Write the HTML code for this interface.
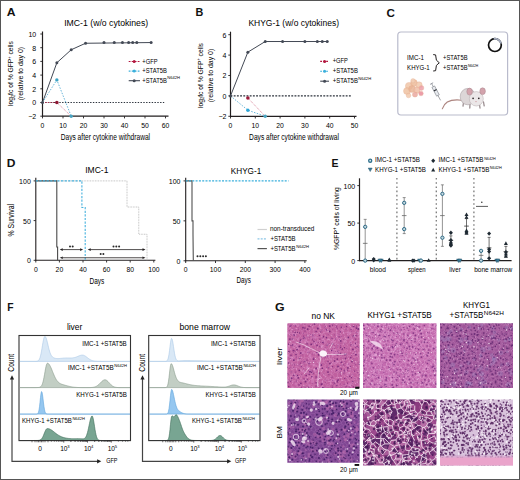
<!DOCTYPE html>
<html><head><meta charset="utf-8"><style>
html,body{margin:0;padding:0;background:#fff;}
svg{display:block;}
text{font-family:"Liberation Sans", sans-serif;}
</style></head><body>
<svg width="520" height="480" viewBox="0 0 520 480">
<rect x="0" y="0" width="520" height="480" fill="#fff"/>
<text x="6.80" y="16.30" font-size="11.5" font-weight="bold" textLength="8.80" lengthAdjust="spacingAndGlyphs" fill="#111" >A</text>
<text x="195.60" y="16.20" font-size="11.5" font-weight="bold" textLength="7.80" lengthAdjust="spacingAndGlyphs" fill="#111" >B</text>
<text x="386.60" y="16.50" font-size="11.5" font-weight="bold" textLength="8.40" lengthAdjust="spacingAndGlyphs" fill="#111" >C</text>
<text x="6.80" y="166.60" font-size="11.5" font-weight="bold" textLength="8.70" lengthAdjust="spacingAndGlyphs" fill="#111" >D</text>
<text x="331.60" y="166.70" font-size="11.5" font-weight="bold" textLength="7.00" lengthAdjust="spacingAndGlyphs" fill="#111" >E</text>
<text x="7.20" y="310.90" font-size="11.5" font-weight="bold" textLength="6.30" lengthAdjust="spacingAndGlyphs" fill="#111" >F</text>
<text x="275.00" y="311.00" font-size="11.5" font-weight="bold" textLength="9.60" lengthAdjust="spacingAndGlyphs" fill="#111" >G</text>
<text x="64.20" y="26.20" font-size="9.2" textLength="84.00" lengthAdjust="spacingAndGlyphs" >IMC-1 (w/o cytokines)</text>
<line x1="42.50" y1="31.50" x2="42.50" y2="116.70" stroke="#231f20" stroke-width="1.2" />
<line x1="42.00" y1="116.20" x2="168.50" y2="116.20" stroke="#231f20" stroke-width="1.2" />
<line x1="40.30" y1="116.20" x2="42.50" y2="116.20" stroke="#231f20" stroke-width="0.9" />
<text x="36.20" y="119.10" font-size="7.0" text-anchor="end" >&#8722;2</text>
<line x1="40.30" y1="102.50" x2="42.50" y2="102.50" stroke="#231f20" stroke-width="0.9" />
<text x="36.20" y="105.40" font-size="7.0" text-anchor="end" >0</text>
<line x1="40.30" y1="88.80" x2="42.50" y2="88.80" stroke="#231f20" stroke-width="0.9" />
<text x="36.20" y="91.70" font-size="7.0" text-anchor="end" >2</text>
<line x1="40.30" y1="75.10" x2="42.50" y2="75.10" stroke="#231f20" stroke-width="0.9" />
<text x="36.20" y="78.00" font-size="7.0" text-anchor="end" >4</text>
<line x1="40.30" y1="61.40" x2="42.50" y2="61.40" stroke="#231f20" stroke-width="0.9" />
<text x="36.20" y="64.30" font-size="7.0" text-anchor="end" >6</text>
<line x1="40.30" y1="47.70" x2="42.50" y2="47.70" stroke="#231f20" stroke-width="0.9" />
<text x="36.20" y="50.60" font-size="7.0" text-anchor="end" >8</text>
<line x1="40.30" y1="34.00" x2="42.50" y2="34.00" stroke="#231f20" stroke-width="0.9" />
<text x="36.20" y="36.90" font-size="7.0" text-anchor="end" >10</text>
<line x1="42.50" y1="116.20" x2="42.50" y2="118.40" stroke="#231f20" stroke-width="0.9" />
<text x="42.50" y="127.60" font-size="6.8" text-anchor="middle" >0</text>
<line x1="63.00" y1="116.20" x2="63.00" y2="118.40" stroke="#231f20" stroke-width="0.9" />
<text x="63.00" y="127.60" font-size="6.8" text-anchor="middle" >10</text>
<line x1="83.50" y1="116.20" x2="83.50" y2="118.40" stroke="#231f20" stroke-width="0.9" />
<text x="83.50" y="127.60" font-size="6.8" text-anchor="middle" >20</text>
<line x1="104.00" y1="116.20" x2="104.00" y2="118.40" stroke="#231f20" stroke-width="0.9" />
<text x="104.00" y="127.60" font-size="6.8" text-anchor="middle" >30</text>
<line x1="124.50" y1="116.20" x2="124.50" y2="118.40" stroke="#231f20" stroke-width="0.9" />
<text x="124.50" y="127.60" font-size="6.8" text-anchor="middle" >40</text>
<line x1="145.00" y1="116.20" x2="145.00" y2="118.40" stroke="#231f20" stroke-width="0.9" />
<text x="145.00" y="127.60" font-size="6.8" text-anchor="middle" >50</text>
<line x1="165.50" y1="116.20" x2="165.50" y2="118.40" stroke="#231f20" stroke-width="0.9" />
<text x="165.50" y="127.60" font-size="6.8" text-anchor="middle" >60</text>
<text x="60.70" y="139.60" font-size="8.4" textLength="89.40" lengthAdjust="spacingAndGlyphs" >Days after cytokine withdrawal</text>
<text x="13.30" y="73.60" font-size="7.8" text-anchor="middle" textLength="65.00" lengthAdjust="spacingAndGlyphs" transform="rotate(-90 13.30 73.60)" >log<tspan font-size="4.5" dy="1.5">2</tspan><tspan dy="-1.5">fc of % GFP</tspan><tspan font-size="4.5" dy="-2.5">+</tspan><tspan dy="2.5"> cells</tspan></text>
<text x="23.50" y="73.60" font-size="7.8" text-anchor="middle" textLength="53.50" lengthAdjust="spacingAndGlyphs" transform="rotate(-90 23.50 73.60)" >(relative to day 0)</text>
<line x1="42.50" y1="102.50" x2="164.20" y2="102.50" stroke="#2d333d" stroke-width="1.1" stroke-dasharray="1.4 1.4"/>
<polyline points="42.50,102.50 56.85,62.77 71.20,49.76 85.55,43.25 151.15,42.56" fill="none" stroke="#434955" stroke-width="1.0" />
<polyline points="42.50,102.50 56.85,79.90 71.20,116.20" fill="none" stroke="#6ab6da" stroke-width="1.0" stroke-dasharray="1.5 1.4"/>
<polyline points="42.50,102.50 56.85,102.50" fill="none" stroke="#b0304f" stroke-width="1.1" stroke-dasharray="1.3 1.3"/>
<line x1="56.85" y1="102.50" x2="71.20" y2="116.20" stroke="#d06a84" stroke-width="0.8" stroke-dasharray="1 1"/>
<circle cx="56.85" cy="62.77" r="1.5" fill="#434955" stroke="none" stroke-width="0"/>
<circle cx="71.20" cy="49.76" r="1.5" fill="#434955" stroke="none" stroke-width="0"/>
<circle cx="85.55" cy="43.25" r="1.5" fill="#434955" stroke="none" stroke-width="0"/>
<circle cx="104.00" cy="42.56" r="1.5" fill="#434955" stroke="none" stroke-width="0"/>
<circle cx="114.25" cy="42.56" r="1.5" fill="#434955" stroke="none" stroke-width="0"/>
<circle cx="122.45" cy="42.56" r="1.5" fill="#434955" stroke="none" stroke-width="0"/>
<circle cx="128.60" cy="42.56" r="1.5" fill="#434955" stroke="none" stroke-width="0"/>
<circle cx="132.70" cy="42.56" r="1.5" fill="#434955" stroke="none" stroke-width="0"/>
<circle cx="136.80" cy="42.56" r="1.5" fill="#434955" stroke="none" stroke-width="0"/>
<circle cx="151.15" cy="42.56" r="1.5" fill="#434955" stroke="none" stroke-width="0"/>
<circle cx="42.50" cy="102.50" r="1.5" fill="#434955" stroke="none" stroke-width="0"/>
<circle cx="56.85" cy="79.90" r="1.7" fill="#3ba3c4" stroke="none" stroke-width="0"/>
<circle cx="71.20" cy="116.20" r="1.7" fill="#4aa3c0" stroke="none" stroke-width="0"/>
<circle cx="56.85" cy="102.50" r="1.8" fill="#8e1733" stroke="none" stroke-width="0"/>
<line x1="128.70" y1="61.50" x2="140.00" y2="61.50" stroke="#b3173f" stroke-width="1.1" stroke-dasharray="1.8 1.2"/>
<circle cx="134.20" cy="61.50" r="1.5" fill="#b3173f" stroke="none" stroke-width="0"/>
<text x="142.30" y="63.50" font-size="6.8" textLength="15.20" lengthAdjust="spacingAndGlyphs" >+GFP</text>
<line x1="128.70" y1="71.10" x2="140.00" y2="71.10" stroke="#3bb0dc" stroke-width="1.1" stroke-dasharray="1.8 1.2"/>
<circle cx="134.20" cy="71.10" r="1.5" fill="#3bb0dc" stroke="none" stroke-width="0"/>
<text x="142.30" y="73.10" font-size="6.8" textLength="24.60" lengthAdjust="spacingAndGlyphs" >+STAT5B</text>
<line x1="128.70" y1="80.70" x2="140.00" y2="80.70" stroke="#434955" stroke-width="1.1" />
<circle cx="134.20" cy="80.70" r="1.5" fill="#434955" stroke="none" stroke-width="0"/>
<text x="142.30" y="82.70" font-size="6.8" textLength="24.60" lengthAdjust="spacingAndGlyphs" >+STAT5B</text>
<text x="167.20" y="79.30" font-size="3.6" textLength="12.80" lengthAdjust="spacingAndGlyphs" >N642H</text>
<text x="248.40" y="26.00" font-size="9.2" textLength="90.60" lengthAdjust="spacingAndGlyphs" >KHYG-1 (w/o cytokines)</text>
<line x1="230.50" y1="31.70" x2="230.50" y2="116.80" stroke="#231f20" stroke-width="1.2" />
<line x1="230.00" y1="116.30" x2="356.50" y2="116.30" stroke="#231f20" stroke-width="1.2" />
<line x1="228.30" y1="116.30" x2="230.50" y2="116.30" stroke="#231f20" stroke-width="0.9" />
<text x="226.50" y="119.20" font-size="7.0" text-anchor="end" >&#8722;2</text>
<line x1="228.30" y1="95.90" x2="230.50" y2="95.90" stroke="#231f20" stroke-width="0.9" />
<text x="226.50" y="98.80" font-size="7.0" text-anchor="end" >0</text>
<line x1="228.30" y1="75.50" x2="230.50" y2="75.50" stroke="#231f20" stroke-width="0.9" />
<text x="226.50" y="78.40" font-size="7.0" text-anchor="end" >2</text>
<line x1="228.30" y1="55.10" x2="230.50" y2="55.10" stroke="#231f20" stroke-width="0.9" />
<text x="226.50" y="58.00" font-size="7.0" text-anchor="end" >4</text>
<line x1="228.30" y1="34.70" x2="230.50" y2="34.70" stroke="#231f20" stroke-width="0.9" />
<text x="226.50" y="37.60" font-size="7.0" text-anchor="end" >6</text>
<line x1="230.50" y1="116.30" x2="230.50" y2="118.50" stroke="#231f20" stroke-width="0.9" />
<text x="230.50" y="127.60" font-size="6.8" text-anchor="middle" >0</text>
<line x1="255.30" y1="116.30" x2="255.30" y2="118.50" stroke="#231f20" stroke-width="0.9" />
<text x="255.30" y="127.60" font-size="6.8" text-anchor="middle" >10</text>
<line x1="280.10" y1="116.30" x2="280.10" y2="118.50" stroke="#231f20" stroke-width="0.9" />
<text x="280.10" y="127.60" font-size="6.8" text-anchor="middle" >20</text>
<line x1="304.90" y1="116.30" x2="304.90" y2="118.50" stroke="#231f20" stroke-width="0.9" />
<text x="304.90" y="127.60" font-size="6.8" text-anchor="middle" >30</text>
<line x1="329.70" y1="116.30" x2="329.70" y2="118.50" stroke="#231f20" stroke-width="0.9" />
<text x="329.70" y="127.60" font-size="6.8" text-anchor="middle" >40</text>
<line x1="354.50" y1="116.30" x2="354.50" y2="118.50" stroke="#231f20" stroke-width="0.9" />
<text x="354.50" y="127.60" font-size="6.8" text-anchor="middle" >50</text>
<text x="249.10" y="139.60" font-size="8.4" textLength="89.90" lengthAdjust="spacingAndGlyphs" >Days after cytokine withdrawal</text>
<text x="202.90" y="75.50" font-size="7.8" text-anchor="middle" textLength="65.00" lengthAdjust="spacingAndGlyphs" transform="rotate(-90 202.90 75.50)" >log<tspan font-size="4.5" dy="1.5">2</tspan><tspan dy="-1.5">fc of % GFP</tspan><tspan font-size="4.5" dy="-2.5">+</tspan><tspan dy="2.5"> cells</tspan></text>
<text x="213.20" y="75.50" font-size="7.8" text-anchor="middle" textLength="53.50" lengthAdjust="spacingAndGlyphs" transform="rotate(-90 213.20 75.50)" >(relative to day 0)</text>
<line x1="230.50" y1="95.90" x2="351.90" y2="95.90" stroke="#2d333d" stroke-width="1.15" stroke-dasharray="1.9 1.3"/>
<polyline points="230.50,95.90 247.86,52.14 265.22,41.53 327.22,41.53" fill="none" stroke="#434955" stroke-width="1.0" />
<polyline points="230.50,95.90 247.86,110.18 265.22,116.30" fill="none" stroke="#6ab6da" stroke-width="1.0" stroke-dasharray="1.5 1.4"/>
<line x1="247.86" y1="97.94" x2="265.22" y2="116.30" stroke="#d06a84" stroke-width="0.8" stroke-dasharray="1 1"/>
<circle cx="230.50" cy="95.90" r="1.5" fill="#434955" stroke="none" stroke-width="0"/>
<circle cx="247.86" cy="52.14" r="1.5" fill="#434955" stroke="none" stroke-width="0"/>
<circle cx="265.22" cy="41.53" r="1.5" fill="#434955" stroke="none" stroke-width="0"/>
<circle cx="282.58" cy="41.53" r="1.5" fill="#434955" stroke="none" stroke-width="0"/>
<circle cx="304.90" cy="41.53" r="1.5" fill="#434955" stroke="none" stroke-width="0"/>
<circle cx="317.30" cy="41.53" r="1.5" fill="#434955" stroke="none" stroke-width="0"/>
<circle cx="322.26" cy="41.53" r="1.5" fill="#434955" stroke="none" stroke-width="0"/>
<circle cx="327.22" cy="41.53" r="1.5" fill="#434955" stroke="none" stroke-width="0"/>
<circle cx="247.86" cy="110.18" r="1.7" fill="#2ea6d6" stroke="none" stroke-width="0"/>
<circle cx="265.22" cy="116.30" r="1.7" fill="#4aa3c0" stroke="none" stroke-width="0"/>
<circle cx="247.86" cy="97.94" r="1.8" fill="#9c1a3b" stroke="none" stroke-width="0"/>
<line x1="320.20" y1="61.40" x2="329.00" y2="61.40" stroke="#b3173f" stroke-width="1.1" stroke-dasharray="1.8 1.2"/>
<circle cx="324.60" cy="61.40" r="1.5" fill="#b3173f" stroke="none" stroke-width="0"/>
<text x="332.70" y="63.40" font-size="6.8" textLength="15.10" lengthAdjust="spacingAndGlyphs" >+GFP</text>
<line x1="320.20" y1="71.30" x2="329.00" y2="71.30" stroke="#3bb0dc" stroke-width="1.1" stroke-dasharray="1.8 1.2"/>
<circle cx="324.60" cy="71.30" r="1.5" fill="#3bb0dc" stroke="none" stroke-width="0"/>
<text x="332.70" y="73.30" font-size="6.8" textLength="25.20" lengthAdjust="spacingAndGlyphs" >+STAT5B</text>
<line x1="320.20" y1="81.20" x2="329.00" y2="81.20" stroke="#434955" stroke-width="1.1" />
<circle cx="324.60" cy="81.20" r="1.5" fill="#434955" stroke="none" stroke-width="0"/>
<text x="332.70" y="83.20" font-size="6.8" textLength="25.20" lengthAdjust="spacingAndGlyphs" >+STAT5B</text>
<text x="358.30" y="79.80" font-size="3.6" textLength="12.80" lengthAdjust="spacingAndGlyphs" >N642H</text>
<rect x="397.8" y="32" width="109.8" height="83" rx="3.2" fill="#fff" stroke="#b9bbcc" stroke-width="1.2"/>
<circle cx="494.90" cy="45.10" r="6.4" fill="none" stroke="#111" stroke-width="1.7"/>
<path d="M493.79,38.80 A6.4,6.4 0 0 1 501.08,43.44" fill="none" stroke="#a3abbd" stroke-width="1.8"/>
<text x="407.10" y="60.20" font-size="6.6" textLength="16.80" lengthAdjust="spacingAndGlyphs" >IMC-1</text>
<text x="407.10" y="69.70" font-size="6.6" textLength="22.60" lengthAdjust="spacingAndGlyphs" >KHYG-1</text>
<path d="M433.2,54.6 L435.6,54.9 L436.4,60.2 L439.3,62.8 L436.4,65.4 L435.6,70.7 L433.2,71" fill="none" stroke="#231f20" stroke-width="1.0" stroke-linejoin="round"/>
<text x="443.10" y="60.20" font-size="6.6" textLength="24.40" lengthAdjust="spacingAndGlyphs" >+STAT5B</text>
<text x="443.10" y="69.90" font-size="6.6" textLength="24.40" lengthAdjust="spacingAndGlyphs" >+STAT5B</text>
<text x="467.90" y="67.00" font-size="3.6" textLength="10.30" lengthAdjust="spacingAndGlyphs" >N642H</text>
<circle cx="409" cy="86" r="3.6" fill="#f0c6a8" stroke="#e3a98c" stroke-width="0.4" opacity="0.85" filter="url(#bl)"/>
<circle cx="414" cy="83" r="3.4" fill="#eebd9c" stroke="#e3a98c" stroke-width="0.4" opacity="0.85" filter="url(#bl)"/>
<circle cx="419" cy="85" r="3.2" fill="#f2c8ac" stroke="#e3a98c" stroke-width="0.4" opacity="0.85" filter="url(#bl)"/>
<circle cx="407" cy="91" r="3.5" fill="#efc2a2" stroke="#e3a98c" stroke-width="0.4" opacity="0.85" filter="url(#bl)"/>
<circle cx="412" cy="89" r="3.4" fill="#e9b496" stroke="#e3a98c" stroke-width="0.4" opacity="0.85" filter="url(#bl)"/>
<circle cx="417" cy="90" r="3.2" fill="#f0bfa8" stroke="#e3a98c" stroke-width="0.4" opacity="0.85" filter="url(#bl)"/>
<circle cx="421.5" cy="88" r="2.4" fill="#eda0aa" stroke="#e3a98c" stroke-width="0.4" opacity="0.85" filter="url(#bl)"/>
<circle cx="421" cy="93.5" r="2.3" fill="#e98d9b" stroke="#e3a98c" stroke-width="0.4" opacity="0.85" filter="url(#bl)"/>
<circle cx="415" cy="94.5" r="2.6" fill="#eba9a0" stroke="#e3a98c" stroke-width="0.4" opacity="0.85" filter="url(#bl)"/>
<circle cx="408.5" cy="95.5" r="2.3" fill="#f1c9ad" stroke="#e3a98c" stroke-width="0.4" opacity="0.85" filter="url(#bl)"/>
<circle cx="413" cy="80.8" r="2.2" fill="#f3d0b7" stroke="#e3a98c" stroke-width="0.4" opacity="0.85" filter="url(#bl)"/>
<g transform="rotate(-28 436 92)"><rect x="434.6" y="86" width="3" height="10" fill="#e8ebef" stroke="#6b6f78" stroke-width="0.5"/><rect x="434.6" y="89.5" width="3" height="1.2" fill="#2a2d33"/><line x1="436.1" y1="82.5" x2="436.1" y2="86" stroke="#8a8e96" stroke-width="0.7"/><line x1="434.4" y1="82.5" x2="437.8" y2="82.5" stroke="#8a8e96" stroke-width="0.8"/><line x1="436.1" y1="96" x2="436.1" y2="101.5" stroke="#4a4d55" stroke-width="0.45"/></g>
<path d="M442.3,108.8 C444.5,101.5 451,99 461.5,100.2" fill="none" stroke="#ad8580" stroke-width="1.1" stroke-linecap="round"/>
<g stroke="#9a8d90" stroke-width="1.3" stroke-linecap="round"><path d="M463.5,102.5 L463,106.2 M470,104 L469.8,108 M479.5,104.5 L480,108 M483.5,102 L484.2,105.8"/></g>
<ellipse cx="467.8" cy="96.6" rx="7.6" ry="8.2" fill="#dcd6d7" stroke="#aaa0a2" stroke-width="0.6"/>
<ellipse cx="476.3" cy="98.8" rx="7.0" ry="7.2" fill="#ebe7e8" stroke="#b5abad" stroke-width="0.5"/>
<ellipse cx="469.6" cy="91.6" rx="2.8" ry="3.5" fill="#d3a3ac" stroke="#a8878e" stroke-width="0.5"/>
<ellipse cx="482.6" cy="91.2" rx="2.8" ry="3.4" fill="#d3a3ac" stroke="#a8878e" stroke-width="0.5"/>
<circle cx="473.10" cy="98.30" r="0.85" fill="#2e2628" stroke="none" stroke-width="0"/>
<circle cx="478.80" cy="98.30" r="0.85" fill="#2e2628" stroke="none" stroke-width="0"/>
<circle cx="476.00" cy="101.60" r="0.6" fill="#c98d96" stroke="none" stroke-width="0"/>
<text x="85.20" y="172.60" font-size="9.4" textLength="23.20" lengthAdjust="spacingAndGlyphs" >IMC-1</text>
<line x1="35.80" y1="177.80" x2="35.80" y2="260.80" stroke="#231f20" stroke-width="1.1" />
<line x1="35.30" y1="260.30" x2="155.40" y2="260.30" stroke="#231f20" stroke-width="1.1" />
<line x1="33.60" y1="260.30" x2="35.80" y2="260.30" stroke="#231f20" stroke-width="0.9" />
<text x="30.80" y="263.20" font-size="7.0" text-anchor="end" >0</text>
<line x1="33.60" y1="220.60" x2="35.80" y2="220.60" stroke="#231f20" stroke-width="0.9" />
<text x="30.80" y="223.50" font-size="7.0" text-anchor="end" >50</text>
<line x1="33.60" y1="180.90" x2="35.80" y2="180.90" stroke="#231f20" stroke-width="0.9" />
<text x="30.80" y="183.80" font-size="7.0" text-anchor="end" >100</text>
<line x1="35.80" y1="260.30" x2="35.80" y2="262.50" stroke="#231f20" stroke-width="0.9" />
<text x="35.80" y="271.70" font-size="6.8" text-anchor="middle" >0</text>
<line x1="59.40" y1="260.30" x2="59.40" y2="262.50" stroke="#231f20" stroke-width="0.9" />
<text x="59.40" y="271.70" font-size="6.8" text-anchor="middle" >20</text>
<line x1="83.00" y1="260.30" x2="83.00" y2="262.50" stroke="#231f20" stroke-width="0.9" />
<text x="83.00" y="271.70" font-size="6.8" text-anchor="middle" >40</text>
<line x1="106.60" y1="260.30" x2="106.60" y2="262.50" stroke="#231f20" stroke-width="0.9" />
<text x="106.60" y="271.70" font-size="6.8" text-anchor="middle" >60</text>
<line x1="130.20" y1="260.30" x2="130.20" y2="262.50" stroke="#231f20" stroke-width="0.9" />
<text x="130.20" y="271.70" font-size="6.8" text-anchor="middle" >80</text>
<line x1="153.80" y1="260.30" x2="153.80" y2="262.50" stroke="#231f20" stroke-width="0.9" />
<text x="153.80" y="271.70" font-size="6.8" text-anchor="middle" >100</text>
<text x="89.50" y="283.60" font-size="8.2" textLength="14.80" lengthAdjust="spacingAndGlyphs" >Days</text>
<text x="14.40" y="220.20" font-size="8.7" text-anchor="middle" textLength="32.50" lengthAdjust="spacingAndGlyphs" transform="rotate(-90 14.40 220.20)" >% Survival</text>
<polyline points="35.80,180.90 127.00,180.90 127.00,207.00 138.75,207.00 138.75,234.25 147.00,234.25 147.00,260.30" fill="none" stroke="#b3b3b3" stroke-width="0.9" stroke-dasharray="0.8 0.8"/>
<polyline points="35.80,180.90 56.80,180.90 56.80,247.00 57.60,247.00 57.60,260.30" fill="none" stroke="#4a4a4a" stroke-width="1.1" />
<polyline points="35.80,180.90 81.90,180.90 81.90,207.50 85.20,207.50 85.20,260.30" fill="none" stroke="#47b2de" stroke-width="1.1" stroke-dasharray="2.2 1.4"/>
<line x1="62.25" y1="249.60" x2="80.60" y2="249.60" stroke="#231f20" stroke-width="0.8" />
<path d="M83.10,249.60 L80.10,248.30 L80.10,250.90Z" fill="#231f20"/>
<path d="M59.75,249.60 L62.75,248.30 L62.75,250.90Z" fill="#231f20"/>
<line x1="90.25" y1="249.60" x2="143.00" y2="249.60" stroke="#231f20" stroke-width="0.8" />
<path d="M145.50,249.60 L142.50,248.30 L142.50,250.90Z" fill="#231f20"/>
<path d="M87.75,249.60 L90.75,248.30 L90.75,250.90Z" fill="#231f20"/>
<line x1="62.25" y1="257.75" x2="143.00" y2="257.75" stroke="#231f20" stroke-width="0.8" />
<path d="M145.50,257.75 L142.50,256.45 L142.50,259.05Z" fill="#231f20"/>
<path d="M59.75,257.75 L62.75,256.45 L62.75,259.05Z" fill="#231f20"/>
<circle cx="70.00" cy="246.40" r="1.0" fill="#2a2a2a" stroke="none" stroke-width="0"/>
<circle cx="72.70" cy="246.40" r="1.0" fill="#2a2a2a" stroke="none" stroke-width="0"/>
<circle cx="113.50" cy="246.50" r="1.0" fill="#2a2a2a" stroke="none" stroke-width="0"/>
<circle cx="116.30" cy="246.50" r="1.0" fill="#2a2a2a" stroke="none" stroke-width="0"/>
<circle cx="119.10" cy="246.50" r="1.0" fill="#2a2a2a" stroke="none" stroke-width="0"/>
<circle cx="100.70" cy="254.10" r="1.0" fill="#2a2a2a" stroke="none" stroke-width="0"/>
<circle cx="103.40" cy="254.10" r="1.0" fill="#2a2a2a" stroke="none" stroke-width="0"/>
<text x="230.80" y="173.60" font-size="9.2" textLength="30.40" lengthAdjust="spacingAndGlyphs" >KHYG-1</text>
<line x1="185.70" y1="177.80" x2="185.70" y2="261.30" stroke="#231f20" stroke-width="1.1" />
<line x1="185.20" y1="260.80" x2="306.70" y2="260.80" stroke="#231f20" stroke-width="1.1" />
<line x1="183.50" y1="260.80" x2="185.70" y2="260.80" stroke="#231f20" stroke-width="0.9" />
<text x="180.50" y="263.70" font-size="7.0" text-anchor="end" >0</text>
<line x1="183.50" y1="220.85" x2="185.70" y2="220.85" stroke="#231f20" stroke-width="0.9" />
<text x="180.50" y="223.75" font-size="7.0" text-anchor="end" >50</text>
<line x1="183.50" y1="180.90" x2="185.70" y2="180.90" stroke="#231f20" stroke-width="0.9" />
<text x="180.50" y="183.80" font-size="7.0" text-anchor="end" >100</text>
<line x1="185.70" y1="260.80" x2="185.70" y2="263.00" stroke="#231f20" stroke-width="0.9" />
<text x="185.70" y="271.70" font-size="6.8" text-anchor="middle" >0</text>
<line x1="215.50" y1="260.80" x2="215.50" y2="263.00" stroke="#231f20" stroke-width="0.9" />
<text x="215.50" y="271.70" font-size="6.8" text-anchor="middle" >100</text>
<line x1="245.30" y1="260.80" x2="245.30" y2="263.00" stroke="#231f20" stroke-width="0.9" />
<text x="245.30" y="271.70" font-size="6.8" text-anchor="middle" >200</text>
<line x1="275.10" y1="260.80" x2="275.10" y2="263.00" stroke="#231f20" stroke-width="0.9" />
<text x="275.10" y="271.70" font-size="6.8" text-anchor="middle" >300</text>
<line x1="304.90" y1="260.80" x2="304.90" y2="263.00" stroke="#231f20" stroke-width="0.9" />
<text x="304.90" y="271.70" font-size="6.8" text-anchor="middle" >400</text>
<text x="236.40" y="283.40" font-size="8.2" textLength="14.40" lengthAdjust="spacingAndGlyphs" >Days</text>
<polyline points="185.70,180.90 192.00,180.90 192.00,220.85 193.00,220.85 193.00,234.43 193.30,260.80" fill="none" stroke="#505050" stroke-width="1.1" />
<polyline points="185.70,180.90 288.51,180.90" fill="none" stroke="#3bb0dc" stroke-width="1.1" stroke-dasharray="2 1.3"/>
<circle cx="197.50" cy="256.20" r="1.0" fill="#2a2a2a" stroke="none" stroke-width="0"/>
<circle cx="200.30" cy="256.20" r="1.0" fill="#2a2a2a" stroke="none" stroke-width="0"/>
<circle cx="203.10" cy="256.20" r="1.0" fill="#2a2a2a" stroke="none" stroke-width="0"/>
<circle cx="205.90" cy="256.20" r="1.0" fill="#2a2a2a" stroke="none" stroke-width="0"/>
<line x1="257.50" y1="229.50" x2="266.90" y2="229.50" stroke="#d0d0d0" stroke-width="1.2" />
<text x="270.00" y="231.45" font-size="6.5" textLength="44.40" lengthAdjust="spacingAndGlyphs" >non-transduced</text>
<line x1="257.50" y1="238.80" x2="266.90" y2="238.80" stroke="#8cc6e6" stroke-width="1.2" stroke-dasharray="2 1.2"/>
<text x="270.40" y="240.75" font-size="6.5" textLength="25.20" lengthAdjust="spacingAndGlyphs" >+STAT5B</text>
<line x1="257.50" y1="248.60" x2="266.90" y2="248.60" stroke="#555" stroke-width="1.2" />
<text x="270.40" y="250.55" font-size="6.5" textLength="25.20" lengthAdjust="spacingAndGlyphs" >+STAT5B</text>
<text x="296.20" y="248.30" font-size="3.6" textLength="12.80" lengthAdjust="spacingAndGlyphs" >N642H</text>
<line x1="359.50" y1="178.30" x2="359.50" y2="261.10" stroke="#231f20" stroke-width="1.2" />
<line x1="359.00" y1="260.60" x2="511.60" y2="260.60" stroke="#231f20" stroke-width="1.2" />
<line x1="357.30" y1="260.60" x2="359.50" y2="260.60" stroke="#231f20" stroke-width="0.9" />
<text x="355.20" y="263.50" font-size="7.0" text-anchor="end" >0</text>
<line x1="357.30" y1="223.10" x2="359.50" y2="223.10" stroke="#231f20" stroke-width="0.9" />
<text x="355.20" y="226.00" font-size="7.0" text-anchor="end" >50</text>
<line x1="357.30" y1="185.60" x2="359.50" y2="185.60" stroke="#231f20" stroke-width="0.9" />
<text x="355.20" y="188.50" font-size="7.0" text-anchor="end" >100</text>
<line x1="396.90" y1="178.00" x2="396.90" y2="260.00" stroke="#7a7a7a" stroke-width="1.3" stroke-dasharray="1.6 2.6"/>
<line x1="436.30" y1="178.00" x2="436.30" y2="260.00" stroke="#7a7a7a" stroke-width="1.3" stroke-dasharray="1.6 2.6"/>
<line x1="473.90" y1="178.00" x2="473.90" y2="260.00" stroke="#7a7a7a" stroke-width="1.3" stroke-dasharray="1.6 2.6"/>
<text x="369.80" y="271.60" font-size="6.8" textLength="16.10" lengthAdjust="spacingAndGlyphs" >blood</text>
<text x="408.00" y="271.60" font-size="6.8" textLength="17.70" lengthAdjust="spacingAndGlyphs" >spleen</text>
<text x="449.30" y="271.60" font-size="6.8" textLength="11.50" lengthAdjust="spacingAndGlyphs" >liver</text>
<text x="474.20" y="271.60" font-size="6.8" textLength="38.10" lengthAdjust="spacingAndGlyphs" >bone marrow</text>
<text x="339.00" y="218.60" font-size="7.8" text-anchor="middle" textLength="63.00" lengthAdjust="spacingAndGlyphs" transform="rotate(-90 339.00 218.60)" >%GFP<tspan font-size="4.8" dy="-2.8">+</tspan><tspan dy="2.8"> cells of living</tspan></text>
<line x1="365.20" y1="219.35" x2="365.20" y2="260.60" stroke="#666" stroke-width="0.7" />
<line x1="363.70" y1="219.35" x2="366.70" y2="219.35" stroke="#666" stroke-width="0.7" />
<line x1="363.70" y1="260.60" x2="366.70" y2="260.60" stroke="#666" stroke-width="0.7" />
<line x1="362.90" y1="243.35" x2="367.50" y2="243.35" stroke="#666" stroke-width="0.8" />
<circle cx="365.20" cy="226.85" r="1.65" fill="#c3d8e0" stroke="#2f6a85" stroke-width="1.0"/>
<circle cx="365.20" cy="260.60" r="1.65" fill="#c3d8e0" stroke="#2f6a85" stroke-width="1.0"/>
<path d="M373.70,256.90 L375.70,259.10 L373.70,261.30 L371.70,259.10Z" fill="#1f2a33"/>
<path d="M373.70,258.03 L375.70,260.23 L373.70,262.43 L371.70,260.23Z" fill="#1f2a33"/>
<path d="M379.30,259.00 L383.30,259.00 L381.30,262.60Z" fill="#3a7d9c" stroke="#1e4a5e" stroke-width="0.4"/>
<path d="M377.80,259.00 L381.80,259.00 L379.80,262.60Z" fill="#3a7d9c" stroke="#1e4a5e" stroke-width="0.4"/>
<path d="M387.30,261.08 L391.30,261.08 L389.30,257.48Z" fill="#1f2a33"/>
<path d="M387.30,261.83 L391.30,261.83 L389.30,258.23Z" fill="#1f2a33"/>
<line x1="404.20" y1="197.60" x2="404.20" y2="233.60" stroke="#666" stroke-width="0.7" />
<line x1="402.70" y1="197.60" x2="405.70" y2="197.60" stroke="#666" stroke-width="0.7" />
<line x1="402.70" y1="233.60" x2="405.70" y2="233.60" stroke="#666" stroke-width="0.7" />
<line x1="401.90" y1="215.60" x2="406.50" y2="215.60" stroke="#666" stroke-width="0.8" />
<circle cx="404.20" cy="202.85" r="1.65" fill="#c3d8e0" stroke="#2f6a85" stroke-width="1.0"/>
<circle cx="404.20" cy="229.10" r="1.65" fill="#c3d8e0" stroke="#2f6a85" stroke-width="1.0"/>
<path d="M412.60,258.40 L414.60,260.60 L412.60,262.80 L410.60,260.60Z" fill="#1f2a33"/>
<path d="M414.00,258.40 L416.00,260.60 L414.00,262.80 L412.00,260.60Z" fill="#1f2a33"/>
<path d="M417.50,259.00 L421.50,259.00 L419.50,262.60Z" fill="#3a7d9c" stroke="#1e4a5e" stroke-width="0.4"/>
<circle cx="421.00" cy="260.60" r="1.65" fill="#c3d8e0" stroke="#2f6a85" stroke-width="1.0"/>
<path d="M426.70,261.83 L430.70,261.83 L428.70,258.23Z" fill="#1f2a33"/>
<line x1="442.40" y1="184.85" x2="442.40" y2="246.35" stroke="#666" stroke-width="0.7" />
<line x1="440.90" y1="184.85" x2="443.90" y2="184.85" stroke="#666" stroke-width="0.7" />
<line x1="440.90" y1="246.35" x2="443.90" y2="246.35" stroke="#666" stroke-width="0.7" />
<line x1="440.10" y1="215.60" x2="444.70" y2="215.60" stroke="#666" stroke-width="0.8" />
<circle cx="442.40" cy="193.85" r="1.65" fill="#c3d8e0" stroke="#2f6a85" stroke-width="1.0"/>
<circle cx="442.40" cy="237.73" r="1.65" fill="#c3d8e0" stroke="#2f6a85" stroke-width="1.0"/>
<line x1="450.90" y1="235.85" x2="450.90" y2="245.60" stroke="#333" stroke-width="0.7" />
<line x1="449.40" y1="235.85" x2="452.40" y2="235.85" stroke="#333" stroke-width="0.7" />
<line x1="449.40" y1="245.60" x2="452.40" y2="245.60" stroke="#333" stroke-width="0.7" />
<line x1="448.60" y1="240.35" x2="453.20" y2="240.35" stroke="#333" stroke-width="0.8" />
<path d="M450.90,230.50 L452.90,232.70 L450.90,234.90 L448.90,232.70Z" fill="#1f2a33"/>
<path d="M450.90,238.00 L452.90,240.20 L450.90,242.40 L448.90,240.20Z" fill="#1f2a33"/>
<path d="M450.90,240.78 L452.90,242.98 L450.90,245.18 L448.90,242.98Z" fill="#1f2a33"/>
<path d="M450.90,242.28 L452.90,244.48 L450.90,246.68 L448.90,244.48Z" fill="#1f2a33"/>
<path d="M450.90,243.33 L452.90,245.53 L450.90,247.73 L448.90,245.53Z" fill="#1f2a33"/>
<path d="M456.50,259.00 L460.50,259.00 L458.50,262.60Z" fill="#3a7d9c" stroke="#1e4a5e" stroke-width="0.4"/>
<path d="M458.00,259.00 L462.00,259.00 L460.00,262.60Z" fill="#3a7d9c" stroke="#1e4a5e" stroke-width="0.4"/>
<line x1="466.50" y1="218.60" x2="466.50" y2="233.60" stroke="#333" stroke-width="0.7" />
<line x1="465.00" y1="218.60" x2="468.00" y2="218.60" stroke="#333" stroke-width="0.7" />
<line x1="465.00" y1="233.60" x2="468.00" y2="233.60" stroke="#333" stroke-width="0.7" />
<line x1="464.20" y1="226.10" x2="468.80" y2="226.10" stroke="#333" stroke-width="0.8" />
<path d="M464.50,216.08 L468.50,216.08 L466.50,212.48Z" fill="#1f2a33"/>
<path d="M464.50,218.78 L468.50,218.78 L466.50,215.18Z" fill="#1f2a33"/>
<path d="M464.50,231.98 L468.50,231.98 L466.50,228.38Z" fill="#1f2a33"/>
<path d="M464.50,233.33 L468.50,233.33 L466.50,229.73Z" fill="#1f2a33"/>
<path d="M464.50,234.68 L468.50,234.68 L466.50,231.08Z" fill="#1f2a33"/>
<line x1="476.00" y1="206.40" x2="488.00" y2="206.40" stroke="#333" stroke-width="0.8" />
<circle cx="481.80" cy="202.30" r="0.8" fill="#333" stroke="none" stroke-width="0"/>
<line x1="481.10" y1="250.85" x2="481.10" y2="260.60" stroke="#666" stroke-width="0.7" />
<line x1="479.60" y1="250.85" x2="482.60" y2="250.85" stroke="#666" stroke-width="0.7" />
<line x1="479.60" y1="260.60" x2="482.60" y2="260.60" stroke="#666" stroke-width="0.7" />
<line x1="478.80" y1="255.35" x2="483.40" y2="255.35" stroke="#666" stroke-width="0.8" />
<circle cx="481.10" cy="250.85" r="1.65" fill="#c3d8e0" stroke="#2f6a85" stroke-width="1.0"/>
<circle cx="481.10" cy="260.60" r="1.65" fill="#c3d8e0" stroke="#2f6a85" stroke-width="1.0"/>
<line x1="489.10" y1="237.35" x2="489.10" y2="258.35" stroke="#333" stroke-width="0.7" />
<line x1="487.60" y1="237.35" x2="490.60" y2="237.35" stroke="#333" stroke-width="0.7" />
<line x1="487.60" y1="258.35" x2="490.60" y2="258.35" stroke="#333" stroke-width="0.7" />
<line x1="486.80" y1="247.85" x2="491.40" y2="247.85" stroke="#333" stroke-width="0.8" />
<path d="M489.10,231.40 L491.10,233.60 L489.10,235.80 L487.10,233.60Z" fill="#1f2a33"/>
<path d="M489.10,247.15 L491.10,249.35 L489.10,251.55 L487.10,249.35Z" fill="#1f2a33"/>
<path d="M489.10,249.40 L491.10,251.60 L489.10,253.80 L487.10,251.60Z" fill="#1f2a33"/>
<path d="M489.10,256.15 L491.10,258.35 L489.10,260.55 L487.10,258.35Z" fill="#1f2a33"/>
<path d="M494.70,259.00 L498.70,259.00 L496.70,262.60Z" fill="#3a7d9c" stroke="#1e4a5e" stroke-width="0.4"/>
<path d="M496.00,259.00 L500.00,259.00 L498.00,262.60Z" fill="#3a7d9c" stroke="#1e4a5e" stroke-width="0.4"/>
<line x1="505.90" y1="246.35" x2="505.90" y2="256.85" stroke="#333" stroke-width="0.7" />
<line x1="504.40" y1="246.35" x2="507.40" y2="246.35" stroke="#333" stroke-width="0.7" />
<line x1="504.40" y1="256.85" x2="507.40" y2="256.85" stroke="#333" stroke-width="0.7" />
<line x1="503.60" y1="251.60" x2="508.20" y2="251.60" stroke="#333" stroke-width="0.8" />
<path d="M503.90,244.95 L507.90,244.95 L505.90,241.35Z" fill="#1f2a33"/>
<path d="M503.90,253.20 L507.90,253.20 L505.90,249.60Z" fill="#1f2a33"/>
<path d="M503.90,255.45 L507.90,255.45 L505.90,251.85Z" fill="#1f2a33"/>
<path d="M503.90,257.70 L507.90,257.70 L505.90,254.10Z" fill="#1f2a33"/>
<circle cx="370.20" cy="160.70" r="1.55" fill="#d5e8ef" stroke="#2f6f8c" stroke-width="1.3"/>
<text x="375.00" y="162.40" font-size="6.3" textLength="45.00" lengthAdjust="spacingAndGlyphs" >IMC-1 +STAT5B</text>
<path d="M368.20,168.00 L372.20,168.00 L370.20,171.60Z" fill="#3a7d9c" stroke="#1e4a5e" stroke-width="0.4"/>
<text x="375.00" y="171.60" font-size="6.3" textLength="50.90" lengthAdjust="spacingAndGlyphs" >KHYG-1 +STAT5B</text>
<path d="M433.20,158.50 L435.20,160.70 L433.20,162.90 L431.20,160.70Z" fill="#1f2a33"/>
<text x="438.50" y="162.40" font-size="6.3" textLength="45.00" lengthAdjust="spacingAndGlyphs" >IMC-1 +STAT5B</text>
<text x="484.20" y="160.20" font-size="3.6" textLength="11.50" lengthAdjust="spacingAndGlyphs" >N642H</text>
<path d="M431.20,171.40 L435.20,171.40 L433.20,167.80Z" fill="#1f2a33"/>
<text x="438.50" y="171.60" font-size="6.3" textLength="50.90" lengthAdjust="spacingAndGlyphs" >KHYG-1 +STAT5B</text>
<text x="489.80" y="169.40" font-size="3.6" textLength="12.00" lengthAdjust="spacingAndGlyphs" >N642H</text>
<rect x="19" y="335.5" width="111.5" height="105.1" fill="#fff" stroke="none"/>
<rect x="148.7" y="335.5" width="111.30000000000001" height="105.1" fill="#fff" stroke="none"/>
<path d="M20.00,361.40 L20.50,361.40 L21.00,361.40 L21.50,361.40 L22.00,361.40 L22.50,361.40 L23.00,361.40 L23.50,361.40 L24.00,361.40 L24.50,361.40 L25.00,361.40 L25.50,361.40 L26.00,361.40 L26.50,361.40 L27.00,361.40 L27.50,361.40 L28.00,361.40 L28.50,361.40 L29.00,361.40 L29.50,361.40 L30.00,361.40 L30.50,361.40 L31.00,361.40 L31.50,361.40 L32.00,361.40 L32.50,361.40 L33.00,361.40 L33.50,361.39 L34.00,361.39 L34.50,361.39 L35.00,361.38 L35.50,361.37 L36.00,361.35 L36.50,361.31 L37.00,361.23 L37.50,361.09 L38.00,360.84 L38.50,360.45 L39.00,359.84 L39.50,358.93 L40.00,357.65 L40.50,355.93 L41.00,353.76 L41.50,351.16 L42.00,348.25 L42.50,345.20 L43.00,342.26 L43.50,339.70 L44.00,337.78 L44.50,336.70 L45.00,336.45 L45.50,336.81 L46.00,337.73 L46.50,339.13 L47.00,340.91 L47.50,342.94 L48.00,345.10 L48.50,347.24 L49.00,349.23 L49.50,351.02 L50.00,352.55 L50.50,353.85 L51.00,354.90 L51.50,355.74 L52.00,356.41 L52.50,356.93 L53.00,357.33 L53.50,357.64 L54.00,357.89 L54.50,358.08 L55.00,358.23 L55.50,358.35 L56.00,358.44 L56.50,358.50 L57.00,358.54 L57.50,358.56 L58.00,358.57 L58.50,358.56 L59.00,358.53 L59.50,358.50 L60.00,358.45 L60.50,358.40 L61.00,358.35 L61.50,358.29 L62.00,358.24 L62.50,358.19 L63.00,358.14 L63.50,358.09 L64.00,358.06 L64.50,358.02 L65.00,358.00 L65.50,357.99 L66.00,357.98 L66.50,357.98 L67.00,357.98 L67.50,357.98 L68.00,357.99 L68.50,358.00 L69.00,358.00 L69.50,358.01 L70.00,358.01 L70.50,358.01 L71.00,358.00 L71.50,357.98 L72.00,357.95 L72.50,357.91 L73.00,357.86 L73.50,357.78 L74.00,357.69 L74.50,357.58 L75.00,357.44 L75.50,357.29 L76.00,357.12 L76.50,356.93 L77.00,356.73 L77.50,356.52 L78.00,356.31 L78.50,356.09 L79.00,355.88 L79.50,355.68 L80.00,355.50 L80.50,355.35 L81.00,355.23 L81.50,355.14 L82.00,355.10 L82.50,355.10 L83.00,355.15 L83.50,355.26 L84.00,355.42 L84.50,355.65 L85.00,355.92 L85.50,356.24 L86.00,356.59 L86.50,356.97 L87.00,357.36 L87.50,357.75 L88.00,358.15 L88.50,358.52 L89.00,358.89 L89.50,359.22 L90.00,359.53 L90.50,359.81 L91.00,360.05 L91.50,360.27 L92.00,360.46 L92.50,360.62 L93.00,360.75 L93.50,360.86 L94.00,360.96 L94.50,361.03 L95.00,361.10 L95.50,361.15 L96.00,361.19 L96.50,361.22 L97.00,361.25 L97.50,361.27 L98.00,361.29 L98.50,361.30 L99.00,361.32 L99.50,361.33 L100.00,361.34 L100.50,361.34 L101.00,361.35 L101.50,361.36 L102.00,361.36 L102.50,361.37 L103.00,361.37 L103.50,361.37 L104.00,361.38 L104.50,361.38 L105.00,361.38 L105.50,361.38 L106.00,361.39 L106.50,361.39 L107.00,361.39 L107.50,361.39 L108.00,361.39 L108.50,361.39 L109.00,361.39 L109.50,361.40 L110.00,361.40 L110.50,361.40 L111.00,361.40 L111.50,361.40 L112.00,361.40 L112.50,361.40 L113.00,361.40 L113.50,361.40 L114.00,361.40 L114.50,361.40 L115.00,361.40 L115.50,361.40 L116.00,361.40 L116.50,361.40 L117.00,361.40 L117.50,361.40 L118.00,361.40 L118.50,361.40 L119.00,361.40 L119.50,361.40 L120.00,361.40 L120.50,361.40 L121.00,361.40 L121.50,361.40 L122.00,361.40 L122.50,361.40 L123.00,361.40 L123.50,361.40 L124.00,361.40 L124.50,361.40 L125.00,361.40 L125.50,361.40 L126.00,361.40 L126.50,361.40 L127.00,361.40 L127.50,361.40 L128.00,361.40 L128.50,361.40 L129.00,361.40 L129.50,361.40 L130.00,361.40 L130.00,361.40 L20.00,361.40Z" fill="#d9e8f6" stroke="#a9c8e6" stroke-width="0.6" stroke-linejoin="round"/>
<path d="M20.00,387.60 L20.50,387.60 L21.00,387.60 L21.50,387.60 L22.00,387.60 L22.50,387.60 L23.00,387.60 L23.50,387.60 L24.00,387.60 L24.50,387.60 L25.00,387.60 L25.50,387.60 L26.00,387.60 L26.50,387.60 L27.00,387.60 L27.50,387.60 L28.00,387.60 L28.50,387.60 L29.00,387.60 L29.50,387.60 L30.00,387.60 L30.50,387.60 L31.00,387.60 L31.50,387.59 L32.00,387.59 L32.50,387.59 L33.00,387.59 L33.50,387.59 L34.00,387.58 L34.50,387.58 L35.00,387.58 L35.50,387.57 L36.00,387.57 L36.50,387.56 L37.00,387.55 L37.50,387.53 L38.00,387.51 L38.50,387.47 L39.00,387.41 L39.50,387.31 L40.00,387.14 L40.50,386.86 L41.00,386.44 L41.50,385.80 L42.00,384.88 L42.50,383.61 L43.00,381.93 L43.50,379.84 L44.00,377.36 L44.50,374.59 L45.00,371.69 L45.50,368.89 L46.00,366.42 L46.50,364.55 L47.00,363.47 L47.50,363.23 L48.00,363.34 L48.50,363.65 L49.00,364.16 L49.50,364.84 L50.00,365.69 L50.50,366.67 L51.00,367.76 L51.50,368.93 L52.00,370.16 L52.50,371.41 L53.00,372.67 L53.50,373.90 L54.00,375.09 L54.50,376.22 L55.00,377.28 L55.50,378.26 L56.00,379.16 L56.50,379.96 L57.00,380.68 L57.50,381.31 L58.00,381.86 L58.50,382.34 L59.00,382.75 L59.50,383.11 L60.00,383.41 L60.50,383.67 L61.00,383.90 L61.50,384.10 L62.00,384.29 L62.50,384.46 L63.00,384.62 L63.50,384.77 L64.00,384.92 L64.50,385.06 L65.00,385.20 L65.50,385.35 L66.00,385.49 L66.50,385.62 L67.00,385.76 L67.50,385.90 L68.00,386.03 L68.50,386.16 L69.00,386.28 L69.50,386.40 L70.00,386.52 L70.50,386.62 L71.00,386.73 L71.50,386.82 L72.00,386.91 L72.50,386.99 L73.00,387.07 L73.50,387.13 L74.00,387.19 L74.50,387.25 L75.00,387.30 L75.50,387.34 L76.00,387.38 L76.50,387.41 L77.00,387.44 L77.50,387.47 L78.00,387.49 L78.50,387.51 L79.00,387.52 L79.50,387.54 L80.00,387.55 L80.50,387.56 L81.00,387.57 L81.50,387.57 L82.00,387.58 L82.50,387.58 L83.00,387.59 L83.50,387.59 L84.00,387.59 L84.50,387.59 L85.00,387.59 L85.50,387.60 L86.00,387.60 L86.50,387.60 L87.00,387.59 L87.50,387.59 L88.00,387.59 L88.50,387.59 L89.00,387.58 L89.50,387.57 L90.00,387.56 L90.50,387.55 L91.00,387.52 L91.50,387.49 L92.00,387.46 L92.50,387.41 L93.00,387.34 L93.50,387.26 L94.00,387.15 L94.50,387.02 L95.00,386.87 L95.50,386.68 L96.00,386.45 L96.50,386.19 L97.00,385.88 L97.50,385.54 L98.00,385.15 L98.50,384.73 L99.00,384.27 L99.50,383.78 L100.00,383.28 L100.50,382.77 L101.00,382.26 L101.50,381.76 L102.00,381.29 L102.50,380.87 L103.00,380.50 L103.50,380.20 L104.00,379.98 L104.50,379.85 L105.00,379.80 L105.50,379.86 L106.00,380.02 L106.50,380.28 L107.00,380.64 L107.50,381.07 L108.00,381.56 L108.50,382.09 L109.00,382.64 L109.50,383.21 L110.00,383.76 L110.50,384.29 L111.00,384.79 L111.50,385.24 L112.00,385.66 L112.50,386.02 L113.00,386.33 L113.50,386.59 L114.00,386.81 L114.50,387.00 L115.00,387.14 L115.50,387.26 L116.00,387.35 L116.50,387.42 L117.00,387.47 L117.50,387.51 L118.00,387.54 L118.50,387.56 L119.00,387.57 L119.50,387.58 L120.00,387.59 L120.50,387.59 L121.00,387.59 L121.50,387.60 L122.00,387.60 L122.50,387.60 L123.00,387.60 L123.50,387.60 L124.00,387.60 L124.50,387.60 L125.00,387.60 L125.50,387.60 L126.00,387.60 L126.50,387.60 L127.00,387.60 L127.50,387.60 L128.00,387.60 L128.50,387.60 L129.00,387.60 L129.50,387.60 L130.00,387.60 L130.00,387.60 L20.00,387.60Z" fill="#c2cec4" stroke="#86988a" stroke-width="0.6" stroke-linejoin="round"/>
<path d="M20.00,414.10 L20.50,414.10 L21.00,414.10 L21.50,414.10 L22.00,414.10 L22.50,414.10 L23.00,414.10 L23.50,414.10 L24.00,414.10 L24.50,414.10 L25.00,414.10 L25.50,414.10 L26.00,414.10 L26.50,414.10 L27.00,414.10 L27.50,414.10 L28.00,414.10 L28.50,414.10 L29.00,414.10 L29.50,414.10 L30.00,414.10 L30.50,414.10 L31.00,414.10 L31.50,414.10 L32.00,414.10 L32.50,414.10 L33.00,414.10 L33.50,414.10 L34.00,414.10 L34.50,414.10 L35.00,414.10 L35.50,414.10 L36.00,414.09 L36.50,414.07 L37.00,414.00 L37.50,413.79 L38.00,413.27 L38.50,412.15 L39.00,410.07 L39.50,406.76 L40.00,402.34 L40.50,397.50 L41.00,393.48 L41.50,391.56 L42.00,392.20 L42.50,394.81 L43.00,398.69 L43.50,402.93 L44.00,406.76 L44.50,409.73 L45.00,411.74 L45.50,412.94 L46.00,413.58 L46.50,413.89 L47.00,414.02 L47.50,414.07 L48.00,414.09 L48.50,414.10 L49.00,414.10 L49.50,414.10 L50.00,414.10 L50.50,414.10 L51.00,414.10 L51.50,414.10 L52.00,414.10 L52.50,414.10 L53.00,414.10 L53.50,414.10 L54.00,414.10 L54.50,414.10 L55.00,414.10 L55.50,414.10 L56.00,414.10 L56.50,414.10 L57.00,414.10 L57.50,414.10 L58.00,414.10 L58.50,414.10 L59.00,414.10 L59.50,414.10 L60.00,414.10 L60.50,414.10 L61.00,414.10 L61.50,414.10 L62.00,414.10 L62.50,414.10 L63.00,414.10 L63.50,414.10 L64.00,414.10 L64.50,414.10 L65.00,414.10 L65.50,414.10 L66.00,414.10 L66.50,414.10 L67.00,414.10 L67.50,414.10 L68.00,414.10 L68.50,414.10 L69.00,414.10 L69.50,414.10 L70.00,414.10 L70.50,414.10 L71.00,414.10 L71.50,414.10 L72.00,414.10 L72.50,414.10 L73.00,414.10 L73.50,414.10 L74.00,414.10 L74.50,414.10 L75.00,414.10 L75.50,414.10 L76.00,414.10 L76.50,414.10 L77.00,414.10 L77.50,414.10 L78.00,414.10 L78.50,414.10 L79.00,414.10 L79.50,414.10 L80.00,414.10 L80.50,414.10 L81.00,414.10 L81.50,414.10 L82.00,414.10 L82.50,414.10 L83.00,414.10 L83.50,414.10 L84.00,414.10 L84.50,414.10 L85.00,414.10 L85.50,414.10 L86.00,414.10 L86.50,414.10 L87.00,414.10 L87.50,414.10 L88.00,414.10 L88.50,414.10 L89.00,414.10 L89.50,414.10 L90.00,414.10 L90.50,414.10 L91.00,414.10 L91.50,414.10 L92.00,414.10 L92.50,414.10 L93.00,414.10 L93.50,414.10 L94.00,414.10 L94.50,414.10 L95.00,414.10 L95.50,414.10 L96.00,414.10 L96.50,414.10 L97.00,414.10 L97.50,414.10 L98.00,414.10 L98.50,414.10 L99.00,414.10 L99.50,414.10 L100.00,414.10 L100.50,414.10 L101.00,414.10 L101.50,414.10 L102.00,414.10 L102.50,414.10 L103.00,414.10 L103.50,414.10 L104.00,414.10 L104.50,414.10 L105.00,414.10 L105.50,414.10 L106.00,414.10 L106.50,414.10 L107.00,414.10 L107.50,414.10 L108.00,414.10 L108.50,414.10 L109.00,414.10 L109.50,414.10 L110.00,414.10 L110.50,414.10 L111.00,414.10 L111.50,414.10 L112.00,414.10 L112.50,414.10 L113.00,414.10 L113.50,414.10 L114.00,414.10 L114.50,414.10 L115.00,414.10 L115.50,414.10 L116.00,414.10 L116.50,414.10 L117.00,414.10 L117.50,414.10 L118.00,414.10 L118.50,414.10 L119.00,414.10 L119.50,414.10 L120.00,414.10 L120.50,414.10 L121.00,414.10 L121.50,414.10 L122.00,414.10 L122.50,414.10 L123.00,414.10 L123.50,414.10 L124.00,414.10 L124.50,414.10 L125.00,414.10 L125.50,414.10 L126.00,414.10 L126.50,414.10 L127.00,414.10 L127.50,414.10 L128.00,414.10 L128.50,414.10 L129.00,414.10 L129.50,414.10 L130.00,414.10 L130.00,414.10 L20.00,414.10Z" fill="#95c7f0" stroke="#5ea3da" stroke-width="0.6" stroke-linejoin="round"/>
<path d="M20.00,440.50 L20.50,440.50 L21.00,440.50 L21.50,440.50 L22.00,440.50 L22.50,440.50 L23.00,440.50 L23.50,440.50 L24.00,440.50 L24.50,440.50 L25.00,440.50 L25.50,440.50 L26.00,440.50 L26.50,440.50 L27.00,440.50 L27.50,440.50 L28.00,440.50 L28.50,440.50 L29.00,440.50 L29.50,440.50 L30.00,440.50 L30.50,440.50 L31.00,440.50 L31.50,440.50 L32.00,440.50 L32.50,440.50 L33.00,440.50 L33.50,440.50 L34.00,440.49 L34.50,440.49 L35.00,440.49 L35.50,440.49 L36.00,440.48 L36.50,440.48 L37.00,440.47 L37.50,440.45 L38.00,440.42 L38.50,440.37 L39.00,440.29 L39.50,440.17 L40.00,439.99 L40.50,439.73 L41.00,439.36 L41.50,438.86 L42.00,438.21 L42.50,437.40 L43.00,436.43 L43.50,435.32 L44.00,434.09 L44.50,432.83 L45.00,431.59 L45.50,430.47 L46.00,429.56 L46.50,428.92 L47.00,428.63 L47.50,428.59 L48.00,428.61 L48.50,428.69 L49.00,428.81 L49.50,428.97 L50.00,429.18 L50.50,429.43 L51.00,429.71 L51.50,430.03 L52.00,430.37 L52.50,430.73 L53.00,431.11 L53.50,431.50 L54.00,431.90 L54.50,432.30 L55.00,432.70 L55.50,433.10 L56.00,433.48 L56.50,433.86 L57.00,434.22 L57.50,434.57 L58.00,434.90 L58.50,435.21 L59.00,435.51 L59.50,435.79 L60.00,436.05 L60.50,436.30 L61.00,436.52 L61.50,436.74 L62.00,436.93 L62.50,437.11 L63.00,437.28 L63.50,437.44 L64.00,437.58 L64.50,437.71 L65.00,437.83 L65.50,437.94 L66.00,438.04 L66.50,438.13 L67.00,438.22 L67.50,438.30 L68.00,438.37 L68.50,438.43 L69.00,438.48 L69.50,438.53 L70.00,438.57 L70.50,438.60 L71.00,438.63 L71.50,438.65 L72.00,438.67 L72.50,438.68 L73.00,438.68 L73.50,438.68 L74.00,438.68 L74.50,438.67 L75.00,438.66 L75.50,438.65 L76.00,438.64 L76.50,438.63 L77.00,438.63 L77.50,438.62 L78.00,438.63 L78.50,438.63 L79.00,438.65 L79.50,438.67 L80.00,438.69 L80.50,438.73 L81.00,438.77 L81.50,438.81 L82.00,438.84 L82.50,438.87 L83.00,438.86 L83.50,438.80 L84.00,438.66 L84.50,438.41 L85.00,438.02 L85.50,437.43 L86.00,436.61 L86.50,435.51 L87.00,434.11 L87.50,432.41 L88.00,430.42 L88.50,428.19 L89.00,425.81 L89.50,423.40 L90.00,421.10 L90.50,419.07 L91.00,417.45 L91.50,416.37 L92.00,415.92 L92.50,416.29 L93.00,417.75 L93.50,420.10 L94.00,423.05 L94.50,426.26 L95.00,429.42 L95.50,432.27 L96.00,434.67 L96.50,436.56 L97.00,437.96 L97.50,438.94 L98.00,439.58 L98.50,439.99 L99.00,440.23 L99.50,440.36 L100.00,440.43 L100.50,440.47 L101.00,440.49 L101.50,440.49 L102.00,440.50 L102.50,440.50 L103.00,440.50 L103.50,440.50 L104.00,440.50 L104.50,440.50 L105.00,440.50 L105.50,440.50 L106.00,440.50 L106.50,440.50 L107.00,440.50 L107.50,440.50 L108.00,440.50 L108.50,440.50 L109.00,440.50 L109.50,440.50 L110.00,440.50 L110.50,440.50 L111.00,440.50 L111.50,440.50 L112.00,440.50 L112.50,440.50 L113.00,440.50 L113.50,440.50 L114.00,440.50 L114.50,440.50 L115.00,440.50 L115.50,440.50 L116.00,440.50 L116.50,440.50 L117.00,440.50 L117.50,440.50 L118.00,440.50 L118.50,440.50 L119.00,440.50 L119.50,440.50 L120.00,440.50 L120.50,440.50 L121.00,440.50 L121.50,440.50 L122.00,440.50 L122.50,440.50 L123.00,440.50 L123.50,440.50 L124.00,440.50 L124.50,440.50 L125.00,440.50 L125.50,440.50 L126.00,440.50 L126.50,440.50 L127.00,440.50 L127.50,440.50 L128.00,440.50 L128.50,440.50 L129.00,440.50 L129.50,440.50 L130.00,440.50 L130.00,440.50 L20.00,440.50Z" fill="#78a592" stroke="#3d6b58" stroke-width="0.6" stroke-linejoin="round"/>
<path d="M149.50,361.40 L150.00,361.40 L150.50,361.40 L151.00,361.40 L151.50,361.40 L152.00,361.40 L152.50,361.40 L153.00,361.40 L153.50,361.40 L154.00,361.40 L154.50,361.40 L155.00,361.40 L155.50,361.40 L156.00,361.40 L156.50,361.40 L157.00,361.40 L157.50,361.40 L158.00,361.40 L158.50,361.40 L159.00,361.40 L159.50,361.40 L160.00,361.40 L160.50,361.40 L161.00,361.40 L161.50,361.40 L162.00,361.40 L162.50,361.40 L163.00,361.40 L163.50,361.40 L164.00,361.40 L164.50,361.39 L165.00,361.38 L165.50,361.36 L166.00,361.29 L166.50,361.14 L167.00,360.80 L167.50,360.13 L168.00,358.94 L168.50,357.02 L169.00,354.24 L169.50,350.65 L170.00,346.60 L170.50,342.70 L171.00,339.74 L171.50,338.38 L172.00,338.78 L172.50,340.52 L173.00,343.29 L173.50,346.63 L174.00,350.06 L174.50,353.19 L175.00,355.78 L175.50,357.74 L176.00,359.10 L176.50,359.96 L177.00,360.47 L177.50,360.74 L178.00,360.86 L178.50,360.90 L179.00,360.89 L179.50,360.87 L180.00,360.83 L180.50,360.79 L181.00,360.76 L181.50,360.73 L182.00,360.69 L182.50,360.67 L183.00,360.64 L183.50,360.62 L184.00,360.61 L184.50,360.60 L185.00,360.60 L185.50,360.60 L186.00,360.60 L186.50,360.60 L187.00,360.60 L187.50,360.61 L188.00,360.61 L188.50,360.61 L189.00,360.62 L189.50,360.62 L190.00,360.62 L190.50,360.63 L191.00,360.64 L191.50,360.64 L192.00,360.65 L192.50,360.65 L193.00,360.66 L193.50,360.67 L194.00,360.68 L194.50,360.69 L195.00,360.69 L195.50,360.70 L196.00,360.71 L196.50,360.72 L197.00,360.73 L197.50,360.74 L198.00,360.75 L198.50,360.76 L199.00,360.77 L199.50,360.78 L200.00,360.80 L200.50,360.81 L201.00,360.82 L201.50,360.83 L202.00,360.84 L202.50,360.85 L203.00,360.87 L203.50,360.88 L204.00,360.89 L204.50,360.90 L205.00,360.91 L205.50,360.93 L206.00,360.94 L206.50,360.95 L207.00,360.96 L207.50,360.98 L208.00,360.99 L208.50,361.00 L209.00,361.01 L209.50,361.02 L210.00,361.03 L210.50,361.05 L211.00,361.06 L211.50,361.07 L212.00,361.08 L212.50,361.09 L213.00,361.10 L213.50,361.11 L214.00,361.12 L214.50,361.13 L215.00,361.14 L215.50,361.15 L216.00,361.16 L216.50,361.17 L217.00,361.18 L217.50,361.19 L218.00,361.19 L218.50,361.20 L219.00,361.21 L219.50,361.22 L220.00,361.23 L220.50,361.23 L221.00,361.24 L221.50,361.25 L222.00,361.26 L222.50,361.26 L223.00,361.27 L223.50,361.27 L224.00,361.28 L224.50,361.29 L225.00,361.29 L225.50,361.30 L226.00,361.30 L226.50,361.31 L227.00,361.31 L227.50,361.32 L228.00,361.32 L228.50,361.32 L229.00,361.33 L229.50,361.33 L230.00,361.34 L230.50,361.34 L231.00,361.34 L231.50,361.35 L232.00,361.35 L232.50,361.35 L233.00,361.36 L233.50,361.36 L234.00,361.36 L234.50,361.36 L235.00,361.36 L235.50,361.37 L236.00,361.37 L236.50,361.37 L237.00,361.37 L237.50,361.37 L238.00,361.38 L238.50,361.38 L239.00,361.38 L239.50,361.38 L240.00,361.38 L240.50,361.38 L241.00,361.38 L241.50,361.39 L242.00,361.39 L242.50,361.39 L243.00,361.39 L243.50,361.39 L244.00,361.39 L244.50,361.39 L245.00,361.39 L245.50,361.39 L246.00,361.39 L246.50,361.39 L247.00,361.39 L247.50,361.39 L248.00,361.39 L248.50,361.39 L249.00,361.40 L249.50,361.40 L250.00,361.40 L250.50,361.40 L251.00,361.40 L251.50,361.40 L252.00,361.40 L252.50,361.40 L253.00,361.40 L253.50,361.40 L254.00,361.40 L254.50,361.40 L255.00,361.40 L255.50,361.40 L256.00,361.40 L256.50,361.40 L257.00,361.40 L257.50,361.40 L258.00,361.40 L258.50,361.40 L259.00,361.40 L259.50,361.40 L259.50,361.40 L149.50,361.40Z" fill="#d9e8f6" stroke="#a9c8e6" stroke-width="0.6" stroke-linejoin="round"/>
<path d="M149.50,387.60 L150.00,387.60 L150.50,387.60 L151.00,387.60 L151.50,387.60 L152.00,387.60 L152.50,387.60 L153.00,387.60 L153.50,387.60 L154.00,387.60 L154.50,387.60 L155.00,387.60 L155.50,387.60 L156.00,387.60 L156.50,387.60 L157.00,387.60 L157.50,387.60 L158.00,387.60 L158.50,387.60 L159.00,387.60 L159.50,387.60 L160.00,387.60 L160.50,387.60 L161.00,387.60 L161.50,387.60 L162.00,387.60 L162.50,387.60 L163.00,387.60 L163.50,387.60 L164.00,387.60 L164.50,387.59 L165.00,387.58 L165.50,387.54 L166.00,387.45 L166.50,387.21 L167.00,386.71 L167.50,385.71 L168.00,383.97 L168.50,381.28 L169.00,377.60 L169.50,373.24 L170.00,368.89 L170.50,365.46 L171.00,363.79 L171.50,363.80 L172.00,364.43 L172.50,365.56 L173.00,367.08 L173.50,368.87 L174.00,370.76 L174.50,372.65 L175.00,374.41 L175.50,375.98 L176.00,377.32 L176.50,378.44 L177.00,379.37 L177.50,380.14 L178.00,380.80 L178.50,381.34 L179.00,381.73 L179.50,382.02 L180.00,382.23 L180.50,382.39 L181.00,382.52 L181.50,382.64 L182.00,382.74 L182.50,382.85 L183.00,382.95 L183.50,383.06 L184.00,383.18 L184.50,383.30 L185.00,383.42 L185.50,383.54 L186.00,383.67 L186.50,383.80 L187.00,383.92 L187.50,384.05 L188.00,384.17 L188.50,384.29 L189.00,384.41 L189.50,384.53 L190.00,384.63 L190.50,384.74 L191.00,384.84 L191.50,384.93 L192.00,385.02 L192.50,385.10 L193.00,385.18 L193.50,385.25 L194.00,385.32 L194.50,385.38 L195.00,385.44 L195.50,385.49 L196.00,385.54 L196.50,385.58 L197.00,385.63 L197.50,385.67 L198.00,385.71 L198.50,385.74 L199.00,385.78 L199.50,385.81 L200.00,385.85 L200.50,385.88 L201.00,385.91 L201.50,385.94 L202.00,385.97 L202.50,386.00 L203.00,386.02 L203.50,386.05 L204.00,386.08 L204.50,386.10 L205.00,386.13 L205.50,386.15 L206.00,386.18 L206.50,386.20 L207.00,386.23 L207.50,386.25 L208.00,386.28 L208.50,386.31 L209.00,386.33 L209.50,386.36 L210.00,386.39 L210.50,386.42 L211.00,386.45 L211.50,386.48 L212.00,386.51 L212.50,386.54 L213.00,386.57 L213.50,386.60 L214.00,386.63 L214.50,386.66 L215.00,386.69 L215.50,386.72 L216.00,386.75 L216.50,386.78 L217.00,386.81 L217.50,386.84 L218.00,386.87 L218.50,386.90 L219.00,386.92 L219.50,386.95 L220.00,386.98 L220.50,387.00 L221.00,387.02 L221.50,387.04 L222.00,387.06 L222.50,387.07 L223.00,387.07 L223.50,387.07 L224.00,387.06 L224.50,387.04 L225.00,387.01 L225.50,386.96 L226.00,386.90 L226.50,386.82 L227.00,386.72 L227.50,386.60 L228.00,386.46 L228.50,386.31 L229.00,386.14 L229.50,385.96 L230.00,385.78 L230.50,385.60 L231.00,385.42 L231.50,385.26 L232.00,385.12 L232.50,385.01 L233.00,384.93 L233.50,384.89 L234.00,384.89 L234.50,384.92 L235.00,385.00 L235.50,385.11 L236.00,385.25 L236.50,385.42 L237.00,385.60 L237.50,385.80 L238.00,386.00 L238.50,386.20 L239.00,386.40 L239.50,386.58 L240.00,386.74 L240.50,386.89 L241.00,387.03 L241.50,387.14 L242.00,387.24 L242.50,387.32 L243.00,387.38 L243.50,387.43 L244.00,387.47 L244.50,387.50 L245.00,387.53 L245.50,387.55 L246.00,387.56 L246.50,387.57 L247.00,387.58 L247.50,387.58 L248.00,387.59 L248.50,387.59 L249.00,387.59 L249.50,387.59 L250.00,387.59 L250.50,387.59 L251.00,387.60 L251.50,387.60 L252.00,387.60 L252.50,387.60 L253.00,387.60 L253.50,387.60 L254.00,387.60 L254.50,387.60 L255.00,387.60 L255.50,387.60 L256.00,387.60 L256.50,387.60 L257.00,387.60 L257.50,387.60 L258.00,387.60 L258.50,387.60 L259.00,387.60 L259.50,387.60 L259.50,387.60 L149.50,387.60Z" fill="#c2cec4" stroke="#86988a" stroke-width="0.6" stroke-linejoin="round"/>
<path d="M149.50,414.10 L150.00,414.10 L150.50,414.10 L151.00,414.10 L151.50,414.10 L152.00,414.10 L152.50,414.10 L153.00,414.10 L153.50,414.10 L154.00,414.10 L154.50,414.10 L155.00,414.10 L155.50,414.10 L156.00,414.10 L156.50,414.10 L157.00,414.10 L157.50,414.10 L158.00,414.10 L158.50,414.10 L159.00,414.10 L159.50,414.10 L160.00,414.10 L160.50,414.10 L161.00,414.10 L161.50,414.10 L162.00,414.10 L162.50,414.10 L163.00,414.10 L163.50,414.10 L164.00,414.10 L164.50,414.10 L165.00,414.10 L165.50,414.09 L166.00,414.08 L166.50,414.02 L167.00,413.88 L167.50,413.52 L168.00,412.73 L168.50,411.22 L169.00,408.68 L169.50,404.96 L170.00,400.30 L170.50,395.44 L171.00,391.49 L171.50,389.54 L172.00,389.59 L172.50,390.58 L173.00,392.30 L173.50,394.51 L174.00,396.94 L174.50,399.37 L175.00,401.66 L175.50,403.73 L176.00,405.57 L176.50,407.11 L177.00,408.29 L177.50,409.19 L178.00,409.88 L178.50,410.42 L179.00,410.87 L179.50,411.26 L180.00,411.62 L180.50,411.95 L181.00,412.26 L181.50,412.54 L182.00,412.80 L182.50,413.03 L183.00,413.23 L183.50,413.41 L184.00,413.56 L184.50,413.68 L185.00,413.78 L185.50,413.86 L186.00,413.92 L186.50,413.97 L187.00,414.01 L187.50,414.04 L188.00,414.06 L188.50,414.07 L189.00,414.08 L189.50,414.09 L190.00,414.09 L190.50,414.09 L191.00,414.10 L191.50,414.10 L192.00,414.10 L192.50,414.10 L193.00,414.10 L193.50,414.10 L194.00,414.10 L194.50,414.10 L195.00,414.10 L195.50,414.10 L196.00,414.10 L196.50,414.10 L197.00,414.10 L197.50,414.10 L198.00,414.10 L198.50,414.10 L199.00,414.10 L199.50,414.10 L200.00,414.10 L200.50,414.10 L201.00,414.10 L201.50,414.10 L202.00,414.10 L202.50,414.10 L203.00,414.10 L203.50,414.10 L204.00,414.10 L204.50,414.10 L205.00,414.10 L205.50,414.10 L206.00,414.10 L206.50,414.10 L207.00,414.10 L207.50,414.10 L208.00,414.10 L208.50,414.10 L209.00,414.10 L209.50,414.10 L210.00,414.10 L210.50,414.10 L211.00,414.10 L211.50,414.10 L212.00,414.10 L212.50,414.10 L213.00,414.10 L213.50,414.10 L214.00,414.10 L214.50,414.10 L215.00,414.10 L215.50,414.10 L216.00,414.10 L216.50,414.10 L217.00,414.10 L217.50,414.10 L218.00,414.10 L218.50,414.10 L219.00,414.10 L219.50,414.10 L220.00,414.10 L220.50,414.10 L221.00,414.10 L221.50,414.10 L222.00,414.10 L222.50,414.10 L223.00,414.10 L223.50,414.10 L224.00,414.10 L224.50,414.10 L225.00,414.10 L225.50,414.10 L226.00,414.10 L226.50,414.10 L227.00,414.10 L227.50,414.10 L228.00,414.10 L228.50,414.10 L229.00,414.10 L229.50,414.10 L230.00,414.10 L230.50,414.10 L231.00,414.10 L231.50,414.10 L232.00,414.10 L232.50,414.10 L233.00,414.10 L233.50,414.10 L234.00,414.10 L234.50,414.10 L235.00,414.10 L235.50,414.10 L236.00,414.10 L236.50,414.10 L237.00,414.10 L237.50,414.10 L238.00,414.10 L238.50,414.10 L239.00,414.10 L239.50,414.10 L240.00,414.10 L240.50,414.10 L241.00,414.10 L241.50,414.10 L242.00,414.10 L242.50,414.10 L243.00,414.10 L243.50,414.10 L244.00,414.10 L244.50,414.10 L245.00,414.10 L245.50,414.10 L246.00,414.10 L246.50,414.10 L247.00,414.10 L247.50,414.10 L248.00,414.10 L248.50,414.10 L249.00,414.10 L249.50,414.10 L250.00,414.10 L250.50,414.10 L251.00,414.10 L251.50,414.10 L252.00,414.10 L252.50,414.10 L253.00,414.10 L253.50,414.10 L254.00,414.10 L254.50,414.10 L255.00,414.10 L255.50,414.10 L256.00,414.10 L256.50,414.10 L257.00,414.10 L257.50,414.10 L258.00,414.10 L258.50,414.10 L259.00,414.10 L259.50,414.10 L259.50,414.10 L149.50,414.10Z" fill="#95c7f0" stroke="#5ea3da" stroke-width="0.6" stroke-linejoin="round"/>
<path d="M149.50,440.50 L150.00,440.50 L150.50,440.50 L151.00,440.50 L151.50,440.50 L152.00,440.50 L152.50,440.50 L153.00,440.50 L153.50,440.50 L154.00,440.50 L154.50,440.50 L155.00,440.50 L155.50,440.50 L156.00,440.50 L156.50,440.50 L157.00,440.50 L157.50,440.50 L158.00,440.50 L158.50,440.50 L159.00,440.50 L159.50,440.50 L160.00,440.50 L160.50,440.50 L161.00,440.50 L161.50,440.50 L162.00,440.50 L162.50,440.50 L163.00,440.50 L163.50,440.50 L164.00,440.50 L164.50,440.50 L165.00,440.50 L165.50,440.50 L166.00,440.49 L166.50,440.48 L167.00,440.42 L167.50,440.24 L168.00,439.80 L168.50,438.80 L169.00,436.90 L169.50,433.76 L170.00,429.38 L170.50,424.32 L171.00,419.69 L171.50,416.74 L172.00,415.92 L172.50,415.91 L173.00,416.29 L173.50,416.69 L174.00,416.79 L174.50,416.45 L175.00,415.76 L175.50,414.99 L176.00,414.53 L176.50,414.72 L177.00,415.37 L177.50,416.14 L178.00,417.07 L178.50,418.15 L179.00,419.35 L179.50,420.64 L180.00,421.99 L180.50,423.40 L181.00,424.86 L181.50,426.39 L182.00,427.87 L182.50,429.22 L183.00,430.43 L183.50,431.52 L184.00,432.52 L184.50,433.44 L185.00,434.30 L185.50,435.09 L186.00,435.84 L186.50,436.52 L187.00,437.15 L187.50,437.71 L188.00,438.22 L188.50,438.65 L189.00,439.03 L189.50,439.35 L190.00,439.61 L190.50,439.82 L191.00,439.99 L191.50,440.13 L192.00,440.23 L192.50,440.31 L193.00,440.36 L193.50,440.41 L194.00,440.44 L194.50,440.46 L195.00,440.47 L195.50,440.48 L196.00,440.49 L196.50,440.49 L197.00,440.50 L197.50,440.50 L198.00,440.50 L198.50,440.50 L199.00,440.50 L199.50,440.50 L200.00,440.50 L200.50,440.50 L201.00,440.50 L201.50,440.50 L202.00,440.50 L202.50,440.50 L203.00,440.50 L203.50,440.50 L204.00,440.50 L204.50,440.50 L205.00,440.50 L205.50,440.50 L206.00,440.50 L206.50,440.50 L207.00,440.50 L207.50,440.50 L208.00,440.50 L208.50,440.50 L209.00,440.49 L209.50,440.49 L210.00,440.48 L210.50,440.47 L211.00,440.44 L211.50,440.41 L212.00,440.36 L212.50,440.28 L213.00,440.17 L213.50,440.02 L214.00,439.82 L214.50,439.57 L215.00,439.25 L215.50,438.88 L216.00,438.44 L216.50,437.97 L217.00,437.47 L217.50,436.97 L218.00,436.50 L218.50,436.09 L219.00,435.77 L219.50,435.57 L220.00,435.50 L220.50,435.57 L221.00,435.77 L221.50,436.09 L222.00,436.50 L222.50,436.97 L223.00,437.47 L223.50,437.97 L224.00,438.44 L224.50,438.88 L225.00,439.25 L225.50,439.57 L226.00,439.82 L226.50,440.02 L227.00,440.17 L227.50,440.28 L228.00,440.36 L228.50,440.41 L229.00,440.44 L229.50,440.47 L230.00,440.48 L230.50,440.49 L231.00,440.49 L231.50,440.50 L232.00,440.50 L232.50,440.50 L233.00,440.50 L233.50,440.50 L234.00,440.50 L234.50,440.50 L235.00,440.50 L235.50,440.50 L236.00,440.50 L236.50,440.50 L237.00,440.50 L237.50,440.50 L238.00,440.50 L238.50,440.50 L239.00,440.50 L239.50,440.50 L240.00,440.50 L240.50,440.50 L241.00,440.50 L241.50,440.50 L242.00,440.50 L242.50,440.50 L243.00,440.50 L243.50,440.50 L244.00,440.50 L244.50,440.50 L245.00,440.50 L245.50,440.50 L246.00,440.50 L246.50,440.50 L247.00,440.50 L247.50,440.50 L248.00,440.50 L248.50,440.50 L249.00,440.50 L249.50,440.50 L250.00,440.50 L250.50,440.50 L251.00,440.50 L251.50,440.50 L252.00,440.50 L252.50,440.50 L253.00,440.50 L253.50,440.50 L254.00,440.50 L254.50,440.50 L255.00,440.50 L255.50,440.50 L256.00,440.50 L256.50,440.50 L257.00,440.50 L257.50,440.50 L258.00,440.50 L258.50,440.50 L259.00,440.50 L259.50,440.50 L259.50,440.50 L149.50,440.50Z" fill="#78a592" stroke="#3d6b58" stroke-width="0.6" stroke-linejoin="round"/>
<rect x="19" y="335.5" width="111.5" height="105.1" fill="none" stroke="#333" stroke-width="1.1"/>
<line x1="32.00" y1="440.60" x2="32.00" y2="442.30" stroke="#231f20" stroke-width="0.6" />
<line x1="35.00" y1="440.60" x2="35.00" y2="442.30" stroke="#231f20" stroke-width="0.6" />
<line x1="37.00" y1="440.60" x2="37.00" y2="442.30" stroke="#231f20" stroke-width="0.6" />
<line x1="38.50" y1="440.60" x2="38.50" y2="442.30" stroke="#231f20" stroke-width="0.6" />
<line x1="40.00" y1="440.60" x2="40.00" y2="442.30" stroke="#231f20" stroke-width="0.6" />
<line x1="41.50" y1="440.60" x2="41.50" y2="442.30" stroke="#231f20" stroke-width="0.6" />
<line x1="43.00" y1="440.60" x2="43.00" y2="442.30" stroke="#231f20" stroke-width="0.6" />
<line x1="45.00" y1="440.60" x2="45.00" y2="442.30" stroke="#231f20" stroke-width="0.6" />
<line x1="48.00" y1="440.60" x2="48.00" y2="442.30" stroke="#231f20" stroke-width="0.6" />
<line x1="51.36" y1="440.60" x2="51.36" y2="441.80" stroke="#231f20" stroke-width="0.5" />
<line x1="54.32" y1="440.60" x2="54.32" y2="441.80" stroke="#231f20" stroke-width="0.5" />
<line x1="56.62" y1="440.60" x2="56.62" y2="441.80" stroke="#231f20" stroke-width="0.5" />
<line x1="58.49" y1="440.60" x2="58.49" y2="441.80" stroke="#231f20" stroke-width="0.5" />
<line x1="60.08" y1="440.60" x2="60.08" y2="441.80" stroke="#231f20" stroke-width="0.5" />
<line x1="61.45" y1="440.60" x2="61.45" y2="441.80" stroke="#231f20" stroke-width="0.5" />
<line x1="62.67" y1="440.60" x2="62.67" y2="441.80" stroke="#231f20" stroke-width="0.5" />
<line x1="63.75" y1="440.60" x2="63.75" y2="442.60" stroke="#231f20" stroke-width="0.7" />
<line x1="70.88" y1="440.60" x2="70.88" y2="441.80" stroke="#231f20" stroke-width="0.5" />
<line x1="75.06" y1="440.60" x2="75.06" y2="441.80" stroke="#231f20" stroke-width="0.5" />
<line x1="78.02" y1="440.60" x2="78.02" y2="441.80" stroke="#231f20" stroke-width="0.5" />
<line x1="80.32" y1="440.60" x2="80.32" y2="441.80" stroke="#231f20" stroke-width="0.5" />
<line x1="82.19" y1="440.60" x2="82.19" y2="441.80" stroke="#231f20" stroke-width="0.5" />
<line x1="83.78" y1="440.60" x2="83.78" y2="441.80" stroke="#231f20" stroke-width="0.5" />
<line x1="85.15" y1="440.60" x2="85.15" y2="441.80" stroke="#231f20" stroke-width="0.5" />
<line x1="86.37" y1="440.60" x2="86.37" y2="441.80" stroke="#231f20" stroke-width="0.5" />
<line x1="70.93" y1="440.60" x2="70.93" y2="441.80" stroke="#231f20" stroke-width="0.5" />
<line x1="75.11" y1="440.60" x2="75.11" y2="441.80" stroke="#231f20" stroke-width="0.5" />
<line x1="78.07" y1="440.60" x2="78.07" y2="441.80" stroke="#231f20" stroke-width="0.5" />
<line x1="80.37" y1="440.60" x2="80.37" y2="441.80" stroke="#231f20" stroke-width="0.5" />
<line x1="82.24" y1="440.60" x2="82.24" y2="441.80" stroke="#231f20" stroke-width="0.5" />
<line x1="83.83" y1="440.60" x2="83.83" y2="441.80" stroke="#231f20" stroke-width="0.5" />
<line x1="85.20" y1="440.60" x2="85.20" y2="441.80" stroke="#231f20" stroke-width="0.5" />
<line x1="86.42" y1="440.60" x2="86.42" y2="441.80" stroke="#231f20" stroke-width="0.5" />
<line x1="87.50" y1="440.60" x2="87.50" y2="442.60" stroke="#231f20" stroke-width="0.7" />
<line x1="94.63" y1="440.60" x2="94.63" y2="441.80" stroke="#231f20" stroke-width="0.5" />
<line x1="98.81" y1="440.60" x2="98.81" y2="441.80" stroke="#231f20" stroke-width="0.5" />
<line x1="101.77" y1="440.60" x2="101.77" y2="441.80" stroke="#231f20" stroke-width="0.5" />
<line x1="104.07" y1="440.60" x2="104.07" y2="441.80" stroke="#231f20" stroke-width="0.5" />
<line x1="105.94" y1="440.60" x2="105.94" y2="441.80" stroke="#231f20" stroke-width="0.5" />
<line x1="107.53" y1="440.60" x2="107.53" y2="441.80" stroke="#231f20" stroke-width="0.5" />
<line x1="108.90" y1="440.60" x2="108.90" y2="441.80" stroke="#231f20" stroke-width="0.5" />
<line x1="110.12" y1="440.60" x2="110.12" y2="441.80" stroke="#231f20" stroke-width="0.5" />
<line x1="94.68" y1="440.60" x2="94.68" y2="441.80" stroke="#231f20" stroke-width="0.5" />
<line x1="98.86" y1="440.60" x2="98.86" y2="441.80" stroke="#231f20" stroke-width="0.5" />
<line x1="101.82" y1="440.60" x2="101.82" y2="441.80" stroke="#231f20" stroke-width="0.5" />
<line x1="104.12" y1="440.60" x2="104.12" y2="441.80" stroke="#231f20" stroke-width="0.5" />
<line x1="105.99" y1="440.60" x2="105.99" y2="441.80" stroke="#231f20" stroke-width="0.5" />
<line x1="107.58" y1="440.60" x2="107.58" y2="441.80" stroke="#231f20" stroke-width="0.5" />
<line x1="108.95" y1="440.60" x2="108.95" y2="441.80" stroke="#231f20" stroke-width="0.5" />
<line x1="110.17" y1="440.60" x2="110.17" y2="441.80" stroke="#231f20" stroke-width="0.5" />
<line x1="111.25" y1="440.60" x2="111.25" y2="442.60" stroke="#231f20" stroke-width="0.7" />
<line x1="118.38" y1="440.60" x2="118.38" y2="441.80" stroke="#231f20" stroke-width="0.5" />
<line x1="122.56" y1="440.60" x2="122.56" y2="441.80" stroke="#231f20" stroke-width="0.5" />
<line x1="125.52" y1="440.60" x2="125.52" y2="441.80" stroke="#231f20" stroke-width="0.5" />
<line x1="127.82" y1="440.60" x2="127.82" y2="441.80" stroke="#231f20" stroke-width="0.5" />
<text x="40.00" y="451.30" font-size="6.6" text-anchor="middle" >0</text>
<text x="60.15" y="451.30" font-size="6.6" >10</text>
<text x="67.25" y="448.20" font-size="4.2" >3</text>
<text x="83.90" y="451.30" font-size="6.6" >10</text>
<text x="91.00" y="448.20" font-size="4.2" >4</text>
<text x="107.65" y="451.30" font-size="6.6" >10</text>
<text x="114.75" y="448.20" font-size="4.2" >5</text>
<rect x="148.7" y="335.5" width="111.30000000000001" height="105.1" fill="none" stroke="#333" stroke-width="1.1"/>
<line x1="162.75" y1="440.60" x2="162.75" y2="442.30" stroke="#231f20" stroke-width="0.6" />
<line x1="165.75" y1="440.60" x2="165.75" y2="442.30" stroke="#231f20" stroke-width="0.6" />
<line x1="167.75" y1="440.60" x2="167.75" y2="442.30" stroke="#231f20" stroke-width="0.6" />
<line x1="169.25" y1="440.60" x2="169.25" y2="442.30" stroke="#231f20" stroke-width="0.6" />
<line x1="170.75" y1="440.60" x2="170.75" y2="442.30" stroke="#231f20" stroke-width="0.6" />
<line x1="172.25" y1="440.60" x2="172.25" y2="442.30" stroke="#231f20" stroke-width="0.6" />
<line x1="173.75" y1="440.60" x2="173.75" y2="442.30" stroke="#231f20" stroke-width="0.6" />
<line x1="175.75" y1="440.60" x2="175.75" y2="442.30" stroke="#231f20" stroke-width="0.6" />
<line x1="178.75" y1="440.60" x2="178.75" y2="442.30" stroke="#231f20" stroke-width="0.6" />
<line x1="181.36" y1="440.60" x2="181.36" y2="441.80" stroke="#231f20" stroke-width="0.5" />
<line x1="184.32" y1="440.60" x2="184.32" y2="441.80" stroke="#231f20" stroke-width="0.5" />
<line x1="186.62" y1="440.60" x2="186.62" y2="441.80" stroke="#231f20" stroke-width="0.5" />
<line x1="188.49" y1="440.60" x2="188.49" y2="441.80" stroke="#231f20" stroke-width="0.5" />
<line x1="190.08" y1="440.60" x2="190.08" y2="441.80" stroke="#231f20" stroke-width="0.5" />
<line x1="191.45" y1="440.60" x2="191.45" y2="441.80" stroke="#231f20" stroke-width="0.5" />
<line x1="192.67" y1="440.60" x2="192.67" y2="441.80" stroke="#231f20" stroke-width="0.5" />
<line x1="193.75" y1="440.60" x2="193.75" y2="442.60" stroke="#231f20" stroke-width="0.7" />
<line x1="200.88" y1="440.60" x2="200.88" y2="441.80" stroke="#231f20" stroke-width="0.5" />
<line x1="205.06" y1="440.60" x2="205.06" y2="441.80" stroke="#231f20" stroke-width="0.5" />
<line x1="208.02" y1="440.60" x2="208.02" y2="441.80" stroke="#231f20" stroke-width="0.5" />
<line x1="210.32" y1="440.60" x2="210.32" y2="441.80" stroke="#231f20" stroke-width="0.5" />
<line x1="212.19" y1="440.60" x2="212.19" y2="441.80" stroke="#231f20" stroke-width="0.5" />
<line x1="213.78" y1="440.60" x2="213.78" y2="441.80" stroke="#231f20" stroke-width="0.5" />
<line x1="215.15" y1="440.60" x2="215.15" y2="441.80" stroke="#231f20" stroke-width="0.5" />
<line x1="216.37" y1="440.60" x2="216.37" y2="441.80" stroke="#231f20" stroke-width="0.5" />
<line x1="201.68" y1="440.60" x2="201.68" y2="441.80" stroke="#231f20" stroke-width="0.5" />
<line x1="205.86" y1="440.60" x2="205.86" y2="441.80" stroke="#231f20" stroke-width="0.5" />
<line x1="208.82" y1="440.60" x2="208.82" y2="441.80" stroke="#231f20" stroke-width="0.5" />
<line x1="211.12" y1="440.60" x2="211.12" y2="441.80" stroke="#231f20" stroke-width="0.5" />
<line x1="212.99" y1="440.60" x2="212.99" y2="441.80" stroke="#231f20" stroke-width="0.5" />
<line x1="214.58" y1="440.60" x2="214.58" y2="441.80" stroke="#231f20" stroke-width="0.5" />
<line x1="215.95" y1="440.60" x2="215.95" y2="441.80" stroke="#231f20" stroke-width="0.5" />
<line x1="217.17" y1="440.60" x2="217.17" y2="441.80" stroke="#231f20" stroke-width="0.5" />
<line x1="218.25" y1="440.60" x2="218.25" y2="442.60" stroke="#231f20" stroke-width="0.7" />
<line x1="225.38" y1="440.60" x2="225.38" y2="441.80" stroke="#231f20" stroke-width="0.5" />
<line x1="229.56" y1="440.60" x2="229.56" y2="441.80" stroke="#231f20" stroke-width="0.5" />
<line x1="232.52" y1="440.60" x2="232.52" y2="441.80" stroke="#231f20" stroke-width="0.5" />
<line x1="234.82" y1="440.60" x2="234.82" y2="441.80" stroke="#231f20" stroke-width="0.5" />
<line x1="236.69" y1="440.60" x2="236.69" y2="441.80" stroke="#231f20" stroke-width="0.5" />
<line x1="238.28" y1="440.60" x2="238.28" y2="441.80" stroke="#231f20" stroke-width="0.5" />
<line x1="239.65" y1="440.60" x2="239.65" y2="441.80" stroke="#231f20" stroke-width="0.5" />
<line x1="240.87" y1="440.60" x2="240.87" y2="441.80" stroke="#231f20" stroke-width="0.5" />
<line x1="224.68" y1="440.60" x2="224.68" y2="441.80" stroke="#231f20" stroke-width="0.5" />
<line x1="228.86" y1="440.60" x2="228.86" y2="441.80" stroke="#231f20" stroke-width="0.5" />
<line x1="231.82" y1="440.60" x2="231.82" y2="441.80" stroke="#231f20" stroke-width="0.5" />
<line x1="234.12" y1="440.60" x2="234.12" y2="441.80" stroke="#231f20" stroke-width="0.5" />
<line x1="235.99" y1="440.60" x2="235.99" y2="441.80" stroke="#231f20" stroke-width="0.5" />
<line x1="237.58" y1="440.60" x2="237.58" y2="441.80" stroke="#231f20" stroke-width="0.5" />
<line x1="238.95" y1="440.60" x2="238.95" y2="441.80" stroke="#231f20" stroke-width="0.5" />
<line x1="240.17" y1="440.60" x2="240.17" y2="441.80" stroke="#231f20" stroke-width="0.5" />
<line x1="241.25" y1="440.60" x2="241.25" y2="442.60" stroke="#231f20" stroke-width="0.7" />
<line x1="248.38" y1="440.60" x2="248.38" y2="441.80" stroke="#231f20" stroke-width="0.5" />
<line x1="252.56" y1="440.60" x2="252.56" y2="441.80" stroke="#231f20" stroke-width="0.5" />
<line x1="255.52" y1="440.60" x2="255.52" y2="441.80" stroke="#231f20" stroke-width="0.5" />
<line x1="257.82" y1="440.60" x2="257.82" y2="441.80" stroke="#231f20" stroke-width="0.5" />
<text x="170.75" y="451.30" font-size="6.6" text-anchor="middle" >0</text>
<text x="190.15" y="451.30" font-size="6.6" >10</text>
<text x="197.25" y="448.20" font-size="4.2" >3</text>
<text x="214.65" y="451.30" font-size="6.6" >10</text>
<text x="221.75" y="448.20" font-size="4.2" >4</text>
<text x="237.65" y="451.30" font-size="6.6" >10</text>
<text x="244.75" y="448.20" font-size="4.2" >5</text>
<text x="82.20" y="346.10" font-size="6.3" textLength="44.50" lengthAdjust="spacingAndGlyphs" >IMC-1 +STAT5B</text>
<text x="67.90" y="370.00" font-size="6.3" textLength="45.80" lengthAdjust="spacingAndGlyphs" >IMC-1 +STAT5B</text>
<text x="114.30" y="367.00" font-size="3.7" textLength="12.60" lengthAdjust="spacingAndGlyphs" >N642H</text>
<text x="76.20" y="396.60" font-size="6.3" textLength="50.70" lengthAdjust="spacingAndGlyphs" >KHYG-1 +STAT5B</text>
<text x="22.00" y="422.80" font-size="6.3" textLength="49.80" lengthAdjust="spacingAndGlyphs" >KHYG-1 +STAT5B</text>
<text x="72.40" y="419.80" font-size="3.7" textLength="12.60" lengthAdjust="spacingAndGlyphs" >N642H</text>
<text x="210.90" y="346.10" font-size="6.3" textLength="44.80" lengthAdjust="spacingAndGlyphs" >IMC-1 +STAT5B</text>
<text x="197.00" y="370.00" font-size="6.3" textLength="45.80" lengthAdjust="spacingAndGlyphs" >IMC-1 +STAT5B</text>
<text x="243.40" y="367.00" font-size="3.7" textLength="12.60" lengthAdjust="spacingAndGlyphs" >N642H</text>
<text x="205.40" y="396.60" font-size="6.3" textLength="50.40" lengthAdjust="spacingAndGlyphs" >KHYG-1 +STAT5B</text>
<text x="192.00" y="422.80" font-size="6.3" textLength="49.80" lengthAdjust="spacingAndGlyphs" >KHYG-1 +STAT5B</text>
<text x="242.40" y="419.80" font-size="3.7" textLength="12.60" lengthAdjust="spacingAndGlyphs" >N642H</text>
<text x="66.90" y="330.30" font-size="8.8" textLength="15.40" lengthAdjust="spacingAndGlyphs" >liver</text>
<text x="179.50" y="330.30" font-size="8.8" textLength="50.50" lengthAdjust="spacingAndGlyphs" >bone marrow</text>
<path d="M12,379 L12,461.3 L98.3,461.3" fill="none" stroke="#444" stroke-width="1.2"/>
<path d="M12,375.2 L9.9,379.6 L14.1,379.6Z" fill="#222"/>
<path d="M101.3,461.3 L97.1,459.2 L97.1,463.4Z" fill="#222"/>
<text x="106.20" y="463.30" font-size="7.4" textLength="11.20" lengthAdjust="spacingAndGlyphs" >GFP</text>
<text x="14.20" y="362.80" font-size="8.4" text-anchor="middle" textLength="17.70" lengthAdjust="spacingAndGlyphs" transform="rotate(-90 14.20 362.80)" >Count</text>
<path d="M142.5,379 L142.5,461.3 L228.3,461.3" fill="none" stroke="#444" stroke-width="1.2"/>
<path d="M142.5,375.2 L140.4,379.6 L144.6,379.6Z" fill="#222"/>
<path d="M231.3,461.3 L227.10000000000002,459.2 L227.10000000000002,463.4Z" fill="#222"/>
<text x="235.00" y="463.30" font-size="7.4" textLength="11.20" lengthAdjust="spacingAndGlyphs" >GFP</text>
<text x="144.70" y="362.80" font-size="8.4" text-anchor="middle" textLength="17.70" lengthAdjust="spacingAndGlyphs" transform="rotate(-90 144.70 362.80)" >Count</text>
<defs><filter id="bl" x="-5%" y="-5%" width="110%" height="110%"><feGaussianBlur stdDeviation="0.5"/></filter><clipPath id="c1"><rect x="287.3" y="323.2" width="72.4" height="64.8"/></clipPath><clipPath id="c2"><rect x="363" y="323.2" width="73.5" height="64.8"/></clipPath><clipPath id="c3"><rect x="440" y="323.2" width="73" height="64.8"/></clipPath><clipPath id="c4"><rect x="287.3" y="399.5" width="72.4" height="63.2"/></clipPath><clipPath id="c5"><rect x="363" y="399.5" width="73.5" height="66"/></clipPath><clipPath id="c6"><rect x="440" y="399.5" width="73" height="66"/></clipPath></defs>
<g clip-path="url(#c1)"><g filter="url(#bl)"><rect x="286.3" y="322.2" width="74.4" height="66.8" fill="#c0609f"/>
<path d="M313.7 364.5h0M297.6 345.9h0M288.0 355.8h0M310.6 335.1h0M320.1 366.3h0M295.8 335.0h0M301.6 366.5h0M337.4 370.9h0M319.8 327.4h0M352.1 339.5h0M352.2 328.9h0M289.0 364.2h0M358.0 387.5h0M359.5 327.5h0M359.0 336.8h0M349.8 385.7h0M348.7 326.2h0M306.0 347.0h0M321.8 346.4h0M314.2 343.6h0M313.8 362.0h0M318.1 378.9h0" stroke="#d684c2" stroke-width="2.25" stroke-linecap="round" opacity="0.5"/>
<path d="M307.5 381.9h0M302.1 380.3h0M318.4 385.6h0M316.9 369.0h0M314.7 364.9h0M359.0 355.0h0M292.5 387.2h0M288.4 345.2h0M304.3 360.7h0M313.5 353.3h0M316.4 365.7h0M332.4 371.3h0" stroke="#d684c2" stroke-width="2.0" stroke-linecap="round" opacity="0.5"/>
<path d="M294.1 344.9h0M295.6 377.5h0M321.2 387.5h0M301.5 341.3h0M292.6 359.2h0M332.9 380.0h0M355.5 345.6h0M308.5 368.2h0M314.4 370.1h0M347.3 365.3h0M297.7 348.8h0M293.3 334.0h0M346.0 370.6h0M325.9 330.4h0M324.4 342.2h0M309.1 385.8h0M315.9 342.6h0M305.5 340.7h0" stroke="#d684c2" stroke-width="2.75" stroke-linecap="round" opacity="0.5"/>
<path d="M302.6 371.4h0M358.9 332.8h0M332.8 355.9h0M315.1 338.1h0M332.7 352.2h0M347.3 374.9h0M349.2 373.1h0M332.9 341.2h0M295.7 384.2h0M316.9 352.8h0M315.4 371.4h0M289.1 346.0h0M303.1 352.5h0M325.3 349.5h0M353.8 344.5h0M291.8 357.4h0M304.0 371.8h0M309.1 362.7h0M310.1 355.4h0" stroke="#d684c2" stroke-width="2.5" stroke-linecap="round" opacity="0.5"/>
<path d="M336.5 334.7h0M328.8 356.6h0M330.3 383.6h0M316.4 379.4h0M352.9 374.8h0M313.8 329.7h0M337.6 334.9h0M337.5 353.4h0M309.8 349.7h0M305.0 349.9h0M330.1 358.6h0M296.0 353.6h0M309.1 356.1h0M328.4 331.6h0M305.2 350.0h0M320.6 378.3h0M340.5 369.4h0M325.7 325.0h0M293.0 340.1h0M316.2 337.6h0M341.9 326.6h0" stroke="#d684c2" stroke-width="1.75" stroke-linecap="round" opacity="0.5"/>
<path d="M310.6 358.0h0M307.1 367.1h0M331.9 380.7h0M348.1 365.3h0M359.2 327.4h0M338.8 339.4h0M320.2 358.0h0M322.8 338.9h0M312.3 379.2h0M348.8 363.2h0M333.0 350.7h0M350.5 341.8h0M336.3 352.7h0M312.0 376.4h0M312.2 381.4h0M349.5 384.4h0M288.1 333.2h0M334.7 380.7h0M328.4 355.7h0M319.9 326.4h0" stroke="#d684c2" stroke-width="3.0" stroke-linecap="round" opacity="0.5"/>
<path d="M341.9 330.2h0M310.0 370.9h0M313.2 335.9h0M307.7 351.8h0M335.9 362.4h0M348.8 333.2h0M287.9 349.5h0M287.8 361.6h0" stroke="#d684c2" stroke-width="3.25" stroke-linecap="round" opacity="0.5"/>
<path d="M285.1,358.9L285.5,357.5M285.5,357.5L282.2,354.1M327.5,319.6L325.9,321.4M325.9,321.4L323.5,320.5M357.1,389.5L362.3,388.8M368.0,384.4L360.2,385.4M362.3,388.8L360.2,385.4M352.2,379.5L354.7,382.3M352.2,379.5L354.2,377.4M354.2,377.4L356.2,377.6M356.2,377.6L357.5,381.5M354.7,382.3L357.5,381.5M362.0,380.8L358.9,382.5M360.2,385.4L359.0,384.6M359.0,384.6L358.9,382.5M357.2,374.6L357.2,376.6M357.2,374.6L360.8,371.4M357.2,376.6L362.9,376.6M360.8,371.4L364.5,374.9M357.0,369.3L355.6,372.7M357.0,369.3L359.8,369.2M355.6,372.7L357.2,374.6M360.0,369.3L359.8,369.2M360.0,369.3L360.8,371.4M356.2,377.6L357.2,376.6M357.5,381.5L358.9,382.5M360.0,369.3L364.1,365.5M280.8,346.7L285.8,348.9M282.2,354.1L285.4,352.0M285.4,352.0L285.8,348.9M284.7,341.5L286.2,341.6M286.2,341.6L287.3,348.0M287.3,348.0L285.8,348.9M319.5,353.4L321.5,352.3M319.5,353.4L320.2,355.8M320.2,355.8L323.1,355.6M323.1,355.6L323.6,354.8M323.6,354.8L321.5,352.3M318.5,353.1L317.5,349.1M318.5,353.1L319.5,353.4M317.5,349.1L321.8,349.2M321.5,352.3L321.8,349.2M317.5,349.1L317.2,348.9M320.8,344.0L323.5,346.0M320.8,344.0L319.2,344.2M323.5,346.0L323.8,347.9M317.2,348.9L319.2,344.2M321.8,349.2L323.8,347.9M353.9,367.5L357.0,369.3M353.9,367.5L351.0,370.1M355.6,372.7L351.6,373.1M351.0,370.1L350.7,372.3M351.6,373.1L350.7,372.3M354.2,377.4L352.3,375.1M351.6,373.1L352.3,375.1M346.6,372.9L344.7,375.7M346.6,372.9L349.5,372.8M344.7,375.7L347.8,378.9M349.5,372.8L347.8,378.9M359.8,369.2L358.2,365.1M362.9,364.0L358.2,365.1M353.8,364.8L355.7,362.7M353.8,364.8L353.9,367.5M358.2,365.1L355.7,362.7M361.0,344.9L362.7,343.7M361.0,344.9L360.8,345.8M362.3,351.3L360.8,345.8M361.0,344.9L358.3,343.9M355.4,345.6L358.3,343.9M355.4,345.6L357.6,348.4M360.8,345.8L357.6,348.4M355.1,349.5L357.0,349.6M355.1,349.5L353.2,346.7M353.2,346.7L353.7,345.7M355.4,345.6L353.7,345.7M357.6,348.4L357.0,349.6M362.3,351.3L360.3,352.8M357.0,349.6L358.8,352.5M358.8,352.5L360.3,352.8M324.3,332.4L324.0,333.1M324.3,332.4L327.3,332.3M324.0,333.1L325.3,335.9M327.3,332.3L330.7,335.0M330.7,335.0L329.3,336.8M329.3,336.8L325.3,335.9M324.3,332.4L323.3,329.3M329.3,328.7L327.3,332.3M329.3,328.7L326.4,326.4M323.3,329.3L326.4,326.4M331.9,327.7L331.0,328.7M331.9,327.7L330.7,324.3M330.7,324.3L326.4,325.2M329.3,328.7L331.0,328.7M326.4,326.4L326.4,325.2M325.9,321.4L326.1,324.6M323.5,320.5L320.2,323.5M326.1,324.6L320.2,323.5M331.4,320.1L326.3,325.1M326.1,324.6L326.3,325.1M318.1,319.5L318.8,323.7M318.8,323.7L319.1,323.8M320.2,323.5L319.1,323.8M332.7,321.0L330.7,324.3M326.3,325.1L326.4,325.2M318.6,323.7L312.7,327.1M318.6,323.7L312.3,322.0M312.7,327.1L311.5,324.4M312.3,322.0L311.5,324.4M318.8,323.7L318.6,323.7M312.1,319.9L312.3,322.0M337.7,373.1L334.6,372.1M337.7,373.1L337.5,377.1M334.6,372.1L332.6,374.3M332.6,374.3L335.1,378.2M335.1,378.2L337.5,377.1M352.2,379.5L349.5,380.5M352.3,375.1L348.2,379.5M349.5,380.5L348.2,379.5M341.2,378.2L341.7,380.1M341.2,378.2L342.9,376.0M341.7,380.1L345.5,381.2M342.9,376.0L344.7,375.7M347.8,378.9L348.1,379.5M345.5,381.2L348.1,379.5M349.5,372.8L350.7,372.3M348.2,379.5L348.1,379.5M353.7,356.9L352.6,354.8M353.7,356.9L356.5,356.5M356.5,356.5L358.1,352.9M358.1,352.9L353.0,353.5M353.0,353.5L352.6,354.8M355.1,349.5L352.7,352.3M358.8,352.5L358.1,352.9M352.7,352.3L353.0,353.5M329.3,336.8L328.8,339.5M325.3,335.9L323.9,339.4M323.9,339.4L326.1,341.0M328.8,339.5L326.1,341.0M320.8,344.0L321.3,340.7M323.5,346.0L326.1,342.5M321.3,340.7L322.8,339.4M322.8,339.4L323.9,339.4M326.1,342.5L326.1,341.0M281.9,388.5L285.7,386.2M285.1,383.1L286.1,384.9M285.7,386.2L286.1,384.9M282.8,323.2L285.9,320.7M313.1,350.4L310.2,354.9M313.1,350.4L315.9,354.9M310.2,354.9L312.4,357.0M312.4,357.0L315.9,356.6M315.9,354.9L315.9,356.6M311.0,361.1L312.4,357.0M311.0,361.1L317.8,359.6M317.6,358.7L317.8,359.6M317.6,358.7L315.9,356.6M318.5,353.1L315.9,354.9M320.2,355.8L317.6,358.7M310.1,354.9L310.2,354.9M310.1,354.9L307.3,353.3M313.1,350.4L313.1,350.4M313.1,350.4L308.1,350.2M308.1,350.2L307.3,353.3M304.0,349.9L304.3,353.1M304.0,349.9L306.4,348.6M306.4,348.6L308.1,350.2M307.3,353.3L304.9,353.8M304.9,353.8L304.3,353.1M297.9,352.3L298.9,355.5M297.9,352.3L299.6,350.6M299.6,350.6L302.1,353.3M302.1,353.3L299.7,355.6M298.9,355.5L299.7,355.6M300.2,349.4L301.3,348.8M300.2,349.4L299.6,350.6M301.3,348.8L304.0,349.9M304.3,353.1L302.1,353.3M298.6,340.5L297.7,344.4M298.6,340.5L303.4,342.9M297.7,344.4L302.0,344.7M302.0,344.7L303.3,343.4M303.4,342.9L303.3,343.4M301.3,348.8L302.0,344.7M306.8,346.8L303.3,343.4M306.8,346.8L306.4,348.6M295.0,340.0L295.3,344.2M295.0,340.0L291.1,341.3M290.5,341.9L291.1,341.3M290.5,341.9L290.9,343.0M290.9,343.0L295.3,344.2M300.2,349.4L295.9,346.3M297.7,344.4L296.1,345.3M295.9,346.3L296.1,345.3M297.6,338.5L296.0,338.4M297.6,338.5L298.6,340.5M296.0,338.4L295.0,340.0M296.1,345.3L295.3,344.2M297.9,352.3L296.0,351.9M295.9,346.3L294.7,347.4M296.0,351.9L294.7,347.4M293.7,356.3L292.9,357.5M293.7,356.3L293.3,353.4M288.0,355.4L288.0,354.7M288.0,355.4L290.8,358.7M288.0,354.7L291.7,352.5M293.3,353.4L291.7,352.5M290.8,358.7L292.9,357.5M297.5,356.8L293.7,356.3M297.5,356.8L298.9,355.5M296.0,351.9L293.3,353.4M285.5,357.5L288.0,355.4M285.4,352.0L288.0,354.7M285.1,358.9L287.5,360.8M287.5,360.8L290.3,360.2M290.3,360.2L290.8,358.7M296.0,360.8L292.9,357.5M296.0,360.8L291.9,362.4M290.3,360.2L291.3,362.0M291.3,362.0L291.9,362.4M330.0,372.8L329.7,370.0M330.0,372.8L325.7,374.3M329.7,370.0L326.1,369.6M326.1,369.6L324.8,373.2M325.7,374.3L324.8,373.2M331.6,374.3L330.0,372.8M331.6,374.3L328.8,378.1M328.8,378.1L326.3,376.8M326.3,376.8L325.7,374.3M319.8,376.3L323.2,379.0M319.8,376.3L322.1,373.2M323.2,379.0L326.3,376.8M322.1,373.2L324.8,373.2M334.6,372.1L333.8,369.3M331.6,374.3L332.6,374.3M329.7,370.0L331.1,368.9M333.8,369.3L331.1,368.9M331.6,341.3L330.5,344.1M331.6,341.3L328.8,339.5M326.1,342.5L329.0,344.5M329.0,344.5L330.5,344.1M323.1,355.6L323.6,360.9M318.2,360.3L318.8,360.7M318.2,360.3L317.8,359.6M323.6,360.9L323.5,361.1M318.8,360.7L323.5,361.1M297.5,356.8L297.6,361.0M296.0,360.8L297.6,361.1M297.6,361.0L297.6,361.1M319.2,344.2L316.6,342.6M317.8,340.0L321.3,340.7M317.8,340.0L316.6,342.0M316.6,342.0L316.6,342.6M317.8,340.0L317.4,337.5M322.8,339.4L321.1,337.0M317.4,337.5L321.1,337.0M324.0,333.1L321.8,334.3M321.8,334.3L321.1,337.0M304.4,325.2L300.7,324.2M304.4,325.2L306.1,325.0M300.9,323.4L300.7,324.2M300.9,323.4L303.8,320.1M306.1,325.0L307.0,324.0M307.0,324.0L307.0,321.7M307.0,321.7L305.9,319.9M312.1,319.9L307.0,321.7M311.5,324.4L307.0,324.0M300.9,323.4L298.7,317.3M290.2,320.9L288.4,321.6M285.9,320.7L288.4,321.6M313.9,339.8L316.6,342.0M313.9,339.8L313.7,337.6M317.4,337.5L316.1,336.2M313.7,337.6L316.1,336.2M318.3,333.0L321.8,334.3M318.3,333.0L316.2,334.7M316.2,334.7L316.1,336.2M313.7,337.6L313.3,337.6M313.5,332.4L311.1,334.3M313.5,332.4L316.2,334.7M311.1,334.3L313.3,337.6M313.9,339.8L311.8,342.1M311.0,338.4L313.3,337.6M311.0,338.4L310.0,341.6M310.0,341.6L311.8,342.1M306.3,340.8L304.0,341.9M306.3,340.8L309.3,341.9M306.8,346.8L309.0,345.7M304.0,341.9L303.4,342.9M309.3,341.9L309.0,345.7M358.4,357.8L360.9,355.6M358.4,357.8L358.5,361.0M361.7,361.5L358.5,361.0M361.7,361.5L363.8,358.0M363.8,358.0L360.9,355.6M360.3,352.8L360.9,355.6M356.5,356.5L358.4,357.8M353.4,358.8L353.7,356.9M353.4,358.8L355.9,362.3M355.9,362.3L358.5,361.0M362.9,364.0L361.7,361.5M355.9,362.3L355.7,362.7M331.9,327.7L333.7,327.1M333.7,327.1L335.2,324.2M335.2,324.2L332.8,321.0M321.2,328.5L319.4,325.2M321.2,328.5L318.5,330.8M319.4,325.2L315.8,329.2M318.5,330.8L315.8,329.2M323.3,329.3L321.2,328.5M319.1,323.8L319.4,325.2M318.3,333.0L318.5,330.8M312.9,329.1L312.5,328.6M312.9,329.1L315.8,329.2M312.5,328.6L312.7,327.1M312.9,329.1L313.5,332.4M341.0,389.1L342.9,387.3M341.0,389.1L347.9,406.0M342.9,387.3L346.1,388.7M346.1,388.7L347.9,403.3M354.7,382.3L352.5,384.2M359.0,384.6L356.5,387.4M352.5,384.2L356.5,387.4M349.5,380.5L350.8,384.4M352.5,384.2L350.8,384.4M357.1,389.5L356.1,389.1M354.7,390.3L356.1,389.1M356.1,389.1L356.5,387.4M337.7,373.1L339.5,371.9M341.2,378.2L337.5,377.1M342.9,376.0L340.8,372.1M337.5,377.1L337.5,377.1M339.5,371.9L340.8,372.1M347.3,345.4L350.8,347.8M347.3,345.4L345.5,351.1M345.5,351.1L346.7,351.8M346.7,351.8L350.6,350.4M350.8,347.8L350.6,350.4M353.2,346.7L350.8,347.8M353.5,345.1L353.7,345.7M353.5,345.1L350.1,342.8M347.0,344.6L350.1,342.8M347.0,344.6L347.3,345.4M348.1,355.6L352.6,354.8M348.1,355.6L346.7,351.8M352.7,352.3L350.6,350.4M349.2,360.2L349.0,360.2M349.2,360.2L351.5,364.1M349.0,360.2L346.0,364.4M351.5,364.1L348.2,365.5M348.2,365.5L346.2,365.1M346.0,364.4L346.2,365.1M353.8,364.8L351.5,364.1M353.4,358.8L349.2,360.2M351.0,370.1L350.7,369.8M350.7,369.8L348.2,365.5M343.4,360.4L348.4,359.5M343.4,360.4L343.4,360.4M343.4,360.4L342.8,357.0M342.8,357.0L347.7,356.3M347.7,356.3L348.4,359.5M344.0,362.6L346.0,364.4M344.0,362.6L343.4,360.4M349.0,360.2L348.4,359.5M348.1,355.6L347.7,356.3M336.3,356.8L339.3,357.0M336.3,356.8L335.4,359.4M339.3,357.0L338.8,361.5M335.4,359.4L337.9,362.7M337.9,362.7L338.8,361.5M333.3,354.0L333.6,353.9M333.3,354.0L330.8,359.2M333.6,353.9L336.3,356.8M330.8,359.2L331.3,360.1M331.3,360.1L335.4,359.4M285.1,383.1L286.0,380.0M290.4,383.9L286.1,384.9M290.4,383.9L287.9,379.2M286.0,380.0L287.9,379.2M288.4,365.4L290.5,368.4M288.4,365.4L285.5,364.6M284.9,366.2L287.9,370.7M290.5,368.4L287.9,370.7M284.9,364.8L285.5,364.6M287.5,360.8L285.5,364.6M291.3,362.0L288.4,365.4M291.9,362.4L292.7,363.9M290.5,368.4L292.8,368.2M292.8,368.2L292.7,363.9M297.6,361.1L297.5,363.7M292.7,363.9L297.5,363.7M294.5,388.3L292.0,387.2M294.5,388.3L297.3,409.6M292.0,387.2L288.9,389.7M288.9,389.7L287.3,396.7M290.4,383.9L291.4,384.3M291.4,384.3L292.0,387.2M285.7,386.2L288.9,389.7M281.9,388.5L287.3,396.7M283.8,329.9L285.4,333.9M283.9,335.9L285.4,333.9M286.2,341.6L287.3,341.1M287.3,341.1L287.8,338.1M283.9,335.9L287.8,338.1M299.6,325.0L300.7,324.2M299.6,325.0L298.8,328.2M303.7,329.6L301.8,330.7M303.7,329.6L304.4,325.2M301.8,330.7L299.6,329.1M298.8,328.2L299.6,329.1M283.4,324.3L288.0,326.6M288.4,321.6L289.2,324.5M288.0,326.6L289.2,324.5M302.7,333.2L307.2,334.3M302.7,333.2L300.4,336.1M301.9,337.8L307.0,336.2M301.9,337.8L300.3,336.6M300.3,336.6L300.4,336.1M307.0,336.2L307.4,335.4M307.4,335.4L307.5,334.7M307.2,334.3L307.5,334.7M301.8,330.7L302.7,333.2M298.3,333.7L299.6,329.1M298.3,333.7L300.4,336.1M306.3,340.8L307.0,336.2M304.0,341.9L301.9,337.8M297.6,338.5L300.3,336.6M311.0,338.4L307.4,335.4M310.0,341.6L309.3,341.9M311.1,334.3L307.5,334.7M311.0,329.0L307.7,332.1M311.0,329.0L306.9,327.0M307.7,332.1L305.9,329.5M306.9,327.0L305.9,329.5M312.5,328.6L311.0,329.0M307.2,334.3L307.7,332.1M306.1,325.0L306.9,327.0M303.7,329.6L305.9,329.5M287.9,348.0L290.8,349.0M287.9,348.0L290.9,343.0M290.9,343.0L292.9,347.8M290.8,349.0L292.9,347.8M287.3,348.0L287.9,348.0M291.7,352.5L290.8,349.0M287.3,341.1L290.5,341.9M290.9,343.0L290.9,343.0M294.7,347.4L292.9,347.8M331.3,360.3L332.9,363.5M331.3,360.3L326.4,364.6M332.9,363.5L330.2,365.9M326.4,364.6L330.2,365.9M330.2,359.0L325.4,359.8M330.2,359.0L328.9,357.2M328.9,357.2L326.6,356.6M325.4,359.8L326.6,356.6M323.6,354.8L325.8,353.9M323.6,360.9L325.4,359.8M325.8,353.9L326.6,356.6M328.1,348.1L331.4,348.0M328.1,348.1L326.2,349.3M331.4,348.0L330.2,353.0M326.2,349.3L327.2,352.4M327.2,352.4L328.5,352.9M330.2,353.0L328.5,352.9M329.0,344.5L328.1,348.1M330.5,344.1L333.2,347.1M333.2,347.1L333.1,347.4M333.1,347.4L331.4,348.0M323.8,347.9L326.2,349.3M333.3,354.0L330.2,353.0M333.6,353.9L334.6,352.6M333.1,347.4L335.0,349.9M335.0,349.9L334.6,352.6M325.8,353.9L327.2,352.4M328.9,357.2L328.5,352.9M330.8,359.2L330.2,359.0M331.3,360.1L331.3,360.3M323.5,361.1L323.9,361.9M326.4,364.6L325.5,364.7M325.5,364.7L323.9,361.9M318.8,360.7L318.4,366.4M318.4,366.4L318.9,366.9M323.9,361.9L318.9,366.9M310.1,354.9L307.8,357.8M311.0,361.1L311.0,361.2M311.0,361.2L309.9,360.9M307.8,357.8L309.9,360.9M304.9,353.8L304.3,357.7M307.8,357.8L304.3,357.7M312.8,365.5L313.0,366.2M312.8,365.5L312.3,364.7M312.3,364.7L307.5,364.6M313.0,366.2L312.2,368.1M311.7,368.3L312.2,368.1M311.7,368.3L307.3,369.0M307.5,364.6L307.2,368.9M307.3,369.0L307.2,368.9M318.2,360.3L312.8,365.5M318.4,366.4L313.0,366.2M311.0,361.2L312.3,364.7M304.1,367.7L301.7,369.2M304.1,367.7L303.1,364.2M303.1,364.2L298.1,365.6M301.7,369.2L297.7,367.1M297.7,367.1L298.1,365.6M297.8,372.8L299.9,373.5M297.8,372.8L296.1,368.4M296.1,368.4L297.7,367.1M301.5,371.1L299.9,373.5M301.5,371.1L301.7,369.2M292.8,368.2L293.3,368.5M293.3,368.5L296.1,368.4M297.5,363.7L298.1,365.6M291.2,321.1L293.4,324.1M293.4,324.1L295.9,323.0M295.9,323.0L295.6,320.9M289.2,324.5L292.7,325.3M292.7,325.3L293.4,324.1M299.6,325.0L295.9,323.0M315.2,343.7L313.1,343.4M315.2,343.7L315.3,348.9M313.1,343.4L311.2,346.8M311.2,346.8L313.4,349.9M313.4,349.9L315.3,348.9M316.6,342.6L315.2,343.7M311.8,342.1L313.1,343.4M317.2,348.9L315.3,348.9M309.0,345.7L311.2,346.8M313.1,350.4L313.4,349.9M381.9,330.2L359.0,332.9M363.5,326.4L360.7,327.7M360.7,327.7L359.0,332.9M331.0,328.7L332.8,332.9M333.7,327.1L337.3,330.3M337.3,330.3L336.6,332.3M336.6,332.3L336.1,332.7M336.1,332.7L332.8,332.9M330.7,335.0L330.7,335.0M330.7,335.0L332.8,332.9M331.6,341.3L333.3,341.1M333.2,347.1L335.8,343.5M335.8,343.5L333.3,341.1M330.7,335.0L334.3,338.5M333.3,341.1L334.3,338.5M336.1,332.7L336.7,336.6M336.7,336.6L336.6,337.5M334.3,338.5L336.6,337.5M337.3,324.4L337.9,319.7M337.3,324.4L338.8,325.1M338.8,325.1L342.6,322.9M338.3,319.5L342.7,322.1M342.7,322.1L342.6,322.9M335.2,324.2L337.3,324.4M337.3,330.3L338.8,329.0M338.8,329.0L338.8,325.1M341.0,389.1L338.1,388.9M330.3,417.7L337.5,389.2M338.1,388.9L337.5,389.2M349.7,389.8L347.9,387.6M349.7,389.8L352.1,388.5M352.1,388.5L350.3,385.0M347.9,387.6L349.0,385.7M349.0,385.7L350.3,385.0M346.1,388.7L347.9,387.6M347.9,403.3L349.7,389.8M354.7,390.3L352.1,388.5M350.8,384.4L350.3,385.0M342.9,387.3L343.0,386.0M343.0,386.0L345.3,384.0M345.3,384.0L349.0,385.7M345.5,381.2L345.3,384.0M346.0,372.1L341.8,371.5M346.0,372.1L345.5,368.5M341.8,371.5L343.7,367.6M345.5,368.5L344.8,367.4M344.8,367.4L343.7,367.6M346.6,372.9L346.0,372.1M340.8,372.1L341.8,371.5M350.7,369.8L345.5,368.5M346.2,365.1L344.8,367.4M340.2,364.7L340.7,366.3M340.2,364.7L337.9,362.7M340.7,366.3L338.7,368.7M338.7,368.7L335.3,367.7M335.3,367.7L335.2,364.4M337.9,362.7L335.2,364.4M344.0,362.6L340.2,364.7M343.7,367.6L340.7,366.3M343.4,360.4L338.8,361.5M337.9,362.7L337.9,362.7M339.5,371.9L338.7,368.7M333.8,369.3L335.3,367.7M331.1,368.9L330.2,365.9M332.9,363.5L335.2,364.4M291.4,384.3L293.6,382.2M293.6,382.2L296.8,383.7M294.5,388.3L296.9,387.0M296.9,387.0L296.8,383.7M293.6,382.2L293.6,382.0M287.9,379.2L288.2,378.8M288.2,378.8L292.5,380.1M292.5,380.1L293.6,382.0M299.5,380.5L298.5,382.7M299.5,380.5L296.5,379.1M296.8,383.7L298.5,382.7M293.6,382.0L296.5,379.1M300.9,379.9L299.5,380.5M300.9,379.9L301.5,376.2M301.5,376.2L300.8,375.5M300.8,375.5L296.0,377.5M296.5,379.1L296.0,377.5M285.4,333.9L290.1,333.9M287.8,338.1L290.3,335.4M290.1,333.9L290.3,335.4M296.0,338.4L295.8,338.1M291.1,341.3L291.3,336.5M295.8,338.1L291.3,336.5M291.3,336.5L290.3,335.4M283.8,329.9L286.2,329.5M290.1,333.9L290.5,333.0M286.2,329.5L290.5,333.0M288.0,326.6L288.1,327.1M286.2,329.5L288.1,327.1M310.1,401.3L306.0,388.8M306.0,388.8L310.4,388.3M310.4,388.3L312.3,390.3M319.6,393.6L316.0,388.7M316.0,388.7L314.3,388.7M312.3,390.3L314.3,388.7M342.6,344.6L338.9,345.2M342.6,344.6L342.5,346.9M342.5,346.9L340.2,350.1M338.9,345.2L338.2,348.8M338.2,348.8L340.2,350.1M335.0,349.9L338.2,348.8M335.8,343.5L336.7,343.4M336.7,343.4L338.9,345.2M343.3,351.9L340.7,350.8M343.3,351.9L342.1,356.4M340.7,350.8L338.7,353.3M338.7,353.3L340.0,356.5M342.1,356.4L340.0,356.5M345.1,351.1L342.5,346.9M345.1,351.1L343.3,351.9M340.2,350.1L340.7,350.8M345.5,351.1L345.1,351.1M342.8,357.0L342.1,356.4M334.6,352.6L338.7,353.3M339.3,357.0L340.0,356.5M325.4,368.2L320.4,370.2M325.4,368.2L325.2,365.6M325.2,365.6L319.3,367.5M320.4,370.2L319.3,368.8M319.3,368.8L319.3,367.5M320.7,371.3L320.4,370.2M320.7,371.3L322.1,373.2M326.1,369.6L325.4,368.2M325.5,364.7L325.2,365.6M318.9,366.9L319.3,367.5M315.2,371.3L316.0,373.7M315.2,371.3L319.3,368.8M316.0,373.7L320.7,371.3M315.2,371.3L314.3,370.7M314.3,370.7L312.2,368.1M306.7,363.1L307.1,362.5M306.7,363.1L303.1,364.2M307.1,362.5L303.9,358.0M303.1,364.2L302.0,360.4M302.0,360.4L303.3,358.3M303.3,358.3L303.9,358.0M309.9,360.9L307.1,362.5M307.5,364.6L306.7,363.1M307.2,368.9L304.1,367.7M303.1,364.2L303.1,364.2M304.3,357.7L303.9,358.0M297.6,361.0L302.0,360.4M299.7,355.6L303.3,358.3M353.5,345.1L354.6,341.4M350.1,342.8L351.9,339.3M354.6,341.4L352.1,339.3M351.9,339.3L352.1,339.3M356.6,341.6L356.4,341.5M356.6,341.6L360.5,339.8M356.4,341.5L357.7,337.6M357.7,337.6L359.4,336.7M360.5,339.8L359.9,337.1M359.9,337.1L359.4,336.7M358.3,343.9L356.6,341.6M354.6,341.4L356.4,341.5M362.7,343.7L360.5,339.8M352.1,339.3L354.8,337.4M354.8,337.4L357.7,337.6M418.2,336.0L359.9,337.1M359.0,332.9L358.9,332.9M358.9,332.9L359.4,336.7M350.1,326.1L350.1,325.2M350.1,326.1L348.2,329.0M350.1,325.2L343.8,324.8M348.2,329.0L344.1,327.4M344.1,327.4L343.8,324.8M348.3,332.0L348.2,329.0M348.3,332.0L350.1,333.5M352.1,327.8L350.1,326.1M352.1,327.8L350.5,333.3M350.1,333.5L350.5,333.3M342.4,329.7L344.1,327.4M342.4,329.7L338.8,329.0M342.6,322.9L343.8,324.8M342.7,322.1L343.2,321.6M347.0,304.4L343.2,321.6M363.5,326.4L361.2,323.5M362.2,320.0L361.2,323.5M354.3,328.9L356.3,324.7M354.3,328.9L355.4,331.8M355.4,331.8L355.6,331.8M355.6,331.8L358.4,326.9M356.3,324.7L358.4,326.9M352.1,327.8L354.3,328.9M354.3,332.5L350.5,333.3M354.3,332.5L355.4,331.8M358.9,332.9L355.6,331.8M354.8,337.4L354.3,332.5M360.7,327.7L358.4,326.9M345.8,337.6L346.6,339.4M345.8,337.6L350.1,334.1M346.6,339.4L351.3,338.7M350.1,334.1L351.3,338.7M347.0,344.6L345.1,343.4M345.1,343.4L346.6,339.4M351.9,339.3L351.3,338.7M350.1,333.5L350.1,334.1M345.7,337.6L341.7,337.9M345.7,337.6L344.2,332.9M341.7,337.9L341.3,335.6M341.3,335.6L341.5,334.5M341.5,334.5L343.7,332.8M344.2,332.9L343.7,332.8M348.3,332.0L344.2,332.9M345.8,337.6L345.7,337.6M336.6,332.3L341.5,334.5M336.7,336.6L341.3,335.6M342.4,329.7L343.7,332.8M341.5,338.3L344.0,343.5M341.5,338.3L338.6,339.4M338.6,339.4L338.4,340.6M338.4,340.6L343.9,343.6M343.9,343.6L344.0,343.5M345.1,343.4L344.0,343.5M341.7,337.9L341.5,338.3M336.6,337.5L338.6,339.4M336.7,343.4L338.4,340.6M342.6,344.6L343.9,343.6M335.0,380.5L336.4,383.6M335.0,380.5L338.2,381.2M336.4,383.6L338.4,383.9M338.4,383.9L340.2,382.7M338.2,381.2L340.2,382.6M340.2,382.6L340.2,382.7M335.1,378.2L334.2,379.6M337.5,377.1L338.2,381.2M334.2,379.6L335.0,380.5M343.0,386.0L340.2,382.7M338.1,388.9L338.4,383.9M341.7,380.1L340.2,382.6M328.8,378.1L330.3,381.0M334.2,379.6L330.5,381.1M330.3,381.0L330.5,381.1M296.9,387.0L299.0,387.8M298.5,382.7L301.0,385.3M299.0,387.8L301.0,385.3M300.9,379.9L302.8,381.3M302.8,381.3L303.9,384.7M301.0,385.3L303.9,384.7M295.8,374.0L295.4,377.0M295.8,374.0L293.1,373.1M295.4,377.0L293.2,377.2M293.2,377.2L290.6,375.1M293.1,373.1L290.7,375.0M290.7,375.0L290.6,375.1M297.8,372.8L295.8,374.0M300.8,375.5L299.9,373.5M296.0,377.5L295.4,377.0M293.3,368.5L293.1,373.1M292.5,380.1L293.2,377.2M288.2,378.8L288.6,377.1M288.6,377.1L290.6,375.1M287.9,370.7L287.9,370.8M287.9,370.8L290.7,375.0M285.0,372.1L285.5,374.9M285.5,374.9L282.3,378.0M287.9,370.8L285.0,372.1M288.6,377.1L285.5,374.9M286.0,380.0L282.3,378.0M291.3,332.3L292.4,329.5M291.3,332.3L295.5,334.2M296.3,333.5L296.4,329.0M296.3,333.5L295.5,334.2M296.4,329.0L293.1,329.0M293.1,329.0L292.4,329.5M288.1,327.1L292.4,329.5M290.5,333.0L291.3,332.3M295.8,338.1L295.5,334.2M298.3,333.7L296.3,333.5M298.8,328.2L296.4,329.0M292.7,325.3L293.1,329.0M301.5,376.2L303.1,375.9M301.5,371.1L306.0,372.6M303.1,375.9L306.0,372.6M316.0,388.7L319.1,386.2M319.1,386.2L318.5,384.4M314.3,388.7L313.8,384.4M318.5,384.4L313.8,384.4M309.9,385.0L313.2,383.8M309.9,385.0L310.4,388.3M313.8,384.4L313.2,383.8M350.4,324.4L345.7,321.7M350.4,324.4L350.5,324.3M350.5,324.3L350.0,320.7M345.7,321.7L349.3,319.7M350.1,325.2L350.4,324.4M343.2,321.6L345.7,321.7M355.7,323.1L354.0,319.4M355.7,323.1L356.1,323.3M356.1,323.3L356.3,323.1M356.3,323.1L358.7,319.2M350.5,324.3L355.7,323.1M356.3,324.7L356.1,323.3M361.2,323.5L356.3,323.1M330.8,383.7L329.3,386.3M330.8,383.7L334.2,385.6M329.3,386.3L331.2,390.0M331.2,390.0L335.1,388.1M335.1,388.1L334.2,385.6M336.4,383.6L334.2,385.6M330.5,381.1L330.8,383.7M337.5,389.2L335.1,388.1M323.2,379.0L323.2,379.6M330.3,381.0L327.3,381.9M327.3,381.9L323.2,379.6M329.2,397.2L325.3,389.3M325.3,389.3L321.2,390.1M319.1,386.2L320.1,386.8M320.1,386.8L321.2,390.1M305.3,388.2L300.4,393.3M305.3,388.2L304.9,387.2M304.9,387.2L299.7,388.9M300.4,393.3L299.7,388.9M306.0,388.8L305.3,388.2M307.9,383.9L304.9,385.4M307.9,383.9L309.9,385.0M304.9,385.4L304.9,387.2M299.0,387.8L299.7,388.9M304.9,385.4L303.9,384.7M314.3,370.7L311.2,374.0M311.7,368.3L310.5,373.2M310.5,373.2L311.2,374.0M307.3,369.0L306.7,372.2M310.5,373.2L306.7,372.2M306.0,372.6L306.7,372.3M306.7,372.2L306.7,372.3M308.1,381.8L305.4,380.0M308.1,381.8L310.1,379.4M310.1,379.4L308.9,377.1M305.4,380.0L305.9,377.7M305.9,377.7L308.6,377.0M308.9,377.1L308.6,377.0M307.9,383.9L308.1,381.8M302.8,381.3L305.4,380.0M313.5,380.0L313.2,383.8M313.5,380.0L310.1,379.4M303.1,375.9L305.9,377.7M306.7,372.3L308.6,377.0M311.2,374.0L311.3,374.8M311.3,374.8L308.9,377.1M317.3,379.9L313.9,379.8M317.3,379.9L319.4,376.4M313.9,379.8L314.0,375.8M319.4,376.4L316.0,373.9M316.0,373.9L314.0,375.8M313.5,380.0L313.9,379.8M319.1,382.4L317.3,379.9M319.1,382.4L318.5,384.4M319.8,376.3L319.4,376.4M319.1,382.4L322.3,381.6M322.3,381.6L323.2,379.6M311.3,374.8L314.0,375.8M316.0,373.7L316.0,373.9M326.9,386.8L325.3,383.5M326.9,386.8L325.6,387.9M325.6,387.9L322.8,385.9M322.8,385.9L323.5,383.3M323.5,383.3L325.3,383.5M329.3,386.3L326.9,386.8M327.3,381.9L325.3,383.5M325.3,389.3L325.6,387.9M320.1,386.8L322.8,385.9M322.3,381.6L323.5,383.3" stroke="#e3a4d2" stroke-width="0.6" opacity="0.4" fill="none"/>
<path d="M293.4 321.6h0M290.3 326.3h0M295.3 325.7h0M304.9 328.0h0M309.1 326.2h0M295.2 332.2h0M316.1 331.4h0M312.9 335.1h0M331.8 338.6h0M288.6 344.2h0M292.7 344.9h0M317.1 345.4h0M319.8 346.5h0M351.1 345.1h0M357.1 346.4h0M293.7 350.5h0M316.9 352.4h0M323.4 352.1h0M331.6 350.4h0M338.1 351.6h0M342.4 348.9h0M291.0 355.3h0M296.0 354.6h0M340.5 353.5h0M299.6 358.4h0M345.5 358.7h0M350.7 357.5h0M288.4 363.1h0M304.9 361.6h0M309.0 363.8h0M320.6 364.5h0M341.6 362.3h0M359.4 364.2h0M328.5 367.6h0M342.9 364.8h0M311.6 372.2h0M336.7 370.3h0M306.2 375.5h0M349.8 376.2h0M311.8 376.8h0M316.1 376.9h0M337.6 380.3h0M338.4 380.1h0M287.8 382.5h0M290.7 381.0h0M316.1 382.7h0M334.5 383.1h0M337.3 381.8h0M352.7 381.5h0M288.7 386.4h0M299.0 385.0h0M336.7 385.6h0M318.6 389.3h0" stroke="#6e2576" stroke-width="1.5" stroke-linecap="round" opacity="0.85"/>
<path d="M314.5 323.9h0M336.8 321.7h0M338.5 322.0h0M347.8 321.7h0M303.0 327.7h0M329.8 326.0h0M341.4 327.0h0M353.6 326.5h0M356.6 328.0h0M307.7 329.1h0M326.8 329.8h0M329.7 331.4h0M293.9 335.2h0M323.4 336.5h0M353.4 336.0h0M289.9 339.0h0M292.5 339.1h0M300.8 340.0h0M326.3 337.6h0M348.2 337.4h0M299.6 342.6h0M311.2 344.3h0M322.9 342.3h0M332.5 343.9h0M340.7 340.9h0M299.3 346.4h0M288.9 351.7h0M297.1 349.5h0M352.9 349.4h0M300.7 353.1h0M318.6 354.8h0M337.5 354.7h0M355.9 354.7h0M293.8 360.2h0M313.6 359.1h0M337.3 359.1h0M329.9 363.5h0M334.6 361.1h0M352.0 361.5h0M321.3 365.1h0M322.3 368.3h0M338.0 366.4h0M347.9 367.9h0M299.3 370.3h0M328.0 372.0h0M341.1 369.0h0M294.0 375.2h0M297.3 375.6h0M319.0 373.1h0M285.5 377.0h0M291.4 378.3h0M298.2 377.8h0M359.5 378.5h0M300.9 383.3h0M305.5 381.7h0M322.8 387.9h0M302.2 389.1h0M348.4 389.9h0" stroke="#6e2576" stroke-width="1.75" stroke-linecap="round" opacity="0.85"/>
<path d="M315.1 321.5h0M323.5 322.5h0M329.2 323.1h0M346.7 323.6h0M359.8 321.4h0M285.8 327.1h0M332.5 325.0h0M336.2 326.9h0M346.6 326.4h0M359.6 325.3h0M297.5 332.3h0M305.0 331.0h0M320.8 331.8h0M340.4 331.9h0M351.1 329.5h0M299.6 332.9h0M303.7 336.1h0M319.4 335.5h0M356.0 335.7h0M319.9 339.0h0M339.2 336.8h0M344.0 339.3h0M355.7 339.2h0M307.1 343.9h0M314.0 341.4h0M355.5 343.7h0M291.0 345.6h0M303.9 347.2h0M327.3 345.4h0M340.7 347.6h0M344.4 347.7h0M309.1 352.1h0M319.7 351.7h0M355.6 351.7h0M327.8 356.1h0M307.0 360.1h0M321.3 357.2h0M325.3 356.8h0M360.4 358.3h0M300.3 363.0h0M328.0 361.3h0M287.3 367.3h0M301.3 366.7h0M332.6 366.5h0M350.4 366.5h0M291.2 371.8h0M303.8 370.6h0M344.1 370.5h0M347.4 370.1h0M354.6 371.1h0M309.3 374.3h0M313.0 373.5h0M343.8 373.0h0M359.5 374.6h0M304.0 378.9h0M307.1 379.4h0M325.9 380.1h0M332.0 377.0h0M351.4 377.7h0M296.6 381.2h0M347.5 383.1h0M308.2 387.1h0M316.0 386.1h0M332.3 387.1h0M346.1 386.1h0M350.0 388.5h0M353.3 386.8h0M297.3 389.9h0M328.1 389.2h0" stroke="#6e2576" stroke-width="1.25" stroke-linecap="round" opacity="0.85"/>
<path d="M317.8 328.4h0M358.4 329.0h0M304.3 338.2h0M344.9 354.6h0M316.3 368.5h0M310.0 371.8h0M287.4 374.2h0M321.6 384.3h0" stroke="#6e2576" stroke-width="2.0" stroke-linecap="round" opacity="0.85"/>
<path d="M286.7 336.1h0M312.4 339.9h0M355.8 347.4h0M294.9 364.9h0M328.9 374.7h0M344.5 378.5h0M301.7 387.3h0" stroke="#6e2576" stroke-width="1.0" stroke-linecap="round" opacity="0.85"/>
<path d="M342.7 359.8h0M301.0 370.2h0M349.9 325.4h0M291.0 376.7h0M350.8 347.9h0M353.6 325.6h0M308.1 335.6h0M301.8 364.7h0M299.5 357.9h0M331.8 335.7h0M290.3 341.6h0M354.3 335.2h0M349.1 372.8h0M356.8 332.5h0M291.8 363.9h0M310.7 362.5h0M301.0 378.2h0M287.4 323.3h0M292.0 369.6h0" stroke="#f7e4f4" stroke-width="0.75" stroke-linecap="round" opacity="0.8"/>
<path d="M321.2 377.9h0M341.3 372.5h0M290.7 378.0h0M298.1 360.0h0M288.0 380.7h0M296.9 348.0h0M341.6 374.0h0M358.2 371.2h0M359.6 377.6h0M328.1 331.7h0M306.3 346.9h0M307.2 387.4h0M322.2 370.0h0" stroke="#f7e4f4" stroke-width="1.0" stroke-linecap="round" opacity="0.8"/>
<path d="M299.1 325.6h0M315.4 353.9h0M327.6 345.2h0" stroke="#f7e4f4" stroke-width="0.5" stroke-linecap="round" opacity="0.8"/>
<path d="M315.7 358.3h0M314.2 369.0h0M313.5 362.4h0M352.3 360.6h0M319.7 378.7h0" stroke="#f7e4f4" stroke-width="1.25" stroke-linecap="round" opacity="0.8"/>
<path d="M355.0 350.5h0M320.8 367.6h0M344.0 385.8h0M331.9 333.7h0M291.5 329.6h0M295.5 364.8h0M303.9 325.1h0M291.9 357.6h0M331.0 376.6h0M324.3 327.0h0M290.7 349.1h0M336.4 333.0h0M351.6 337.0h0M351.4 354.5h0M292.0 366.9h0M319.6 362.4h0M355.0 344.9h0M343.8 330.3h0M344.5 336.6h0M331.0 353.7h0M352.7 374.7h0M356.1 379.2h0M327.3 343.8h0M341.1 372.4h0M320.9 330.9h0M333.8 339.5h0M309.2 347.7h0M321.6 336.3h0M310.9 335.6h0M296.4 375.5h0M327.6 329.5h0M343.6 366.6h0M344.4 376.7h0M297.8 326.3h0M321.0 359.8h0M294.0 380.5h0M302.0 353.2h0M336.2 330.1h0M346.5 383.9h0M296.0 333.9h0M296.5 346.0h0M313.3 325.3h0M348.0 347.9h0M293.3 335.4h0M343.0 370.9h0M301.8 375.3h0M350.0 356.2h0M311.9 337.9h0M316.3 359.8h0M288.5 366.9h0M322.9 347.7h0M291.0 342.4h0M319.4 357.3h0M330.6 382.1h0M299.2 359.7h0M309.5 380.4h0M343.6 341.0h0M338.7 370.6h0M355.0 357.4h0M322.0 345.1h0M351.4 383.8h0M347.3 338.0h0M312.6 387.5h0M288.7 329.1h0M340.2 377.7h0M352.3 340.3h0M297.9 386.1h0M346.8 359.9h0M345.4 353.2h0M305.0 337.9h0M312.9 345.2h0M359.0 353.0h0M331.6 346.7h0M316.0 323.9h0M307.2 368.0h0M309.4 348.8h0M311.9 386.5h0M325.7 337.9h0M309.1 381.2h0M322.7 357.2h0M326.0 327.4h0M341.0 326.8h0M332.5 362.4h0M357.4 356.3h0M358.3 348.1h0M335.7 340.0h0M309.2 362.5h0M351.7 382.9h0M287.4 374.6h0M291.8 333.8h0M308.7 338.3h0M339.9 339.0h0M353.2 327.5h0M293.3 346.3h0M294.3 357.8h0M319.3 375.6h0M337.6 337.7h0M355.5 336.7h0M331.2 354.1h0M333.8 332.1h0M347.2 332.1h0M297.7 355.0h0M347.3 375.4h0M321.6 387.1h0M307.0 363.2h0M297.9 360.1h0M320.4 351.8h0M297.8 352.9h0M350.1 359.1h0M334.1 364.2h0M355.6 361.5h0M354.7 336.6h0M350.4 333.2h0M353.3 371.6h0M309.8 330.5h0M331.5 338.9h0M349.9 369.9h0M327.7 359.0h0M324.8 352.6h0M344.4 328.7h0M307.5 336.4h0M293.1 357.1h0M322.1 362.9h0M320.9 367.8h0M340.5 369.8h0M300.1 369.4h0M324.7 387.8h0M319.2 379.6h0M344.7 362.0h0M356.4 362.0h0M326.9 379.4h0M334.2 354.8h0M317.8 362.2h0M326.9 344.9h0M305.8 378.9h0M294.0 387.2h0M291.1 376.2h0M348.4 324.5h0M288.2 326.7h0M293.9 338.8h0M323.9 367.8h0M320.3 356.2h0M293.4 365.0h0M300.7 359.6h0M322.9 349.1h0M315.6 373.3h0M322.2 356.4h0M322.0 371.1h0M332.9 330.9h0M357.1 347.0h0M340.4 366.2h0M342.8 327.6h0M343.7 372.9h0M325.3 335.2h0M327.3 339.2h0M351.4 343.9h0M319.6 365.4h0M324.9 346.8h0M344.6 341.3h0M351.0 327.6h0M297.5 339.8h0M328.4 379.8h0M356.5 367.2h0M355.7 353.5h0M298.1 339.6h0M312.5 378.0h0M356.2 367.5h0M298.9 349.1h0M292.3 346.8h0" stroke="#e9acd9" stroke-width="0.75" stroke-linecap="round" opacity="0.7"/>
<path d="M316.1 343.5h0M317.3 335.1h0M320.6 376.6h0M327.0 378.7h0M296.0 366.7h0M351.3 359.1h0M308.1 373.4h0M321.2 323.9h0M306.4 362.2h0M344.7 342.0h0M323.9 375.3h0M354.0 354.6h0M318.0 362.2h0M319.5 342.3h0M297.1 380.9h0M353.7 336.7h0M332.0 344.0h0M323.8 332.3h0M317.7 368.3h0M299.6 376.7h0M334.0 346.8h0M300.0 386.4h0M296.6 368.7h0M331.7 373.1h0M350.8 386.0h0M334.2 347.5h0M313.8 365.1h0M312.8 378.1h0M336.3 377.9h0M293.4 339.7h0M303.7 380.1h0M318.0 341.2h0M289.5 364.6h0M292.9 374.5h0M288.4 352.6h0M310.4 325.5h0M312.9 386.2h0M354.1 379.4h0M342.2 365.0h0M325.7 350.0h0M338.9 367.8h0M356.7 343.3h0M343.7 344.7h0M345.5 323.3h0M306.6 373.0h0M335.6 350.0h0M301.6 357.7h0M287.5 387.2h0M314.8 333.5h0M358.0 334.7h0M352.5 382.2h0M334.2 369.9h0M318.9 352.8h0M314.1 352.7h0M338.8 344.3h0M297.8 326.1h0M318.1 384.3h0M289.5 343.7h0M309.8 332.1h0M294.9 324.2h0M304.0 370.1h0M320.0 346.2h0M344.8 340.2h0M309.2 351.9h0M308.0 342.2h0M355.5 361.8h0M292.5 339.1h0M291.0 349.9h0M295.6 325.1h0M288.7 380.2h0M294.6 374.1h0M323.0 345.5h0M323.7 374.5h0M352.0 370.2h0M320.7 357.8h0M291.1 371.9h0M341.9 354.9h0M319.6 340.9h0M295.2 344.8h0M321.5 351.4h0M320.6 364.9h0M304.5 338.9h0M357.3 386.2h0M321.5 371.6h0M324.2 340.8h0M335.2 344.2h0M354.3 377.7h0M340.3 377.4h0M290.4 327.2h0M319.7 367.0h0M337.5 347.0h0M292.2 381.5h0M320.0 367.3h0M295.2 323.4h0M331.4 370.6h0M335.4 326.7h0M353.3 366.5h0M345.8 385.4h0M330.3 378.5h0M312.7 387.5h0M330.6 350.6h0M307.9 376.0h0M343.4 333.4h0M347.0 329.0h0M296.5 369.7h0M351.5 376.2h0M319.6 325.0h0M336.4 330.8h0M338.1 344.5h0M329.2 350.0h0M312.6 373.2h0M341.7 386.8h0M298.0 325.1h0M310.0 376.8h0M294.7 325.1h0M350.6 326.5h0M304.1 367.7h0M326.5 326.5h0M290.4 380.2h0M318.7 363.1h0M346.8 339.0h0M344.7 323.4h0M322.2 341.4h0M293.8 368.2h0M348.8 380.3h0M358.6 334.2h0M296.5 328.6h0M330.3 364.9h0M350.1 367.4h0M322.7 382.3h0M312.3 326.8h0M336.3 384.9h0M320.7 328.4h0M344.4 360.1h0M296.0 328.3h0M297.2 376.8h0M307.3 377.6h0M301.8 351.2h0M290.7 359.4h0M288.4 325.1h0M329.0 339.2h0M331.2 342.0h0M306.0 379.5h0M329.5 339.9h0M343.5 332.4h0M331.0 383.8h0M329.4 344.2h0M328.6 339.2h0M289.3 347.0h0M348.6 358.6h0M331.2 359.0h0M355.8 342.2h0M333.8 362.1h0M331.9 358.8h0M308.2 347.3h0M356.4 386.8h0M359.4 363.5h0M293.6 324.3h0M339.3 363.1h0M318.9 371.3h0M333.2 358.7h0M327.8 329.1h0M322.1 334.0h0M353.1 352.3h0M320.6 333.8h0M326.3 353.8h0M298.8 338.2h0M332.2 353.9h0M338.9 351.5h0M350.3 351.6h0M329.1 357.1h0M327.9 384.8h0M289.4 334.6h0M322.8 386.0h0M336.0 338.7h0M322.3 336.2h0M345.6 340.9h0M337.2 361.2h0M289.8 328.7h0M301.5 340.3h0M319.6 332.7h0M359.3 363.5h0M326.3 368.7h0M344.2 339.3h0M294.8 331.5h0M355.6 351.3h0M355.7 352.5h0M335.0 382.9h0M310.2 357.2h0M340.3 339.6h0M305.2 361.9h0M336.8 350.8h0M327.2 330.0h0M324.1 375.1h0M300.9 357.2h0M320.6 364.4h0M334.0 349.8h0M347.2 373.2h0M335.2 339.3h0M327.1 362.5h0M304.6 342.9h0M319.7 351.0h0M342.0 372.9h0M339.8 386.2h0M347.3 350.3h0M355.3 366.9h0M347.7 334.7h0M294.1 347.8h0M346.5 341.9h0M329.4 361.2h0M317.7 383.9h0M308.5 358.9h0M327.2 339.8h0M321.1 346.0h0M289.3 357.2h0M316.4 381.7h0M340.3 333.3h0M314.7 344.9h0M344.9 346.1h0M354.7 350.0h0M332.3 323.7h0" stroke="#e9acd9" stroke-width="1.0" stroke-linecap="round" opacity="0.7"/>
<path d="M328.7 366.9h0M349.8 367.1h0M331.2 367.4h0M322.0 346.4h0M334.5 353.7h0M292.6 383.0h0M294.6 374.9h0M297.6 364.6h0M317.0 333.3h0M329.1 381.3h0M353.9 362.1h0M355.2 334.3h0M336.6 336.4h0M325.3 376.3h0M321.7 347.5h0M303.6 370.7h0M355.4 383.6h0M303.7 385.4h0M322.6 381.1h0M317.4 368.2h0M336.3 324.5h0M331.8 364.6h0M347.4 363.7h0M359.0 353.2h0M338.0 361.7h0M341.4 377.6h0M335.4 381.9h0M292.8 329.6h0M290.1 357.3h0M307.3 341.8h0M301.1 323.3h0M331.6 363.5h0M317.7 347.0h0M357.3 382.5h0M326.1 369.5h0M290.9 331.0h0M318.5 379.3h0M342.1 380.4h0M346.5 371.1h0M351.9 345.6h0M307.1 346.7h0M347.3 377.3h0M296.2 351.7h0M340.4 361.1h0M338.2 350.9h0M313.2 333.9h0M349.5 323.6h0M345.5 338.6h0M349.2 361.5h0M322.0 330.3h0M359.4 344.8h0M305.6 342.5h0M296.5 324.8h0M325.8 380.2h0M307.4 354.1h0M297.2 381.7h0M342.5 363.9h0M335.0 341.7h0M318.3 386.4h0M338.4 377.7h0" stroke="#e9acd9" stroke-width="1.25" stroke-linecap="round" opacity="0.7"/>
<path d="M292.7 350.6h0M335.5 338.4h0M317.2 385.1h0M307.0 343.3h0M312.5 338.9h0M311.1 370.1h0M289.2 357.2h0M298.8 329.3h0M293.0 332.3h0M308.8 374.1h0M346.7 348.4h0M295.0 351.2h0M298.5 328.0h0M355.2 388.0h0M340.4 362.2h0M299.7 364.8h0M295.5 372.6h0M308.0 373.8h0M291.7 325.6h0M350.9 358.5h0M334.6 345.4h0M339.1 334.0h0M359.3 362.7h0M321.2 340.8h0M340.3 379.0h0M337.4 328.3h0M354.6 363.1h0M301.6 374.7h0M290.1 363.1h0M334.4 334.9h0M300.5 356.1h0M299.4 325.9h0M335.5 339.5h0M317.9 352.8h0M334.3 353.4h0M340.3 371.7h0M345.1 363.5h0M292.7 346.8h0M293.2 377.4h0M338.1 336.6h0M292.8 378.5h0M340.9 365.3h0M342.3 355.8h0M320.7 352.1h0M344.4 361.3h0M307.0 381.3h0M312.4 325.1h0M332.2 385.4h0M307.2 346.7h0M344.3 372.0h0M320.8 342.4h0M302.1 324.1h0M291.0 325.1h0M303.5 333.3h0M313.9 361.1h0M341.3 336.4h0M340.6 375.0h0M353.3 387.1h0M313.3 340.5h0M334.4 348.3h0M358.3 347.8h0M353.7 345.1h0M344.4 384.2h0M325.7 329.1h0M324.0 373.9h0M356.4 326.4h0M296.0 329.9h0M303.2 361.8h0M337.7 347.3h0M312.8 383.6h0M329.5 343.4h0M291.1 377.7h0M299.8 342.1h0M317.0 327.9h0M289.3 368.2h0M309.7 362.1h0M329.4 328.8h0M356.7 332.7h0M304.9 324.3h0M322.2 338.2h0M351.4 355.6h0M312.9 372.0h0M339.3 339.5h0M345.9 362.0h0M339.8 368.1h0M337.3 382.7h0M335.1 358.8h0M323.6 343.4h0M332.1 348.9h0M321.3 330.4h0M357.8 329.2h0M331.7 362.9h0M324.0 387.3h0M318.8 375.9h0M302.7 338.2h0M354.2 337.9h0M351.7 370.0h0M357.2 342.1h0M352.9 374.5h0M294.1 363.8h0M293.6 367.6h0M296.2 356.5h0M313.4 357.8h0M289.0 379.8h0M340.6 345.4h0M300.9 353.0h0M301.7 361.2h0M292.7 365.0h0M331.9 346.8h0M330.6 363.0h0M356.5 332.1h0M325.0 326.9h0M339.2 330.8h0M307.7 352.4h0M312.6 336.8h0M317.8 377.4h0M346.2 353.8h0M305.8 349.7h0M306.4 334.9h0M300.9 343.5h0M347.7 377.3h0M310.4 334.5h0M305.1 387.6h0M340.6 346.2h0M290.8 358.5h0M349.8 387.9h0M304.8 387.0h0M290.1 336.7h0M344.9 371.2h0M343.2 358.2h0M325.4 382.7h0M316.3 323.3h0M294.1 350.9h0M296.5 347.6h0M341.2 349.6h0M344.5 369.9h0M315.3 343.5h0M288.8 381.1h0M338.9 344.8h0M346.1 329.3h0M338.5 353.2h0M316.8 342.1h0M341.9 387.4h0M349.0 386.4h0M322.7 330.0h0M326.2 345.0h0M290.8 367.8h0M318.6 342.4h0M294.2 359.2h0M327.9 362.8h0M290.0 358.1h0M307.0 336.7h0M332.5 380.3h0M330.0 379.9h0M306.7 347.9h0M355.5 364.7h0M304.0 364.1h0M353.5 353.5h0M300.6 346.2h0M308.5 370.5h0M359.7 361.4h0M324.0 387.3h0M324.3 324.3h0M292.9 331.1h0M298.1 365.3h0M340.4 383.9h0M357.6 372.6h0M338.1 350.6h0M319.7 379.6h0M322.2 383.7h0M303.5 368.7h0M309.3 337.3h0M344.9 365.3h0M344.7 371.0h0M350.5 357.6h0M346.5 356.9h0" stroke="#8e3a8c" stroke-width="1.0" stroke-linecap="round" opacity="0.7"/>
<path d="M348.3 364.2h0M335.8 384.1h0M337.3 366.9h0M290.9 334.7h0M300.5 341.8h0M325.2 347.4h0M336.4 325.9h0M308.3 348.6h0M326.4 367.4h0M318.9 362.8h0M302.4 354.9h0M325.4 326.8h0M343.1 385.9h0M315.9 372.1h0M324.3 349.9h0M299.3 340.5h0M340.9 343.2h0M295.8 371.4h0M295.4 325.7h0M349.0 364.0h0M288.0 334.4h0M356.6 325.5h0M340.4 372.6h0M353.1 359.9h0M339.7 372.4h0M335.6 351.6h0M327.3 344.0h0M344.2 327.3h0M331.1 358.3h0M327.9 357.1h0M307.3 362.5h0M296.6 334.7h0M345.7 357.6h0M310.5 326.6h0M350.4 342.5h0M320.1 386.0h0M321.6 365.1h0M293.0 328.3h0M328.3 334.3h0M293.2 351.2h0M316.2 345.9h0M346.6 328.1h0M301.6 352.9h0M324.5 327.7h0M324.1 358.1h0M294.2 382.3h0M356.9 335.3h0M326.9 364.7h0M303.2 362.3h0M345.7 378.6h0M332.6 359.0h0M304.6 328.7h0M332.5 323.6h0M313.4 343.2h0M312.8 371.2h0M299.8 350.4h0M355.4 342.6h0M333.4 323.3h0M345.6 387.9h0M352.0 383.1h0M341.8 342.2h0M356.5 370.2h0M294.6 334.4h0M328.6 344.1h0M355.4 327.2h0M333.6 384.9h0M328.1 366.0h0M293.9 329.1h0M317.3 344.8h0M333.2 382.8h0M293.5 359.5h0M337.9 346.2h0M351.6 331.4h0M296.6 357.6h0M334.6 383.3h0M313.9 336.9h0M293.4 352.6h0M308.4 345.1h0M329.0 325.8h0M337.0 380.7h0M288.6 325.0h0M318.3 323.6h0M296.6 379.8h0M295.4 351.7h0M357.2 364.4h0M289.0 383.9h0M315.9 378.4h0M312.6 344.0h0M346.5 354.3h0M306.3 373.3h0M305.8 371.8h0M353.6 358.5h0M346.3 380.4h0M351.2 385.3h0M344.0 384.5h0M328.6 368.9h0M333.0 380.5h0M340.7 329.1h0M314.3 339.0h0M333.2 351.1h0M323.1 356.0h0M352.9 326.8h0M344.8 343.6h0M312.2 370.5h0M332.4 329.8h0M304.1 329.8h0M312.1 329.1h0M332.9 382.2h0M302.2 329.7h0M334.8 325.1h0M358.6 347.5h0M322.3 363.6h0M307.2 342.1h0M337.6 328.9h0M335.7 371.3h0M289.6 330.7h0M312.3 354.0h0M358.6 382.4h0M301.9 380.2h0M354.3 377.9h0M354.6 360.3h0M287.8 383.9h0M348.7 324.0h0M295.5 341.8h0" stroke="#8e3a8c" stroke-width="0.75" stroke-linecap="round" opacity="0.7"/>
</g></g>
<g stroke="#f8e6f4" stroke-width="0.8" fill="none" opacity="0.8" stroke-linecap="round" filter="url(#bl)"><path d="M320,353 Q312,349 303,344.5 M321,357 Q319,366 318.5,372 Q318,378 317.5,386 M327,354.5 Q336,355 346,354 M303,344.5 L296,342 M333,343 L330,348 M309,368 L304,374"/></g>
<path d="M319.5,352.5 Q321,349.8 324,350.5 Q327.5,351.5 327,354.5 Q326,357.2 322,356.6 Q318.8,355.8 319.5,352.5Z" fill="#fbf3fa" filter="url(#bl)"/>
<rect x="355.2" y="386.7" width="4.1" height="2.1" fill="#111"/>
<g clip-path="url(#c2)"><g filter="url(#bl)"><rect x="362" y="322.2" width="75.5" height="66.8" fill="#c46caf"/>
<path d="M385.7 336.6h0M413.9 326.7h0M402.8 370.6h0M401.1 367.5h0M413.8 357.0h0M414.7 347.7h0M390.7 363.5h0M373.7 359.8h0M388.5 369.3h0M416.0 355.9h0M429.4 386.9h0M397.0 325.7h0M375.5 336.8h0M406.1 376.3h0M431.8 344.2h0M426.2 366.9h0M383.5 336.8h0M424.5 367.3h0" stroke="#dc95cc" stroke-width="2.25" stroke-linecap="round" opacity="0.5"/>
<path d="M366.9 334.8h0M420.3 329.6h0M382.3 359.9h0M392.7 376.5h0M395.2 348.8h0M426.4 341.6h0M414.9 325.4h0M366.7 325.8h0M414.8 354.8h0M419.1 374.8h0M425.5 356.7h0M379.4 382.8h0M430.6 380.8h0M426.3 382.5h0M372.3 330.3h0" stroke="#dc95cc" stroke-width="2.75" stroke-linecap="round" opacity="0.5"/>
<path d="M375.4 355.0h0M375.3 370.7h0M429.2 326.1h0M386.3 383.1h0" stroke="#dc95cc" stroke-width="3.25" stroke-linecap="round" opacity="0.5"/>
<path d="M405.8 358.2h0M433.4 346.7h0M377.9 359.1h0M420.7 345.7h0M405.8 381.0h0M414.2 344.2h0M391.3 379.4h0M375.7 325.6h0M417.1 326.1h0M410.2 335.0h0M365.9 343.7h0M406.4 336.3h0M426.5 333.7h0M374.9 354.9h0M381.8 378.2h0M366.6 338.5h0M381.4 348.5h0M434.0 325.9h0M433.7 381.0h0" stroke="#dc95cc" stroke-width="3.0" stroke-linecap="round" opacity="0.5"/>
<path d="M396.0 346.1h0M428.2 331.4h0M364.0 335.5h0M398.2 340.1h0M417.3 355.3h0M398.6 325.7h0M404.3 373.1h0M396.2 373.1h0M384.2 329.1h0M414.4 346.4h0M390.2 376.6h0M426.3 366.2h0M412.1 354.5h0" stroke="#dc95cc" stroke-width="1.75" stroke-linecap="round" opacity="0.5"/>
<path d="M385.4 332.0h0M399.7 385.6h0M423.9 342.2h0M363.1 349.4h0M422.8 342.6h0M429.9 374.9h0M365.4 337.3h0M430.8 373.9h0M375.6 341.7h0M403.0 358.8h0M375.3 359.4h0M418.4 329.4h0M391.0 352.4h0M410.2 341.2h0M399.8 360.4h0M389.9 325.4h0M427.8 353.4h0M372.2 355.8h0M424.2 352.6h0M368.9 364.4h0M367.8 379.4h0M390.4 381.8h0" stroke="#dc95cc" stroke-width="2.0" stroke-linecap="round" opacity="0.5"/>
<path d="M424.7 365.4h0M413.7 350.0h0M385.3 333.9h0M403.6 387.2h0M408.0 374.9h0M399.6 346.5h0M435.1 345.4h0M391.3 363.0h0M365.7 344.7h0M435.9 344.2h0M368.0 375.0h0M366.7 345.8h0M403.2 325.8h0M434.9 337.5h0M428.2 329.3h0M375.9 331.4h0M394.3 378.5h0" stroke="#dc95cc" stroke-width="2.5" stroke-linecap="round" opacity="0.5"/>
<path d="M418.4 378.7h0M412.8 378.5h0" stroke="#dc95cc" stroke-width="1.5" stroke-linecap="round" opacity="0.5"/>
<path d="M362.1,375.4L361.3,370.3M362.1,375.4L357.9,376.7M358.2,369.6L361.3,370.3M437.1,390.3L440.9,388.9M439.0,383.4L435.9,380.5M453.3,377.9L436.3,378.8M435.9,380.5L436.3,378.8M447.0,298.2L437.0,321.9M435.2,320.7L437.0,321.9M476.2,355.4L436.7,354.7M439.0,358.8L435.4,355.8M435.4,355.8L435.3,355.6M436.7,354.7L435.3,355.6M427.8,361.6L430.5,358.9M427.8,361.6L430.7,364.0M430.7,364.0L433.0,362.2M430.5,358.9L433.0,362.2M439.0,358.8L437.3,361.5M435.4,355.8L433.1,362.2M433.1,362.2L434.0,362.5M437.3,361.5L434.0,362.5M439.4,350.9L436.7,354.7M438.4,385.6L436.8,386.1M438.4,385.6L439.0,383.4M435.9,380.5L433.4,382.1M436.8,386.1L433.3,383.5M433.4,382.1L433.3,383.5M369.0,320.3L370.4,321.5M375.2,319.7L370.4,321.5M437.0,321.9L437.3,323.1M437.3,323.1L443.5,325.9M416.3,362.9L414.7,362.8M416.3,362.9L416.5,362.9M414.7,362.8L411.9,366.2M416.5,362.9L417.3,364.5M417.3,364.5L416.1,366.9M416.1,366.9L411.9,366.2M437.3,361.5L440.8,365.5M440.9,388.9L438.4,385.6M364.2,377.9L366.5,378.0M364.2,377.9L363.5,375.8M366.5,378.0L367.7,375.7M367.7,375.7L365.2,374.2M363.5,375.8L365.2,374.2M364.0,378.4L367.4,382.9M364.0,378.4L364.2,377.9M368.9,380.2L366.5,378.0M368.9,380.2L368.7,381.4M367.4,382.9L368.7,381.4M362.1,375.4L363.5,375.8M357.9,376.7L361.9,380.7M364.0,378.4L361.9,380.7M368.9,380.2L371.3,377.7M369.9,375.3L371.3,377.7M369.9,375.3L367.7,375.7M361.3,370.3L361.5,370.3M365.2,374.2L365.9,371.6M361.5,370.3L365.9,371.6M360.6,363.4L363.5,367.4M361.5,370.3L363.5,367.4M360.6,363.4L361.5,362.9M363.5,367.4L366.1,366.9M366.1,366.9L364.9,363.1M361.5,362.9L364.9,363.1M362.3,381.8L361.8,384.8M362.3,381.8L367.2,383.3M361.8,384.8L365.7,386.0M365.7,386.0L367.2,383.9M367.2,383.3L367.2,383.9M361.9,380.7L361.9,381.1M367.4,382.9L367.2,383.3M361.9,381.1L362.3,381.8M365.3,388.2L365.7,386.0M365.3,388.2L367.3,391.0M367.3,391.0L370.6,388.4M370.6,388.4L370.7,386.5M370.7,386.5L367.2,383.9M361.6,385.0L351.3,385.4M361.6,385.0L361.8,388.7M361.5,389.0L361.8,388.7M361.5,389.0L322.5,391.9M361.9,381.1L351.3,385.4M361.8,384.8L361.6,385.0M365.3,388.2L361.8,388.7M366.8,404.3L361.5,389.0M382.9,359.6L384.2,360.1M382.9,359.6L381.9,359.8M381.9,359.8L381.0,362.0M384.2,360.1L384.6,361.1M384.6,361.1L381.8,363.7M381.0,362.0L381.8,363.7M378.5,357.9L377.4,359.8M378.5,357.9L381.9,359.8M377.8,361.9L377.2,361.2M377.8,361.9L381.0,362.0M377.4,359.8L377.2,361.2M388.4,358.3L387.3,357.0M388.4,358.3L388.3,361.8M387.3,357.0L384.2,360.1M388.3,361.8L386.7,363.0M386.7,363.0L384.6,361.1M392.5,354.9L394.8,357.4M392.5,354.9L393.8,351.2M393.8,351.2L394.3,351.0M394.3,351.0L397.0,353.2M394.8,357.4L397.0,353.2M392.5,354.9L391.5,355.2M391.5,355.2L388.0,354.5M391.9,350.6L393.8,351.2M391.9,350.6L389.0,352.2M389.0,352.2L388.0,354.5M390.9,358.4L391.5,355.2M390.9,358.4L388.4,358.3M387.3,357.0L387.0,355.3M388.0,354.5L387.0,355.3M391.9,350.6L391.0,349.0M394.3,351.0L395.9,348.3M395.9,348.3L393.9,346.2M391.0,349.0L393.9,346.2M398.1,345.8L398.3,347.1M398.1,345.8L393.8,343.1M398.3,347.1L395.9,348.3M393.8,343.1L392.3,343.8M393.9,346.2L392.3,343.8M398.1,345.8L399.0,341.5M393.8,343.1L396.2,340.4M396.2,340.4L398.3,340.8M399.0,341.5L398.3,340.8M421.6,365.3L421.0,366.4M421.6,365.3L424.4,362.9M424.2,368.5L427.0,366.0M424.2,368.5L421.0,366.5M421.0,366.5L421.0,366.4M424.4,362.9L427.0,366.0M416.5,362.9L419.5,360.6M419.5,360.6L421.6,365.3M417.3,364.5L421.0,366.4M424.7,360.6L424.4,362.9M424.7,360.6L427.8,361.6M430.7,364.0L430.6,364.2M430.6,364.2L429.1,366.3M429.1,366.3L427.0,366.0M434.0,362.5L436.0,366.1M440.8,365.5L437.8,367.0M436.0,366.1L437.8,367.0M433.1,362.2L433.0,362.2M430.6,364.2L433.8,367.6M436.0,366.1L433.8,367.6M416.3,362.9L415.9,357.8M414.7,362.8L412.9,360.8M412.9,360.8L415.9,357.8M419.5,360.6L419.9,359.9M415.9,357.8L416.1,357.2M416.1,357.2L418.1,356.6M418.1,356.6L419.9,359.9M409.9,391.0L411.0,389.7M411.0,389.7L407.7,385.0M405.7,390.1L405.8,386.0M407.7,385.0L405.8,386.0M429.1,366.3L429.8,369.0M424.2,368.5L424.4,369.3M424.4,369.3L425.3,370.8M425.3,370.8L429.8,369.0M436.8,386.1L434.2,389.3M433.3,383.5L431.2,387.0M431.2,387.0L434.2,389.3M434.6,390.3L434.2,389.3M370.1,374.1L369.9,375.3M370.1,374.1L374.2,373.4M374.2,373.4L375.7,375.4M371.3,377.7L373.1,377.9M375.7,375.4L373.1,377.9M399.8,380.8L398.9,382.7M399.8,380.8L403.3,381.7M403.3,381.7L404.2,385.7M404.2,385.7L400.5,386.2M400.5,386.2L398.9,382.7M361.5,362.9L362.1,360.3M362.1,360.3L359.5,356.1M366.5,358.7L366.9,361.6M366.5,358.7L368.7,357.5M368.7,357.5L372.0,358.1M369.2,362.5L366.9,361.6M369.2,362.5L371.9,360.6M371.9,360.6L372.0,358.1M372.0,358.1L372.0,358.1M364.9,363.1L366.9,361.6M362.1,360.3L365.0,357.7M365.0,357.7L366.5,358.7M373.9,365.1L370.2,366.4M373.9,365.1L374.2,362.4M370.2,366.4L369.2,362.5M374.2,362.4L371.9,360.6M377.4,359.8L372.0,358.1M377.2,361.2L374.2,362.4M378.5,357.4L375.6,355.2M378.5,357.4L378.5,357.9M372.0,358.1L373.1,355.6M375.6,355.2L373.1,355.6M374.8,341.4L375.6,338.7M374.8,341.4L375.2,343.1M375.6,338.7L381.0,341.4M381.0,341.4L375.6,343.4M375.2,343.1L375.6,343.4M381.0,321.4L383.3,320.1M381.0,321.4L381.4,323.2M383.3,320.1L385.9,321.7M381.4,323.2L383.7,324.5M383.7,324.5L384.7,324.4M384.7,324.4L385.9,321.7M384.8,330.7L383.3,328.7M384.8,330.7L385.3,330.6M385.3,330.6L387.9,325.7M383.3,328.7L383.7,324.5M384.7,324.4L387.9,325.7M395.3,363.5L397.4,360.8M395.3,363.5L392.2,362.5M392.1,362.3L392.2,362.5M392.1,362.3L392.9,359.7M392.9,359.7L395.0,358.5M395.0,358.5L397.3,359.3M397.4,360.8L397.3,359.3M396.7,366.6L395.3,363.5M396.7,366.6L398.7,366.4M399.9,364.7L399.5,366.0M399.9,364.7L397.4,360.8M398.7,366.4L399.5,366.0M390.9,358.4L392.9,359.7M388.3,361.8L392.1,362.3M394.8,357.4L395.0,358.5M399.9,364.7L402.9,362.3M399.8,358.2L397.3,359.3M399.8,358.2L400.8,358.5M402.9,362.3L400.8,358.5M390.1,381.7L390.8,380.1M390.1,381.7L394.6,383.6M394.6,383.6L395.9,382.8M395.9,382.8L394.7,378.7M390.8,380.1L394.7,378.7M396.0,370.8L394.0,374.9M396.0,370.8L394.5,368.3M393.4,368.3L394.5,368.3M393.4,368.3L391.9,370.8M391.9,370.8L393.6,374.8M393.6,374.8L394.0,374.9M396.7,366.6L394.5,368.3M398.7,366.4L399.2,372.3M399.2,372.3L396.0,370.8M377.8,361.9L378.3,364.9M373.9,365.1L375.4,366.3M375.4,366.3L378.3,364.9M381.7,366.0L381.8,363.7M381.7,366.0L381.1,366.3M381.1,366.3L378.3,364.9M367.9,368.1L367.5,370.6M367.9,368.1L370.1,366.6M370.1,366.6L373.6,370.4M373.6,370.4L369.5,372.2M369.5,372.2L367.5,370.6M365.9,371.6L367.5,370.6M366.1,366.9L367.9,368.1M370.2,366.4L370.1,366.6M373.6,370.4L375.8,369.2M373.6,370.4L373.6,370.4M375.4,366.3L375.8,369.2M370.1,374.1L369.5,372.2M374.2,373.4L373.6,370.4M392.2,362.5L391.4,366.0M393.4,368.3L392.2,367.3M392.2,367.3L391.4,366.0M386.7,363.0L386.4,365.4M391.4,366.0L386.4,365.4M381.7,366.0L385.1,367.0M386.4,365.4L385.1,367.0M370.4,321.5L370.8,322.9M370.8,322.9L365.9,325.7M366.4,320.9L365.4,323.9M365.9,325.7L365.4,323.9M369.4,332.9L371.0,331.2M369.4,332.9L370.6,335.2M370.6,335.2L371.8,335.8M372.3,335.9L371.8,335.8M372.3,335.9L375.4,332.3M371.0,331.2L375.4,332.3M375.5,338.3L372.3,335.9M375.5,338.3L377.2,337.0M377.2,337.0L377.8,332.9M377.8,332.9L376.7,331.4M376.7,331.4L375.4,332.3M399.8,358.2L399.5,354.5M397.0,353.2L399.0,353.5M399.5,354.5L399.0,353.5M398.3,347.1L400.0,347.8M400.0,347.8L399.3,353.0M399.3,353.0L399.0,353.5M385.1,354.4L383.8,352.0M385.1,354.4L383.1,355.9M383.8,352.0L380.1,352.4M383.1,355.9L379.8,356.0M379.8,356.0L380.1,352.4M389.0,352.2L386.4,349.0M386.4,349.0L384.1,351.0M384.1,351.0L383.8,352.0M387.0,355.3L385.1,354.4M382.9,359.6L383.1,355.9M378.5,357.4L379.8,356.0M399.0,341.5L401.3,341.6M398.3,340.8L400.4,335.1M402.4,339.5L401.3,341.6M402.4,339.5L403.1,336.9M403.1,336.9L400.4,335.1M396.2,340.4L394.2,337.2M394.2,337.2L394.0,336.7M395.7,335.4L394.0,336.7M395.7,335.4L400.3,335.1M400.3,335.1L400.4,335.1M410.6,320.6L411.4,322.0M412.9,304.4L415.8,321.9M411.4,322.0L415.8,321.9M405.8,372.0L407.9,368.5M405.8,372.0L402.9,370.3M402.9,368.4L402.9,370.3M402.9,368.4L405.6,366.6M405.6,366.6L408.1,367.6M408.1,367.6L407.9,368.5M399.5,366.0L402.9,368.4M399.2,372.3L399.7,372.9M399.7,372.9L400.1,372.9M400.1,372.9L402.9,370.3M402.9,362.3L405.1,362.6M405.1,362.6L405.6,366.6M402.2,375.9L400.1,372.9M402.2,375.9L406.2,374.4M405.8,372.0L406.7,373.6M406.2,374.4L406.7,373.6M437.8,367.0L437.5,368.8M437.5,368.8L439.4,373.0M436.3,378.8L436.1,378.4M436.1,378.4L437.8,373.8M437.8,373.8L439.4,373.0M411.0,366.8L410.9,366.9M411.0,366.8L409.3,362.8M410.9,366.9L408.1,367.6M405.1,362.6L405.6,362.2M409.3,362.8L405.6,362.2M414.5,356.6L412.0,360.4M414.5,356.6L411.8,354.6M411.7,354.7L411.8,354.6M411.7,354.7L410.3,358.5M410.3,358.5L411.3,360.2M412.0,360.4L411.3,360.2M412.9,360.8L412.0,360.4M416.1,357.2L414.5,356.6M409.3,362.8L411.3,360.2M405.6,362.2L406.6,358.3M406.6,358.3L410.3,358.5M411.9,366.2L411.0,366.8M437.1,348.2L437.6,344.4M437.1,348.2L435.9,348.7M435.9,348.7L432.6,346.3M432.6,346.3L432.9,344.7M432.9,344.7L437.3,344.3M437.6,344.4L437.3,344.3M428.2,357.8L424.1,354.3M428.2,357.8L424.7,360.6M424.7,360.6L423.9,359.9M423.9,359.9L423.7,354.9M424.1,354.3L423.7,354.9M424.7,360.6L424.7,360.6M430.5,358.9L429.8,357.2M429.8,357.2L428.2,357.8M419.9,359.9L423.9,359.9M418.1,356.6L418.4,356.0M418.4,356.0L418.5,356.0M418.5,356.0L423.7,354.9M404.0,378.7L405.0,380.3M404.0,378.7L406.6,377.1M405.0,380.3L407.3,381.1M407.3,381.1L407.8,378.4M406.6,377.1L407.8,378.4M402.0,377.4L404.0,378.7M402.0,377.4L402.2,375.9M406.2,374.4L406.6,377.1M407.7,385.0L407.8,384.8M403.3,381.7L405.0,380.3M404.2,385.7L405.8,386.0M407.8,384.8L407.9,382.2M407.9,382.2L407.3,381.1M421.0,366.5L419.1,369.6M424.4,369.3L421.1,371.2M419.1,369.6L421.1,371.2M428.3,383.2L426.6,381.9M428.3,383.2L432.0,381.4M426.6,381.9L427.8,378.3M432.0,381.4L429.8,378.3M429.8,378.3L428.4,377.9M428.4,377.9L427.8,378.3M436.1,378.4L432.9,376.5M433.4,382.1L432.0,381.4M432.9,376.5L429.8,378.3M425.1,382.5L426.6,381.9M425.1,382.5L423.9,385.5M423.9,385.5L424.4,386.3M424.4,386.3L425.8,386.5M428.3,383.2L429.1,386.2M429.1,386.2L425.8,386.5M431.2,387.0L430.5,387.1M429.1,386.2L430.5,387.1M420.4,390.2L418.7,387.9M418.7,387.9L414.9,391.8M411.0,389.7L412.9,389.4M412.9,389.4L414.9,391.8M432.3,397.4L429.1,389.4M427.5,390.0L429.1,389.4M423.4,390.7L424.4,386.3M425.8,386.5L427.5,390.0M430.5,387.1L429.1,389.4M376.0,375.4L378.3,379.8M376.0,375.4L378.8,374.0M378.3,379.8L380.2,378.5M380.2,378.5L380.3,374.8M380.3,374.8L378.8,374.0M375.7,375.4L376.0,375.4M375.8,369.2L378.7,370.4M378.8,374.0L378.7,370.4M381.1,366.3L378.7,370.4M378.7,370.4L378.7,370.4M373.0,389.9L375.4,389.4M373.0,389.9L367.1,409.4M375.4,389.4L377.4,401.1M370.6,388.4L373.0,389.9M384.2,389.4L385.2,390.5M384.2,389.4L380.6,390.5M403.4,391.4L400.5,389.4M400.5,386.2L400.2,386.7M400.2,386.7L400.5,389.4M399.4,390.7L400.5,389.4M391.3,389.6L390.5,388.5M391.3,389.6L394.4,390.6M390.3,387.0L394.4,385.5M390.3,387.0L390.5,388.5M394.4,385.5L395.7,387.8M395.7,387.8L394.7,390.2M385.2,390.5L390.5,388.5M387.4,395.5L391.3,389.6M390.1,381.7L389.3,382.2M389.3,382.2L389.2,382.3M389.2,382.3L389.1,384.8M394.6,383.6L394.4,385.5M389.3,385.8L389.1,384.8M389.3,385.8L390.3,387.0M384.2,389.4L384.2,389.3M389.3,385.8L384.2,389.3M398.9,382.7L395.9,382.8M400.2,386.7L395.7,387.8M365.0,357.7L364.7,356.9M364.7,356.9L360.0,355.4M368.7,357.5L368.5,355.4M373.1,355.6L372.6,354.8M372.6,354.8L368.5,355.4M380.8,346.8L380.5,346.9M380.8,346.8L384.1,351.0M380.1,352.4L378.3,351.0M380.5,346.9L378.3,351.0M375.6,355.2L377.2,351.2M378.3,351.0L377.2,351.2M372.6,354.8L371.3,351.9M377.2,351.2L374.9,349.8M371.3,351.9L374.9,349.8M380.5,346.9L376.6,345.4M376.6,345.4L374.8,348.5M374.9,349.8L374.8,348.5M360.0,355.4L362.3,351.4M362.3,351.4L361.0,350.1M376.1,344.3L375.6,343.4M376.1,344.3L376.6,345.4M375.2,343.1L372.5,344.9M374.8,348.5L371.7,346.6M372.5,344.9L371.7,346.6M349.3,334.5L361.9,335.9M361.9,335.9L363.1,336.7M363.1,336.7L363.0,337.6M363.0,337.6L359.9,340.9M385.3,330.6L387.7,331.5M387.7,331.5L390.3,328.6M387.9,325.7L388.7,325.4M390.3,328.6L388.8,325.4M388.7,325.4L388.8,325.4M390.3,328.6L392.6,329.3M392.6,329.3L392.5,325.0M388.8,325.4L392.5,325.0M395.2,377.8L395.2,375.9M395.2,377.8L399.8,379.9M400.4,379.0L399.8,379.9M400.4,379.0L397.2,375.1M397.2,375.1L395.2,375.9M390.8,380.1L390.0,375.9M390.0,375.9L393.6,374.8M394.7,378.7L395.2,377.8M394.0,374.9L395.2,375.9M399.8,380.8L399.8,379.9M402.0,377.4L400.4,379.0M399.7,372.9L397.2,375.1M356.5,322.9L363.7,320.1M361.1,324.2L360.4,324.6M361.1,324.2L363.7,320.1M365.4,323.9L361.1,324.2M368.5,336.9L363.1,336.7M368.5,336.9L370.6,335.2M363.1,336.7L366.7,331.7M369.4,332.9L366.7,331.7M366.7,331.7L366.7,331.7M379.9,320.4L381.0,321.4M376.3,320.6L375.8,324.6M381.4,323.2L380.0,324.9M375.8,324.6L380.0,324.9M383.3,328.7L379.9,327.7M380.0,324.9L379.9,327.7M384.8,330.7L383.6,332.3M383.6,332.3L378.0,329.3M379.9,327.7L378.0,329.3M408.6,354.1L406.6,351.1M408.6,354.1L405.6,356.9M404.1,354.4L404.6,351.1M404.1,354.4L405.0,356.6M406.6,351.1L404.7,350.9M405.0,356.6L405.6,356.9M404.7,350.9L404.6,351.1M406.6,358.3L405.6,356.9M411.7,354.7L408.6,354.1M399.5,354.5L404.1,354.4M399.3,353.0L404.6,351.1M400.8,358.5L405.0,356.6M401.2,347.7L400.0,347.8M401.2,347.7L404.5,350.4M404.5,350.4L404.7,350.9M392.3,336.1L390.9,333.2M392.3,336.1L389.1,338.2M387.1,336.0L388.0,338.0M387.1,336.0L388.8,332.5M388.8,332.5L390.9,333.2M389.1,338.2L388.0,338.0M394.2,337.2L390.6,342.5M394.0,336.7L392.3,336.1M389.1,338.2L390.6,342.5M392.3,343.8L390.7,343.6M390.6,342.5L390.7,343.6M391.0,349.0L389.1,346.6M389.1,346.6L390.2,343.9M390.7,343.6L390.2,343.9M380.8,346.8L381.2,346.3M386.4,349.0L386.9,347.6M381.2,346.3L386.9,347.6M389.1,346.6L386.9,347.6M386.9,347.6L386.9,347.6M415.8,321.9L416.3,322.3M419.2,320.5L416.3,322.3M407.9,382.2L413.5,379.3M413.5,379.3L413.5,379.0M407.8,378.4L410.8,377.0M413.5,379.0L410.8,377.0M434.9,370.1L434.7,372.8M434.9,370.1L433.1,368.9M433.1,368.9L430.5,369.7M430.5,369.7L430.8,372.3M430.8,372.3L432.8,373.4M432.8,373.4L434.7,372.8M437.5,368.8L434.9,370.1M437.8,373.8L434.7,372.8M433.8,367.6L433.1,368.9M429.8,369.0L430.5,369.7M428.2,374.2L430.8,372.3M428.2,374.2L425.3,372.8M425.3,372.8L425.3,370.8M432.9,376.5L432.8,373.4M428.2,374.2L428.4,377.9M439.8,350.6L437.1,348.2M437.6,344.4L443.2,342.4M407.8,384.8L411.1,384.7M413.5,379.3L414.2,381.0M414.2,381.0L411.1,384.7M412.9,389.4L414.0,387.0M414.0,387.0L411.1,384.7M425.1,382.5L424.1,381.7M424.1,381.7L422.5,378.5M427.8,378.3L424.2,377.6M424.2,377.6L422.5,378.5M425.3,372.8L424.2,373.5M424.2,377.6L424.2,373.5M421.1,371.2L421.9,373.4M424.2,373.5L421.9,373.4M380.3,374.8L383.6,374.6M378.7,370.4L384.5,371.0M383.6,374.6L384.5,371.0M390.0,375.9L388.9,375.3M391.9,370.8L388.9,371.9M388.9,375.3L388.9,371.9M392.2,367.3L386.7,369.9M388.9,371.9L386.7,369.9M385.1,367.0L385.7,369.5M384.5,371.0L385.7,369.5M386.7,369.9L385.7,369.5M383.8,387.2L385.4,385.5M383.8,387.2L381.3,384.0M385.4,385.5L384.9,382.1M381.3,384.0L383.5,381.7M384.9,382.1L383.5,381.7M389.1,384.8L385.4,385.5M384.2,389.3L383.8,387.2M389.2,382.3L384.9,382.1M378.3,379.8L377.6,381.3M380.2,378.5L383.3,380.1M383.3,380.1L383.5,381.7M377.6,381.3L381.1,384.0M381.1,384.0L381.3,384.0M360.6,346.3L361.1,345.8M360.0,341.7L361.6,343.8M361.1,345.8L361.6,343.8M395.6,332.9L393.0,330.5M395.6,332.9L398.3,330.1M396.7,328.3L393.1,329.9M396.7,328.3L398.1,329.2M393.0,330.5L393.1,329.9M398.3,330.1L398.1,329.2M395.7,335.4L395.6,332.9M390.9,333.2L393.0,330.5M400.6,333.5L400.3,335.1M400.6,333.5L398.3,330.1M387.7,331.5L388.8,332.5M392.6,329.3L393.1,329.9M385.9,321.7L387.8,320.8M388.7,325.4L388.8,322.1M387.8,320.8L388.8,322.1M395.9,325.3L393.6,324.2M395.9,325.3L398.6,323.4M393.6,324.2L393.3,320.9M396.7,319.4L398.7,321.6M398.7,321.6L398.6,323.4M392.5,325.0L393.6,324.2M396.7,328.3L395.9,325.3M388.8,322.1L393.3,320.9M402.0,320.3L398.7,321.6M404.4,320.7L400.9,325.1M400.9,325.1L398.6,323.4M361.3,326.7L363.0,327.3M361.3,326.7L359.6,330.3M363.0,327.3L363.5,330.8M359.6,330.3L361.4,331.3M361.4,331.3L363.5,330.8M365.9,325.7L366.1,326.7M360.4,324.6L361.3,326.7M366.1,326.7L363.0,327.3M367.0,327.6L366.7,331.7M367.0,327.6L366.1,326.7M366.7,331.7L363.5,330.8M361.9,335.9L361.4,331.3M363.1,336.7L363.1,336.7M374.5,326.1L374.9,328.0M374.5,326.1L371.3,324.4M374.9,328.0L371.6,329.8M371.6,329.8L369.2,326.9M371.3,324.4L369.2,326.9M375.8,324.6L374.5,326.1M378.0,329.3L376.8,329.8M376.8,329.8L374.9,328.0M370.8,322.9L371.3,324.4M371.0,331.2L371.6,329.8M376.7,331.4L376.8,329.8M367.0,327.6L369.2,326.9M388.0,338.0L386.5,338.9M390.2,343.9L386.4,342.5M386.5,338.9L386.4,342.5M386.9,347.6L384.2,343.3M386.4,342.5L384.2,343.3M381.2,346.3L382.4,343.1M384.2,343.3L382.4,343.1M381.0,341.4L381.7,341.4M376.1,344.3L382.2,342.8M381.7,341.4L382.2,342.8M382.2,342.8L382.4,343.1M403.1,336.9L405.2,336.8M405.2,336.8L406.7,331.9M400.6,333.5L403.2,331.8M406.7,331.9L406.4,331.7M403.2,331.8L406.4,331.7M413.9,326.6L416.3,322.3M413.9,326.6L412.3,326.9M411.4,322.0L410.6,324.1M416.3,322.3L416.3,322.3M412.3,326.9L410.6,324.1M402.4,339.5L406.1,340.7M401.3,341.6L403.8,343.6M406.1,340.7L403.8,343.6M401.2,347.7L403.8,343.9M404.5,350.4L406.6,345.5M406.6,345.5L403.8,343.9M403.8,343.9L403.8,343.6M413.9,326.6L416.7,328.4M416.3,322.3L418.5,324.7M418.5,324.7L416.7,328.4M422.2,323.9L420.2,320.9M422.2,323.9L423.9,323.0M423.9,323.0L422.3,319.8M418.5,324.7L421.3,325.3M421.3,325.3L422.2,323.9M426.0,320.8L425.6,322.8M425.6,322.8L423.9,323.0M437.3,323.1L434.9,324.3M441.5,327.1L434.5,327.0M434.5,327.0L434.9,324.3M433.2,320.5L433.1,323.1M433.1,323.1L434.9,324.3M430.1,320.5L429.2,325.0M433.1,323.1L429.2,325.0M431.8,350.9L429.8,351.8M431.8,350.9L433.3,351.9M429.8,351.8L428.7,354.7M433.3,351.9L434.0,354.8M433.3,351.9L433.3,351.9M434.0,354.8L430.1,356.7M430.1,356.7L428.7,354.7M435.9,348.7L433.3,351.9M432.6,346.3L431.0,348.4M431.0,348.4L431.8,350.9M439.4,350.9L433.3,351.9M435.3,355.6L434.0,354.8M429.8,357.2L430.1,356.7M424.1,354.3L424.4,353.2M424.4,353.2L428.7,354.7M422.5,378.5L420.8,378.3M421.9,373.4L419.8,375.2M419.8,375.2L420.8,378.3M406.7,373.6L409.6,373.6M410.8,377.0L409.8,373.8M409.8,373.8L409.6,373.6M407.9,368.5L409.6,373.4M409.6,373.4L409.6,373.6M410.9,366.9L411.7,368.5M409.6,373.4L411.7,368.5M436.9,338.3L437.4,338.4M436.9,338.3L435.8,333.8M437.4,338.4L440.3,334.7M440.3,334.7L436.8,332.2M435.8,333.8L436.6,332.3M436.8,332.2L436.6,332.3M437.3,344.3L434.8,339.5M434.8,339.5L436.9,338.3M443.2,342.4L437.4,338.4M434.8,339.5L432.4,339.4M432.4,339.4L432.7,335.5M432.7,335.5L435.8,333.8M441.5,327.1L436.8,332.2M433.9,330.2L433.9,327.8M433.9,330.2L436.6,332.3M434.5,327.0L433.9,327.8M414.8,381.6L416.3,385.8M414.8,381.6L419.6,381.0M420.1,382.4L419.6,381.0M420.1,382.4L420.0,385.0M420.0,385.0L418.3,386.3M418.3,386.3L416.3,385.8M414.2,381.0L414.8,381.6M414.0,387.0L416.3,385.8M413.5,379.0L414.5,378.0M414.5,378.0L420.2,379.0M420.2,379.0L419.6,381.0M424.1,381.7L420.1,382.4M420.2,379.0L420.8,378.3M423.9,385.5L420.0,385.0M418.7,387.9L418.3,386.3M373.1,377.9L375.0,381.5M377.6,381.3L375.9,381.8M375.0,381.5L375.9,381.8M368.7,381.4L373.0,383.1M375.0,381.5L373.0,383.1M370.7,386.5L372.5,385.4M373.0,383.1L372.5,385.4M376.0,388.7L378.5,388.6M376.0,388.7L375.3,386.9M375.3,386.9L376.3,384.9M376.3,384.9L379.6,385.6M378.5,388.6L379.6,385.6M380.6,390.5L378.5,388.6M375.4,389.4L376.0,388.7M372.5,385.4L375.3,386.9M375.9,381.8L376.3,384.9M381.1,384.0L379.6,385.6M384.2,378.4L384.5,375.5M384.2,378.4L387.1,379.0M384.5,375.5L388.1,375.6M387.1,379.0L388.1,375.6M383.3,380.1L384.2,378.4M383.6,374.6L384.5,375.5M389.3,382.2L387.1,379.0M388.9,375.3L388.1,375.6M365.5,347.7L367.2,344.5M365.5,347.7L365.7,350.9M369.6,351.2L370.6,347.0M369.6,351.2L366.9,351.7M370.6,347.0L367.2,344.5M365.7,350.9L366.7,351.7M366.7,351.7L366.9,351.7M362.3,351.4L365.7,350.9M361.1,345.8L365.5,347.7M371.3,351.9L369.6,351.2M371.7,346.6L370.6,347.0M368.5,355.4L366.9,351.7M364.7,356.9L366.7,351.7M367.2,344.3L365.7,342.7M367.2,344.3L370.0,342.7M368.0,339.4L365.7,341.1M368.0,339.4L370.5,340.6M365.7,341.1L365.7,342.7M370.0,342.7L370.8,341.3M370.5,340.6L370.8,341.3M361.6,343.8L365.7,342.7M367.2,344.5L367.2,344.3M372.5,344.9L370.0,342.7M368.5,336.9L368.0,339.4M363.0,337.6L365.7,341.1M371.8,335.8L370.5,340.6M374.8,341.4L370.8,341.3M375.6,338.7L375.5,338.3M382.3,339.1L384.4,338.7M382.3,339.1L381.3,337.2M384.4,338.7L385.1,335.1M381.3,337.2L382.3,333.9M385.1,335.1L383.2,333.1M383.2,333.1L382.3,333.9M386.5,338.9L384.4,338.7M381.7,341.4L382.3,339.1M377.2,337.0L381.3,337.2M387.1,336.0L385.1,335.1M377.8,332.9L382.3,333.9M383.6,332.3L383.2,333.1M398.1,329.2L401.0,327.5M403.2,331.8L402.1,328.5M402.1,328.5L401.0,327.5M400.9,325.1L401.4,326.4M401.4,326.4L401.0,327.5M411.0,347.6L408.6,348.0M411.0,347.6L411.2,343.7M411.2,343.7L410.3,343.4M410.3,343.4L407.0,345.5M408.6,348.0L407.0,345.5M406.6,351.1L408.0,350.3M408.0,350.3L408.6,348.0M406.6,345.5L407.0,345.5M421.1,350.8L421.1,348.5M421.1,350.8L424.4,352.9M421.1,348.5L424.9,347.1M424.4,352.9L426.0,350.9M426.0,350.9L426.4,348.7M426.4,348.7L424.9,347.1M418.5,356.0L419.8,351.5M424.4,353.2L424.4,352.9M419.8,351.5L421.1,350.8M429.8,351.8L426.0,350.9M428.7,347.7L426.4,348.7M428.7,347.7L431.0,348.4M412.3,326.9L411.3,328.9M411.3,328.9L411.2,330.4M416.7,328.4L417.1,329.3M411.2,330.4L416.3,331.7M417.1,329.3L416.3,331.7M427.6,324.8L429.2,325.0M427.6,324.8L424.3,328.5M424.3,328.5L429.2,328.3M429.2,325.0L429.5,325.7M429.5,325.7L429.2,328.3M425.6,322.8L427.6,324.8M429.2,325.0L429.2,325.0M433.9,327.8L429.5,325.7M430.2,333.5L427.1,335.8M430.2,333.5L430.5,331.5M427.1,335.8L426.0,330.7M426.0,330.7L429.2,330.4M430.5,331.5L429.2,330.4M433.9,330.2L430.5,331.5M432.7,335.5L430.2,333.5M429.2,328.3L429.2,330.4M418.1,374.5L415.2,376.5M418.1,374.5L416.8,370.5M415.2,376.5L413.4,373.2M413.4,373.2L415.0,370.7M415.0,370.7L416.8,370.5M416.8,370.5L416.8,370.5M414.5,378.0L415.2,376.5M419.8,375.2L418.1,374.5M419.1,369.6L416.8,370.5M409.8,373.8L413.4,373.2M411.7,368.5L415.0,370.7M416.1,366.9L416.8,370.5M406.2,330.4L405.5,328.4M406.2,330.4L408.6,327.5M405.5,328.4L405.8,325.6M408.6,327.5L406.7,324.9M405.8,325.6L406.4,324.9M406.4,324.9L406.7,324.9M406.4,331.7L406.2,330.4M402.1,328.5L405.5,328.4M406.7,331.9L409.7,332.1M411.3,328.9L408.6,327.5M411.2,330.4L409.7,332.1M401.4,326.4L405.8,325.6M410.6,324.1L406.7,324.9M405.0,321.0L406.4,324.9M407.6,339.5L408.5,340.3M407.6,339.5L407.5,338.7M408.5,340.3L413.1,338.9M407.5,338.7L411.1,335.5M411.1,335.5L412.4,336.0M412.4,336.0L413.2,337.1M413.2,337.1L413.1,338.9M406.1,340.7L407.6,339.5M410.3,343.4L408.5,340.3M405.2,336.8L407.5,338.7M412.5,343.5L411.2,343.7M412.5,343.5L413.5,340.2M413.5,340.2L413.1,338.9M409.7,332.1L411.1,335.5M416.3,331.7L416.5,332.3M416.5,332.3L412.4,336.0M413.5,340.2L417.9,340.2M413.2,337.1L416.5,337.3M417.9,340.2L416.5,337.3M417.9,346.9L415.6,344.8M417.9,346.9L416.4,350.7M416.4,350.7L414.8,351.5M415.4,344.8L413.0,350.3M415.4,344.8L415.6,344.8M414.8,351.5L413.3,351.4M413.0,350.3L413.0,351.0M413.3,351.4L413.0,351.0M419.8,351.5L416.4,350.7M421.1,348.5L420.0,347.2M420.0,347.2L417.9,346.9M418.4,356.0L414.8,351.5M412.5,343.5L415.4,344.8M411.0,347.6L413.0,350.3M411.8,354.6L413.3,351.4M408.0,350.3L413.0,351.0M432.9,344.7L430.9,342.2M428.7,347.7L428.5,344.2M428.5,344.2L430.9,342.2M432.4,339.4L430.9,340.4M426.8,336.3L428.5,339.2M426.8,336.3L427.1,335.8M428.5,339.2L430.9,340.4M430.9,342.2L430.9,340.4M420.0,347.2L421.4,344.3M415.6,344.8L418.5,341.3M421.4,344.3L418.5,341.3M417.9,340.2L418.6,340.8M418.5,341.3L418.6,340.8M424.3,328.5L423.8,329.0M426.0,330.7L424.0,329.8M424.0,329.8L423.8,329.0M421.3,325.3L421.9,327.5M423.8,329.0L421.9,327.5M417.1,329.3L419.3,329.0M421.9,327.5L419.3,329.0M419.9,335.5L418.2,334.3M419.9,335.5L423.5,335.2M420.8,332.0L422.9,331.7M420.8,332.0L418.0,333.6M418.0,333.6L418.2,334.3M423.5,335.2L422.9,331.7M416.5,337.3L418.2,334.3M420.3,339.6L418.6,340.8M420.3,339.6L419.9,335.5M424.7,336.2L422.4,339.5M424.7,336.2L423.5,335.2M422.4,339.5L420.3,339.6M424.0,329.8L422.9,331.7M419.3,329.0L420.8,332.0M416.5,332.3L418.0,333.6M424.7,336.2L426.8,336.3M425.9,341.1L425.7,344.1M425.9,341.1L423.2,340.5M423.2,340.5L423.0,344.0M423.0,344.0L424.7,344.8M424.7,344.8L425.7,344.1M428.5,344.2L425.7,344.1M428.5,339.2L425.9,341.1M422.4,339.5L423.2,340.5M421.4,344.3L423.0,344.0M424.9,347.1L424.7,344.8" stroke="#f1c8e8" stroke-width="0.6" opacity="0.4" fill="none"/>
<path d="M363.4 322.7h0M396.2 322.4h0M413.2 324.2h0M431.4 322.1h0M382.0 326.5h0M407.4 328.0h0M409.5 326.5h0M418.9 327.1h0M424.3 325.6h0M432.8 325.1h0M436.7 325.6h0M362.3 329.1h0M388.6 328.6h0M401.3 330.2h0M366.8 335.4h0M373.1 332.4h0M388.9 335.4h0M397.3 332.9h0M403.9 334.1h0M407.8 335.2h0M384.1 336.5h0M385.5 336.8h0M404.1 339.6h0M415.2 339.0h0M418.6 337.3h0M362.7 341.2h0M385.1 340.8h0M396.4 343.5h0M411.4 340.2h0M415.2 341.3h0M363.8 345.4h0M386.4 344.7h0M404.4 347.1h0M427.1 346.0h0M392.9 347.7h0M407.0 348.2h0M418.6 349.4h0M428.8 350.1h0M436.5 350.7h0M374.5 352.7h0M406.4 353.9h0M420.7 353.7h0M375.3 358.0h0M384.2 357.7h0M413.0 357.9h0M408.4 360.5h0M416.9 359.7h0M428.5 359.9h0M429.4 360.9h0M363.7 365.8h0M371.9 363.4h0M427.4 363.4h0M373.3 367.7h0M426.7 368.7h0M396.3 373.0h0M415.4 373.7h0M433.5 370.8h0M392.5 377.5h0M399.2 376.3h0M412.7 375.1h0M396.7 380.1h0M363.6 384.1h0M370.7 383.9h0M402.3 382.8h0M404.7 382.3h0M386.3 386.3h0" stroke="#77307f" stroke-width="1.5" stroke-linecap="round" opacity="0.8"/>
<path d="M367.7 324.1h0M386.7 322.9h0M401.1 322.7h0M368.2 324.9h0M403.7 327.6h0M416.3 325.9h0M380.1 331.5h0M419.5 330.8h0M431.1 328.6h0M393.9 333.0h0M427.7 332.5h0M400.9 338.8h0M387.9 340.8h0M421.8 342.1h0M427.2 342.4h0M437.2 341.0h0M395.4 345.2h0M368.3 347.8h0M398.0 350.5h0M401.2 351.0h0M409.8 349.0h0M415.7 348.3h0M363.5 354.4h0M378.1 354.1h0M381.7 354.3h0M415.4 354.7h0M362.3 358.3h0M367.2 355.9h0M369.9 355.7h0M402.2 355.6h0M413.9 358.5h0M379.9 360.8h0M399.8 361.6h0M435.9 359.5h0M407.8 364.8h0M364.4 368.9h0M389.1 367.7h0M389.9 369.4h0M397.8 369.6h0M400.1 369.4h0M405.8 369.4h0M414.7 367.6h0M375.8 372.1h0M394.1 371.9h0M403.6 373.2h0M412.1 371.6h0M368.1 377.2h0M372.5 374.7h0M397.9 377.3h0M405.0 377.0h0M408.1 376.5h0M364.7 380.6h0M365.9 379.7h0M371.9 380.9h0M374.8 384.7h0M385.9 384.5h0M403.1 388.9h0M408.3 389.0h0" stroke="#77307f" stroke-width="1.25" stroke-linecap="round" opacity="0.8"/>
<path d="M374.0 322.7h0M403.2 324.4h0M419.8 322.7h0M375.7 334.6h0M378.0 341.3h0M434.6 342.4h0M381.9 369.5h0M361.7 377.9h0M430.8 375.4h0" stroke="#77307f" stroke-width="1.0" stroke-linecap="round" opacity="0.8"/>
<path d="M378.0 323.2h0M408.6 322.4h0M434.9 322.1h0M363.6 325.4h0M377.9 326.3h0M364.3 328.8h0M381.0 329.8h0M390.4 330.2h0M414.3 329.1h0M420.6 330.3h0M379.3 335.2h0M413.3 333.0h0M415.4 335.4h0M421.2 333.7h0M391.6 339.5h0M421.5 337.0h0M425.0 339.5h0M368.6 341.1h0M372.0 343.1h0M393.0 340.5h0M403.9 340.4h0M406.9 342.8h0M424.4 342.2h0M373.9 346.1h0M400.6 344.4h0M409.4 346.7h0M412.7 346.9h0M419.1 344.6h0M372.2 348.7h0M377.3 348.1h0M381.3 350.2h0M383.9 348.1h0M388.9 350.0h0M423.6 349.2h0M391.0 353.5h0M394.6 354.7h0M402.1 353.3h0M428.2 352.9h0M381.8 357.5h0M390.3 356.6h0M392.1 357.0h0M421.4 357.2h0M427.1 355.8h0M386.6 360.0h0M390.1 360.2h0M394.9 361.7h0M415.2 359.8h0M394.0 364.7h0M411.7 363.0h0M433.4 366.1h0M437.4 363.8h0M361.9 367.1h0M432.3 367.1h0M435.0 368.5h0M363.2 373.0h0M408.0 370.7h0M419.8 372.3h0M436.2 370.9h0M378.4 377.5h0M386.5 377.9h0M422.6 375.7h0M425.7 375.7h0M434.9 375.2h0M380.5 380.6h0M386.1 379.9h0M403.0 380.3h0M409.5 379.4h0M424.9 379.8h0M429.2 381.3h0M384.7 384.6h0M392.2 384.9h0M396.8 385.3h0M411.1 382.5h0M417.7 382.7h0M426.8 384.6h0M381.0 387.4h0M393.1 387.5h0M397.8 389.4h0M411.2 387.0h0M415.9 389.1h0" stroke="#77307f" stroke-width="1.75" stroke-linecap="round" opacity="0.8"/>
<path d="M392.3 347.1h0M362.7 348.1h0M433.7 348.5h0M364.1 360.4h0M422.4 382.9h0M436.1 384.0h0" stroke="#77307f" stroke-width="2.0" stroke-linecap="round" opacity="0.8"/>
<path d="M423.6 354.6h0M431.0 334.5h0M387.6 327.6h0M405.1 338.7h0M365.0 350.2h0" stroke="#f8e6f5" stroke-width="0.5" stroke-linecap="round" opacity="0.85"/>
<path d="M428.7 337.6h0M379.6 355.6h0M420.8 384.9h0M380.6 341.8h0M402.9 373.7h0M415.8 359.1h0M408.0 337.5h0M380.7 377.1h0M380.0 379.8h0M432.4 337.6h0M380.0 370.6h0M375.4 336.4h0M433.9 338.3h0M365.6 328.7h0M435.0 363.9h0M407.6 383.6h0M394.0 374.0h0M401.9 332.0h0M379.7 324.8h0M421.6 330.9h0M383.8 340.5h0M423.0 369.2h0M406.3 353.8h0M413.1 338.0h0M393.7 331.3h0M423.3 337.5h0M366.7 371.5h0M433.7 383.0h0M378.1 369.6h0M389.4 369.1h0M379.6 360.9h0" stroke="#f8e6f5" stroke-width="1.0" stroke-linecap="round" opacity="0.85"/>
<path d="M370.7 366.9h0M402.7 383.1h0M429.7 381.9h0M387.9 328.4h0M429.0 386.0h0M402.6 336.0h0M408.0 327.1h0M399.7 334.2h0M435.6 356.7h0M417.7 357.5h0M382.8 339.1h0M424.2 385.0h0M399.5 378.2h0M376.2 354.8h0M417.5 379.4h0M369.4 338.9h0M363.2 348.6h0M397.2 345.2h0M377.5 383.3h0M399.7 345.4h0M363.7 330.3h0M396.6 333.5h0M391.9 351.5h0M429.2 341.7h0M380.4 369.7h0M434.2 383.2h0" stroke="#f8e6f5" stroke-width="0.75" stroke-linecap="round" opacity="0.85"/>
<path d="M380.8 380.9h0M418.2 372.5h0M434.5 373.5h0" stroke="#f8e6f5" stroke-width="1.5" stroke-linecap="round" opacity="0.85"/>
<path d="M363.2 343.9h0M434.4 360.8h0M366.0 338.6h0M371.9 383.1h0M403.8 360.6h0M372.6 358.6h0M368.3 328.3h0M422.9 351.1h0M416.0 361.5h0M416.4 352.7h0M404.6 361.1h0M414.0 364.6h0M430.5 379.6h0M382.8 328.9h0M368.7 375.4h0M389.2 376.0h0M409.9 335.7h0M431.4 352.6h0M400.3 352.2h0M395.7 346.8h0M369.1 334.2h0M410.7 352.9h0M413.0 382.5h0M417.4 327.9h0M411.9 339.5h0" stroke="#f8e6f5" stroke-width="1.25" stroke-linecap="round" opacity="0.85"/>
<path d="M416.4 361.1h0M363.9 382.4h0M403.3 366.2h0M414.7 370.5h0M370.6 357.6h0M390.2 337.1h0M395.8 363.1h0M389.5 370.6h0M408.7 368.0h0M407.5 338.5h0M371.0 330.8h0M373.5 348.3h0M387.8 351.7h0M424.5 373.0h0M421.5 385.4h0M378.9 334.0h0M379.6 341.0h0M395.9 337.1h0M416.9 375.7h0M423.4 376.9h0M380.1 363.9h0M405.8 337.9h0M398.5 323.4h0M389.4 346.4h0M370.5 327.3h0M403.7 344.6h0M429.1 361.3h0M364.7 338.0h0M388.7 334.0h0M377.9 333.8h0M411.9 334.3h0M397.1 339.4h0M408.2 371.2h0M392.0 323.4h0M381.0 340.4h0M397.4 346.4h0M418.4 328.7h0M403.2 385.7h0M378.6 328.6h0M430.4 323.5h0M435.2 372.1h0M408.3 384.5h0M419.3 373.6h0M376.1 373.9h0M418.1 327.9h0M366.0 361.6h0M419.6 352.5h0M418.2 375.8h0M372.5 358.0h0M378.0 334.6h0M375.7 333.4h0M371.8 325.1h0M397.8 366.8h0M430.4 381.9h0M397.9 350.6h0M424.3 327.8h0M400.0 334.6h0M373.0 376.7h0M434.9 325.1h0M376.9 376.7h0M403.6 378.4h0M371.7 371.3h0M383.3 354.6h0M407.7 356.1h0M417.3 364.3h0M370.9 360.4h0M428.9 338.3h0M397.2 376.2h0M412.1 385.2h0M380.0 381.4h0" stroke="#eeb8e0" stroke-width="1.25" stroke-linecap="round" opacity="0.7"/>
<path d="M410.3 344.2h0M436.3 350.7h0M391.5 383.0h0M402.2 386.2h0M376.9 380.5h0M369.0 384.7h0M366.4 364.7h0M371.8 351.8h0M393.6 351.8h0M419.8 387.7h0M416.3 359.3h0M433.6 379.4h0M377.1 387.3h0M379.6 355.1h0M422.4 364.5h0M407.8 331.0h0M369.3 349.7h0M386.2 385.9h0M375.9 346.7h0M400.7 338.7h0M423.2 351.4h0M419.7 374.7h0M417.2 337.5h0M395.3 337.3h0M427.6 369.4h0M419.0 360.6h0M429.0 371.2h0M418.6 334.4h0M404.7 325.6h0M395.3 352.0h0M395.2 350.0h0M363.5 339.5h0M365.0 377.3h0M416.2 361.3h0M366.5 343.1h0M420.2 377.4h0M401.5 359.9h0M418.2 347.3h0M405.7 372.6h0M366.4 359.3h0M401.7 368.6h0M403.3 371.6h0M399.2 350.3h0M368.1 327.3h0M427.3 386.1h0M398.2 333.3h0M422.1 330.6h0M407.9 331.1h0M417.8 338.4h0M375.9 354.9h0M413.4 361.1h0M363.4 369.3h0M399.5 337.0h0M392.2 334.0h0M432.0 331.7h0M406.9 370.7h0M380.9 342.6h0M418.1 382.5h0M371.6 387.9h0M411.3 348.3h0M383.7 382.9h0M379.7 381.0h0M384.1 343.5h0M432.6 380.2h0M390.5 371.3h0M386.9 334.1h0M419.0 334.9h0M415.3 329.5h0M381.3 339.5h0M393.8 365.3h0M364.2 327.1h0M380.0 369.2h0M408.9 341.9h0M425.6 328.8h0M391.3 337.0h0M395.2 337.3h0M425.8 372.8h0M416.3 377.0h0M367.8 353.3h0M399.3 341.3h0M383.3 359.1h0M379.8 347.0h0M375.5 383.4h0M383.7 326.7h0M413.0 336.4h0M390.8 376.0h0M372.1 342.6h0M388.2 356.3h0M436.2 363.3h0M385.6 340.1h0M385.3 323.9h0M430.7 332.2h0M434.2 332.3h0M378.4 387.9h0M420.5 361.3h0M405.5 377.1h0M418.5 383.6h0M405.5 360.9h0M379.6 359.8h0M371.9 383.7h0M379.9 387.1h0M433.1 360.0h0M429.6 354.9h0M424.3 370.0h0M385.4 326.5h0M398.2 333.5h0M431.9 348.7h0M378.2 386.2h0M369.8 332.4h0M379.2 372.2h0M375.7 367.4h0M430.3 372.1h0M389.7 386.7h0M401.5 372.1h0M377.7 333.8h0M432.3 342.3h0M435.9 372.3h0M414.7 355.1h0M407.1 323.2h0M423.6 348.7h0M384.1 354.8h0M426.7 332.6h0M430.8 326.2h0M389.5 366.1h0M387.6 346.6h0M392.0 349.5h0M405.1 334.0h0M422.4 384.3h0M364.4 363.7h0M428.6 367.6h0M429.2 328.5h0M431.3 336.2h0M370.4 341.0h0M436.2 377.1h0M413.7 387.2h0M434.6 372.8h0M409.3 359.3h0M404.0 383.9h0M430.5 342.9h0M435.2 358.8h0M397.0 344.0h0M401.2 330.7h0M427.2 382.0h0M393.0 368.5h0M412.8 361.8h0M412.5 370.7h0M395.2 347.3h0M419.7 368.1h0M429.9 323.7h0M436.3 345.5h0M395.0 342.0h0M363.8 360.5h0M398.0 373.9h0M376.5 343.4h0M430.7 362.9h0M419.6 387.0h0M409.4 362.8h0M400.2 323.7h0M384.3 367.0h0M430.5 328.8h0M378.5 366.9h0M365.0 335.8h0M391.7 380.4h0M428.8 359.2h0M435.7 363.5h0M416.6 372.7h0M430.2 328.6h0M390.5 340.1h0M370.2 350.8h0M412.4 360.5h0M393.9 367.6h0M369.2 351.7h0M428.9 347.3h0M381.6 352.9h0M374.9 339.8h0M432.4 379.9h0M388.7 331.6h0M400.3 349.3h0M365.5 385.1h0M394.0 366.1h0M367.7 326.2h0M397.8 386.7h0M389.6 362.5h0M407.5 372.5h0M398.7 377.1h0M429.8 378.4h0M428.2 384.9h0M416.8 379.7h0M392.1 339.0h0M425.4 387.2h0M382.7 376.2h0M418.0 337.1h0M363.6 329.9h0M431.8 364.6h0M386.8 372.3h0M367.2 349.9h0M398.6 326.1h0M364.0 377.6h0M378.9 353.4h0M364.7 334.9h0M412.8 381.4h0M408.4 381.2h0" stroke="#eeb8e0" stroke-width="1.0" stroke-linecap="round" opacity="0.7"/>
<path d="M374.1 371.7h0M417.9 375.4h0M372.6 375.9h0M404.1 330.5h0M403.6 378.5h0M378.1 358.7h0M410.4 361.8h0M405.3 379.7h0M376.3 332.3h0M416.4 338.8h0M369.6 376.7h0M406.6 345.2h0M374.1 349.8h0M422.6 334.9h0M387.5 358.5h0M393.9 367.5h0M402.8 382.8h0M392.5 361.1h0M383.8 330.8h0M397.9 350.9h0M374.2 347.0h0M405.8 346.9h0M417.9 374.7h0M378.5 355.1h0M394.3 376.3h0M364.5 338.3h0M387.9 339.4h0M411.5 381.9h0M427.6 368.9h0M391.4 379.1h0M401.3 332.2h0M416.5 333.3h0M416.8 326.9h0M419.2 342.7h0M371.0 328.6h0M386.8 339.2h0M417.5 323.8h0M433.0 380.9h0M432.7 359.6h0M372.1 343.4h0M376.8 358.3h0M378.3 383.7h0M382.7 350.6h0M398.1 371.6h0M389.2 328.8h0M434.4 377.9h0M364.4 386.0h0M382.7 326.6h0M428.0 360.0h0M383.9 384.4h0M415.4 355.8h0M422.9 375.7h0M432.5 377.7h0M435.4 363.9h0M415.3 358.6h0M382.7 328.8h0M398.9 333.5h0M435.8 368.1h0M408.3 381.4h0M409.7 382.2h0M412.7 338.1h0M419.9 382.9h0M385.8 338.3h0M374.2 353.8h0M363.6 327.1h0M416.1 324.3h0M371.2 368.0h0M384.8 348.4h0M410.6 376.8h0M369.4 331.3h0M369.7 380.9h0M386.7 332.9h0M382.3 370.7h0M386.9 344.6h0M435.7 367.8h0M378.1 323.9h0M402.5 370.4h0M430.2 329.8h0M408.1 382.4h0M424.5 328.7h0M386.0 351.2h0M369.1 345.8h0M422.6 347.2h0M422.8 384.0h0M397.1 360.4h0M368.5 376.6h0M367.3 336.6h0M363.5 333.7h0M405.5 334.8h0M380.4 335.4h0M388.3 369.6h0M427.0 349.6h0M396.7 329.8h0M432.5 330.4h0M422.8 380.9h0M363.9 374.2h0M381.7 356.8h0M406.5 343.8h0M411.5 337.5h0M429.9 358.8h0M418.5 378.5h0M435.4 363.2h0M409.5 336.3h0M397.4 384.5h0M391.2 374.5h0M407.8 324.9h0M372.4 375.0h0M370.8 335.1h0M400.7 367.5h0M398.8 331.3h0M435.7 341.3h0M418.1 344.5h0M379.5 351.2h0M426.3 336.2h0M373.6 372.6h0M372.8 345.3h0M371.8 387.6h0M370.3 370.3h0M386.3 364.3h0M367.9 385.5h0M375.0 377.5h0M391.2 347.5h0M421.1 355.0h0M372.8 384.5h0M435.0 345.0h0M427.0 327.2h0M426.3 372.8h0M380.0 379.5h0M382.2 332.9h0M405.8 333.3h0M425.7 348.4h0M379.5 382.9h0M408.6 367.1h0M378.8 371.0h0M378.8 364.5h0M404.4 346.3h0M399.1 368.3h0M401.4 373.0h0M421.3 362.4h0M422.1 330.1h0M408.9 375.0h0M378.3 338.8h0M400.3 354.2h0M367.6 379.6h0M426.4 350.8h0M422.6 372.4h0M378.9 387.0h0M427.3 367.6h0M419.3 340.5h0M410.2 358.1h0M433.9 365.3h0M412.5 369.9h0M393.7 347.1h0M391.1 378.6h0M390.9 338.5h0M419.8 376.3h0M399.5 323.2h0M369.0 346.9h0M367.3 340.4h0M429.7 338.8h0M392.0 336.1h0M382.1 378.4h0M400.1 367.9h0M406.7 371.1h0M416.1 341.2h0M398.8 326.8h0M388.4 380.2h0M431.3 358.2h0M376.1 362.5h0M381.9 369.0h0M426.4 379.7h0M375.7 335.8h0M363.1 359.0h0M394.1 380.6h0M381.4 368.3h0M365.9 366.4h0M395.0 332.2h0M371.6 341.8h0" stroke="#eeb8e0" stroke-width="0.75" stroke-linecap="round" opacity="0.7"/>
<path d="M392.6 362.8h0M406.7 385.0h0M370.5 337.9h0M381.8 369.0h0M403.2 336.9h0M387.0 325.1h0M400.1 327.9h0M367.2 360.9h0M393.2 347.0h0M423.9 384.2h0M369.7 384.1h0M405.3 371.4h0M375.8 378.7h0M426.8 376.9h0M423.3 356.4h0M430.0 372.0h0M386.4 334.8h0M382.3 386.3h0M374.7 338.0h0M368.0 371.9h0M423.1 362.4h0M374.1 375.5h0M382.7 381.3h0M415.7 382.7h0M414.1 352.5h0M393.5 365.9h0M435.2 356.3h0M374.9 375.5h0M436.0 381.7h0M435.0 387.9h0M431.8 385.4h0M411.6 354.0h0M413.9 338.5h0M412.3 373.0h0M379.5 370.9h0M378.0 353.6h0M392.1 363.3h0M417.9 360.5h0M407.0 359.2h0M392.6 342.3h0M413.1 384.3h0M424.9 386.9h0M368.9 336.5h0M390.4 347.6h0M412.9 323.8h0M395.3 363.1h0M368.8 361.3h0M383.6 345.5h0M365.4 358.1h0M407.8 348.2h0M419.7 326.7h0M431.1 384.4h0M403.0 345.2h0M402.3 343.5h0M402.7 377.2h0M419.4 335.1h0M429.4 375.1h0M381.8 332.3h0M382.4 351.2h0M376.4 378.2h0M390.2 359.5h0M427.6 382.3h0M431.0 332.8h0M423.8 333.2h0M421.6 365.1h0M417.0 368.5h0M398.8 351.2h0M436.3 339.8h0M435.6 326.2h0M394.8 377.7h0M426.6 371.3h0M378.0 354.0h0M382.8 358.4h0M408.6 344.9h0M393.7 386.9h0M385.1 383.3h0M382.4 331.0h0M392.9 331.1h0M402.3 339.3h0M365.9 333.2h0M374.5 344.7h0M386.5 324.4h0M379.7 384.5h0M389.6 337.8h0M371.0 330.4h0M410.6 366.5h0M429.7 358.9h0M430.3 346.3h0M366.0 351.5h0M406.3 384.3h0M369.9 325.1h0M383.1 362.8h0M387.8 349.3h0M432.9 328.5h0M432.9 339.8h0M400.3 355.0h0M392.6 381.3h0M370.3 367.8h0M403.7 351.8h0M412.5 360.8h0M398.4 328.8h0M382.6 365.0h0M398.5 368.0h0M371.9 363.8h0M417.9 386.1h0M377.0 347.7h0M378.6 337.1h0M412.8 380.7h0M422.1 350.0h0M386.2 325.5h0M433.0 328.5h0M397.9 379.4h0M384.2 386.7h0M369.7 335.7h0M435.6 386.7h0M368.0 374.8h0M412.2 344.8h0M402.8 367.9h0M433.2 328.1h0M366.2 333.5h0M379.8 378.8h0M381.5 338.8h0M388.2 347.7h0M436.3 367.9h0M378.9 383.0h0M430.6 379.1h0M414.8 374.8h0M404.7 341.2h0M413.4 327.8h0M409.1 335.9h0M374.9 345.6h0" stroke="#8e3a8c" stroke-width="0.75" stroke-linecap="round" opacity="0.7"/>
<path d="M385.4 332.6h0M404.2 376.5h0M392.4 375.1h0M414.3 325.8h0M378.7 352.8h0M364.0 381.4h0M364.2 383.3h0M397.3 341.2h0M409.5 338.6h0M378.3 369.9h0M386.2 381.0h0M396.6 336.5h0M418.8 362.1h0M429.5 333.0h0M392.2 336.8h0M375.0 324.0h0M401.8 374.2h0M365.2 335.0h0M408.2 338.6h0M423.2 373.8h0M394.5 327.7h0M385.2 362.6h0M396.9 386.9h0M367.7 374.0h0M366.5 348.1h0M404.6 374.9h0M368.8 354.9h0M395.8 328.4h0M404.4 329.3h0M401.7 359.7h0M397.7 326.3h0M411.5 324.4h0M426.3 375.1h0M377.9 343.4h0M381.4 377.1h0M365.8 377.8h0M397.3 354.3h0M420.5 346.3h0M380.3 335.5h0M395.4 351.2h0M367.2 323.9h0M400.9 370.9h0M368.5 339.2h0M435.3 383.1h0M412.8 366.9h0M417.6 348.4h0M419.6 365.3h0M424.7 382.1h0M407.2 373.7h0M413.8 372.0h0M384.2 372.3h0M417.0 352.9h0M414.5 379.0h0M411.1 343.3h0M400.9 373.7h0M370.2 354.5h0M409.0 365.2h0M396.7 368.8h0M395.9 379.6h0M375.6 347.4h0M389.8 375.7h0M414.6 346.3h0M382.5 367.0h0M401.9 342.8h0M413.1 382.1h0M409.1 332.8h0M415.8 326.1h0M392.7 369.7h0M399.3 335.7h0M436.3 363.1h0M370.1 344.6h0M425.8 362.1h0M402.1 379.4h0M404.4 359.9h0M368.1 336.6h0M428.3 379.8h0M417.6 326.5h0M385.3 331.2h0M435.2 358.9h0M372.6 380.3h0M427.9 361.0h0M393.5 347.7h0M394.9 356.2h0M420.7 333.4h0M400.2 344.9h0M392.2 327.0h0M408.2 330.4h0M407.7 337.3h0M375.0 357.1h0M384.8 332.6h0M374.7 325.4h0M392.7 344.7h0M401.1 329.8h0M364.3 350.2h0M397.2 354.5h0M387.1 327.7h0M433.1 364.6h0M382.0 351.8h0M426.9 354.5h0M381.4 355.7h0M426.0 375.3h0M376.7 375.8h0M421.5 385.9h0M427.7 355.6h0M391.6 328.6h0M397.6 375.6h0M382.0 355.7h0M415.0 369.4h0M396.0 371.3h0M375.3 349.9h0M379.4 387.4h0M406.3 350.5h0M401.8 359.6h0M389.8 324.1h0M365.1 328.7h0M375.3 357.3h0M434.0 329.4h0M366.1 339.3h0M363.7 336.0h0M372.7 347.3h0M391.9 368.7h0M423.3 385.8h0M433.5 366.7h0M403.2 367.1h0M383.7 372.5h0M430.3 351.0h0M398.1 365.0h0M405.1 374.0h0M421.5 381.5h0M436.4 347.4h0M399.4 356.1h0M391.6 353.8h0M367.7 327.8h0M429.2 346.8h0M405.6 381.2h0M388.4 366.7h0M409.8 383.3h0M364.3 362.6h0M370.8 366.8h0M435.8 363.3h0M404.2 357.2h0M375.7 369.8h0M417.7 362.6h0M408.2 368.3h0M403.9 364.8h0M371.3 362.2h0M363.2 334.6h0M397.9 375.0h0M375.2 383.7h0M398.4 333.9h0M371.9 332.4h0M431.0 359.5h0M376.8 373.6h0M407.9 340.8h0M414.7 341.9h0M417.0 387.1h0M372.7 337.6h0M408.3 330.7h0M369.4 357.6h0M402.7 379.5h0M433.9 336.6h0M392.8 362.8h0M378.2 350.5h0M363.1 372.6h0M376.6 384.2h0M378.4 365.9h0M363.9 350.2h0M394.4 346.5h0M424.9 375.0h0" stroke="#8e3a8c" stroke-width="1.0" stroke-linecap="round" opacity="0.7"/>
</g></g>
<path d="M370,341.5 Q375,340 380.5,344 L383,349.5 Q379.5,347 375.5,345.8 Z" fill="#f3dcef" opacity="0.85" filter="url(#bl)"/>
<g clip-path="url(#c3)"><g filter="url(#bl)"><rect x="439" y="322.2" width="75" height="66.8" fill="#a0579a"/>
<path d="M468.6 382.8h0M501.5 364.9h0M448.3 349.3h0M448.7 346.6h0M480.9 354.9h0M474.2 359.0h0M483.0 374.3h0M511.3 328.0h0M498.7 340.0h0" stroke="#8f7cb8" stroke-width="3.25" stroke-linecap="round" opacity="0.35"/>
<path d="M478.5 370.0h0M461.2 329.4h0M468.5 363.0h0M450.8 331.0h0M489.1 348.6h0M494.5 332.4h0M482.3 378.4h0" stroke="#8f7cb8" stroke-width="4.0" stroke-linecap="round" opacity="0.35"/>
<path d="M465.9 338.8h0M493.6 359.1h0M505.5 340.8h0M481.8 325.0h0M479.1 328.5h0" stroke="#8f7cb8" stroke-width="3.5" stroke-linecap="round" opacity="0.35"/>
<path d="M452.7 365.0h0M446.7 338.7h0M508.5 384.4h0" stroke="#8f7cb8" stroke-width="5.0" stroke-linecap="round" opacity="0.35"/>
<path d="M442.8 382.3h0M469.4 327.2h0M486.8 368.9h0M471.1 383.6h0M493.8 358.0h0M506.5 327.6h0M466.1 385.9h0M492.9 328.4h0M442.8 351.5h0M491.8 355.0h0" stroke="#8f7cb8" stroke-width="3.75" stroke-linecap="round" opacity="0.35"/>
<path d="M444.0 340.4h0M461.0 365.8h0M491.0 364.7h0M509.3 339.6h0M507.4 351.8h0M481.1 356.3h0" stroke="#8f7cb8" stroke-width="3.0" stroke-linecap="round" opacity="0.35"/>
<path d="M448.3 333.6h0M484.9 381.8h0M493.3 362.7h0M469.6 384.2h0M512.2 328.5h0M481.3 367.9h0M507.6 364.0h0M483.5 387.5h0M511.3 373.8h0M509.9 370.5h0M466.5 372.3h0" stroke="#8f7cb8" stroke-width="4.25" stroke-linecap="round" opacity="0.35"/>
<path d="M480.8 383.2h0M453.8 383.9h0M441.4 337.9h0M481.2 373.6h0M453.2 350.2h0M460.9 340.0h0M500.3 373.6h0" stroke="#8f7cb8" stroke-width="5.25" stroke-linecap="round" opacity="0.35"/>
<path d="M445.6 357.9h0M509.8 338.7h0M500.9 352.9h0M455.8 370.5h0" stroke="#8f7cb8" stroke-width="4.5" stroke-linecap="round" opacity="0.35"/>
<path d="M469.5 342.4h0M494.6 359.5h0M483.1 349.6h0" stroke="#8f7cb8" stroke-width="5.5" stroke-linecap="round" opacity="0.35"/>
<path d="M464.2 350.9h0" stroke="#8f7cb8" stroke-width="2.75" stroke-linecap="round" opacity="0.35"/>
<path d="M467.4 383.4h0M449.5 338.9h0M474.1 374.7h0M492.7 337.1h0" stroke="#8f7cb8" stroke-width="4.75" stroke-linecap="round" opacity="0.35"/>
<path d="M438.0,387.9L440.3,391.9M438.9,319.8L431.6,322.3M515.7,369.1L512.6,366.8M512.6,366.8L515.1,365.6M520.8,387.7L513.3,385.1M520.8,387.7L512.4,389.4M512.4,389.4L511.5,388.8M511.5,388.8L511.8,385.9M513.3,385.1L511.8,385.9M432.5,328.2L438.0,328.0M437.1,333.5L438.8,329.2M438.0,328.0L438.8,329.2M512.6,366.8L512.0,366.8M515.1,365.6L513.1,362.5M512.0,366.8L511.3,363.7M513.1,362.5L511.3,362.4M511.3,363.7L511.3,362.4M513.3,385.1L513.7,381.9M513.7,381.9L524.6,380.1M513.7,381.9L512.4,380.7M524.6,380.1L513.4,377.3M513.4,377.3L512.6,378.8M512.6,378.8L512.4,380.7M511.8,385.9L511.2,385.5M509.8,381.5L512.4,380.7M509.8,381.5L509.3,382.6M511.2,385.5L509.3,382.6M512.8,375.1L516.4,372.6M512.8,375.1L511.4,374.5M511.4,374.5L510.8,371.4M515.5,370.9L511.6,370.3M511.6,370.3L510.8,371.4M513.4,377.3L512.8,375.1M512.0,366.8L511.3,367.7M511.3,367.7L511.6,370.3M512.6,378.8L510.2,378.2M511.4,374.5L510.6,374.9M510.6,374.9L510.2,378.2M509.8,381.5L507.9,378.9M507.9,378.9L510.2,378.2M481.5,319.5L478.4,322.9M477.2,319.8L478.4,322.9M486.3,319.6L483.3,321.8M483.3,321.8L481.5,319.5M440.3,391.9L442.9,388.8M445.8,393.4L442.9,388.8M438.0,387.9L439.4,385.6M439.4,385.6L441.9,386.2M441.9,386.2L443.2,388.1M442.9,388.8L443.2,388.1M445.8,393.4L447.2,390.0M443.2,388.1L445.2,388.1M445.2,388.1L447.2,390.0M450.6,391.0L448.1,389.8M448.1,389.8L447.2,390.0M441.9,386.2L443.7,383.5M445.2,388.1L446.9,385.6M443.7,383.5L446.9,385.6M449.7,386.5L448.1,389.8M449.7,386.5L447.7,385.2M447.7,385.2L446.9,385.6M439.4,385.6L438.6,384.2M438.6,384.2L408.8,384.1M439.8,321.1L437.9,323.7M438.0,328.0L438.8,326.3M437.9,323.7L438.8,326.3M509.1,361.4L511.0,362.1M509.1,361.4L508.2,357.7M511.0,362.1L512.6,359.1M512.6,359.1L511.3,356.9M508.2,357.7L511.3,356.9M509.1,361.4L506.0,362.8M506.0,362.8L504.7,362.0M504.7,362.0L504.8,357.9M508.2,357.7L506.8,356.5M506.8,356.5L506.2,356.6M506.2,356.6L504.8,357.9M508.4,386.0L506.6,384.3M508.4,386.0L511.2,385.5M509.3,382.6L506.6,383.8M506.6,383.8L506.6,384.3M511.3,363.7L507.3,366.3M511.3,367.7L508.3,367.7M508.3,367.7L507.3,366.3M506.0,362.8L505.8,365.3M511.0,362.1L511.3,362.4M507.3,366.3L505.8,365.3M510.6,374.9L507.4,375.5M507.9,378.9L507.1,378.4M507.4,375.5L507.1,378.4M506.6,383.8L504.4,381.9M504.4,381.9L504.6,380.0M507.1,378.4L504.6,380.0M457.8,361.1L458.0,360.2M457.8,361.1L461.3,364.3M458.0,360.2L461.1,360.7M461.1,360.7L462.3,362.4M462.3,362.4L462.1,363.6M461.3,364.3L462.1,363.6M504.7,362.0L501.3,362.0M501.3,362.0L500.8,361.7M502.4,358.0L504.8,357.9M502.4,358.0L500.8,360.9M500.8,361.7L500.8,360.9M438.6,384.2L439.2,381.3M408.8,384.1L438.5,380.6M439.2,381.3L439.0,380.9M438.5,380.6L439.0,380.9M438.5,380.6L436.6,377.3M443.7,383.5L443.8,381.7M439.2,381.3L443.5,381.5M443.8,381.7L443.5,381.5M454.9,358.7L455.5,358.6M454.9,358.7L452.4,356.3M455.5,358.6L455.6,355.1M452.4,356.3L453.9,353.8M455.6,355.1L453.9,353.8M457.8,361.1L456.3,363.6M456.3,363.6L453.9,360.0M453.9,360.0L454.9,358.7M458.0,360.2L457.5,359.0M457.5,359.0L455.5,358.6M457.5,359.0L459.7,355.8M459.3,355.3L459.7,355.8M459.3,355.3L455.6,355.1M455.8,351.6L453.9,353.2M455.8,351.6L458.5,351.9M458.5,351.9L459.3,355.3M453.9,353.2L453.9,353.8M435.9,369.0L438.5,366.2M438.5,366.2L434.8,362.6M435.9,369.0L438.5,370.1M438.5,370.1L441.2,367.7M438.5,366.2L440.0,366.3M441.2,367.7L440.0,366.3M438.6,361.6L434.8,362.6M438.6,361.6L440.2,363.0M440.0,366.3L440.2,363.0M450.9,360.1L448.6,358.6M450.9,360.1L451.9,356.5M451.9,356.5L449.0,355.6M448.6,358.6L449.0,355.6M453.9,353.2L451.9,351.9M451.9,356.5L452.4,356.3M449.7,352.8L451.9,351.9M449.7,352.8L448.4,354.9M448.4,354.9L449.0,355.6M459.7,355.8L460.5,355.9M461.1,360.7L461.8,358.8M460.5,355.9L461.8,358.8M455.8,351.6L454.9,348.4M454.9,348.4L454.5,347.9M451.9,351.9L451.7,349.4M454.5,347.9L451.7,349.4M439.8,321.1L441.7,321.4M441.7,321.4L445.1,315.6M513.1,362.5L518.3,361.4M512.6,359.1L513.8,358.8M513.8,358.8L518.3,361.4M514.1,352.0L513.8,347.5M514.1,352.0L536.0,350.6M513.8,347.5L515.5,346.9M514.8,356.1L513.8,358.8M514.8,356.1L549.3,351.6M508.4,386.0L508.0,388.4M506.6,384.3L504.8,387.7M504.8,387.7L508.0,388.4M511.5,388.8L509.5,389.8M508.0,388.4L509.5,389.8M508.8,391.6L509.5,389.8M504.4,381.9L503.8,382.3M503.8,382.3L502.6,385.6M504.8,387.7L503.9,388.1M502.6,385.6L503.9,388.1M508.8,391.6L502.9,390.0M503.9,388.1L502.9,390.0M502.6,390.2L502.9,390.0M483.3,321.8L483.7,324.0M478.2,323.8L478.4,322.9M478.2,323.8L482.0,324.7M483.7,324.0L482.0,324.7M478.2,323.8L477.5,324.3M477.5,324.3L478.8,328.7M482.0,324.7L481.3,327.3M478.8,328.7L481.3,327.3M485.1,327.4L482.5,328.3M485.1,327.4L484.9,324.6M483.7,324.0L484.9,324.6M481.3,327.3L482.5,328.3M502.9,347.5L501.9,350.8M502.9,347.5L500.7,346.1M500.7,346.1L498.8,349.8M501.9,350.8L498.8,350.0M498.8,349.8L498.8,350.0M453.8,380.1L455.6,377.6M453.8,380.1L450.7,379.1M455.6,377.6L455.4,377.0M451.8,376.3L450.7,379.1M451.8,376.3L455.0,376.5M455.0,376.5L455.4,377.0M458.0,388.5L458.2,386.5M458.0,388.5L453.5,388.4M458.2,386.5L455.3,384.8M455.3,384.8L453.3,387.9M453.3,387.9L453.5,388.4M450.8,386.4L453.3,387.9M450.8,386.4L451.5,382.9M451.5,382.9L453.8,382.4M455.3,383.7L453.8,382.4M455.3,383.7L455.3,384.8M450.6,391.0L453.4,388.7M450.8,386.4L449.7,386.5M453.4,388.7L453.5,388.4M458.7,389.6L461.3,388.2M458.7,389.6L458.2,396.8M461.7,411.6L462.9,389.5M462.9,389.5L461.3,388.2M461.2,386.1L460.2,385.5M461.2,386.1L461.3,388.2M460.2,385.5L458.2,386.5M458.0,388.5L458.7,389.6M453.4,388.7L458.2,396.8M407.8,373.4L438.6,373.3M436.6,377.3L438.7,375.8M438.7,375.8L438.6,373.3M438.5,370.1L439.2,372.6M438.6,373.3L439.2,372.6M440.2,378.7L439.9,376.4M440.2,378.7L442.6,378.4M443.3,376.9L442.6,378.4M443.3,376.9L441.3,376.1M441.3,376.1L439.9,376.4M439.0,380.9L440.2,378.7M438.7,375.8L439.9,376.4M443.5,381.5L442.6,378.4M442.0,372.7L439.2,372.6M442.0,372.7L441.3,376.1M449.4,379.7L447.5,378.2M449.4,379.7L449.4,381.8M448.1,382.8L444.5,381.4M448.1,382.8L449.4,381.8M444.5,381.4L446.7,378.2M446.7,378.2L447.5,378.2M451.8,376.3L449.9,374.3M449.9,374.3L447.5,378.2M450.7,379.1L449.4,379.7M451.5,382.9L449.4,381.8M453.8,380.1L453.8,382.4M447.7,385.2L448.1,382.8M443.8,381.7L444.5,381.4M444.7,376.3L446.7,378.2M444.7,376.3L443.3,376.9M449.9,374.3L449.8,373.7M454.4,373.0L455.0,376.5M454.4,373.0L451.9,371.7M449.8,373.7L451.9,371.7M456.7,371.8L454.4,373.0M456.7,371.8L454.3,367.7M453.7,367.3L454.3,367.7M453.7,367.3L452.0,370.2M452.0,370.2L451.9,371.7M434.8,344.1L439.3,345.2M439.3,345.2L439.2,348.2M434.3,348.7L439.2,348.2M443.3,346.6L441.8,348.3M443.3,346.6L443.1,344.7M439.3,345.2L440.6,343.6M441.8,348.3L439.5,348.4M443.1,344.7L440.6,343.6M439.2,348.2L439.5,348.4M442.7,372.5L443.1,369.7M442.7,372.5L442.0,372.7M441.2,367.7L441.5,367.8M443.1,369.7L441.5,367.8M456.3,363.6L456.3,363.7M453.9,360.0L451.7,361.1M453.3,365.8L456.3,363.7M453.3,365.8L452.9,365.5M452.9,365.5L451.7,361.1M453.3,365.8L453.7,367.3M448.8,369.1L452.0,370.2M448.8,369.1L450.5,365.6M452.9,365.5L450.5,365.6M450.9,360.1L451.2,360.8M451.7,361.1L451.2,360.8M463.5,351.8L466.5,351.9M463.5,351.8L462.5,353.8M466.5,351.9L466.4,356.2M462.5,353.8L466.4,356.2M462.3,362.4L465.1,360.3M461.8,358.8L465.6,359.0M465.1,360.3L465.6,359.0M454.5,347.9L454.5,346.4M454.5,346.4L450.6,345.5M451.7,349.4L449.1,347.9M450.6,345.5L449.1,347.9M447.4,348.8L447.5,348.3M447.4,348.8L449.7,352.8M449.1,347.9L447.5,348.3M435.5,336.5L438.5,340.1M437.2,334.7L439.5,334.7M439.5,334.7L441.8,338.4M441.8,338.4L438.5,340.1M434.8,344.1L438.5,340.8M440.6,343.6L440.3,342.8M440.3,342.8L438.5,340.8M438.5,340.8L438.5,340.1M507.8,354.1L512.1,355.5M507.8,354.1L508.0,351.7M508.0,351.7L510.0,350.6M510.0,350.6L512.5,352.5M512.5,352.5L512.6,355.1M512.6,355.1L512.1,355.5M506.8,356.5L507.8,354.1M511.3,356.9L512.1,355.5M506.2,356.6L502.7,354.0M505.5,350.8L508.0,351.7M505.5,350.8L503.4,351.8M503.4,351.8L502.7,354.0M514.1,352.0L512.5,352.5M514.8,356.1L512.6,355.1M505.5,350.8L505.2,349.5M503.4,351.8L501.9,350.8M502.9,347.5L503.6,347.7M503.6,347.7L505.2,349.5M510.0,350.6L510.5,348.7M507.9,344.9L505.2,349.5M507.9,344.9L508.1,344.9M508.1,344.9L510.5,348.7M513.8,347.5L512.8,347.7M512.8,347.7L510.5,348.7M514.6,340.1L515.4,340.6M514.6,340.1L511.3,340.1M515.4,340.6L513.7,343.6M511.3,340.1L511.1,340.3M511.1,340.3L510.6,343.4M513.7,343.6L511.8,343.7M511.8,343.7L510.6,343.4M515.5,346.9L513.7,343.6M512.8,347.7L511.8,343.7M508.1,344.9L510.6,343.4M502.6,385.6L500.6,385.2M502.6,390.2L499.5,388.4M500.6,385.2L499.5,388.4M501.3,362.0L502.2,365.1M505.8,365.3L503.9,366.8M502.2,365.1L503.9,366.8M507.1,370.3L506.3,370.2M507.1,370.3L507.6,371.0M506.3,370.2L503.5,372.1M507.6,371.0L506.8,374.8M506.8,374.8L504.0,374.2M504.0,374.2L503.5,372.1M508.3,367.7L507.1,370.3M503.9,366.8L503.6,367.5M503.6,367.5L506.3,370.2M510.8,371.4L507.6,371.0M507.4,375.5L506.8,374.8M504.6,380.0L503.1,378.9M503.1,378.9L503.1,375.0M503.1,375.0L504.0,374.2M499.2,377.6L501.9,378.9M499.2,377.6L497.4,379.3M501.9,378.9L499.2,382.6M497.4,379.3L498.3,382.0M498.3,382.0L498.8,382.8M498.8,382.8L499.2,382.6M503.1,378.9L501.9,378.9M503.1,375.0L500.5,374.9M499.3,375.5L500.5,374.9M499.3,375.5L499.2,377.6M503.8,382.3L499.2,382.6M498.7,382.9L500.6,385.2M498.7,382.9L498.8,382.8M503.0,325.4L501.8,324.6M503.0,325.4L507.4,324.9M501.8,324.6L503.6,320.5M507.4,324.9L504.4,320.7M477.6,329.6L478.5,329.4M477.6,329.6L475.6,332.4M478.5,329.4L480.7,332.2M476.3,333.5L475.6,332.4M476.3,333.5L480.5,333.6M480.5,333.6L480.7,332.2M473.0,331.8L473.1,329.9M473.0,331.8L475.6,332.4M475.9,328.9L473.1,329.9M475.9,328.9L477.6,329.6M478.8,328.7L478.5,329.4M482.5,328.3L482.4,331.1M482.4,331.1L480.7,332.2M507.9,344.9L506.8,344.1M503.6,347.7L506.6,344.2M506.6,344.2L506.8,344.1M507.8,339.1L508.0,340.1M507.8,339.1L506.0,337.1M508.0,340.1L506.2,342.3M506.0,337.1L504.9,337.6M504.9,337.6L505.3,341.7M506.2,342.3L505.3,341.7M511.1,340.3L508.0,340.1M506.8,344.1L506.2,342.3M489.7,331.2L485.7,330.7M489.7,331.2L490.5,329.8M490.5,329.8L490.0,327.5M485.9,328.8L485.7,330.7M485.9,328.8L489.8,327.4M489.8,327.4L490.0,327.5M485.1,327.4L485.9,328.8M482.4,331.1L485.7,330.7M485.7,330.7L485.7,330.7M487.1,324.0L489.8,327.4M487.1,324.0L484.9,324.6M476.2,324.3L474.8,325.5M476.2,324.3L474.3,321.8M474.8,325.5L473.1,326.0M473.1,326.0L470.7,324.4M470.7,324.4L471.9,320.9M474.3,321.8L472.5,320.6M477.5,324.3L476.2,324.3M475.9,328.9L474.8,325.5M477.2,319.8L474.3,321.8M473.1,329.9L472.3,328.7M472.3,328.7L473.1,326.0M469.9,324.7L470.7,324.4M469.9,324.7L470.0,328.7M470.0,328.7L472.3,328.7M467.2,351.3L467.1,349.9M467.2,351.3L469.5,351.7M467.1,349.9L470.0,346.4M469.5,351.7L471.5,349.6M471.5,349.6L470.0,346.4M475.0,350.8L474.9,350.4M475.0,350.8L474.2,351.7M474.9,350.4L473.9,349.5M474.2,351.7L470.2,352.5M470.2,352.5L469.5,351.7M473.9,349.5L471.5,349.6M474.2,351.7L472.6,355.6M470.2,352.5L471.6,355.6M471.6,355.6L472.5,355.6M472.6,355.6L472.5,355.6M456.7,371.8L458.5,371.9M455.4,377.0L459.1,374.4M459.1,374.4L458.5,371.9M461.5,381.0L459.5,379.4M461.5,381.0L459.7,383.4M456.6,382.9L457.9,379.4M456.6,382.9L459.7,383.4M457.9,379.4L459.5,379.4M455.3,383.7L456.6,382.9M455.6,377.6L457.9,379.4M460.2,385.5L459.7,383.4M460.8,375.4L459.1,374.4M460.8,375.4L459.5,379.4M462.1,363.6L465.9,365.3M465.1,360.3L467.1,364.6M465.9,365.3L467.1,364.6M467.2,371.1L464.5,371.2M467.2,371.1L466.8,368.2M464.5,371.2L463.6,368.7M463.6,368.7L465.6,366.5M465.6,366.5L466.8,368.2M461.2,386.1L464.0,385.0M465.3,387.9L465.0,386.1M465.3,387.9L462.9,389.5M464.0,385.0L465.0,386.1M462.6,368.3L460.5,365.3M462.6,368.3L459.3,370.3M459.3,370.3L458.4,368.1M458.4,368.1L459.8,365.6M460.5,365.3L459.8,365.6M461.3,364.3L460.5,365.3M463.6,368.7L462.6,368.3M465.9,365.3L465.6,366.5M454.3,367.7L458.4,368.1M459.2,371.0L458.5,371.9M459.2,371.0L459.3,370.3M456.3,363.7L459.8,365.6M465.3,387.9L466.7,388.9M469.3,386.7L469.4,387.2M469.3,386.7L467.2,385.4M467.2,385.4L465.0,386.1M466.7,388.9L469.4,387.2M478.9,367.7L478.4,365.4M478.9,367.7L480.4,368.6M480.4,368.6L482.0,366.6M482.0,366.6L480.2,362.9M480.2,362.9L479.0,362.9M478.4,365.4L479.0,362.9M471.3,374.9L470.4,378.3M471.3,374.9L473.4,374.3M470.4,378.3L470.6,378.6M470.6,378.6L473.4,379.7M473.4,379.7L474.4,376.0M473.4,374.3L474.4,376.0M482.0,366.6L484.2,365.8M480.2,362.9L481.0,362.5M484.2,365.8L484.7,364.3M481.0,362.5L484.7,364.3M502.4,358.0L500.6,355.5M500.8,360.9L498.7,357.8M498.7,357.8L500.6,355.5M502.7,354.0L500.6,355.1M498.3,350.9L498.8,350.0M498.3,350.9L499.8,354.5M499.8,354.5L500.6,355.1M500.6,355.5L500.6,355.1M495.7,378.8L492.5,381.4M495.7,378.8L497.4,379.3M498.3,382.0L492.9,381.8M492.9,381.8L492.5,381.4M487.7,390.1L488.8,389.3M487.7,390.1L485.3,388.7M485.3,388.7L485.5,384.9M488.9,385.6L489.2,388.5M488.9,385.6L486.0,384.8M486.0,384.8L485.5,384.9M488.8,389.3L489.2,388.5M448.8,373.3L447.3,372.0M448.8,373.3L444.7,376.2M447.3,372.0L444.0,373.4M444.7,376.2L444.0,373.4M448.8,369.1L446.9,369.5M446.9,369.5L447.3,372.0M449.8,373.7L448.8,373.3M444.7,376.3L444.7,376.2M442.7,372.5L444.0,373.4M446.9,369.5L446.6,369.1M443.1,369.7L446.6,369.1M438.6,361.6L439.7,359.5M439.7,359.5L436.5,355.8M439.7,359.5L441.2,358.7M438.0,354.0L438.3,354.0M438.3,354.0L441.5,357.9M441.2,358.7L441.5,357.9M448.6,358.6L446.0,360.2M448.4,354.9L446.5,354.7M446.0,360.2L445.0,356.2M446.5,354.7L445.0,356.2M447.4,348.8L445.0,351.7M446.5,354.7L445.0,351.7M443.3,346.6L447.2,348.0M441.8,348.3L443.6,351.5M447.2,348.0L447.5,348.3M445.0,351.7L443.6,351.5M444.3,364.8L446.5,365.8M444.3,364.8L443.7,363.2M443.7,363.2L444.5,361.2M446.5,365.8L448.3,365.0M448.3,365.0L448.2,362.1M448.2,362.1L446.0,360.3M444.5,361.2L446.0,360.3M441.5,367.8L444.3,364.8M446.6,369.1L446.5,365.8M440.2,363.0L443.7,363.2M441.2,358.7L444.5,361.2M450.5,365.6L448.3,365.0M451.2,360.8L448.2,362.1M446.0,360.2L446.0,360.3M466.5,351.9L467.2,351.3M471.6,355.6L471.2,356.0M466.4,356.2L466.4,356.4M471.2,356.0L466.4,356.4M460.5,355.9L460.7,355.8M460.7,355.8L466.0,357.1M465.6,359.0L466.0,358.6M466.0,358.6L466.0,357.1M462.5,353.8L460.7,355.8M466.4,356.4L466.0,357.1M467.1,364.6L467.8,364.6M466.0,358.6L469.6,360.5M467.8,364.6L469.6,360.5M471.2,356.0L470.6,360.2M470.6,360.2L469.6,360.5M469.9,324.7L467.7,324.6M467.7,324.6L467.4,320.8M438.8,326.3L441.8,325.4M441.7,321.4L442.5,322.3M442.5,322.3L441.8,325.4M511.3,340.1L510.7,337.4M507.8,339.1L510.0,337.0M510.7,337.4L510.0,337.0M514.6,340.1L513.5,336.0M510.7,337.4L513.5,336.0M503.0,326.7L503.0,325.4M503.0,326.7L506.5,329.6M507.6,325.0L507.9,326.7M507.6,325.0L507.4,324.9M506.5,329.6L507.9,326.7M514.7,324.5L513.6,325.7M514.7,324.5L513.8,321.4M513.6,325.7L509.1,323.6M513.8,321.4L511.1,320.8M511.1,320.8L509.6,322.3M509.6,322.3L509.1,323.6M895.3,331.7L514.7,324.5M524.9,332.4L513.5,326.2M513.5,326.2L513.6,325.7M507.6,325.0L509.1,323.6M507.9,326.7L510.8,328.3M510.8,328.3L512.9,327.8M512.9,327.8L513.5,326.2M506.8,319.7L509.6,322.3M486.5,383.3L486.1,380.2M486.5,383.3L489.3,381.9M489.3,381.9L487.1,379.9M486.1,380.2L487.1,379.9M488.9,385.6L489.7,384.9M486.0,384.8L486.5,383.3M489.7,384.9L490.6,382.2M490.6,382.2L489.3,381.9M488.6,378.0L490.3,377.2M488.6,378.0L485.3,376.2M485.6,375.3L485.3,376.2M485.6,375.3L490.2,376.0M490.3,377.2L490.4,376.7M490.2,376.0L490.4,376.7M490.6,382.2L492.1,381.3M492.1,381.3L490.3,377.2M487.1,379.9L488.6,378.0M485.8,380.1L486.1,380.2M485.8,380.1L483.8,377.6M483.8,377.6L485.3,376.2M495.7,378.8L494.4,376.0M494.4,376.0L490.4,376.7M492.5,381.4L492.1,381.3M493.4,371.7L497.5,372.0M493.4,371.7L493.3,372.1M493.3,372.1L494.6,375.4M494.6,375.4L497.4,374.2M497.4,374.2L497.5,372.0M489.8,373.6L493.3,372.1M489.8,373.6L488.2,372.0M488.2,372.0L493.0,369.1M493.1,369.2L493.0,369.1M493.1,369.2L493.4,371.7M489.8,373.6L490.2,376.0M494.4,376.0L494.6,375.4M499.3,375.5L497.4,374.2M500.5,374.9L500.6,371.2M497.5,372.0L497.5,371.9M497.5,371.9L500.6,371.2M503.5,372.1L501.5,370.3M500.6,371.2L501.5,370.3M503.6,367.5L501.5,369.0M501.5,370.3L501.5,369.0M487.1,324.0L487.9,323.0M487.3,320.1L487.9,323.0M493.9,324.3L492.1,324.7M493.9,324.3L496.3,326.4M496.3,326.4L493.8,327.8M493.8,327.8L491.4,326.4M491.4,326.4L492.1,324.7M490.5,329.8L493.7,330.3M490.0,327.5L491.4,326.4M493.8,327.8L493.8,330.2M493.7,330.3L493.8,330.2M497.0,326.9L496.5,326.4M497.0,326.9L497.3,330.2M496.5,326.4L496.3,326.4M493.8,330.2L497.3,330.2M499.8,326.6L497.0,326.9M499.8,326.6L501.2,330.8M498.0,331.1L497.3,330.2M498.0,331.1L499.7,331.6M499.7,331.6L501.2,330.8M503.0,326.7L501.9,330.7M501.8,324.6L501.7,324.6M501.7,324.6L499.8,326.6M501.2,330.8L501.9,330.7M475.5,351.1L479.5,351.0M475.5,351.1L476.5,354.1M480.2,354.1L478.8,355.7M480.2,354.1L480.0,352.0M480.0,352.0L479.5,351.0M476.5,354.1L478.8,355.7M475.5,351.1L475.0,350.8M472.6,355.6L472.9,355.6M476.5,354.1L472.9,355.6M463.9,372.0L466.9,375.8M463.9,372.0L463.8,372.0M463.8,372.0L462.2,375.3M466.5,377.0L466.9,375.8M466.5,377.0L462.8,375.9M462.8,375.9L462.2,375.3M467.2,371.1L468.3,371.5M464.5,371.2L463.9,372.0M468.3,371.5L468.8,373.8M468.8,373.8L466.9,375.8M459.2,371.0L463.8,372.0M460.8,375.4L462.2,375.3M471.3,374.9L468.8,373.8M470.4,378.3L466.5,377.2M466.5,377.2L466.5,377.0M466.3,378.1L466.0,381.2M466.3,378.1L462.6,378.8M466.0,381.2L464.3,382.0M464.3,382.0L461.8,381.0M462.6,378.8L461.8,381.0M468.3,382.1L466.0,381.2M468.3,382.1L468.4,382.1M466.5,377.2L466.3,378.1M468.4,382.1L470.6,378.6M462.8,375.9L462.6,378.8M468.3,382.1L467.2,385.4M464.0,385.0L464.3,382.0M461.5,381.0L461.8,381.0M469.3,386.7L470.2,383.9M468.4,382.1L469.7,382.9M470.2,383.9L469.7,382.9M466.7,388.9L468.5,397.3M469.4,387.2L471.9,388.7M471.9,388.7L468.5,397.3M473.6,366.0L473.5,365.6M473.6,366.0L473.7,366.2M473.7,366.2L471.7,369.9M473.5,365.6L472.7,365.0M472.7,365.0L469.1,365.4M469.1,365.4L469.3,368.0M469.3,368.0L470.0,370.0M470.0,370.0L471.7,369.9M478.4,365.4L473.6,366.0M479.0,362.9L477.7,361.9M477.7,361.9L473.5,365.6M478.9,367.7L476.3,368.6M476.3,368.6L473.7,366.2M476.3,368.6L475.5,371.8M475.5,371.8L474.2,372.4M474.2,372.4L471.7,369.9M472.4,361.1L470.6,360.2M472.4,361.1L472.7,365.0M467.8,364.6L469.1,365.4M466.8,368.2L469.3,368.0M468.3,371.5L470.0,370.0M474.2,372.4L473.4,374.3M485.0,367.4L488.1,367.8M485.0,367.4L484.2,369.6M484.2,369.6L485.5,372.2M488.1,367.8L488.4,368.2M488.4,368.2L487.6,371.8M487.6,371.8L485.6,372.2M485.6,372.2L485.5,372.2M480.4,368.6L480.5,368.6M484.2,365.8L485.0,367.4M480.5,368.6L484.2,369.6M491.2,364.4L488.3,364.8M491.2,364.4L492.1,364.7M488.3,364.8L488.1,367.8M492.1,364.7L492.0,368.0M492.0,368.0L488.4,368.2M488.2,372.0L487.6,371.8M492.0,368.0L493.0,369.1M485.6,375.3L485.6,372.2M480.2,354.1L483.4,354.5M483.4,354.5L484.2,355.6M478.8,355.7L478.6,357.2M478.6,357.2L482.0,358.7M482.0,358.7L484.2,355.6M488.5,354.2L490.7,355.5M488.5,354.2L484.9,355.9M490.7,355.5L490.6,356.2M490.6,356.2L486.3,358.5M484.9,355.9L486.3,358.5M496.4,358.0L496.0,356.7M496.4,358.0L498.7,357.8M499.8,354.5L496.9,355.0M496.9,355.0L496.0,356.7M498.3,350.9L495.6,352.0M496.9,355.0L495.6,352.0M495.9,358.8L496.4,358.0M495.9,358.8L492.1,359.4M492.1,359.4L491.6,359.1M490.7,355.5L492.3,354.3M490.6,356.2L491.4,358.8M491.4,358.8L491.6,359.1M496.0,356.7L492.3,354.3M489.7,384.9L492.9,386.2M489.2,388.5L492.0,388.1M492.0,388.1L492.9,386.2M492.9,381.8L494.7,385.2M492.9,386.2L494.7,385.2M498.7,382.9L496.0,385.7M496.0,385.7L494.7,385.2M500.8,361.7L499.0,362.7M495.9,358.8L496.5,360.8M499.0,362.7L496.5,360.8M492.1,359.4L493.5,363.1M496.5,360.8L493.5,363.1M491.2,364.4L490.0,361.8M492.1,364.7L493.4,363.9M490.0,361.8L491.6,359.1M493.5,363.1L493.4,363.9M482.1,373.0L480.3,369.8M482.1,373.0L480.6,375.1M480.6,375.1L479.5,375.3M479.5,375.3L477.4,372.5M477.4,372.5L480.3,369.8M480.5,368.6L480.3,369.8M485.5,372.2L482.1,373.0M483.8,377.6L483.2,377.6M483.2,377.6L480.6,375.1M475.5,371.8L477.4,372.5M474.4,376.0L478.2,376.8M478.2,376.8L479.5,375.3M442.0,352.7L443.2,356.4M442.0,352.7L439.7,352.9M439.7,352.9L439.0,353.6M439.0,353.6L443.1,356.4M443.1,356.4L443.2,356.4M445.0,356.2L443.2,356.4M443.6,351.5L442.0,352.7M439.5,348.4L439.7,352.9M438.3,354.0L439.0,353.6M441.5,357.9L443.1,356.4M470.0,328.7L468.5,329.6M467.7,324.6L466.5,325.5M468.5,329.6L466.3,327.9M466.5,325.5L466.3,327.9M442.5,322.3L444.6,322.6M446.5,320.8L444.6,322.6M441.8,325.4L444.2,327.4M446.1,325.1L444.6,322.6M446.1,325.1L444.9,326.8M444.2,327.4L444.9,326.8M513.6,335.8L512.3,334.5M513.6,335.8L519.4,332.6M512.3,334.5L512.5,331.7M519.4,332.6L514.8,330.9M512.5,331.7L514.8,330.9M513.5,336.0L513.6,335.8M512.9,327.8L514.8,330.9M510.5,331.4L510.8,328.3M510.5,331.4L512.5,331.7M508.6,333.9L508.4,334.6M508.6,333.9L508.5,332.7M508.5,332.7L506.3,330.5M506.9,335.6L508.4,334.6M506.9,335.6L503.9,334.0M506.3,330.5L503.7,331.3M503.9,334.0L503.7,331.3M510.0,337.0L508.4,334.6M512.3,334.5L508.6,333.9M510.5,331.4L508.5,332.7M506.5,329.6L506.3,330.5M506.0,337.1L506.9,335.6M504.9,337.6L502.4,337.2M502.4,337.2L502.2,336.3M502.2,336.3L503.9,334.0M501.9,330.7L503.7,331.3M502.2,336.3L499.8,334.0M499.8,334.0L499.7,331.6M495.6,368.4L496.2,365.2M495.6,368.4L496.9,369.1M496.9,369.1L499.9,367.9M498.3,364.4L496.2,365.2M498.3,364.4L499.4,366.2M499.4,366.2L499.9,367.9M493.1,369.2L495.6,368.4M493.4,363.9L496.2,365.2M497.5,371.9L496.9,369.1M501.5,369.0L499.9,367.9M499.0,362.7L498.3,364.4M502.2,365.1L499.4,366.2M496.5,320.6L498.2,322.4M501.4,320.2L498.6,322.4M498.6,322.4L498.2,322.4M496.5,326.4L498.2,322.4M493.9,324.3L495.4,321.0M501.7,324.6L498.6,322.4M492.2,320.2L490.8,323.1M490.7,318.1L488.9,322.9M490.8,323.1L488.9,322.9M492.1,324.7L490.8,323.1M487.9,323.0L488.9,322.9M483.4,354.5L484.6,351.8M480.0,352.0L484.0,350.9M484.6,351.8L484.0,350.9M488.5,354.2L487.5,352.0M484.9,355.9L484.2,355.6M484.6,351.8L487.5,352.0M492.3,354.3L493.1,352.6M495.6,352.0L494.1,352.0M493.1,352.6L494.1,352.0M463.5,351.8L462.2,350.6M467.1,349.9L465.7,347.8M465.7,347.8L463.1,348.3M463.1,348.3L462.2,350.6M458.5,351.9L459.7,350.4M459.7,350.4L462.2,350.6M478.5,357.3L476.1,357.3M478.5,357.3L477.4,361.3M476.1,357.3L474.0,359.1M477.4,361.3L473.8,360.5M473.8,360.5L474.0,359.1M472.9,355.6L476.1,357.3M478.6,357.2L478.5,357.3M472.5,355.6L474.0,359.1M477.7,361.9L477.4,361.3M472.4,361.1L473.8,360.5M485.5,384.9L482.7,384.1M485.8,380.1L482.2,383.1M482.2,383.1L482.7,384.1M481.0,382.1L481.0,382.1M481.0,382.1L480.9,380.9M480.9,380.9L483.2,377.6M482.2,383.1L481.0,382.1M473.7,380.2L473.9,380.7M473.7,380.2L478.2,377.3M473.9,380.7L475.2,382.3M478.4,378.2L478.2,377.3M478.4,378.2L476.1,382.0M476.1,382.0L475.2,382.3M473.4,379.7L473.7,380.2M469.7,382.9L473.9,380.7M478.2,376.8L478.2,377.3M480.9,380.9L478.4,378.2M481.0,382.1L476.1,382.0M470.2,383.9L473.4,385.1M471.9,388.7L473.0,388.1M473.0,388.1L473.4,385.1M475.2,382.3L475.1,383.3M473.4,385.1L475.1,383.3M481.0,382.1L478.5,384.8M478.5,384.8L476.7,384.8M476.7,384.8L475.1,383.3M485.3,388.7L482.3,389.6M479.4,401.0L482.3,389.6M482.7,384.1L481.1,387.4M482.3,389.6L481.1,387.4M478.5,384.8L480.2,387.3M481.1,387.4L480.2,387.3M482.5,360.1L485.7,363.6M482.5,360.1L482.6,359.7M482.6,359.7L486.0,359.6M486.0,359.6L486.7,360.8M486.7,360.8L486.8,362.2M486.8,362.2L486.5,363.2M486.5,363.2L485.7,363.6M481.0,362.5L482.5,360.1M484.7,364.3L485.7,363.6M482.0,358.7L482.6,359.7M486.3,358.5L486.0,359.6M491.4,358.8L486.7,360.8M490.0,361.8L486.8,362.2M488.3,364.8L486.5,363.2M493.6,390.1L496.2,386.2M494.9,394.8L497.9,388.3M497.9,388.3L496.2,386.2M492.0,388.1L493.6,390.1M496.0,385.7L496.2,386.2M488.8,389.3L493.9,392.7M499.5,388.4L497.9,388.3M466.7,341.1L466.7,344.5M466.7,341.1L469.7,340.2M469.7,340.2L471.0,342.2M466.7,344.5L470.2,345.2M471.0,342.2L471.0,344.7M470.2,345.2L471.0,344.7M465.9,345.0L463.0,344.3M465.9,345.0L466.7,344.5M464.6,339.5L462.1,341.9M464.6,339.5L466.7,341.1M463.0,344.3L462.1,341.9M470.0,346.4L470.2,345.2M465.7,347.8L465.9,345.0M473.9,349.5L473.7,345.4M473.7,345.4L471.0,344.7M473.0,331.8L472.8,332.0M472.8,332.0L473.4,335.7M476.3,333.5L475.4,335.7M473.4,335.7L475.4,335.7M480.8,334.6L479.3,337.2M480.8,334.6L480.5,333.6M479.3,337.2L477.3,337.7M475.4,335.7L477.3,337.7M460.4,333.2L458.6,334.2M460.4,333.2L458.7,329.5M458.7,329.5L456.9,330.2M456.9,330.2L457.4,334.0M457.4,334.0L458.6,334.2M461.3,327.7L463.6,329.7M461.3,327.7L459.4,328.1M463.6,329.7L463.6,330.2M459.4,328.1L458.7,329.5M460.4,333.2L462.1,333.4M463.6,330.2L462.1,333.4M454.5,346.4L455.8,344.2M450.6,345.5L450.4,344.5M455.8,344.2L453.7,341.5M453.7,341.5L451.9,342.1M450.4,344.5L451.9,342.1M439.5,334.7L441.0,333.8M441.8,338.4L442.3,338.4M441.0,333.8L443.5,335.7M442.3,338.4L443.5,335.7M439.3,329.4L444.0,328.9M439.3,329.4L441.4,332.9M441.4,332.9L443.9,331.6M443.9,331.6L444.6,330.1M444.0,328.9L444.6,330.1M438.8,329.2L439.3,329.4M444.2,327.4L444.0,328.9M441.0,333.8L441.4,332.9M443.5,335.7L445.3,334.9M445.3,334.9L443.9,331.6M474.9,350.4L477.8,347.2M473.7,345.4L475.9,344.5M475.9,344.5L476.9,344.8M476.9,344.8L477.8,347.2M479.5,351.0L480.1,348.7M477.8,347.2L480.1,348.7M486.5,345.5L485.6,347.7M486.5,345.5L482.3,344.9M485.6,347.7L483.8,348.6M483.8,348.6L481.9,347.8M481.9,347.8L481.9,345.3M482.3,344.9L481.9,345.3M487.3,344.6L487.2,343.2M487.3,344.6L486.5,345.5M487.2,343.2L483.2,341.8M483.2,341.8L482.3,344.9M484.0,350.9L483.8,348.6M480.1,348.7L481.9,347.8M476.9,344.8L478.6,343.9M478.6,343.9L481.9,345.3M480.8,340.9L483.0,341.5M480.8,340.9L479.5,342.0M479.5,342.0L478.6,343.9M483.2,341.8L483.0,341.5M498.8,349.8L496.3,347.8M494.1,352.0L494.0,348.3M496.3,347.8L494.1,348.1M494.0,348.3L494.1,348.1M463.1,348.3L461.8,346.1M459.7,350.4L459.2,348.4M461.8,346.1L459.2,348.4M463.0,344.3L461.9,345.7M461.8,346.1L461.9,345.7M454.9,348.4L459.1,348.4M459.1,348.4L459.2,348.4M460.0,340.4L460.9,341.5M460.0,340.4L458.4,340.1M460.9,341.5L457.8,344.4M458.4,340.1L455.9,344.2M455.9,344.2L457.4,344.5M457.4,344.5L457.8,344.4M460.6,337.8L458.8,336.8M460.6,337.8L460.0,340.4M458.8,336.8L456.5,338.6M456.5,338.6L458.4,340.1M462.1,341.9L460.9,341.5M461.9,345.7L457.8,344.4M455.8,344.2L455.9,344.2M453.7,341.5L454.2,338.5M456.5,338.6L454.2,338.5M459.1,348.4L457.4,344.5M473.4,388.3L477.0,387.6M473.4,388.3L477.5,394.0M477.5,394.0L477.8,388.1M477.0,387.6L477.8,388.1M473.0,388.1L473.4,388.3M476.7,384.8L477.0,387.6M480.2,387.3L477.8,388.1M476.9,340.3L475.6,342.8M476.9,340.3L476.6,338.7M476.6,338.7L474.1,339.4M475.6,342.8L473.9,340.8M473.9,340.8L474.1,339.4M479.5,342.0L476.9,340.3M475.9,344.5L475.6,342.8M479.3,337.2L480.1,338.6M480.1,338.6L480.8,340.9M477.3,337.7L476.6,338.7M473.4,335.7L471.6,337.3M471.6,337.3L474.1,339.4M471.0,342.2L473.9,340.8M470.9,337.3L470.2,338.1M470.9,337.3L471.6,337.3M470.2,338.1L469.7,340.2M466.7,320.7L463.2,321.9M462.2,319.7L463.2,321.9M466.5,325.5L462.9,323.8M463.2,321.9L462.9,323.8M461.3,327.7L462.7,323.9M463.6,329.7L466.3,327.9M462.7,323.9L462.9,323.8M464.6,339.5L464.6,337.7M460.6,337.8L463.4,336.4M463.4,336.4L464.6,337.7M470.2,338.1L465.8,337.3M464.6,337.7L465.8,337.3M470.9,337.3L468.8,333.5M465.8,337.3L468.8,333.5M444.9,326.8L447.4,327.8M444.6,330.1L448.4,330.9M448.4,330.9L447.4,327.8M445.3,334.9L446.1,335.2M448.7,332.7L446.1,335.2M448.7,332.7L448.5,331.0M448.4,330.9L448.5,331.0M484.7,338.2L484.7,338.2M484.7,338.2L483.7,335.6M484.7,338.2L487.1,338.7M487.1,338.7L487.5,334.6M483.7,335.6L486.0,334.0M486.0,334.0L487.5,334.6M480.1,338.6L484.7,338.2M483.0,341.5L484.7,338.2M480.8,334.6L483.7,335.6M485.7,330.7L486.0,334.0M489.7,331.2L490.4,334.2M490.4,334.2L487.5,334.6M490.1,346.1L490.8,348.9M490.1,346.1L487.6,349.4M490.8,348.9L490.5,349.9M490.5,349.9L488.1,350.6M488.1,350.6L487.6,349.4M490.1,346.1L492.8,344.9M490.1,346.1L490.1,346.1M492.8,344.9L494.1,348.1M494.0,348.3L490.8,348.9M487.3,344.6L490.1,346.1M485.6,347.7L487.6,349.4M493.1,352.6L490.5,349.9M487.5,352.0L488.1,350.6M487.2,343.2L489.0,340.1M487.1,338.7L489.0,340.1M489.0,340.1L489.0,340.1M490.4,334.2L491.3,334.9M489.0,340.1L491.3,334.9M493.7,330.3L493.2,334.6M493.2,334.6L492.2,334.9M491.3,334.9L492.2,334.9M462.9,334.5L467.3,332.6M462.9,334.5L463.4,336.0M463.4,336.0L468.8,333.4M467.3,332.6L468.7,332.7M468.7,332.7L468.8,332.8M468.8,332.8L468.8,333.4M463.6,330.2L467.3,332.6M462.1,333.4L462.9,334.5M458.8,336.8L458.6,334.2M463.4,336.4L463.4,336.0M468.8,333.5L468.8,333.4M468.5,329.6L468.7,332.7M472.8,332.0L468.8,332.8M450.4,337.3L450.2,334.0M450.4,337.3L454.1,338.3M450.2,334.0L453.9,333.2M454.1,338.3L454.8,334.4M454.8,334.4L453.9,333.2M454.2,338.5L454.1,338.3M451.9,342.1L449.3,340.8M449.3,340.8L448.7,338.1M448.7,338.1L450.4,337.3M457.4,334.0L454.8,334.4M448.7,332.7L450.2,334.0M446.1,335.2L446.9,337.2M448.7,338.1L447.6,337.9M446.9,337.2L447.6,337.9M442.3,338.4L442.5,338.6M446.9,337.2L442.5,338.6M440.3,342.8L443.6,340.4M443.6,340.4L442.5,338.6M448.0,343.4L448.9,341.3M448.0,343.4L446.8,343.7M448.9,341.3L445.3,341.1M446.8,343.7L445.1,342.8M445.1,342.8L445.0,341.3M445.0,341.3L445.3,341.1M450.4,344.5L448.0,343.4M449.3,340.8L448.9,341.3M447.2,348.0L446.8,343.7M447.6,337.9L445.3,341.1M443.1,344.7L445.1,342.8M443.6,340.4L445.0,341.3M489.0,340.1L489.4,340.3M492.2,334.9L493.3,340.0M493.3,340.0L489.4,340.3M492.8,344.9L492.8,344.9M489.4,340.3L492.8,344.9M496.3,347.8L496.9,344.7M496.9,344.7L494.5,343.7M492.8,344.9L494.5,343.7M493.3,340.0L493.9,340.2M494.5,343.7L494.8,340.9M493.9,340.2L494.8,340.9M500.7,346.1L500.7,345.9M496.9,344.7L497.5,344.6M497.5,344.6L500.7,345.9M506.6,344.2L501.1,345.2M500.7,345.9L501.1,345.2M505.3,341.7L501.5,341.2M501.1,345.2L501.5,341.2M453.6,324.3L451.5,328.2M453.6,324.3L450.2,322.8M451.5,328.2L449.4,326.3M449.4,326.3L448.5,324.7M450.2,322.8L448.9,323.9M448.5,324.7L448.9,323.9M448.5,331.0L451.6,328.7M447.4,327.8L449.4,326.3M451.6,328.7L451.5,328.2M446.1,325.1L448.5,324.7M446.5,320.8L448.9,323.9M450.5,321.0L450.2,322.8M453.9,333.0L451.6,328.7M453.9,333.0L456.5,330.1M451.6,328.7L454.8,328.6M456.5,330.1L454.8,328.6M451.6,328.7L451.6,328.7M453.9,333.2L453.9,333.0M456.9,330.2L456.5,330.1M459.4,328.1L457.0,325.4M457.0,325.4L454.8,328.6M454.2,324.0L456.9,324.9M454.2,324.0L454.2,321.9M454.2,321.9L457.9,320.7M456.9,324.9L458.3,323.3M458.3,323.3L458.2,321.0M457.0,325.4L456.9,324.9M453.6,324.3L454.2,324.0M453.7,320.8L454.2,321.9M462.7,323.9L458.3,323.3M498.0,331.1L495.0,334.4M499.8,334.0L498.2,335.7M498.2,335.7L495.0,334.4M493.2,334.6L493.9,334.7M493.9,340.2L494.9,336.7M494.9,336.7L493.9,334.7M495.0,334.4L493.9,334.7M501.0,338.9L498.1,337.2M501.0,338.9L500.9,340.5M500.9,340.5L498.7,341.1M498.7,341.1L496.3,340.3M496.3,340.3L497.0,337.9M498.1,337.2L497.0,337.9M502.4,337.2L501.0,338.9M498.2,335.7L498.1,337.2M501.5,341.2L500.9,340.5M497.5,344.6L498.7,341.1M494.8,340.9L496.3,340.3M494.9,336.7L497.0,337.9" stroke="#d9a3d2" stroke-width="0.5" opacity="0.35" fill="none"/>
<path d="M440.3 323.9h0M452.3 322.1h0M456.0 322.0h0M441.3 327.5h0M443.8 324.6h0M451.1 324.8h0M459.9 325.4h0M482.9 327.2h0M498.8 325.1h0M511.2 326.3h0M447.0 328.3h0M456.6 328.3h0M470.9 330.3h0M475.3 330.6h0M481.4 328.9h0M495.1 328.5h0M509.3 329.6h0M439.5 332.1h0M451.3 332.2h0M457.9 331.8h0M465.1 332.4h0M466.0 334.4h0M471.7 334.3h0M477.4 332.0h0M483.9 332.9h0M495.0 331.9h0M441.8 335.9h0M457.1 336.2h0M486.3 336.4h0M488.3 336.5h0M508.1 337.6h0M511.2 335.5h0M456.9 341.0h0M475.5 340.7h0M498.2 339.1h0M509.3 338.8h0M442.5 342.3h0M464.9 342.4h0M499.3 343.2h0M463.9 346.9h0M472.1 347.8h0M479.8 346.1h0M495.3 346.4h0M503.8 346.0h0M441.1 350.8h0M457.1 349.4h0M461.5 348.3h0M472.2 351.4h0M477.6 349.6h0M481.9 350.5h0M492.4 349.5h0M464.1 354.2h0M472.5 352.7h0M482.4 352.3h0M500.9 352.3h0M510.4 354.2h0M439.4 356.9h0M454.7 356.3h0M469.1 357.9h0M475.5 355.7h0M484.2 358.1h0M494.0 357.3h0M497.9 355.9h0M441.7 361.2h0M452.6 358.7h0M488.3 359.0h0M498.3 359.7h0M503.2 359.6h0M446.6 363.0h0M470.4 363.0h0M489.4 362.9h0M491.3 362.1h0M501.0 365.0h0M444.3 367.6h0M470.9 367.4h0M476.7 366.4h0M480.4 365.7h0M486.5 366.1h0M509.4 365.8h0M454.7 370.8h0M466.1 368.8h0M477.9 370.1h0M486.1 368.9h0M491.0 371.3h0M495.6 370.7h0M513.6 369.1h0M452.8 374.4h0M456.4 373.9h0M495.5 373.0h0M499.5 373.0h0M505.6 372.1h0M509.0 372.9h0M458.6 377.1h0M461.6 378.0h0M472.3 377.1h0M487.4 376.2h0M501.5 376.9h0M510.8 377.4h0M441.6 379.5h0M470.9 380.8h0M483.5 380.3h0M441.4 383.4h0M461.7 383.9h0M501.7 384.0h0M440.2 388.5h0M444.8 385.6h0M447.7 387.6h0M471.1 385.8h0M499.3 386.1h0M501.1 386.7h0M509.2 386.9h0M456.6 389.7h0" stroke="#652a73" stroke-width="1.5" stroke-linecap="round" opacity="0.85"/>
<path d="M448.4 321.6h0M469.2 322.2h0M495.9 323.9h0M504.3 323.0h0M447.4 327.0h0M468.9 327.1h0M479.9 326.4h0M487.2 326.8h0M454.6 330.4h0M483.5 328.9h0M492.5 328.5h0M499.1 328.2h0M512.0 329.9h0M502.2 333.9h0M513.2 333.4h0M439.6 337.2h0M466.3 335.0h0M482.3 337.8h0M499.8 336.4h0M504.5 335.6h0M441.5 340.8h0M450.8 340.0h0M485.4 340.6h0M503.8 339.4h0M449.5 342.5h0M458.3 341.9h0M473.5 342.5h0M484.2 344.2h0M503.3 343.5h0M509.2 341.5h0M457.1 347.3h0M459.7 346.1h0M475.5 347.6h0M484.0 346.0h0M492.1 347.7h0M444.3 348.9h0M449.9 350.7h0M453.6 350.4h0M469.8 348.9h0M501.8 349.0h0M513.6 350.0h0M514.4 349.9h0M447.8 351.9h0M456.6 353.9h0M468.8 354.4h0M474.7 353.6h0M495.6 354.6h0M497.5 353.8h0M456.4 356.4h0M487.1 356.6h0M510.0 355.6h0M472.7 358.4h0M475.5 358.9h0M489.2 360.9h0M506.3 359.7h0M510.8 358.7h0M454.2 361.9h0M458.9 363.0h0M459.7 362.1h0M476.5 364.8h0M438.4 367.6h0M483.2 367.9h0M461.2 372.7h0M483.7 374.9h0M463.8 378.2h0M469.3 376.4h0M486.4 377.9h0M493.1 378.4h0M497.0 376.5h0M504.7 376.8h0M447.1 380.9h0M451.7 380.9h0M455.9 380.7h0M478.3 380.4h0M489.2 380.1h0M501.5 380.9h0M507.5 381.3h0M514.8 379.6h0M446.0 383.6h0M452.5 384.7h0M478.2 383.6h0M485.2 382.2h0M511.6 383.1h0M456.6 387.3h0M491.0 386.7h0M476.1 389.4h0M479.3 389.6h0M491.5 389.8h0M506.6 389.8h0" stroke="#652a73" stroke-width="1.25" stroke-linecap="round" opacity="0.85"/>
<path d="M465.9 322.6h0M489.7 324.8h0M461.0 330.4h0M474.3 328.0h0M474.5 333.9h0M492.0 331.5h0M444.4 337.1h0M460.3 336.0h0M477.3 335.0h0M493.7 337.8h0M478.4 340.1h0M495.4 338.3h0M506.3 339.2h0M448.4 345.1h0M511.6 345.5h0M438.2 350.9h0M503.0 349.3h0M507.1 348.3h0M441.6 354.7h0M461.2 352.9h0M450.3 358.1h0M462.9 357.9h0M474.5 357.7h0M513.1 357.4h0M467.2 361.6h0M514.0 360.3h0M482.2 364.8h0M503.2 364.3h0M514.8 364.2h0M467.7 367.7h0M489.9 366.4h0M494.2 366.5h0M509.4 369.5h0M442.5 375.1h0M464.8 374.6h0M479.9 372.1h0M492.3 374.2h0M452.5 378.2h0M491.9 384.5h0M508.9 384.9h0M450.1 388.7h0M487.1 387.2h0" stroke="#652a73" stroke-width="2.0" stroke-linecap="round" opacity="0.85"/>
<path d="M473.3 323.6h0M476.4 321.3h0M492.8 322.5h0M506.6 321.4h0M512.5 323.4h0M454.5 326.8h0M493.8 326.3h0M448.1 328.0h0M466.2 330.6h0M488.2 329.5h0M504.0 328.3h0M446.1 332.7h0M456.4 332.0h0M497.4 334.1h0M505.5 333.6h0M448.6 335.4h0M452.0 335.2h0M468.0 336.3h0M459.0 338.5h0M467.5 339.0h0M472.3 340.1h0M482.4 339.0h0M492.1 338.2h0M447.6 341.7h0M452.5 344.5h0M460.3 344.0h0M468.5 342.5h0M481.1 343.3h0M490.3 343.5h0M492.3 342.0h0M440.9 346.0h0M467.7 347.1h0M512.8 345.2h0M443.5 354.1h0M485.7 353.7h0M514.7 354.0h0M463.6 355.1h0M481.9 356.4h0M500.7 358.1h0M443.8 358.5h0M448.8 360.3h0M455.5 361.0h0M460.3 359.0h0M438.7 364.7h0M450.0 363.0h0M464.8 362.7h0M483.5 362.0h0M495.9 362.8h0M513.9 364.7h0M450.1 368.2h0M460.5 368.2h0M463.2 366.3h0M497.6 367.1h0M440.9 370.6h0M449.3 370.6h0M456.9 369.6h0M461.7 370.3h0M474.2 369.2h0M490.1 369.8h0M440.6 374.7h0M466.2 373.5h0M471.0 372.5h0M476.3 374.7h0M487.6 375.0h0M513.1 372.1h0M441.4 377.7h0M475.6 378.0h0M509.8 377.3h0M444.1 378.8h0M476.5 379.3h0M495.6 381.4h0M500.1 379.9h0M510.3 379.2h0M458.1 384.8h0M466.5 384.3h0M468.4 384.9h0M472.1 383.1h0M479.7 385.0h0M488.2 383.3h0M495.6 382.5h0M463.0 387.4h0M467.3 386.7h0M483.8 387.0h0M493.8 388.0h0M507.3 386.6h0M468.9 389.3h0M495.5 389.2h0" stroke="#652a73" stroke-width="1.75" stroke-linecap="round" opacity="0.85"/>
<path d="M496.5 336.3h0M477.4 341.7h0M445.4 345.4h0M447.1 357.6h0M508.6 364.6h0M444.9 371.2h0M450.0 377.3h0M478.2 386.1h0" stroke="#652a73" stroke-width="1.0" stroke-linecap="round" opacity="0.85"/>
<path d="M456.8 331.4h0M452.2 387.7h0M458.9 375.8h0M497.3 357.3h0M448.9 351.3h0M446.9 353.5h0M475.8 365.8h0M480.0 365.4h0M486.0 383.5h0M505.4 377.3h0M487.3 359.6h0M447.3 376.7h0M499.4 351.9h0M460.5 386.4h0M477.8 342.6h0M482.7 338.4h0M455.6 382.9h0" stroke="#f8eaf6" stroke-width="1.25" stroke-linecap="round" opacity="0.85"/>
<path d="M458.2 325.8h0M458.1 380.8h0M488.6 335.4h0M480.9 374.9h0M506.7 363.3h0M455.5 382.3h0M453.8 358.8h0M445.5 376.9h0M498.5 367.5h0M483.2 336.7h0M505.8 384.7h0M465.0 340.6h0M490.9 382.2h0M444.4 346.7h0" stroke="#f8eaf6" stroke-width="0.75" stroke-linecap="round" opacity="0.85"/>
<path d="M479.9 358.9h0M500.7 367.8h0M503.6 348.3h0M463.3 333.0h0M478.6 327.9h0M443.7 379.8h0M486.1 346.7h0M459.9 368.8h0M464.9 352.5h0M511.1 381.0h0M480.4 383.7h0" stroke="#f8eaf6" stroke-width="1.0" stroke-linecap="round" opacity="0.85"/>
<path d="M480.7 382.8h0M450.4 384.3h0M454.6 373.2h0M466.0 334.3h0M487.2 365.8h0M466.3 342.5h0M445.6 349.4h0M506.6 330.1h0M477.4 378.0h0M489.0 343.5h0M462.3 346.3h0M461.1 375.1h0M474.0 346.8h0" stroke="#f8eaf6" stroke-width="1.5" stroke-linecap="round" opacity="0.85"/>
<path d="M506.2 364.0h0M493.2 376.7h0M442.7 334.6h0M462.8 330.8h0M472.4 383.8h0M480.2 371.2h0M443.7 367.9h0M471.7 339.5h0M452.2 356.8h0M470.1 341.3h0M471.6 385.3h0M472.9 383.2h0M497.2 357.9h0M501.6 361.1h0M444.0 347.3h0M489.9 335.2h0M450.6 375.7h0M508.4 324.7h0M464.6 370.6h0M488.2 375.2h0M443.5 379.5h0M503.9 370.5h0M483.5 374.3h0M498.6 333.5h0M484.1 324.0h0M478.7 342.5h0M483.1 369.0h0M452.0 376.1h0M510.4 328.9h0M481.5 379.2h0M465.5 354.0h0M478.1 327.8h0M467.6 341.0h0M440.1 336.7h0M479.3 383.4h0M508.4 324.7h0M463.8 380.2h0M464.3 364.3h0M493.3 339.5h0M476.0 347.4h0M441.7 342.0h0M480.6 353.3h0M486.3 333.0h0M476.8 346.3h0M496.1 331.6h0M441.2 335.1h0M510.4 323.3h0M454.1 347.3h0M510.4 329.0h0M453.0 369.0h0M478.6 325.4h0M511.8 379.6h0M478.7 361.7h0M467.6 349.5h0M475.3 337.3h0M481.4 376.3h0M499.3 366.0h0M462.3 365.3h0M475.8 339.8h0M459.1 348.4h0M488.0 346.6h0M478.1 344.5h0M482.5 373.9h0M453.5 359.4h0M450.0 325.6h0M483.9 367.6h0M460.2 333.1h0M451.9 348.6h0M501.3 386.6h0M442.3 368.7h0M470.4 331.0h0M497.0 384.5h0M440.9 355.1h0M500.8 336.1h0M486.3 368.8h0M451.4 345.2h0M441.1 325.3h0M464.9 360.9h0M476.6 355.9h0M451.9 331.1h0M460.0 365.4h0M489.5 339.4h0M511.1 373.4h0M494.8 332.3h0M483.2 343.1h0M496.3 334.6h0M494.8 324.6h0M507.1 347.2h0M504.1 324.9h0M503.6 357.6h0M444.8 379.0h0M447.0 360.9h0M446.6 381.1h0M489.1 325.6h0M459.4 326.8h0M455.7 369.5h0M458.7 379.5h0M465.1 329.3h0M505.9 381.7h0M453.7 382.8h0M447.5 366.1h0M468.8 370.5h0M449.1 337.4h0M464.5 354.4h0M512.6 349.4h0M480.3 386.9h0M505.7 359.5h0M450.6 355.7h0M509.5 327.8h0M493.7 365.3h0M511.5 350.7h0M508.5 351.5h0M455.0 335.5h0M440.7 346.8h0M442.6 351.6h0M490.1 336.2h0M467.6 329.3h0M501.4 371.9h0M455.0 330.2h0M476.4 347.7h0M441.1 370.9h0M489.0 336.0h0M489.3 326.5h0M489.3 333.6h0M490.5 324.8h0M479.9 358.3h0M470.7 346.9h0M493.6 354.9h0M448.7 353.8h0M484.8 360.9h0M451.5 379.8h0M499.9 345.9h0M453.7 379.8h0M479.4 354.8h0M494.6 340.0h0M455.5 345.8h0M505.7 365.5h0M463.6 351.4h0M506.9 325.7h0M479.4 377.8h0M472.2 352.5h0M492.5 357.1h0M507.2 371.9h0M467.0 351.5h0M507.3 382.2h0M476.7 351.6h0M489.2 380.1h0M509.7 337.7h0M466.1 378.9h0M444.3 384.1h0M472.6 378.3h0M461.6 380.5h0M487.6 376.9h0M460.5 347.5h0M445.3 363.8h0M510.6 328.5h0M486.6 349.7h0M450.6 381.2h0M496.1 375.7h0M497.8 374.3h0M494.6 366.8h0M492.4 326.2h0M478.3 329.2h0M474.2 355.7h0M508.6 365.3h0M467.6 344.6h0M502.7 386.2h0M498.1 333.8h0M479.0 338.9h0M466.9 372.3h0M505.7 375.4h0M464.8 323.8h0M481.1 347.2h0M447.4 332.3h0M480.3 382.7h0M461.5 341.1h0M444.3 362.2h0M461.4 365.4h0M487.0 328.0h0M451.8 326.0h0M442.1 372.3h0M504.5 337.7h0M492.0 336.6h0M498.7 350.4h0M509.6 384.5h0M450.9 329.5h0M458.4 347.5h0M477.5 385.2h0M500.1 364.1h0M459.5 355.7h0M484.6 375.5h0M481.2 357.8h0M512.2 386.6h0" stroke="#d9a0d0" stroke-width="1.0" stroke-linecap="round" opacity="0.6"/>
<path d="M478.1 372.6h0M487.1 387.2h0M468.7 334.9h0M475.6 336.8h0M508.4 361.5h0M456.9 385.7h0M450.8 348.7h0M481.7 338.2h0M502.3 379.4h0M484.7 364.6h0M462.9 334.0h0M488.8 387.3h0M478.1 366.5h0M502.0 367.6h0M490.1 357.8h0M482.8 358.1h0M452.8 324.4h0M448.7 336.7h0M471.2 355.4h0M511.6 342.2h0M444.3 333.2h0M499.2 359.1h0M486.8 378.4h0M501.9 369.5h0M505.1 333.6h0M508.4 368.6h0M459.8 340.4h0M487.5 330.7h0M489.1 349.1h0M472.2 364.3h0M474.5 353.5h0M483.6 348.0h0M482.2 343.5h0M497.8 372.5h0M502.9 371.5h0M457.5 352.1h0M496.2 368.9h0M475.9 382.5h0M448.6 348.6h0M447.9 334.4h0M499.3 344.6h0M463.8 333.6h0M492.7 337.1h0M502.8 338.3h0M507.1 346.0h0M463.3 374.2h0M492.9 384.9h0M490.4 337.5h0M447.0 380.6h0M466.8 375.8h0M446.2 323.8h0M497.6 339.4h0M456.7 382.1h0M457.7 358.8h0M502.9 343.3h0M494.1 387.8h0M466.5 380.4h0M464.3 346.9h0" stroke="#d9a0d0" stroke-width="1.25" stroke-linecap="round" opacity="0.6"/>
<path d="M506.2 344.6h0M467.8 360.7h0M442.4 345.9h0M510.3 358.6h0M463.8 344.5h0M482.9 355.3h0M504.4 366.7h0M454.7 387.0h0M492.4 345.7h0M444.2 359.5h0M497.3 360.8h0M505.9 324.4h0M498.0 334.7h0M445.0 369.9h0M462.2 334.2h0M454.6 383.6h0M446.9 368.4h0M482.6 325.0h0M460.7 380.4h0M460.5 360.7h0M486.7 338.1h0M506.9 387.1h0M463.6 375.3h0M444.8 331.2h0M500.2 347.6h0M473.8 374.0h0M499.2 372.6h0M478.4 338.5h0M508.9 386.5h0M440.3 342.8h0M441.0 377.9h0M509.6 350.7h0M463.2 353.7h0M484.1 323.7h0M454.8 372.2h0M469.2 356.0h0M470.1 383.8h0M483.1 373.6h0M478.4 365.5h0M470.6 370.4h0M450.6 354.8h0M475.5 324.7h0M463.2 345.2h0M505.6 370.8h0M474.7 339.8h0M472.6 338.3h0M483.4 356.8h0M469.2 330.3h0M471.8 377.0h0M495.7 362.8h0M470.7 359.0h0M491.2 363.5h0M467.2 371.2h0M449.6 354.9h0M479.4 361.2h0M445.3 331.1h0M475.8 375.5h0M472.6 364.9h0M453.9 371.4h0M499.0 339.0h0M454.8 381.1h0M462.7 328.3h0M460.3 332.2h0M487.7 330.1h0M510.4 339.8h0M509.8 385.0h0M510.8 368.1h0M452.6 358.1h0M453.6 335.6h0M453.8 349.6h0M464.5 368.3h0M483.7 357.4h0M490.5 361.7h0M505.0 340.7h0M498.2 328.6h0M445.0 325.5h0M475.4 381.4h0M505.7 370.3h0M499.3 348.4h0M457.0 347.2h0M462.6 382.9h0M489.0 369.1h0M458.6 375.5h0M490.9 369.7h0M459.1 328.6h0M461.6 354.8h0M479.7 346.1h0M494.5 361.1h0M493.1 350.0h0M463.4 330.5h0M444.0 345.1h0M453.9 379.7h0M491.6 361.0h0M498.9 381.9h0M476.7 346.9h0M452.4 387.6h0M470.3 381.9h0M481.5 362.5h0M496.8 359.8h0M494.8 362.1h0M463.2 374.0h0M478.7 368.6h0M471.0 377.8h0M482.7 327.0h0M459.7 329.0h0M445.2 359.8h0M449.3 354.6h0M474.2 378.6h0M491.7 360.9h0M462.2 343.9h0M512.5 382.8h0M498.6 329.8h0M444.4 351.2h0M475.4 377.6h0M445.4 376.4h0M478.1 379.8h0M478.3 379.9h0M503.9 336.0h0M467.1 386.5h0M481.3 363.1h0M479.1 354.2h0M496.3 342.1h0M505.0 330.3h0M452.9 384.3h0M457.4 344.4h0M496.0 348.7h0M485.3 342.5h0M484.7 365.1h0M460.6 365.4h0M508.2 350.9h0M492.1 331.1h0M461.8 355.5h0M467.3 326.4h0M502.8 379.6h0M508.9 359.1h0M480.1 371.6h0M441.7 370.8h0M505.5 351.3h0M472.7 359.8h0M477.5 361.3h0M496.1 342.9h0M492.0 376.5h0M457.7 359.2h0M465.8 360.8h0M509.4 384.3h0M478.5 380.1h0M479.7 378.6h0M485.5 366.7h0M472.9 381.0h0" stroke="#d9a0d0" stroke-width="0.75" stroke-linecap="round" opacity="0.6"/>
<path d="M467.8 355.5h0M480.0 361.5h0M441.0 381.8h0M474.5 337.0h0M464.1 358.8h0M499.1 343.2h0M488.5 353.4h0M476.6 358.8h0M448.4 361.8h0M441.4 349.3h0M467.6 336.7h0M475.7 373.9h0M506.8 346.8h0M504.2 353.6h0M467.6 337.9h0M496.7 344.4h0M496.7 325.7h0M472.4 339.4h0M511.1 368.4h0M478.2 334.3h0M468.4 345.0h0M490.1 335.2h0M441.6 366.6h0M480.8 371.0h0M461.4 383.2h0M472.9 386.5h0M448.1 380.2h0M508.4 366.6h0M490.8 327.0h0M480.8 347.7h0M490.1 327.5h0M457.2 355.0h0M458.7 353.7h0M492.2 343.9h0M497.3 371.0h0M497.9 352.5h0M466.7 362.1h0M505.3 352.4h0" stroke="#5a2468" stroke-width="1.25" stroke-linecap="round" opacity="0.7"/>
<path d="M505.6 358.7h0M450.8 368.2h0M442.6 323.4h0M490.1 367.5h0M481.5 328.3h0M466.5 358.4h0M444.8 387.4h0M443.6 372.7h0M444.9 365.0h0M495.9 373.9h0M457.5 324.3h0M503.1 335.0h0M474.8 348.8h0M443.3 349.6h0M509.9 324.1h0M496.3 354.7h0M504.7 369.3h0M445.3 350.7h0M478.0 338.6h0M460.7 373.5h0M463.2 365.4h0M511.5 364.6h0M498.7 334.2h0M483.7 333.1h0M441.4 361.1h0M497.4 379.6h0M458.0 336.3h0M491.5 343.4h0M506.4 323.4h0M465.3 323.7h0M450.3 381.5h0M479.5 342.3h0M512.5 371.2h0M509.5 344.8h0M472.0 372.6h0M459.9 335.1h0M458.5 323.5h0M452.6 371.5h0M481.2 374.0h0M464.8 350.5h0M500.4 339.2h0M475.6 360.5h0M472.9 336.6h0M493.7 387.1h0M493.6 354.3h0M443.1 371.1h0M452.4 334.4h0M497.2 386.4h0M488.8 323.6h0M459.8 331.0h0M455.9 330.3h0M459.2 335.5h0M477.5 344.9h0M493.6 369.4h0M507.2 371.4h0M486.4 333.8h0M443.7 344.3h0M510.6 327.5h0M509.3 365.9h0M480.5 365.8h0M472.2 380.2h0M465.1 334.7h0M448.5 383.7h0M442.9 370.9h0M512.2 386.4h0M493.4 347.0h0M467.1 364.7h0M497.0 384.5h0M441.4 372.2h0M459.8 354.5h0M506.4 334.7h0M511.5 383.0h0M501.0 363.0h0M470.1 363.6h0M506.0 343.1h0M466.6 371.5h0M448.5 352.6h0M487.7 348.5h0M453.1 351.2h0M472.4 341.4h0M452.8 366.7h0M481.8 336.4h0M459.5 339.1h0M499.9 383.0h0M473.9 352.3h0M455.8 378.4h0M507.1 371.4h0M453.5 351.7h0M465.5 323.9h0M505.3 329.0h0M509.3 348.0h0M445.7 330.1h0M512.0 375.0h0M449.1 334.9h0M441.7 368.3h0M480.1 381.8h0M486.3 353.5h0M505.9 378.9h0M464.7 354.0h0M445.2 358.2h0M505.6 360.0h0M476.1 325.3h0M506.4 331.3h0M483.7 335.2h0M448.0 329.0h0M444.3 325.2h0M458.8 359.6h0M448.2 325.1h0M503.2 364.9h0M475.0 367.0h0M445.1 383.6h0M474.2 352.7h0M454.9 386.7h0M466.8 379.2h0M508.4 348.3h0M445.4 350.2h0M448.5 336.9h0M492.8 361.6h0M479.8 383.8h0M471.7 378.7h0M509.2 341.6h0M500.0 335.4h0M511.1 330.3h0M511.7 338.8h0M455.6 373.5h0M454.0 355.5h0M512.8 340.5h0" stroke="#5a2468" stroke-width="1.0" stroke-linecap="round" opacity="0.7"/>
<path d="M509.0 386.2h0M493.4 375.0h0M447.0 383.8h0M510.4 368.9h0M471.2 350.5h0M496.8 353.5h0M456.8 323.6h0M440.4 352.7h0M447.3 354.3h0M512.3 328.3h0M455.6 377.6h0M450.4 333.3h0M511.6 356.6h0M440.7 332.7h0M444.2 334.1h0M497.2 359.1h0M498.7 366.7h0M485.1 338.3h0M489.8 371.9h0M482.2 380.4h0M455.5 362.4h0M485.7 383.8h0M445.9 323.4h0M444.5 386.7h0M451.4 356.1h0M444.9 375.5h0M478.4 373.8h0M491.6 339.3h0M467.2 378.6h0M450.6 353.3h0M462.5 360.5h0M444.8 331.6h0M507.9 359.5h0M478.4 355.9h0M487.0 368.3h0M459.2 382.8h0M470.5 377.4h0M466.4 370.0h0M505.4 338.7h0M465.2 359.2h0M501.6 331.9h0M463.4 362.1h0M468.7 380.5h0M459.4 342.7h0M466.1 332.5h0M479.2 339.7h0M457.0 345.8h0M481.2 378.0h0M495.5 346.2h0M451.7 384.0h0M460.8 381.6h0M481.7 344.6h0M454.0 326.4h0M461.2 338.8h0M444.9 363.7h0M504.2 333.9h0M506.9 347.1h0M479.5 388.0h0M462.7 345.4h0M483.5 386.5h0M487.9 369.3h0M458.7 365.6h0M472.2 354.6h0M512.8 378.7h0M441.3 328.2h0M442.2 361.1h0M511.5 346.3h0M496.6 324.6h0M467.8 327.7h0M458.3 369.8h0M485.9 345.3h0M469.4 363.8h0M460.0 354.3h0M483.6 383.3h0M474.8 367.3h0M456.7 352.2h0M473.8 335.8h0M460.3 356.2h0M446.1 353.0h0M459.2 373.3h0M511.9 378.9h0M480.4 360.8h0M508.8 327.5h0M458.1 333.6h0M487.9 369.7h0" stroke="#5a2468" stroke-width="0.75" stroke-linecap="round" opacity="0.7"/>
</g></g>
<g clip-path="url(#c4)"><g filter="url(#bl)"><rect x="286.3" y="398.5" width="74.4" height="65.2" fill="#7f4592"/>
<path d="M327.0 438.6h0M333.1 429.3h0M336.0 438.5h0M334.9 408.7h0M315.7 450.8h0M353.2 444.7h0M331.0 403.2h0M298.8 445.1h0M348.9 462.2h0M328.5 439.6h0M333.1 406.9h0M304.9 434.2h0M344.7 402.9h0M343.5 406.1h0M306.2 433.4h0M294.0 403.8h0M302.4 407.0h0M336.4 422.7h0M323.4 402.4h0" stroke="#b565a8" stroke-width="2.75" stroke-linecap="round" opacity="0.55"/>
<path d="M347.8 435.6h0M287.4 457.2h0M319.8 400.9h0M341.4 455.3h0M321.2 420.3h0M352.5 432.1h0M351.3 411.6h0M291.3 455.2h0M321.1 437.1h0M335.4 415.3h0M328.9 443.5h0M331.8 443.7h0M329.0 438.2h0M295.0 457.2h0M294.5 403.8h0" stroke="#b565a8" stroke-width="4.0" stroke-linecap="round" opacity="0.55"/>
<path d="M309.0 455.9h0M301.8 415.2h0M309.2 454.0h0M344.6 429.8h0M348.9 411.5h0M304.3 442.4h0M324.5 434.0h0M309.7 419.9h0M345.8 460.0h0M326.5 455.3h0M312.3 450.2h0M289.7 402.9h0M298.9 440.8h0M350.0 424.3h0M299.8 429.6h0M339.4 452.7h0M299.6 404.3h0M305.3 424.2h0" stroke="#b565a8" stroke-width="3.25" stroke-linecap="round" opacity="0.55"/>
<path d="M351.7 415.0h0M294.3 452.9h0M330.5 407.4h0M313.6 405.8h0M319.8 401.2h0M308.1 444.4h0M357.1 429.3h0M290.0 427.4h0M295.7 407.5h0M314.9 434.6h0M287.7 448.6h0M327.3 408.6h0M295.3 399.7h0M305.2 429.3h0M299.7 452.5h0M308.0 442.3h0M312.2 441.9h0M351.9 436.8h0M339.7 419.4h0M300.5 452.4h0" stroke="#b565a8" stroke-width="3.75" stroke-linecap="round" opacity="0.55"/>
<path d="M293.3 427.2h0M326.5 401.8h0M303.7 442.7h0M292.6 434.1h0M346.1 438.8h0M338.7 431.7h0M351.4 400.0h0M296.3 410.6h0M305.2 410.1h0M301.7 418.0h0M293.3 400.5h0M328.3 459.9h0M305.7 450.0h0M295.3 411.6h0M321.3 404.6h0M328.8 430.5h0M321.3 405.8h0M300.3 433.6h0M339.6 455.9h0M300.4 402.5h0M344.1 436.6h0M340.9 440.8h0" stroke="#b565a8" stroke-width="2.25" stroke-linecap="round" opacity="0.55"/>
<path d="M348.7 433.2h0M357.1 431.1h0M326.5 402.7h0M327.1 415.9h0M345.1 439.8h0M348.5 423.8h0M343.6 452.1h0M328.9 462.3h0M340.1 456.6h0M306.4 424.3h0M344.3 436.7h0M351.2 458.9h0M343.3 446.5h0M319.5 461.4h0M315.3 443.2h0M304.9 457.4h0M354.5 422.5h0M289.3 413.4h0M308.2 416.2h0" stroke="#b565a8" stroke-width="2.5" stroke-linecap="round" opacity="0.55"/>
<path d="M356.0 427.9h0M351.8 416.5h0M351.7 445.7h0M300.0 400.9h0M336.9 449.4h0M290.3 450.3h0M344.4 429.5h0M302.5 430.2h0M344.4 452.4h0M341.9 403.4h0" stroke="#b565a8" stroke-width="4.25" stroke-linecap="round" opacity="0.55"/>
<path d="M335.2 454.1h0M308.7 419.6h0M331.6 407.8h0M318.2 436.4h0M307.8 422.3h0M333.6 404.8h0M289.5 452.6h0M328.6 442.1h0M321.1 423.5h0M299.3 453.4h0M345.5 439.9h0M302.6 400.7h0M352.1 412.3h0" stroke="#b565a8" stroke-width="3.0" stroke-linecap="round" opacity="0.55"/>
<path d="M330.4 444.1h0M326.1 424.2h0M290.3 436.8h0M304.5 422.9h0M358.0 424.0h0M294.9 456.3h0M302.1 401.1h0M303.4 457.0h0M348.3 437.3h0M289.5 412.4h0" stroke="#b565a8" stroke-width="2.0" stroke-linecap="round" opacity="0.55"/>
<path d="M328.5 400.1h0M306.4 417.2h0M338.2 438.9h0M325.1 418.8h0M338.9 437.1h0M343.6 406.8h0M326.4 402.3h0M295.0 400.0h0M329.3 407.1h0M323.5 428.5h0M339.6 461.4h0M323.4 440.5h0M287.4 410.9h0M343.5 457.0h0" stroke="#b565a8" stroke-width="3.5" stroke-linecap="round" opacity="0.55"/>
<path d="M281.5,399.7L286.1,396.2M353.6,421.2L355.6,419.3M353.6,421.2L352.1,420.4M355.6,419.3L354.7,417.3M352.1,420.4L352.0,416.6M352.0,416.6L352.6,416.3M354.7,417.3L352.6,416.3M368.8,400.6L361.3,402.1M361.3,402.1L360.1,399.5M360.1,399.5L360.8,397.8M361.9,397.3L360.8,397.8M348.1,400.9L345.8,401.7M348.1,400.9L349.1,402.8M349.1,402.8L348.7,406.1M348.7,406.1L348.5,406.1M345.8,401.7L344.6,404.0M348.5,406.1L344.6,404.0M293.1,457.3L294.7,458.9M293.1,457.3L294.6,453.6M294.7,458.9L297.7,457.1M294.6,453.6L297.7,457.1M287.8,460.9L287.1,462.6M287.8,460.9L289.3,459.6M291.4,464.1L291.9,461.9M291.4,464.1L287.5,463.1M291.9,461.9L289.8,459.6M289.3,459.6L289.8,459.6M287.5,463.1L287.1,462.7M287.1,462.7L287.1,462.6M286.1,485.0L287.5,463.1M291.8,465.1L291.4,464.1M294.8,460.6L294.7,458.9M294.8,460.6L291.9,461.9M291.5,457.4L289.8,459.6M291.5,457.4L293.1,457.3M286.5,424.5L284.4,422.9M286.5,424.5L286.8,426.5M286.8,426.5L286.2,427.6M286.2,427.6L272.0,427.5M281.6,410.3L287.1,404.7M264.8,412.5L286.0,404.3M287.1,404.7L286.0,404.3M286.0,404.3L283.7,401.1M286.8,396.7L287.1,399.6M283.7,401.1L287.1,399.6M309.7,398.0L309.4,398.1M309.7,398.0L314.3,393.1M309.4,398.1L308.4,397.3M308.9,423.1L304.8,425.0M308.9,423.1L309.8,423.7M309.8,423.7L308.5,426.9M308.5,426.9L307.0,427.7M307.0,427.7L305.4,427.1M304.8,425.0L305.4,427.1M309.1,431.7L311.4,430.5M309.1,431.7L307.5,430.9M307.5,430.9L307.0,427.7M308.5,426.9L311.1,429.0M311.4,430.5L311.1,429.0M348.5,406.1L344.8,407.7M344.6,404.0L343.8,404.5M343.8,404.5L343.7,406.7M344.8,407.7L343.7,406.7M364.2,424.5L360.5,426.5M362.8,423.3L358.0,423.5M358.0,423.5L357.3,424.2M357.3,424.2L360.5,426.5M341.5,463.4L343.2,464.2M341.5,463.4L340.8,463.3M340.3,463.8L340.8,463.3M340.3,463.8L347.5,570.2M343.2,464.2L349.3,492.2M298.7,464.4L298.5,464.7M298.7,464.4L300.1,461.0M298.5,464.7L296.3,463.7M296.3,463.7L295.4,461.0M295.4,461.0L299.6,459.9M300.1,461.0L299.6,459.9M300.3,475.4L303.3,464.0M300.3,475.4L298.5,464.7M303.3,464.0L298.7,464.4M294.6,464.8L296.3,463.7M294.8,460.6L295.4,461.0M299.9,457.1L299.6,459.9M299.9,457.1L297.7,457.1M358.0,423.5L358.3,421.2M362.2,420.6L358.3,421.2M352.1,420.4L349.3,421.2M352.0,416.6L350.1,416.2M350.1,416.2L347.4,418.1M347.4,418.1L348.2,420.3M349.3,421.2L348.2,420.3M352.8,409.7L353.9,412.0M352.8,409.7L356.1,408.1M353.9,412.0L356.9,410.2M356.1,408.1L356.9,410.2M350.1,416.2L349.1,413.2M353.7,413.9L352.6,416.3M353.7,413.9L353.6,413.2M349.1,413.2L353.6,413.2M350.0,408.0L349.1,410.1M350.0,408.0L352.8,409.7M353.9,412.0L353.6,412.6M349.1,410.1L353.6,412.6M327.5,408.7L324.6,406.2M327.5,408.7L327.6,409.1M324.6,406.2L323.7,406.9M327.6,409.1L324.6,411.5M324.6,411.5L324.0,411.2M323.7,406.9L324.0,411.2M358.3,396.1L360.8,397.8M360.5,404.1L364.8,406.4M360.5,404.1L359.2,404.8M359.2,404.8L360.9,408.9M364.8,406.4L361.7,408.9M361.7,408.9L360.9,408.9M361.3,402.1L360.5,404.1M364.6,412.4L361.7,408.9M357.1,400.2L357.8,403.4M357.1,400.2L360.1,399.5M359.2,404.8L359.0,404.8M357.8,403.4L359.0,404.8M358.6,411.1L360.9,408.9M358.6,411.1L356.9,410.2M356.1,408.1L356.0,407.3M359.0,404.8L356.0,407.3M337.4,407.6L339.3,410.4M337.4,407.6L337.7,407.1M341.4,408.0L340.6,410.5M341.4,408.0L340.6,406.7M340.6,406.7L337.7,407.1M339.3,410.4L340.6,410.5M304.0,458.5L300.0,457.0M304.0,458.5L305.9,457.2M305.9,457.2L305.0,454.4M305.0,454.4L303.0,454.7M303.0,454.7L300.2,455.9M300.2,455.9L300.0,457.0M287.8,460.9L284.1,457.6M287.1,462.6L278.2,458.4M301.1,433.8L301.2,436.5M301.1,433.8L296.9,434.0M301.2,436.5L296.9,435.9M296.9,435.9L296.5,434.4M296.9,434.0L296.5,434.4M302.1,432.5L300.2,430.6M302.1,432.5L301.1,433.8M300.2,430.6L298.0,431.3M298.0,431.3L296.9,434.0M306.8,431.1L303.9,429.3M306.8,431.1L304.4,433.2M303.9,429.3L302.7,432.4M304.4,433.2L302.7,432.4M303.8,428.5L303.9,429.3M303.8,428.5L305.4,427.1M307.5,430.9L306.8,431.1M309.1,431.7L309.0,433.9M305.3,435.0L309.0,433.9M305.3,435.0L304.4,433.2M298.0,431.3L297.2,430.3M297.2,430.3L293.7,430.2M296.5,434.4L295.0,434.0M293.7,430.2L295.0,434.0M292.9,428.0L291.3,426.4M292.9,428.0L292.8,429.2M291.3,426.4L287.2,429.4M292.8,429.2L290.1,431.1M290.1,431.1L287.4,430.0M287.4,430.0L287.2,429.4M302.1,432.5L302.7,432.4M303.8,428.5L302.3,428.1M300.2,430.6L300.4,428.8M302.3,428.1L300.4,428.8M304.0,424.4L301.9,424.7M304.0,424.4L304.8,425.0M302.3,428.1L301.9,424.7M297.2,430.3L297.2,427.1M293.7,430.2L292.8,429.2M292.9,428.0L295.6,426.4M295.6,426.4L297.2,427.1M300.4,428.8L298.9,427.0M297.2,427.1L298.9,427.0M301.9,424.7L300.6,424.4M298.9,427.0L300.6,424.4M321.2,418.7L319.7,420.1M321.2,418.7L319.7,415.3M319.7,415.3L316.3,416.6M319.7,420.1L316.9,419.2M316.3,416.6L316.9,419.2M307.4,405.7L308.7,406.4M307.4,405.7L307.9,403.0M307.9,403.0L311.8,402.4M309.1,406.4L308.7,406.4M309.1,406.4L311.9,402.4M311.9,402.4L311.8,402.4M306.7,401.7L309.4,398.5M306.7,401.7L307.9,403.0M309.4,398.5L311.8,402.4M307.0,410.7L308.7,406.4M307.0,410.7L312.1,409.2M312.1,408.8L309.1,406.4M312.1,408.8L312.1,409.2M312.1,409.2L312.1,409.2M304.6,401.7L303.9,403.6M304.6,401.7L306.7,401.7M307.4,405.7L305.7,405.9M303.9,403.6L305.7,405.9M326.5,460.7L327.0,460.3M326.5,460.7L326.3,464.8M327.0,460.3L328.6,460.1M326.7,465.6L329.2,461.4M329.2,461.4L328.6,460.1M357.3,424.2L356.6,424.6M357.8,429.2L360.2,427.8M357.8,429.2L357.1,429.1M360.5,426.5L360.2,427.8M357.1,429.1L356.6,424.6M307.4,461.2L307.5,463.2M307.4,461.2L303.9,460.0M307.5,463.2L306.8,464.0M306.8,464.0L303.9,463.3M303.9,463.3L303.1,461.7M303.1,461.7L303.9,460.0M307.7,459.8L307.3,457.7M307.7,459.8L307.4,461.2M307.3,457.7L305.9,457.2M304.0,458.5L303.9,460.0M303.3,464.0L303.9,463.3M307.7,470.5L306.8,464.0M300.1,461.0L303.1,461.7M299.9,457.1L300.0,457.0M362.7,417.6L359.4,412.8M362.6,417.7L358.6,418.0M358.6,418.0L357.4,415.5M357.3,414.9L357.4,415.5M357.3,414.9L359.1,412.7M359.1,412.7L359.4,412.8M364.6,412.4L359.4,412.8M358.3,421.2L357.7,419.3M357.7,419.3L358.6,418.0M355.6,419.3L357.7,419.3M354.7,417.3L357.4,415.5M353.7,413.9L357.3,414.9M358.6,411.1L359.1,412.7M353.6,413.2L353.6,412.6M348.4,412.4L348.7,410.5M348.4,412.4L345.4,414.1M348.7,410.5L345.1,409.5M345.4,414.1L344.9,413.8M344.9,413.8L343.1,411.2M345.1,409.5L343.1,411.2M349.1,413.2L348.4,412.4M349.1,410.1L348.7,410.5M347.4,418.1L345.7,417.3M345.7,417.3L345.4,414.1M350.0,408.0L350.0,407.6M350.0,407.6L348.7,406.1M344.8,407.7L345.1,409.5M341.0,415.4L344.9,413.8M341.0,415.4L340.5,414.0M340.5,414.0L340.8,410.7M340.8,410.7L343.1,411.2M343.7,406.7L341.4,408.0M340.6,410.5L340.8,410.7M326.9,415.2L326.0,416.8M326.9,415.2L326.8,414.8M326.8,414.8L325.2,413.3M323.3,417.7L326.0,416.8M323.3,417.7L323.2,414.5M323.2,414.5L325.2,413.3M319.9,414.5L319.7,415.3M319.9,414.5L323.2,414.5M321.2,418.7L321.8,418.8M321.8,418.8L323.3,417.7M322.9,401.9L323.0,404.4M322.9,401.9L319.9,401.2M323.0,404.4L320.4,404.5M319.9,401.2L320.4,404.5M324.6,406.2L324.6,406.1M324.6,406.1L323.0,404.4M323.7,406.9L320.5,407.5M320.5,407.5L319.6,406.8M319.6,406.8L320.4,404.5M318.3,410.5L318.0,412.9M318.3,410.5L320.8,409.8M321.7,411.1L320.8,409.8M321.7,411.1L319.7,414.0M319.7,414.0L318.0,412.9M317.0,409.2L318.3,410.5M317.0,409.2L315.0,411.1M315.0,411.1L315.5,412.6M315.5,412.6L318.0,412.9M317.0,409.2L317.4,406.9M320.5,407.5L320.8,409.8M317.4,406.9L319.6,406.8M324.0,411.2L321.7,411.1M319.9,414.5L319.7,414.0M324.6,411.5L325.2,413.3M358.3,396.1L355.6,398.9M353.5,396.6L355.6,398.9M357.1,400.2L355.8,399.7M355.6,398.9L355.8,399.7M353.5,402.1L355.8,399.7M353.5,402.1L350.8,399.2M350.8,399.2L352.0,397.0M352.8,406.2L353.1,402.8M352.8,406.2L355.7,407.1M355.7,407.1L355.3,403.3M355.3,403.3L353.5,402.3M353.1,402.8L353.5,402.3M349.1,402.8L353.1,402.8M350.0,407.6L352.8,406.2M356.0,407.3L355.7,407.1M357.8,403.4L355.3,403.3M353.5,402.1L353.5,402.3M348.1,400.9L348.3,400.3M348.3,400.3L350.8,399.2M334.0,408.0L334.1,408.8M334.0,408.0L333.1,407.0M334.1,408.8L330.5,411.8M333.1,407.0L329.5,410.6M329.5,410.6L329.8,411.5M329.8,411.5L330.5,411.8M337.4,407.6L334.0,408.0M339.3,410.4L336.0,412.3M335.1,411.4L336.0,412.3M335.1,411.4L334.1,408.8M327.5,408.7L329.3,406.3M327.6,409.1L329.5,410.6M333.0,406.6L332.8,406.5M333.0,406.6L333.1,407.0M329.3,406.3L332.8,406.5M326.8,414.8L329.8,411.5M307.3,457.7L308.8,456.9M305.0,454.4L305.3,453.8M308.8,456.9L309.3,454.1M305.3,453.8L309.3,454.1M294.6,453.6L294.6,453.0M294.6,453.0L295.2,452.3M300.2,455.9L299.5,453.4M299.5,453.4L295.2,452.3M287.0,456.6L289.6,455.0M287.0,456.6L286.0,456.6M286.0,456.6L286.1,453.3M289.6,455.0L289.6,454.8M289.6,454.8L287.5,452.5M287.5,452.5L286.1,453.3M291.5,457.4L289.6,455.0M289.3,459.6L287.0,456.6M284.1,457.6L286.0,456.6M281.6,452.1L286.1,453.3M294.6,453.0L291.9,452.6M291.9,452.6L289.6,454.8M286.2,427.6L287.2,429.4M287.4,430.0L286.6,430.9M286.6,430.9L281.9,431.6M296.9,435.9L296.9,436.7M291.7,436.4L292.2,435.3M291.7,436.4L292.4,437.9M295.0,434.0L292.2,435.3M296.9,436.7L295.9,438.6M292.4,437.9L295.9,438.6M296.9,436.7L301.1,439.7M297.0,440.7L296.3,440.3M297.0,440.7L300.9,440.2M300.9,440.2L301.1,439.7M295.9,438.6L296.3,440.3M304.0,424.4L304.3,422.2M308.9,423.1L307.5,420.7M304.3,422.2L307.5,420.7M286.8,426.5L291.0,426.0M291.3,426.4L291.0,426.0M291.0,426.0L291.0,426.0M286.5,424.5L289.3,422.9M291.0,426.0L289.3,422.9M285.1,421.4L287.8,420.8M287.8,420.8L289.3,422.6M289.3,422.9L289.3,422.6M301.8,447.5L304.3,447.8M301.8,447.5L300.9,450.4M301.7,451.2L305.2,451.7M301.7,451.2L301.0,450.9M304.3,447.8L306.3,450.4M301.0,450.9L300.9,450.4M306.3,450.4L305.2,451.7M305.9,445.3L304.3,447.8M305.9,445.3L306.2,443.9M306.2,443.9L305.6,443.5M301.3,446.5L301.8,447.5M301.3,446.5L304.0,443.6M304.0,443.6L305.6,443.5M303.0,454.7L301.7,451.2M305.3,453.8L305.2,451.7M299.5,453.4L301.0,450.9M305.3,435.0L305.1,436.4M301.2,436.5L302.1,438.1M305.1,436.4L302.1,438.1M304.0,443.6L301.1,441.3M305.6,443.5L305.1,440.6M301.1,441.3L300.9,440.2M301.1,439.7L302.0,438.8M305.1,440.6L302.0,438.8M302.1,438.1L302.0,438.8M305.1,436.4L307.1,437.9M305.1,440.6L307.4,438.8M307.4,438.8L307.1,437.9M306.2,443.9L307.8,443.6M307.4,438.8L309.7,440.7M307.8,443.6L309.7,440.7M286.5,434.0L286.2,434.6M286.5,434.0L290.2,432.5M286.2,434.6L286.3,435.9M290.2,432.5L290.2,432.7M290.2,432.7L287.4,436.3M286.3,435.9L287.4,436.3M286.6,430.9L286.5,434.0M281.9,431.6L286.2,434.6M290.1,431.1L290.2,432.5M283.8,437.5L286.3,435.9M292.2,435.3L290.2,432.7M291.7,436.4L288.7,437.1M288.7,437.1L287.4,436.3M295.6,426.4L295.6,425.9M299.6,422.4L300.6,424.4M299.6,422.4L296.5,423.2M296.5,423.2L295.6,425.9M291.0,426.0L293.0,423.2M295.6,425.9L293.0,423.2M291.4,421.4L289.3,422.6M291.4,421.4L293.1,421.7M293.1,421.7L293.0,423.2M315.0,411.1L312.1,409.2M317.4,406.9L316.9,406.5M312.1,408.8L313.7,406.8M316.9,406.5L313.7,406.8M319.1,401.1L319.7,401.0M319.1,401.1L315.1,399.7M315.1,399.7L314.9,397.9M319.8,400.7L316.8,396.4M319.8,400.7L319.7,401.0M314.9,397.9L315.5,396.2M321.6,397.1L319.8,400.7M309.7,398.0L314.9,397.9M321.8,418.8L324.7,421.7M326.0,416.8L326.9,419.5M324.7,421.7L325.0,421.7M325.0,421.7L326.0,421.3M326.9,419.5L326.0,421.3M330.8,416.8L330.0,419.2M330.8,416.8L326.9,415.2M326.9,419.5L330.0,419.2M328.3,426.2L327.7,426.4M328.3,426.2L328.7,422.6M325.0,421.7L327.7,426.4M326.0,421.3L328.7,422.6M309.8,423.7L310.6,423.7M311.1,429.0L312.9,426.0M312.9,426.0L312.6,425.0M312.6,425.0L310.6,423.7M319.3,422.4L318.0,424.1M319.3,422.4L323.4,423.8M323.4,423.8L323.4,424.4M323.4,424.4L319.3,426.2M319.3,426.2L318.1,424.4M318.1,424.4L318.0,424.1M319.7,420.1L319.3,422.4M324.7,421.7L323.4,423.8M324.6,426.8L323.4,424.4M324.6,426.8L327.2,426.7M327.2,426.7L327.7,426.4M323.0,428.8L324.6,426.8M323.0,428.8L319.5,426.8M319.5,426.8L319.3,426.2M315.0,427.4L312.9,426.0M315.0,427.4L318.1,424.4M315.8,423.2L312.6,425.0M315.8,423.2L318.0,424.1M315.5,412.6L314.9,413.6M312.1,409.2L310.9,413.4M314.9,413.6L310.9,413.4M316.3,416.6L314.9,415.9M314.9,413.6L314.9,415.9M308.4,397.3L306.0,397.6M306.0,397.6L301.4,388.9M309.4,398.1L309.4,398.5M304.6,401.7L304.1,400.6M304.1,400.6L305.3,398.1M306.0,397.6L305.3,398.1M287.1,404.7L287.2,404.7M287.1,399.6L289.2,401.5M289.2,401.5L287.7,404.3M287.2,404.7L287.7,404.3M289.2,401.5L291.0,400.3M291.0,400.3L291.4,397.4M291.0,400.3L292.9,401.7M295.6,397.5L294.9,400.9M294.9,400.9L292.9,401.7M287.7,404.3L292.2,405.0M292.2,405.0L293.3,403.3M293.3,403.3L292.9,401.7M301.8,399.8L302.9,396.8M301.8,399.8L300.5,399.8M300.5,399.8L299.0,398.7M301.1,393.4L298.9,398.4M298.9,398.4L299.0,398.7M304.1,400.6L301.8,399.8M305.3,398.1L302.9,396.8M303.9,403.6L303.0,404.0M303.0,404.0L300.0,403.5M300.0,403.5L300.5,399.8M295.6,397.5L298.9,398.4M296.9,401.7L294.9,400.9M296.9,401.7L299.0,398.7M287.2,404.7L287.9,407.4M284.5,410.4L287.9,407.4M284.1,418.7L286.4,417.4M269.3,413.4L285.9,414.7M285.9,414.7L286.4,417.4M284.5,410.4L287.6,413.0M285.9,414.7L287.6,413.0M287.9,407.4L289.7,408.9M289.7,408.9L287.9,413.0M287.6,413.0L287.9,413.0M287.8,420.8L288.4,418.2M286.4,417.4L288.4,418.2M349.3,421.2L349.2,421.9M348.2,420.3L345.3,421.8M349.2,421.9L346.3,424.7M346.3,424.7L345.6,424.4M345.3,421.8L345.6,424.4M323.9,456.6L326.4,455.9M323.9,456.6L327.0,460.3M328.6,460.0L328.6,460.1M328.6,460.0L328.6,456.8M328.6,456.8L326.4,455.9M318.9,500.4L322.2,463.2M316.2,475.4L317.4,463.6M317.4,463.6L317.7,463.2M317.7,463.2L322.2,463.2M326.5,460.7L322.7,461.8M326.3,464.8L322.6,462.7M322.7,461.8L322.6,462.7M322.6,462.7L322.2,463.2M313.5,459.8L314.4,461.9M313.5,459.8L312.3,459.9M312.3,459.9L311.9,460.3M311.9,460.3L310.3,463.0M314.4,461.9L312.7,465.1M312.7,465.1L310.9,463.7M310.9,463.7L310.3,463.0M307.7,459.8L311.9,460.3M310.1,457.3L308.8,456.9M310.1,457.3L312.3,459.9M307.5,463.2L310.3,463.0M317.4,463.6L314.4,461.9M307.7,470.5L310.9,463.7M317.7,463.2L318.3,460.4M313.5,459.8L314.4,458.9M314.4,458.9L318.3,460.4M321.4,459.5L322.7,461.8M321.4,459.5L318.5,460.2M318.5,460.2L318.3,460.4M340.3,463.8L336.4,466.2M327.9,470.3L330.9,464.0M336.3,466.8L330.9,464.0M329.2,461.4L330.9,463.7M330.9,464.0L330.9,463.7M321.4,459.5L321.6,458.6M317.7,456.1L318.5,460.2M317.7,456.1L318.4,455.6M318.4,455.6L321.6,458.6M323.9,456.6L323.7,456.6M321.6,458.6L323.7,456.6M315.0,427.4L315.6,429.9M319.5,426.8L318.2,428.9M318.2,428.9L315.6,429.9M311.4,430.5L314.2,431.6M314.2,431.6L315.2,430.8M315.6,429.9L315.2,430.8M318.2,428.9L320.8,431.8M315.2,430.8L319.0,432.4M319.0,432.4L320.8,431.8M323.0,428.8L323.0,429.4M323.0,429.4L321.5,432.0M320.8,431.8L321.5,432.0M330.9,453.9L329.9,453.3M330.9,453.9L328.6,456.8M326.4,455.9L326.9,453.0M329.9,453.3L326.9,453.0M357.8,429.2L360.7,431.5M360.2,427.8L364.0,430.2M360.7,431.5L364.0,430.2M324.6,406.1L327.0,402.8M329.3,406.3L327.8,403.3M327.0,402.8L327.8,403.3M332.8,406.5L331.3,402.9M327.8,403.3L331.3,402.9M333.0,406.6L334.6,404.7M337.7,407.1L337.8,404.2M334.6,404.7L337.8,404.2M340.8,397.8L340.2,397.9M340.8,397.8L342.4,400.7M340.2,397.9L338.3,402.0M342.4,400.7L341.4,403.4M341.4,403.4L340.2,403.7M340.2,403.7L338.8,403.3M338.8,403.3L338.3,402.0M344.6,396.8L344.5,400.7M344.5,400.7L342.4,400.7M341.8,396.9L340.8,397.8M345.8,401.7L344.5,400.7M343.8,404.5L341.4,403.4M340.6,406.7L340.2,403.7M337.8,404.2L338.8,403.3M345.7,396.4L347.2,398.2M347.2,398.2L350.6,396.0M348.3,400.3L347.2,398.2M335.1,411.4L331.6,412.3M330.5,411.8L330.8,412.1M330.8,412.1L331.6,412.3M330.8,416.8L330.9,416.8M330.8,412.1L330.9,416.8M338.8,417.1L338.1,417.5M338.8,417.1L337.8,414.0M338.1,417.5L334.3,416.1M337.8,414.0L336.0,412.7M336.0,412.7L334.3,415.9M334.3,416.1L334.3,415.9M341.0,415.4L340.8,416.5M340.5,414.0L337.8,414.0M340.8,416.5L338.8,417.1M337.5,420.2L338.0,419.7M337.5,420.2L334.4,420.6M334.4,420.6L333.7,416.7M338.0,419.7L338.1,417.5M333.7,416.7L334.3,416.1M336.0,412.3L336.0,412.7M331.6,412.3L334.3,415.9M330.9,416.8L333.7,416.7M310.1,457.3L313.0,455.0M310.5,452.6L309.3,454.1M310.5,452.6L312.6,453.7M312.6,453.7L313.0,455.0M314.4,458.9L314.9,457.0M313.0,455.0L314.9,457.0M317.7,456.1L315.6,456.6M314.9,457.0L315.6,456.6M295.2,452.3L295.5,450.5M300.9,450.4L297.1,449.2M295.5,450.5L297.1,449.2M291.9,452.6L290.1,450.1M290.1,450.1L293.6,448.5M295.5,450.5L293.6,448.5M299.6,422.4L300.0,420.9M304.3,422.2L302.8,420.6M300.0,420.9L302.8,420.6M309.0,433.9L309.5,434.6M307.1,437.9L308.3,436.9M309.5,434.6L308.3,436.9M309.7,440.7L310.1,440.6M310.1,440.6L312.0,437.8M308.3,436.9L312.0,437.8M305.9,445.3L308.6,449.6M306.3,450.4L308.6,449.8M308.6,449.6L308.6,449.8M310.5,452.6L309.7,450.3M308.6,449.8L309.7,450.3M308.6,449.6L309.3,445.5M310.7,449.7L311.7,447.0M310.7,449.7L309.7,450.3M311.7,447.0L309.3,445.5M307.8,443.6L309.3,445.1M309.3,445.1L309.3,445.5M289.5,449.9L289.2,448.7M289.5,449.9L287.8,451.1M289.2,448.7L285.5,447.0M287.8,451.1L285.1,449.6M285.1,449.6L285.5,447.0M285.5,447.0L285.5,447.0M290.5,445.4L289.2,448.7M290.5,445.4L293.6,448.4M290.1,450.1L289.5,449.9M293.6,448.4L293.6,448.5M287.5,452.5L287.8,451.1M270.8,445.5L285.5,447.0M283.6,442.9L286.5,444.4M286.5,444.4L285.5,447.0M316.9,403.7L316.7,404.2M316.9,403.7L314.4,400.6M316.7,404.2L312.2,402.6M314.4,400.6L312.1,402.5M312.1,402.5L312.2,402.6M319.9,401.2L319.7,401.0M316.9,406.5L316.7,404.2M319.1,401.1L316.9,403.7M315.1,399.7L314.4,400.6M313.7,406.8L312.2,402.6M311.9,402.4L312.1,402.5M329.9,422.0L330.4,420.5M329.9,422.0L332.2,424.0M330.4,420.5L334.1,421.0M332.2,424.0L334.1,421.8M334.1,421.0L334.1,421.8M328.7,422.6L329.9,422.0M330.0,419.2L330.4,420.5M332.0,427.1L332.1,427.1M332.0,427.1L328.3,426.2M332.1,427.1L332.2,424.0M334.4,420.6L334.1,421.0M337.5,420.2L338.1,423.9M338.1,423.9L337.2,424.8M337.2,424.8L334.1,421.8M316.9,419.2L315.3,420.1M314.9,415.9L313.1,417.1M315.3,420.1L313.1,417.1M315.8,423.2L314.8,421.0M315.3,420.1L314.8,421.0M310.6,423.7L312.3,421.0M314.8,421.0L312.3,421.0M296.9,401.7L297.4,403.9M300.0,403.5L299.2,404.0M299.2,404.0L297.4,403.9M293.3,403.3L296.5,404.7M297.4,403.9L296.5,404.7M287.9,413.0L289.5,414.0M288.4,418.2L289.1,417.9M289.5,414.0L289.1,417.9M291.4,421.4L290.6,418.3M290.6,418.3L289.1,417.9M343.4,418.5L342.1,417.9M343.4,418.5L343.3,420.8M342.1,417.9L339.9,420.4M343.3,420.8L341.4,422.7M341.4,422.7L339.9,420.4M345.7,417.3L343.4,418.5M340.8,416.5L342.1,417.9M345.3,421.8L343.3,420.8M338.0,419.7L339.9,420.4M341.3,423.1L341.4,422.7M341.3,423.1L342.1,424.3M342.1,424.3L343.2,425.3M343.2,425.3L345.6,424.4M338.1,423.9L341.3,423.1M318.4,455.6L319.0,454.0M323.7,456.6L323.0,454.1M319.0,454.0L323.0,454.1M326.7,452.8L326.9,453.0M326.7,452.8L323.2,453.7M323.2,453.7L323.0,454.1M315.0,452.0L315.7,452.3M315.0,452.0L314.6,449.2M315.7,452.3L318.4,452.7M314.6,449.2L315.3,448.2M318.4,452.7L319.2,450.6M319.2,450.6L316.0,448.1M315.3,448.2L316.0,448.1M312.6,453.7L315.0,452.0M315.6,456.6L315.7,452.3M310.7,449.7L314.6,449.2M319.0,454.0L318.4,452.7M313.6,445.7L311.7,447.0M313.6,445.7L315.3,448.2M314.2,431.7L317.3,435.4M314.2,431.7L312.3,435.9M312.3,435.9L312.7,437.1M312.7,437.1L317.4,435.6M317.3,435.4L317.4,435.6M314.2,431.6L314.2,431.7M319.0,432.4L317.3,435.4M309.5,434.6L312.3,435.9M312.0,437.8L312.7,437.1M312.7,437.1L312.7,437.1M320.8,435.4L321.7,432.5M320.8,435.4L318.0,436.2M318.0,436.2L317.4,435.6M321.5,432.0L321.7,432.5M327.2,426.7L327.5,430.3M323.0,429.4L323.6,429.7M323.6,429.7L327.5,430.3M332.0,427.1L331.6,428.9M331.6,428.9L327.9,431.2M327.9,431.2L327.5,430.3M336.4,440.7L335.7,441.1M336.4,440.7L337.7,441.0M337.7,441.0L338.2,441.7M338.2,441.7L336.5,445.1M335.7,441.1L333.7,443.1M336.5,445.1L333.7,443.1M336.9,446.4L336.5,445.1M336.9,446.4L334.7,448.6M334.7,448.6L333.6,447.5M333.6,447.5L333.1,443.3M333.1,443.3L333.7,443.1M332.2,431.1L335.1,431.9M332.2,431.1L330.9,433.7M330.9,433.7L334.7,435.1M335.1,431.9L335.7,433.8M335.7,433.8L334.7,435.1M337.2,424.8L336.8,426.2M342.1,424.3L338.5,427.8M338.5,427.8L336.8,426.2M332.2,431.1L331.6,428.9M332.1,427.1L334.3,427.2M335.1,431.9L335.4,431.0M335.4,431.0L334.3,427.2M334.3,427.2L336.8,426.2M338.5,427.8L339.0,428.5M335.4,431.0L339.0,429.6M339.0,428.5L339.0,429.6M353.2,428.0L351.2,427.6M353.2,428.0L355.9,424.4M354.5,423.6L355.9,424.4M354.5,423.6L350.8,425.6M351.2,427.6L350.5,426.3M350.8,425.6L350.5,426.3M353.6,421.2L354.5,423.6M356.6,424.6L355.9,424.4M349.2,421.9L350.8,425.6M347.8,426.8L346.3,424.7M347.8,426.8L350.5,426.3M336.9,446.4L338.9,446.5M334.7,448.6L334.8,449.9M334.8,449.9L335.0,450.1M340.0,449.2L338.9,446.5M340.0,449.2L339.9,449.2M339.9,449.2L335.0,450.1M336.4,466.2L335.3,462.5M330.9,463.7L334.1,462.0M335.3,462.5L334.1,462.0M328.6,460.0L332.7,459.0M334.1,462.0L332.7,459.0M341.5,463.4L343.3,459.4M343.2,464.2L345.2,462.6M343.3,459.4L343.3,459.4M343.3,459.4L345.5,460.9M345.2,462.6L345.5,460.9M322.9,401.9L326.3,400.9M327.0,402.8L326.5,401.1M326.3,400.9L326.5,401.1M334.6,404.7L334.1,400.6M338.3,402.0L335.1,400.4M334.1,400.6L335.1,400.4M297.5,447.5L295.2,445.5M297.5,447.5L299.9,445.7M299.5,444.7L299.9,445.7M299.5,444.7L297.3,443.7M297.3,443.7L295.1,444.9M295.1,444.9L295.2,445.5M293.6,448.4L295.2,445.5M297.1,449.2L297.5,447.5M301.3,446.5L299.9,445.7M301.1,441.3L299.5,444.7M297.0,440.7L297.3,443.7M288.5,440.3L287.8,440.8M288.5,440.3L291.7,441.1M287.8,440.8L287.2,444.1M287.2,444.1L290.5,445.2M290.5,445.2L292.6,443.1M291.7,441.1L292.6,442.5M292.6,443.1L292.6,442.5M288.7,437.1L288.5,440.3M284.8,439.7L287.8,440.8M292.4,437.9L291.7,441.1M286.5,444.4L287.2,444.1M290.5,445.4L290.5,445.2M295.1,444.9L292.6,443.1M296.3,440.3L292.6,442.5M307.5,420.7L307.5,420.7M307.5,420.7L305.9,418.3M302.8,420.6L303.8,418.8M305.9,418.3L303.8,418.8M300.0,420.9L299.1,419.0M299.1,419.0L301.5,416.2M303.8,418.8L301.5,416.2M313.5,445.0L312.5,444.4M313.5,445.0L314.7,443.9M312.5,444.4L311.5,441.6M314.7,443.9L315.5,441.1M311.5,441.6L315.5,441.1M313.6,445.7L313.5,445.0M309.3,445.1L312.5,444.4M310.1,440.6L311.5,441.6M316.2,440.5L315.5,441.1M316.2,440.5L312.7,437.1M312.3,421.0L311.4,418.7M313.1,417.1L312.6,417.2M312.6,417.2L311.4,418.7M310.9,413.4L310.2,414.0M312.6,417.2L310.2,414.0M307.5,420.7L310.0,418.7M310.0,418.7L311.4,418.7M292.2,405.0L292.7,406.7M296.1,406.4L296.5,404.7M296.1,406.4L295.8,406.7M295.8,406.7L292.7,406.7M289.7,408.9L289.7,408.9M289.7,408.9L292.0,407.9M292.7,406.7L292.0,407.9M291.7,411.1L293.7,409.6M291.7,411.1L292.8,413.7M293.2,413.9L292.8,413.7M293.2,413.9L294.5,413.6M294.5,413.6L295.3,410.2M295.3,410.2L293.7,409.6M289.7,408.9L291.7,411.1M292.0,407.9L293.7,409.6M289.5,414.0L292.8,413.7M292.5,417.5L293.2,413.9M292.5,417.5L290.6,418.3M295.8,409.7L295.3,410.2M295.8,409.7L295.8,406.7M323.2,453.7L322.9,450.8M319.2,450.6L320.3,449.9M322.9,450.8L320.3,449.9M322.7,437.7L321.8,439.4M322.7,437.7L320.8,435.4M318.0,436.2L318.0,439.2M321.8,439.4L318.0,439.2M316.2,440.5L316.9,440.4M318.0,439.2L316.9,440.4M336.4,440.7L335.0,436.9M335.7,441.1L332.3,439.2M335.0,436.9L334.7,436.6M334.7,436.6L332.2,438.2M332.2,438.2L332.3,439.2M330.9,433.7L330.9,433.7M334.7,435.1L334.7,436.6M332.2,438.2L330.0,437.3M330.9,433.7L330.0,437.3M327.9,431.2L327.8,432.6M330.9,433.7L327.8,432.6M323.6,429.7L326.8,433.3M327.8,432.6L326.8,433.3M353.6,435.5L357.0,433.7M353.6,435.5L351.9,432.7M351.9,432.7L351.9,432.4M351.9,432.4L355.4,430.1M357.0,433.7L356.0,430.1M356.0,430.1L355.4,430.1M350.7,430.8L351.9,432.4M350.7,430.8L351.2,427.6M353.2,428.0L355.4,430.1M357.1,429.1L356.0,430.1M360.7,431.5L359.5,434.5M362.2,435.3L359.5,434.5M357.0,433.7L359.2,434.6M359.5,434.5L359.2,434.6M338.2,441.7L340.9,443.3M338.9,446.5L340.1,445.3M340.9,443.3L340.1,445.3M340.0,449.2L341.6,449.2M341.6,449.2L342.3,447.2M340.1,445.3L342.3,447.2M335.7,433.8L339.3,433.5M335.0,436.9L338.1,437.1M338.1,437.1L339.3,433.5M337.7,441.0L339.4,438.7M338.1,437.1L339.4,438.7M347.8,426.8L347.1,427.9M343.2,425.3L343.0,426.6M343.0,426.6L347.1,427.9M339.0,428.5L342.6,427.7M343.0,426.6L342.6,427.7M348.9,430.7L350.7,430.8M348.9,430.7L346.9,429.0M346.9,429.0L347.1,427.9M330.9,453.9L331.0,453.9M332.7,459.0L333.7,456.9M333.7,456.9L331.0,453.9M328.5,449.1L329.9,453.3M328.5,449.1L330.6,449.5M330.6,449.5L333.1,451.3M331.0,453.9L333.1,451.3M330.6,449.5L331.6,447.2M334.8,449.9L333.6,451.0M333.6,447.5L331.6,447.2M333.1,451.3L333.6,451.0M339.9,449.2L339.3,452.8M335.0,450.1L337.7,452.7M339.3,452.8L337.7,452.7M343.9,452.9L339.4,452.8M343.9,452.9L344.0,451.0M341.6,449.2L344.0,451.0M339.3,452.8L339.4,452.8M333.6,451.0L336.0,455.4M337.7,452.7L336.0,455.4M343.3,459.4L345.2,457.3M345.5,460.9L348.0,459.2M345.2,457.3L347.8,458.0M348.0,459.2L347.8,458.0M326.3,400.9L324.1,396.7M331.3,402.9L332.9,400.1M334.1,400.6L332.9,400.1M332.9,400.1L332.9,400.1M340.2,397.9L339.1,397.5M335.1,400.4L336.5,398.4M339.1,397.5L336.5,398.4M299.0,418.9L296.8,416.9M299.0,418.9L294.6,421.1M296.8,416.9L294.1,418.8M294.1,418.8L294.4,421.0M294.6,421.1L294.4,421.0M296.5,423.2L294.6,421.1M299.1,419.0L299.0,418.9M292.5,417.5L294.1,418.8M296.4,414.5L296.8,416.9M296.4,414.5L294.5,413.6M293.1,421.7L294.4,421.0M305.9,418.3L306.3,416.7M310.0,418.7L308.2,415.8M306.3,416.7L308.2,415.8M310.2,414.0L309.3,414.1M309.3,414.1L308.2,415.8M324.6,449.3L323.3,446.4M324.6,449.3L326.1,449.5M323.3,446.4L326.5,445.6M326.1,449.5L327.9,448.6M326.5,445.6L328.4,446.7M327.9,448.6L328.4,446.7M326.7,452.8L326.1,449.5M322.9,450.8L324.6,449.3M328.5,449.1L327.9,448.6M331.6,447.2L329.3,446.0M329.3,446.0L328.4,446.7M323.2,446.4L320.5,448.4M323.2,446.4L322.1,443.8M322.1,443.8L322.0,443.7M322.0,443.7L319.4,444.1M320.5,448.4L318.5,445.6M319.4,444.1L318.6,445.2M318.5,445.6L318.6,445.2M320.3,449.9L320.5,448.4M323.3,446.4L323.2,446.4M326.0,443.8L326.5,445.6M326.0,443.8L322.1,443.8M325.4,441.1L327.0,442.1M325.4,441.1L322.6,441.6M322.6,441.6L322.0,443.7M327.0,442.1L326.0,443.8M322.6,441.6L321.8,439.4M316.9,440.4L319.4,444.1M316.0,448.1L318.5,445.6M314.7,443.9L318.6,445.2M324.9,434.2L326.3,434.0M324.9,434.2L323.1,437.6M326.3,434.0L327.7,437.5M323.1,437.6L325.8,438.3M325.8,438.3L327.7,437.5M321.7,432.5L324.9,434.2M326.8,433.3L326.3,434.0M322.7,437.7L323.1,437.6M330.0,437.3L328.6,437.9M328.6,437.9L327.7,437.5M325.4,441.1L325.8,438.3M328.6,438.5L331.3,442.0M328.6,438.5L327.5,442.0M327.5,442.0L330.1,443.4M330.1,443.4L331.3,442.8M331.3,442.8L331.3,442.0M332.3,439.2L331.3,442.0M328.6,437.9L328.6,438.5M327.0,442.1L327.5,442.0M329.3,446.0L330.1,443.4M333.1,443.3L331.3,442.8M361.3,441.4L358.8,442.7M361.3,441.4L363.7,445.7M363.1,446.1L359.3,446.5M358.8,442.7L359.3,446.5M363.2,439.3L361.4,441.3M362.7,438.6L358.7,437.2M361.4,441.3L358.3,438.4M358.7,437.2L358.2,437.8M358.2,437.8L358.3,438.4M361.3,441.4L361.4,441.3M359.2,434.6L358.7,437.2M357.2,441.5L357.8,442.2M357.2,441.5L358.3,438.4M358.8,442.7L357.8,442.2M353.6,436.2L357.2,437.8M353.6,436.2L353.6,435.5M357.2,437.8L358.2,437.8M357.2,437.8L354.0,441.0M354.0,441.0L357.2,441.5M349.6,437.5L347.2,440.1M349.6,437.5L352.4,438.0M347.2,440.1L349.0,441.8M352.4,438.0L352.8,440.1M349.0,441.8L352.8,440.1M353.6,436.2L352.4,438.0M354.0,441.0L353.7,441.0M352.8,440.1L353.7,441.0M340.9,443.3L341.3,443.2M340.6,438.3L339.4,438.7M340.6,438.3L341.8,441.5M341.8,441.5L341.3,443.2M340.6,438.3L342.5,436.8M341.8,441.5L344.7,438.7M344.7,438.7L344.1,437.4M344.1,437.4L342.5,436.8M340.0,432.5L344.1,430.4M340.0,432.5L339.8,433.3M339.8,433.3L341.7,435.2M341.7,435.2L345.2,432.2M345.2,432.2L344.6,430.6M344.6,430.6L344.1,430.4M339.0,429.6L340.0,432.5M342.6,427.7L344.1,430.4M339.3,433.5L339.8,433.3M342.5,436.8L341.7,435.2M346.9,429.0L344.6,430.6M339.5,456.1L335.8,456.3M339.5,456.1L341.1,457.6M341.1,458.1L341.1,457.6M341.1,458.1L339.1,460.2M339.1,460.2L337.9,460.2M337.9,460.2L335.4,456.7M335.4,456.7L335.8,456.3M339.4,452.8L339.5,456.1M336.0,455.4L335.8,456.3M343.9,452.9L344.0,453.1M343.5,454.9L344.0,453.1M343.5,454.9L341.1,457.6M343.3,459.4L341.1,458.1M345.2,457.3L343.5,454.9M340.8,463.3L339.1,460.2M335.3,462.5L337.9,460.2M333.7,456.9L335.4,456.7M345.2,462.6L348.5,464.5M348.5,464.5L350.8,478.2M348.5,464.5L349.0,463.7M348.0,459.2L348.9,460.0M349.0,463.7L348.9,460.0M344.0,453.1L346.6,453.8M347.8,458.0L347.9,457.8M346.6,453.8L347.9,457.8M361.9,452.8L360.7,454.6M364.2,458.9L360.6,456.3M360.7,454.6L360.6,456.3M326.5,401.1L329.1,399.5M329.1,399.5L328.2,395.9M332.9,400.1L329.4,399.4M329.1,399.5L329.4,399.4M332.9,400.1L333.0,397.0M329.4,399.4L330.5,396.4M336.5,398.4L334.4,394.9M305.7,405.9L304.4,408.6M303.0,404.0L301.7,407.6M304.4,408.6L301.7,407.6M296.1,406.4L300.1,408.3M295.8,409.7L299.4,410.1M299.4,410.1L300.1,408.3M299.2,404.0L300.4,407.9M301.7,407.6L300.4,407.9M300.1,408.3L300.4,407.9M349.0,441.8L349.1,443.8M349.1,443.8L351.6,445.0M353.7,441.0L353.4,443.9M353.4,443.9L351.6,445.0M357.8,442.2L355.4,445.1M353.4,443.9L355.4,445.1M345.0,442.5L342.6,443.5M345.0,442.5L347.1,445.2M342.6,443.5L344.1,446.4M344.1,446.4L345.3,446.9M345.3,446.9L346.7,446.3M346.7,446.3L347.1,445.2M341.3,443.2L342.6,443.5M344.7,438.7L346.0,440.0M346.0,440.0L345.0,442.5M347.2,440.1L346.0,440.0M349.1,443.8L347.1,445.2M342.3,447.2L344.1,446.4M344.3,450.7L344.0,451.0M344.3,450.7L345.3,446.9M344.3,450.7L348.5,449.7M348.5,449.7L348.3,447.9M348.3,447.9L346.7,446.3M348.3,447.9L351.5,446.6M351.5,446.6L351.6,445.0M345.7,435.9L345.7,432.7M345.7,435.9L348.6,435.7M348.6,435.7L349.0,434.4M349.0,434.4L347.4,432.7M347.4,432.7L345.7,432.7M344.1,437.4L345.7,435.9M345.2,432.2L345.7,432.7M349.6,437.5L348.6,435.7M351.9,432.7L349.0,434.4M348.9,430.7L347.4,432.7M350.8,479.1L357.4,463.5M357.4,463.5L360.1,463.9M360.1,463.9L361.8,462.1M350.8,478.2L352.8,463.0M357.4,463.5L356.9,462.7M356.9,462.7L352.8,463.0M349.0,463.7L352.3,462.5M352.8,463.0L352.3,462.5M348.5,449.7L349.3,450.7M346.6,453.8L347.8,453.3M349.3,450.7L347.8,453.3M306.3,416.7L304.3,414.9M309.3,414.1L306.6,411.2M304.3,414.9L306.6,411.2M307.0,410.7L306.5,411.1M304.4,408.6L305.0,410.1M305.0,410.1L306.5,411.1M306.5,411.1L306.6,411.2M348.9,460.0L351.7,460.2M352.3,462.5L351.9,460.2M351.7,460.2L351.9,460.2M351.5,446.6L352.7,448.7M349.3,450.7L351.7,450.9M352.7,448.7L351.7,450.9M301.7,415.6L302.7,414.9M301.7,415.6L298.7,413.6M302.7,414.9L302.4,411.7M298.7,413.6L299.7,410.8M299.7,410.8L302.4,411.7M301.5,416.2L301.7,415.6M304.3,414.9L302.7,414.9M296.4,414.5L298.7,413.6M305.0,410.1L302.4,411.7M299.4,410.1L299.7,410.8M356.9,462.2L356.1,459.3M356.9,462.2L360.0,460.0M356.1,459.3L358.4,457.6M360.0,460.0L358.6,457.5M358.6,457.5L358.4,457.6M356.9,462.7L356.9,462.2M351.9,460.2L355.0,458.8M355.0,458.8L356.1,459.3M362.2,461.0L360.0,460.0M360.6,456.3L358.6,457.5M360.7,454.6L356.2,452.8M356.2,452.8L355.4,453.4M355.4,453.4L358.4,457.6M352.2,451.8L355.2,453.5M352.2,451.8L350.4,454.7M355.2,453.5L353.9,456.0M353.9,456.0L351.4,456.2M350.4,454.7L350.7,455.9M350.7,455.9L351.4,456.2M347.8,453.3L350.4,454.7M351.7,450.9L352.2,451.8M355.0,458.8L353.9,456.0M355.4,453.4L355.2,453.5M351.7,460.2L351.4,456.2M347.9,457.8L350.7,455.9M355.6,445.6L354.4,448.4M355.6,445.6L359.2,446.6M354.4,448.4L357.3,450.2M358.7,448.5L357.4,450.2M358.7,448.5L359.2,446.6M357.4,450.2L357.3,450.2M355.4,445.1L355.6,445.6M352.7,448.7L354.4,448.4M359.3,446.5L359.2,446.6M356.2,452.8L357.3,450.2M361.9,452.8L357.4,450.2M362.5,450.7L358.7,448.5" stroke="#c797cf" stroke-width="0.5" opacity="0.35" fill="none"/>
<path d="M285.7 399.1h0M288.3 398.9h0M294.0 399.6h0M353.0 399.6h0M330.0 401.6h0M343.5 402.0h0M339.2 406.2h0M293.0 410.7h0M297.1 411.6h0M301.1 413.0h0M303.9 412.7h0M290.9 416.1h0M322.6 415.6h0M331.9 414.0h0M343.2 415.7h0M359.6 415.8h0M304.8 420.3h0M332.2 419.5h0M345.5 420.1h0M306.0 423.0h0M316.9 421.2h0M328.4 420.7h0M339.1 421.5h0M298.0 424.8h0M303.0 426.6h0M307.1 425.3h0M310.7 426.8h0M325.6 424.3h0M345.3 426.6h0M336.3 429.5h0M341.6 429.8h0M354.7 427.4h0M296.0 431.2h0M304.8 430.7h0M306.9 433.1h0M317.4 433.0h0M324.5 431.8h0M330.3 431.3h0M337.4 435.9h0M339.3 436.5h0M350.7 435.4h0M293.9 439.6h0M298.2 438.7h0M295.7 442.7h0M310.7 443.5h0M325.0 442.8h0M307.6 446.5h0M291.4 448.1h0M312.4 447.7h0M322.2 448.6h0M356.3 447.5h0M285.6 451.6h0M298.3 451.2h0M302.9 453.2h0M325.0 451.8h0M327.9 451.3h0M335.6 453.3h0M347.0 451.3h0M287.3 454.5h0M295.5 456.5h0M327.5 454.9h0M358.0 455.1h0M289.1 457.2h0M318.9 458.1h0M327.5 463.2h0M319.9 464.4h0M354.2 464.5h0" stroke="#3c1a60" stroke-width="2.0" stroke-linecap="round" opacity="0.8"/>
<path d="M296.3 400.0h0M306.5 399.8h0M317.5 398.6h0M306.5 403.7h0M356.0 402.4h0M298.4 406.4h0M303.4 406.2h0M309.0 404.1h0M318.5 404.1h0M294.0 408.2h0M331.9 410.0h0M353.4 408.7h0M322.6 413.4h0M352.2 410.7h0M294.5 416.9h0M299.0 416.1h0M329.8 414.1h0M337.4 415.2h0M302.0 418.7h0M318.0 417.6h0M356.2 417.4h0M291.6 423.4h0M297.0 421.1h0M351.5 423.0h0M352.7 429.5h0M360.5 429.3h0M318.4 430.8h0M348.9 432.4h0M354.8 432.8h0M299.5 435.2h0M361.1 436.9h0M313.1 440.2h0M315.7 437.4h0M285.7 441.7h0M313.3 442.6h0M334.7 445.3h0M357.2 444.3h0M303.3 456.2h0M352.2 454.4h0M330.7 457.4h0M335.2 459.6h0M350.6 458.1h0M358.9 460.0h0M297.8 461.7h0M301.3 463.1h0M325.3 463.1h0M350.3 462.1h0M314.8 463.9h0M328.4 463.8h0" stroke="#3c1a60" stroke-width="1.25" stroke-linecap="round" opacity="0.8"/>
<path d="M301.8 397.6h0M318.6 397.8h0M327.6 397.6h0M358.0 398.1h0M291.1 403.4h0M295.2 402.5h0M315.4 402.8h0M316.2 402.1h0M335.8 402.9h0M340.7 401.0h0M322.1 405.3h0M330.3 404.5h0M297.5 408.2h0M302.2 409.8h0M324.9 408.8h0M346.5 408.2h0M354.0 409.9h0M319.2 411.2h0M332.6 410.9h0M338.8 413.3h0M342.4 413.6h0M351.3 412.3h0M304.0 417.0h0M310.2 416.8h0M316.9 414.7h0M323.9 415.6h0M347.8 415.3h0M355.1 415.9h0M296.1 419.1h0M308.2 418.0h0M315.2 418.1h0M340.0 419.1h0M350.2 418.5h0M346.8 422.6h0M293.3 424.6h0M322.0 426.1h0M348.4 424.3h0M296.1 429.3h0M298.4 429.3h0M302.3 429.8h0M320.1 429.3h0M344.9 427.9h0M361.6 427.4h0M299.4 432.6h0M325.6 430.8h0M337.1 431.4h0M332.0 435.9h0M344.3 434.2h0M290.4 438.9h0M320.2 437.4h0M324.4 439.6h0M330.6 439.7h0M337.3 438.2h0M349.9 439.7h0M356.4 439.6h0M298.7 442.4h0M336.1 443.4h0M340.6 440.5h0M355.9 443.1h0M288.0 446.8h0M332.0 445.6h0M287.0 449.1h0M299.3 448.3h0M310.6 447.1h0M331.5 448.8h0M361.2 448.9h0M312.9 451.2h0M316.8 450.7h0M330.2 450.5h0M341.0 451.0h0M291.9 455.0h0M310.7 455.4h0M338.1 454.9h0M348.7 455.2h0M292.3 459.7h0M309.6 459.1h0M324.3 459.3h0M285.6 460.4h0M305.4 461.1h0M309.4 460.9h0M319.9 462.0h0M341.9 460.8h0" stroke="#3c1a60" stroke-width="1.75" stroke-linecap="round" opacity="0.8"/>
<path d="M312.5 399.1h0M322.9 400.0h0M330.8 397.6h0M343.5 399.4h0M286.5 401.0h0M351.0 401.5h0M336.2 406.0h0M354.8 404.4h0M361.6 406.7h0M287.1 410.3h0M306.8 407.9h0M309.0 408.8h0M318.7 409.5h0M322.8 408.9h0M330.1 408.2h0M336.6 409.4h0M343.4 408.7h0M358.8 407.9h0M327.3 411.8h0M306.4 414.3h0M338.8 414.8h0M351.3 414.1h0M286.3 419.5h0M289.7 420.3h0M313.6 419.4h0M325.0 419.0h0M341.2 420.1h0M287.0 422.6h0M327.0 423.5h0M331.8 421.9h0M360.2 421.7h0M321.2 424.4h0M353.4 426.5h0M289.5 428.5h0M305.6 429.5h0M308.9 429.0h0M328.9 429.0h0M349.2 428.9h0M287.9 432.7h0M347.2 431.3h0M358.4 431.8h0M288.4 433.9h0M294.5 436.8h0M309.6 436.7h0M325.3 436.5h0M328.8 435.2h0M309.4 437.7h0M334.1 439.4h0M355.4 438.6h0M289.5 442.4h0M303.8 441.4h0M320.0 441.2h0M333.4 440.7h0M358.9 440.5h0M293.2 446.2h0M297.3 445.6h0M301.8 443.8h0M303.9 445.8h0M315.9 445.4h0M325.0 444.8h0M349.3 446.1h0M360.6 443.8h0M306.2 447.4h0M318.7 448.2h0M341.0 447.3h0M302.1 453.4h0M321.0 452.2h0M349.9 453.0h0M354.4 450.5h0M360.2 450.5h0M297.4 454.8h0M315.1 454.2h0M340.9 454.8h0M326.5 457.5h0M343.9 457.5h0M345.1 458.6h0M316.3 461.2h0M331.6 461.4h0M338.1 462.9h0M354.0 461.3h0" stroke="#3c1a60" stroke-width="1.5" stroke-linecap="round" opacity="0.8"/>
<path d="M335.2 397.8h0M333.0 403.3h0M346.9 403.7h0M314.8 404.5h0M327.2 406.0h0M341.8 405.9h0M315.2 408.8h0M333.2 413.1h0M345.6 411.4h0M328.2 418.0h0M294.4 423.5h0M336.4 421.9h0M302.8 435.1h0M307.7 435.7h0M319.3 434.0h0M316.5 443.5h0M329.2 440.7h0M353.8 446.5h0M338.0 448.5h0M338.3 450.6h0M302.0 459.7h0M312.1 457.1h0M351.0 464.1h0" stroke="#3c1a60" stroke-width="2.25" stroke-linecap="round" opacity="0.8"/>
<path d="M301.4 459.8h0M307.1 417.2h0M303.7 437.3h0M358.9 413.0h0M291.7 425.1h0M358.9 400.9h0M328.3 429.0h0M347.3 448.8h0M337.5 420.4h0M288.9 405.5h0" stroke="#f2dcf0" stroke-width="1.75" stroke-linecap="round" opacity="0.75"/>
<path d="M325.2 449.4h0M357.7 444.3h0M341.9 404.9h0M315.6 418.5h0M308.1 441.1h0M336.6 438.3h0M306.5 435.5h0M304.5 437.6h0M292.1 454.0h0M332.0 406.6h0M302.7 433.9h0" stroke="#f2dcf0" stroke-width="2.0" stroke-linecap="round" opacity="0.75"/>
<path d="M322.4 462.1h0M319.6 453.9h0M298.4 417.1h0M357.3 460.3h0M306.6 422.5h0M305.2 462.0h0M293.7 424.0h0M348.2 408.7h0" stroke="#f2dcf0" stroke-width="1.25" stroke-linecap="round" opacity="0.75"/>
<path d="M314.0 402.3h0M338.3 456.9h0M307.9 416.8h0M337.9 434.6h0M289.9 460.3h0M350.8 428.4h0M352.8 452.3h0M327.0 417.5h0M350.7 407.9h0M353.8 448.4h0M307.3 417.2h0" stroke="#f2dcf0" stroke-width="2.25" stroke-linecap="round" opacity="0.75"/>
<path d="M340.5 403.3h0M287.6 407.3h0M355.1 434.1h0M293.2 425.0h0M306.0 458.6h0M337.6 443.5h0M320.6 404.8h0M348.7 430.6h0M331.9 402.1h0M351.8 432.4h0M349.3 443.1h0M291.1 441.4h0M339.5 459.0h0" stroke="#f2dcf0" stroke-width="1.5" stroke-linecap="round" opacity="0.75"/>
<path d="M311.9 427.9h0M316.0 446.2h0M291.9 461.3h0M328.9 446.6h0M359.3 408.7h0" stroke="#f2dcf0" stroke-width="0.75" stroke-linecap="round" opacity="0.75"/>
<path d="M295.8 425.0h0M354.1 418.5h0M320.2 449.9h0M318.8 408.3h0M328.0 430.3h0M290.0 432.4h0M318.3 402.0h0M327.8 443.1h0M295.4 415.1h0M347.3 440.5h0M345.5 449.1h0" stroke="#f2dcf0" stroke-width="1.0" stroke-linecap="round" opacity="0.75"/>
<path d="M316.0 409.1h0" stroke="#f2dcf0" stroke-width="2.5" stroke-linecap="round" opacity="0.75"/>
</g></g>
<g fill="none" stroke="#f4e3f2" stroke-width="1.0" opacity="0.8" filter="url(#bl)"><circle cx="319" cy="422" r="3.3"/><circle cx="296" cy="437" r="2.8"/><circle cx="331" cy="433" r="2.4"/><circle cx="343" cy="414" r="2.5"/><circle cx="326" cy="451" r="2.4"/><circle cx="304" cy="421" r="1.9"/></g>
<g fill="#f5e6f3" opacity="0.8" filter="url(#bl)"><ellipse cx="311.3" cy="410.1" rx="1.6" ry="1.6" transform="rotate(96 311.3 410.1)"/><ellipse cx="314.2" cy="404.5" rx="1.4" ry="1.6" transform="rotate(78 314.2 404.5)"/><ellipse cx="293.8" cy="406.4" rx="1.3" ry="3.2" transform="rotate(22 293.8 406.4)"/><ellipse cx="304.4" cy="438.6" rx="1.9" ry="2.7" transform="rotate(71 304.4 438.6)"/><ellipse cx="356.4" cy="403.8" rx="1.8" ry="2.1" transform="rotate(26 356.4 403.8)"/><ellipse cx="297.1" cy="419.5" rx="1.8" ry="1.9" transform="rotate(105 297.1 419.5)"/><ellipse cx="333.1" cy="423.3" rx="1.5" ry="1.6" transform="rotate(11 333.1 423.3)"/><ellipse cx="303.2" cy="441.8" rx="1.3" ry="2.1" transform="rotate(105 303.2 441.8)"/><ellipse cx="320.3" cy="419.0" rx="1.8" ry="2.9" transform="rotate(44 320.3 419.0)"/><ellipse cx="328.6" cy="432.5" rx="1.9" ry="3.0" transform="rotate(52 328.6 432.5)"/><ellipse cx="356.6" cy="408.1" rx="1.3" ry="3.0" transform="rotate(27 356.6 408.1)"/><ellipse cx="322.7" cy="403.4" rx="1.6" ry="3.0" transform="rotate(103 322.7 403.4)"/><ellipse cx="349.4" cy="419.8" rx="1.6" ry="2.7" transform="rotate(104 349.4 419.8)"/><ellipse cx="320.5" cy="451.4" rx="1.9" ry="2.4" transform="rotate(120 320.5 451.4)"/><ellipse cx="293.2" cy="443.1" rx="1.6" ry="3.5" transform="rotate(148 293.2 443.1)"/><ellipse cx="308.6" cy="424.1" rx="1.6" ry="1.5" transform="rotate(83 308.6 424.1)"/></g>
<rect x="354.6" y="464" width="4.6" height="1.9" fill="#111"/>
<g clip-path="url(#c5)"><g filter="url(#bl)"><rect x="362" y="398.5" width="75.5" height="68" fill="#8a3f82"/>
<path d="M421.1,398.9L421.0,398.9L416.8,395.1L421.7,381.3L422.5,384.3L422.1,395.9ZM381.4,400.1L385.3,402.7L385.4,402.7L387.6,399.5L386.9,397.3L385.2,396.4L381.6,397.3L381.0,399.3ZM386.9,397.3L389.7,393.4L393.5,398.0L390.3,399.7L387.6,399.5ZM407.3,399.7L408.6,399.7L409.5,398.7L409.1,393.0L407.9,390.9L405.8,396.7ZM365.3,404.1L362.2,399.4L359.2,400.8L361.6,404.2L365.0,404.5ZM394.9,404.6L391.7,403.8L390.3,399.7L393.5,398.0L393.7,398.0L394.9,404.4ZM421.8,406.3L421.4,406.9L414.8,405.6L414.1,404.7L415.5,401.4L418.9,401.0L421.8,405.7ZM387.9,407.6L387.8,405.8L391.7,403.8L394.9,404.6L395.4,407.2ZM420.2,411.4L421.8,409.3L421.4,406.9L414.8,405.6L414.7,410.2L415.9,411.8L417.8,413.5L418.5,413.2ZM433.9,406.0L430.4,407.0L430.4,407.0L434.8,410.1L436.0,409.1ZM408.2,405.9L408.5,412.0L405.5,411.1L407.1,405.9ZM395.8,420.0L398.6,418.8L397.5,413.9L394.6,416.2L394.8,420.1L395.3,420.2ZM432.7,415.5L433.7,416.0L433.6,418.9L432.1,420.1L426.8,416.9L426.9,415.1ZM438.7,417.7L437.4,414.5L450.3,408.6L460.7,407.6L498.1,412.3L450.5,420.8L442.6,420.2ZM365.7,423.5L364.9,423.6L362.0,419.3L362.0,419.1L363.2,418.4L367.8,417.3L368.0,417.4L368.2,420.2ZM384.4,420.4L381.0,417.1L379.1,419.7L382.5,422.6L384.0,421.3ZM388.5,419.8L390.1,419.2L393.4,421.0L392.7,425.4L392.3,425.7L388.9,425.8L388.9,425.8ZM399.9,427.7L404.1,425.8L404.0,425.4L400.9,421.1L399.7,422.3L398.5,424.3L398.3,425.9ZM421.1,420.9L420.4,425.6L417.8,425.5L414.9,422.3L418.5,419.1L419.6,419.7ZM403.5,432.5L399.5,429.7L399.9,427.7L404.1,425.8L406.2,426.7L405.5,430.5ZM362.9,432.7L363.9,430.7L366.0,428.9L369.0,429.4L369.4,430.3L365.6,433.8ZM393.3,430.3L389.7,432.2L389.7,432.7L391.9,436.0L393.2,435.5L395.0,431.4ZM391.9,436.0L390.7,438.3L386.5,436.4L386.5,435.7L389.7,432.7ZM418.1,440.1L414.4,440.3L412.3,436.0L414.7,435.1L417.2,435.5L418.3,440.0ZM421.2,440.4L423.5,440.3L428.0,438.9L427.2,436.2L422.1,434.3L422.1,434.3L420.7,440.1ZM434.9,433.6L434.5,435.8L436.0,439.3L437.8,440.6L439.0,441.3L444.2,438.3L435.1,433.3ZM430.4,441.8L436.0,439.3L437.8,440.6L433.1,443.2ZM433.1,443.2L437.8,440.6L439.0,441.3L438.1,446.0L436.0,446.8ZM384.6,449.1L381.4,453.3L380.4,452.5L383.5,448.5ZM420.6,447.3L419.3,449.0L412.4,447.5L413.9,445.0L419.2,446.1ZM360.1,453.7L359.8,454.0L358.5,456.3L360.7,460.2L360.9,460.3L365.5,457.3L366.4,456.0L365.6,453.0ZM409.3,456.3L409.3,456.7L411.4,459.9L411.8,460.0L415.3,459.0L415.9,457.4L413.6,453.8ZM370.5,466.3L369.3,467.1L369.2,467.7L370.5,471.3L373.1,470.4L375.0,466.2L373.7,465.5ZM393.5,460.7L396.8,465.7L396.8,465.8L394.8,467.1L391.1,467.4L390.3,466.9L390.9,465.1ZM420.9,466.8L420.6,464.1L425.6,463.6L427.6,464.8L428.5,469.4L428.3,469.6L421.4,467.8ZM390.3,466.9L387.3,466.8L385.8,467.3L384.7,470.1L389.6,496.6L390.6,487.4L391.1,467.4ZM391.1,467.4L390.6,487.4L394.8,467.1ZM435.4,466.3L437.1,470.7L436.5,471.7L430.9,468.7L431.0,468.5Z" fill="#8a3a7f"/>
<path d="M361.6,404.2L359.6,406.6L349.9,405.1L357.5,400.8L359.2,400.8ZM370.2,407.3L369.9,406.1L365.6,404.0L365.3,404.1L365.0,404.5L363.7,409.5L365.0,410.5ZM381.4,409.0L381.3,406.1L378.7,404.2L376.7,404.1L376.4,408.3ZM395.4,407.2L394.9,404.6L394.9,404.4L397.1,403.0L399.9,403.4L401.1,407.9L396.9,409.6L396.7,409.5ZM401.3,408.0L404.8,405.0L407.1,405.9L405.5,411.1L404.3,411.2ZM410.9,404.9L408.2,405.9L408.5,412.0L409.2,412.5L410.7,411.1ZM411.2,404.8L414.1,404.7L414.8,405.6L414.7,410.2L410.7,411.1L410.9,404.9ZM372.1,408.9L368.8,411.8L371.3,415.9L371.7,415.6L374.7,413.0L374.2,410.4L372.4,409.0ZM380.3,412.0L378.6,414.0L377.5,414.1L374.7,413.0L374.2,410.4L376.4,408.3L381.4,409.0L381.9,409.8ZM387.9,407.7L387.7,407.9L389.3,414.2L390.5,414.5L392.2,411.4ZM410.7,411.1L409.2,412.5L409.5,413.7L410.0,414.3L415.9,411.8L414.7,410.2ZM410.2,414.6L410.0,414.3L415.9,411.8L417.8,413.5L417.1,415.3L411.9,415.2ZM365.2,412.2L363.4,414.4L363.2,418.4L367.8,417.3ZM384.2,415.1L380.3,412.0L381.9,409.8L384.4,410.3L385.9,414.4L385.7,414.8ZM382.5,422.6L381.5,425.0L376.2,423.2L375.9,421.5L377.0,420.0L379.1,419.7ZM384.0,421.3L388.9,425.8L388.9,425.8L388.1,426.6L382.9,427.1L381.8,426.6L381.5,425.0L382.5,422.6ZM436.5,425.0L437.1,421.5L434.3,419.2L433.6,418.9L432.1,420.1L431.2,421.8L433.1,424.8ZM360.0,427.3L363.9,430.7L366.0,428.9L363.4,426.0L360.3,426.6ZM363.4,426.0L364.9,423.6L365.7,423.5L370.2,425.9L369.0,429.4L366.0,428.9ZM381.6,426.9L381.3,431.8L379.0,431.7L380.4,427.6ZM374.5,436.0L371.2,433.5L370.7,431.5L375.8,429.4L377.4,432.3ZM407.5,433.8L411.5,434.6L411.3,430.2L411.1,430.2L407.8,431.7ZM424.3,427.4L426.4,431.0L422.1,434.3L422.1,434.3L421.5,433.7L422.5,427.6ZM370.1,434.6L371.2,433.5L374.5,436.0L375.1,437.9L372.7,438.8L369.6,437.5ZM407.5,433.8L411.5,434.6L412.3,436.0L409.3,437.8L408.7,437.6L406.5,434.4ZM434.9,433.6L434.5,435.8L428.4,439.2L428.0,438.9L427.2,436.2L428.6,433.3ZM428.4,439.2L434.5,435.8L436.0,439.3L430.4,441.8L429.9,441.7L429.3,441.4ZM374.3,449.4L376.4,447.9L373.5,443.9L372.3,444.1L370.3,445.8L370.4,448.2ZM394.6,446.2L394.3,446.4L389.6,443.7L389.6,443.5L390.9,441.1L395.2,443.0ZM395.2,443.0L390.9,441.1L391.2,440.5L396.0,439.9L396.4,440.8ZM419.2,446.1L413.9,445.0L413.9,444.7L417.6,443.5ZM421.2,440.4L423.5,440.3L424.5,442.5L422.6,446.5L422.2,446.6L421.9,446.6ZM397.7,451.7L394.3,446.9L394.3,446.4L394.6,446.2L399.6,444.7L400.2,448.6L398.5,451.6ZM406.2,442.8L405.2,448.0L405.4,449.7L405.7,450.1L409.1,450.7L411.1,449.6L411.9,447.9L407.2,442.7ZM382.9,456.1L380.5,457.2L376.1,454.8L379.1,452.1L380.4,452.5L381.4,453.3L382.7,454.7L383.0,455.8ZM423.6,452.5L419.2,449.7L418.6,451.5L419.2,454.8L421.4,455.5L423.9,453.2ZM439.2,453.4L438.7,452.7L435.0,451.6L434.5,454.8L435.3,456.2ZM396.3,455.0L396.1,453.3L390.8,455.9L392.3,459.8L393.4,460.4L395.5,459.0ZM396.3,455.0L398.5,456.1L401.4,458.9L395.5,459.0ZM435.4,457.4L434.1,459.6L431.9,460.4L429.6,458.4L430.1,454.9L434.5,454.8L435.3,456.2ZM401.4,458.9L399.6,462.5L402.2,464.4L402.9,459.1L402.5,458.6ZM369.3,467.1L369.2,467.7L363.9,468.9L362.1,467.0L363.1,463.1L367.1,463.9ZM388.8,462.9L387.3,466.8L390.3,466.9L390.9,465.1ZM411.6,466.4L415.5,468.4L416.5,464.8L411.9,465.7ZM435.7,465.4L432.5,463.2L431.0,468.5L435.4,466.3ZM402.8,466.7L403.0,466.7L407.7,478.3L401.9,512.8L398.4,467.1ZM411.6,466.4L410.3,467.4L410.1,467.7L408.8,475.8L415.8,470.0L416.0,469.2L415.5,468.4Z" fill="#9c4a8e"/>
<path d="M367.6,401.4L365.3,396.3L362.7,398.6L362.2,399.4L365.3,404.1L365.6,404.0ZM415.6,396.1L416.8,395.1L421.0,398.9L418.9,401.0L415.5,401.4L415.4,401.3ZM435.6,403.9L440.4,398.5L438.8,397.2L436.8,397.0L432.9,400.5L432.9,401.8ZM421.8,405.7L418.9,401.0L421.0,398.9L421.1,398.9L423.4,399.9L424.0,401.1ZM430.4,407.0L429.0,410.9L426.6,412.2L424.9,410.7L428.4,405.2L429.0,404.9L429.3,405.0L430.4,407.0ZM365.1,410.6L365.2,412.2L363.4,414.4L357.9,414.0L357.5,413.6L363.2,409.6L363.7,409.5L365.0,410.5ZM434.7,410.3L435.3,414.5L433.7,416.0L432.7,415.5L430.8,411.7ZM362.0,419.1L357.9,414.0L363.4,414.4L363.2,418.4ZM371.3,415.9L370.9,416.4L368.0,417.4L367.8,417.3L365.2,412.2L365.1,410.6L368.8,411.8ZM377.5,414.1L374.7,413.0L371.7,415.6L376.8,419.0ZM384.4,420.4L386.0,419.3L385.7,414.8L384.2,415.1L381.0,416.3L381.0,417.1ZM385.7,414.8L385.9,414.4L389.3,414.2L390.5,414.5L390.8,415.0L390.1,419.2L388.5,419.8L386.0,419.3ZM418.5,413.2L417.8,413.5L417.1,415.3L417.1,415.9L418.5,419.1L419.6,419.7L422.2,416.0L422.2,415.6ZM424.3,415.0L426.7,414.7L426.9,415.1L426.8,416.9L426.5,417.2L423.0,417.6L422.2,416.0L422.2,415.6ZM373.1,420.4L370.6,423.0L368.2,420.2L368.0,417.4L370.9,416.4ZM376.8,419.0L371.7,415.6L371.3,415.9L370.9,416.4L373.1,420.4L375.9,421.5L377.0,420.0ZM399.7,422.3L400.9,421.1L401.2,419.6L398.6,418.8L395.8,420.0ZM401.2,419.6L403.7,417.9L404.4,418.5L405.4,420.6L404.0,425.4L400.9,421.1ZM411.6,421.6L411.6,422.1L411.3,422.5L410.5,422.8L405.4,420.6L404.4,418.5L409.6,418.2ZM438.7,417.7L434.3,419.2L437.1,421.5L442.6,420.2ZM360.3,426.6L358.2,422.5L362.0,419.3L364.9,423.6L363.4,426.0ZM375.9,421.5L376.2,423.2L374.7,425.6L370.4,425.7L370.6,423.0L373.1,420.4ZM417.8,425.5L414.9,422.3L411.6,422.1L411.3,422.5L413.6,428.7L414.1,428.8ZM436.5,425.0L437.1,421.5L442.6,420.2L450.5,420.8L438.2,427.2ZM376.1,428.6L375.8,429.4L370.7,431.5L369.4,430.3L369.0,429.4L370.2,425.9L370.4,425.7L374.7,425.6ZM392.3,425.7L388.9,425.8L388.1,426.6L388.0,430.6L389.7,432.2L393.3,430.3ZM422.5,427.6L421.7,427.1L416.8,430.9L419.9,433.7L421.5,433.7ZM428.8,431.7L428.4,432.5L426.4,431.0L424.3,427.4L426.7,425.9L428.8,427.3ZM366.4,436.0L365.6,433.8L369.4,430.3L370.7,431.5L371.2,433.5L370.1,434.6ZM435.1,433.3L444.2,438.3L452.8,436.1L437.5,430.0L435.7,431.4ZM397.5,431.5L398.4,435.6L398.1,437.0L397.4,437.5L393.2,435.5L395.0,431.4ZM403.8,433.7L398.4,435.6L398.1,437.0L400.9,438.6L404.1,435.9L404.3,434.5ZM423.5,440.3L428.0,438.9L428.4,439.2L429.3,441.4L427.3,444.0L424.5,442.5ZM391.8,450.9L394.3,446.9L394.3,446.4L389.6,443.7L389.4,443.9L387.6,449.8L389.2,451.7ZM399.3,452.3L398.5,451.6L400.2,448.6L405.4,449.7L405.7,450.1L402.6,454.7ZM423.3,448.5L422.2,446.6L422.6,446.5L426.3,445.7L427.6,447.2L428.3,451.7L427.7,451.8ZM373.9,454.3L374.1,455.3L373.9,455.5L373.3,455.7L366.4,451.5L366.5,451.1L369.0,449.8ZM389.2,451.7L387.6,449.8L386.5,449.8L382.7,454.7L383.0,455.8L388.9,454.6L389.3,454.4ZM366.8,459.9L368.6,461.2L367.1,463.9L363.1,463.1L362.8,462.6ZM378.0,466.5L375.0,466.2L373.7,465.5L374.0,461.9L374.6,461.5L378.9,462.0L379.5,462.9ZM395.5,459.0L393.4,460.4L393.5,460.7L396.8,465.7L399.6,462.5L401.4,458.9L401.4,458.9ZM411.9,465.7L411.8,460.0L415.3,459.0L419.2,463.1L416.5,464.8ZM443.9,457.4L454.3,462.0L448.0,463.4L439.9,463.2L434.1,459.6L435.4,457.4ZM382.5,462.8L379.5,462.9L378.0,466.5L378.4,467.9L384.7,470.1L385.8,467.3L383.9,463.6ZM396.8,465.8L398.4,467.1L401.9,512.8L396.0,571.3L392.6,539.6L389.6,496.6L390.6,487.4L394.8,467.1Z" fill="#a95c9a"/>
<path d="M422.1,395.9L422.5,384.3L427.1,395.9L425.3,397.3ZM362.2,399.4L362.7,398.6L358.0,394.6L357.5,400.8L359.2,400.8ZM376.8,398.0L375.9,393.5L372.4,396.4L371.7,398.2L375.5,399.9ZM376.8,398.0L380.4,399.3L375.9,402.1L375.5,399.9ZM375.5,399.9L375.9,402.1L375.7,403.2L374.9,403.4L371.8,403.0L370.6,401.1L371.5,398.4L371.7,398.2ZM385.4,402.7L387.8,405.8L391.7,403.8L390.3,399.7L387.6,399.5ZM408.6,399.7L411.2,404.8L414.1,404.7L415.5,401.4L415.4,401.3L410.6,398.6L409.5,398.7ZM435.6,404.0L435.6,403.9L440.4,398.5L460.7,407.6L450.3,408.6L439.5,407.6ZM365.0,404.5L363.7,409.5L363.2,409.6L359.6,406.6L361.6,404.2ZM384.2,415.1L380.3,412.0L378.6,414.0L381.0,416.3ZM384.4,410.3L387.7,407.9L389.3,414.2L385.9,414.4ZM409.6,418.2L404.4,418.5L403.7,417.9L403.7,417.1L409.5,413.7L410.0,414.3L410.2,414.6ZM381.0,417.1L381.0,416.3L378.6,414.0L377.5,414.1L376.8,419.0L377.0,420.0L379.1,419.7ZM421.1,420.9L419.6,419.7L422.2,416.0L423.0,417.6L421.3,420.9ZM421.3,420.9L425.6,420.9L426.5,417.2L423.0,417.6ZM370.4,425.7L370.6,423.0L368.2,420.2L365.7,423.5L370.2,425.9ZM381.6,426.9L380.4,427.6L376.1,428.6L374.7,425.6L376.2,423.2L381.5,425.0L381.8,426.6ZM399.7,422.3L395.8,420.0L395.3,420.2L398.5,424.3ZM380.4,427.6L379.0,431.7L377.8,432.3L377.4,432.3L375.8,429.4L376.1,428.6ZM382.9,427.1L384.8,431.8L388.0,430.6L388.1,426.6ZM414.7,435.1L412.3,436.0L412.3,436.0L411.5,434.6L411.3,430.2L413.6,428.7L414.1,428.8L416.1,430.7ZM365.3,439.0L366.4,436.0L370.1,434.6L369.6,437.5L366.7,440.2ZM375.1,437.9L374.5,436.0L377.4,432.3L377.8,432.3L380.9,435.7L380.7,438.4L375.8,438.5ZM393.2,435.5L397.4,437.5L396.0,439.9L391.2,440.5L390.7,438.3L391.9,436.0ZM384.9,443.9L389.4,443.9L389.6,443.7L389.6,443.5L384.5,438.4L383.0,438.8ZM399.8,444.5L402.4,442.4L400.9,438.6L398.1,437.0L397.4,437.5L396.0,439.9L396.4,440.8ZM414.4,440.3L412.3,436.0L412.3,436.0L409.3,437.8L408.1,441.9L413.7,441.5ZM418.1,440.1L414.4,440.3L413.7,441.5L413.9,444.7L417.6,443.5ZM426.3,445.7L427.3,444.0L424.5,442.5L422.6,446.5ZM380.5,445.8L380.9,438.5L383.0,438.8L384.9,443.9L381.1,445.9ZM426.3,445.7L427.3,444.0L429.3,441.4L429.9,441.7L431.5,446.8L427.6,447.2ZM436.0,446.8L438.1,446.0L440.6,447.9L438.7,452.7L435.0,451.6L433.7,449.5L433.9,448.7ZM434.5,454.8L435.0,451.6L433.7,449.5L429.2,452.1L430.1,454.9ZM421.4,455.5L422.0,456.5L420.1,463.4L419.2,463.1L415.3,459.0L415.9,457.4L419.2,454.8ZM411.6,466.4L410.3,467.4L408.2,462.5L408.8,461.0L411.4,459.9L411.8,460.0L411.9,465.7ZM434.1,459.6L439.9,463.2L435.7,465.4L432.5,463.2L431.7,461.5L431.9,460.4ZM360.9,460.3L360.7,460.2L354.7,464.9L359.2,467.9L362.1,467.0L363.1,463.1L362.8,462.6ZM408.2,462.5L405.7,465.1L410.1,467.7L410.3,467.4ZM415.5,468.4L416.0,469.2L420.9,466.8L420.6,464.1L420.1,463.4L420.1,463.4L419.2,463.1L416.5,464.8ZM405.5,465.1L405.7,465.1L410.1,467.7L408.8,475.8L407.7,478.3L403.0,466.7Z" fill="#6e2f72"/>
<path d="M372.4,396.4L365.4,390.6L365.4,396.2L371.5,398.4L371.7,398.2ZM381.0,399.3L380.4,399.3L376.8,398.0L375.9,393.5L377.7,389.5L381.6,397.3ZM400.6,397.4L400.7,396.0L407.9,390.8L407.9,390.9L405.8,396.7ZM381.3,406.1L385.3,402.7L381.4,400.1L378.7,404.2ZM402.5,400.5L399.9,403.4L401.1,407.9L401.3,408.0L404.8,405.0L404.1,401.3ZM404.1,401.3L404.8,405.0L407.1,405.9L408.2,405.9L410.9,404.9L411.2,404.8L408.6,399.7L407.3,399.7ZM433.9,406.0L430.4,407.0L429.3,405.0L432.9,401.8L435.6,403.9L435.6,404.0ZM372.1,408.9L370.2,407.3L369.9,406.1L371.8,403.0L374.9,403.4L372.4,409.0ZM372.4,409.0L374.9,403.4L375.7,403.2L376.7,404.1L376.4,408.3L374.2,410.4ZM433.9,406.0L436.0,409.1L439.5,407.6L435.6,404.0ZM420.2,411.4L424.3,415.0L422.2,415.6L418.5,413.2ZM413.2,418.9L417.1,415.9L417.1,415.3L411.9,415.2ZM384.4,420.4L386.0,419.3L388.5,419.8L388.9,425.8L384.0,421.3ZM398.3,425.9L398.5,424.3L395.3,420.2L394.8,420.1L393.4,421.0L392.7,425.4ZM424.3,427.4L426.7,425.9L427.5,423.2L425.6,420.9L421.3,420.9L421.1,420.9L420.4,425.6L421.7,427.1L422.5,427.6ZM407.8,431.7L411.1,430.2L406.8,426.7L406.2,426.7L405.5,430.5ZM406.8,426.7L410.5,422.8L411.3,422.5L413.6,428.7L411.3,430.2L411.1,430.2ZM432.6,429.1L435.7,431.4L437.5,430.0L438.2,427.2L436.5,425.0L433.1,424.8L431.8,427.7ZM403.8,433.7L398.4,435.6L397.5,431.5L399.5,429.7L403.5,432.5ZM414.7,435.1L416.1,430.7L416.8,430.9L419.9,433.7L417.2,435.5ZM432.6,429.1L435.7,431.4L435.1,433.3L434.9,433.6L428.6,433.3L428.4,432.5L428.8,431.7ZM361.3,433.5L356.0,432.5L354.0,433.3L361.8,439.9L364.0,438.9ZM404.3,434.5L404.1,435.9L405.2,437.4L408.7,437.6L406.5,434.4ZM418.3,440.0L417.2,435.5L419.9,433.7L421.5,433.7L422.1,434.3L420.7,440.1ZM366.7,440.2L366.7,440.2L370.3,440.7L372.7,438.8L369.6,437.5ZM399.6,444.7L394.6,446.2L395.2,443.0L396.4,440.8L399.8,444.5L399.7,444.7ZM404.1,435.9L405.2,437.4L405.3,442.5L402.4,442.4L400.9,438.6ZM366.7,440.4L367.1,444.0L370.3,445.8L372.3,444.1L370.3,440.7L366.7,440.2ZM399.7,444.7L405.2,448.0L406.2,442.8L405.3,442.5L402.4,442.4L399.8,444.5ZM418.1,440.1L417.6,443.5L419.2,446.1L420.6,447.3L421.9,446.6L421.2,440.4L420.7,440.1L418.3,440.0ZM360.4,448.4L353.9,444.8L351.2,444.8L359.8,454.0L360.1,453.7ZM383.5,448.5L381.1,445.9L380.5,445.8L380.5,445.8L378.1,448.0L379.1,452.1L380.4,452.5ZM423.6,452.5L419.2,449.7L419.3,449.0L420.6,447.3L421.9,446.6L422.2,446.6L423.3,448.5ZM373.3,455.7L366.4,451.5L365.6,453.0L366.4,456.0L370.5,457.5ZM396.1,453.3L396.3,452.8L391.8,450.9L389.2,451.7L389.3,454.4L390.8,455.9ZM398.5,456.1L399.3,452.3L402.6,454.7L402.7,455.0L402.5,458.4L402.5,458.6L401.4,458.9L401.4,458.9ZM423.6,452.5L423.3,448.5L427.7,451.8L425.8,453.1L423.9,453.2ZM370.5,457.5L366.4,456.0L365.5,457.3L366.8,459.9L368.6,461.2L370.1,460.3ZM378.8,460.8L374.4,455.3L376.1,454.8L380.5,457.2ZM402.5,458.6L402.9,459.1L404.2,460.3L408.8,461.0L411.4,459.9L409.3,456.7L402.5,458.4ZM443.9,457.4L435.4,457.4L435.3,456.2L439.2,453.4ZM382.5,462.8L384.0,458.3L382.9,456.1L380.5,457.2L378.8,460.8L378.9,462.0L379.5,462.9ZM429.6,458.4L427.0,458.7L425.6,463.6L427.6,464.8L431.7,461.5L431.9,460.4ZM399.6,462.5L396.8,465.7L396.8,465.8L398.4,467.1L402.8,466.7L402.2,464.4ZM432.5,463.2L431.7,461.5L427.6,464.8L428.5,469.4L430.9,468.7L431.0,468.5ZM448.0,463.4L437.1,470.7L435.4,466.3L435.7,465.4L439.9,463.2ZM378.4,467.9L377.1,470.5L373.1,470.4L375.0,466.2L378.0,466.5Z" fill="#b86fa8"/>
<path d="M381.6,397.3L377.7,389.5L379.4,369.8L385.2,396.4ZM409.1,393.0L414.3,396.0L410.6,398.6L409.5,398.7ZM394.9,404.4L393.7,398.0L394.1,397.8L396.2,398.1L397.3,402.5L397.1,403.0ZM400.6,397.4L396.2,398.1L397.3,402.5L400.8,398.0ZM400.6,397.4L400.8,398.0L402.5,400.5L404.1,401.3L407.3,399.7L405.8,396.7L400.6,397.4ZM414.3,396.0L410.6,398.6L415.4,401.3L415.6,396.1ZM424.0,401.1L423.4,399.9L425.3,397.3L427.1,395.9L429.0,397.1L429.2,397.8L427.1,401.8ZM371.8,403.0L369.9,406.1L365.6,404.0L367.6,401.4L370.6,401.1ZM376.7,404.1L375.7,403.2L375.9,402.1L380.4,399.3L381.0,399.3L381.4,400.1L378.7,404.2ZM400.8,398.0L397.3,402.5L397.1,403.0L399.9,403.4L402.5,400.5ZM421.8,406.3L428.4,405.2L429.0,404.9L427.1,401.8L424.0,401.1L421.8,405.7ZM427.1,401.8L429.2,397.8L432.9,400.5L432.9,401.8L429.3,405.0L429.0,404.9ZM381.9,409.8L381.4,409.0L381.3,406.1L385.3,402.7L385.4,402.7L387.8,405.8L387.9,407.6L387.9,407.7L387.7,407.9L384.4,410.3ZM421.8,409.3L421.4,406.9L421.8,406.3L428.4,405.2L424.9,410.7ZM363.2,409.6L359.6,406.6L349.9,405.1L332.3,410.2L357.5,413.6ZM420.2,411.4L421.8,409.3L424.9,410.7L426.6,412.2L426.7,414.7L424.3,415.0ZM402.7,415.1L403.7,417.1L403.7,417.9L401.2,419.6L398.6,418.8L397.5,413.9L397.8,413.3ZM402.7,415.1L403.7,417.1L409.5,413.7L409.2,412.5L408.5,412.0L405.5,411.1L404.3,411.2ZM426.7,414.7L426.9,415.1L432.7,415.5L430.8,411.7L429.0,410.9L426.6,412.2ZM426.5,417.2L425.6,420.9L427.5,423.2L431.2,421.8L432.1,420.1L426.8,416.9ZM406.2,426.7L404.1,425.8L404.0,425.4L405.4,420.6L410.5,422.8L406.8,426.7ZM399.9,427.7L399.5,429.7L397.5,431.5L395.0,431.4L393.3,430.3L392.3,425.7L392.7,425.4L398.3,425.9ZM380.9,435.7L382.7,433.2L381.3,431.8L379.0,431.7L377.8,432.3ZM389.7,432.7L386.5,435.7L384.4,432.6L384.8,431.8L388.0,430.6L389.7,432.2ZM365.3,439.0L364.0,438.9L361.3,433.5L362.9,432.7L365.6,433.8L366.4,436.0ZM365.3,439.0L364.0,438.9L361.8,439.9L360.3,442.3L362.5,444.2L366.7,440.4L366.7,440.2L366.7,440.2ZM406.2,442.8L407.2,442.7L408.1,441.9L409.3,437.8L408.7,437.6L405.2,437.4L405.3,442.5ZM362.5,444.2L364.1,446.6L363.9,447.5L360.4,448.4L353.9,444.8L360.3,442.3ZM378.1,448.0L380.5,445.8L375.3,441.7L373.5,443.9L376.4,447.9ZM429.9,441.7L431.5,446.8L433.9,448.7L436.0,446.8L433.1,443.2L430.4,441.8ZM373.9,454.3L369.0,449.8L370.4,448.2L374.3,449.4ZM373.9,454.3L374.1,455.3L374.4,455.3L376.1,454.8L379.1,452.1L378.1,448.0L376.4,447.9L374.3,449.4ZM428.3,451.7L429.2,452.1L433.7,449.5L433.9,448.7L431.5,446.8L427.6,447.2ZM384.6,449.1L386.5,449.8L382.7,454.7L381.4,453.3ZM402.7,455.0L408.7,454.5L409.1,450.7L405.7,450.1L402.6,454.7ZM378.8,460.8L374.4,455.3L374.1,455.3L373.9,455.5L374.6,461.5L378.9,462.0ZM382.9,456.1L384.0,458.3L386.4,459.0L388.9,454.6L383.0,455.8ZM425.8,453.1L426.0,458.3L427.0,458.7L429.6,458.4L430.1,454.9L429.2,452.1L428.3,451.7L427.7,451.8ZM365.5,457.3L360.9,460.3L362.8,462.6L366.8,459.9ZM405.5,465.1L405.7,465.1L408.2,462.5L408.8,461.0L404.2,460.3ZM425.8,458.3L420.1,463.4L420.6,464.1L425.6,463.6L427.0,458.7L426.0,458.3ZM402.9,459.1L404.2,460.3L405.5,465.1L403.0,466.7L402.8,466.7L402.2,464.4Z" fill="#7d3577"/>
<path d="M400.6,397.4L396.2,398.1L394.1,397.8L396.6,388.8L400.7,396.0L400.6,397.4ZM370.6,401.1L371.5,398.4L365.4,396.2L365.3,396.3L367.6,401.4ZM421.1,398.9L423.4,399.9L425.3,397.3L422.1,395.9ZM432.9,400.5L436.8,397.0L433.4,393.6L429.0,397.1L429.2,397.8ZM387.9,407.6L395.4,407.2L396.7,409.5L392.2,411.4L387.9,407.7ZM372.1,408.9L370.2,407.3L365.0,410.5L365.1,410.6L368.8,411.8ZM392.2,411.4L390.5,414.5L390.8,415.0L394.6,416.2L397.5,413.9L397.8,413.3L396.9,409.6L396.7,409.5ZM396.9,409.6L397.8,413.3L402.7,415.1L404.3,411.2L401.3,408.0L401.1,407.9ZM434.8,410.1L434.7,410.3L430.8,411.7L429.0,410.9L430.4,407.0ZM436.0,409.1L434.8,410.1L434.7,410.3L435.3,414.5L437.4,414.5L450.3,408.6L439.5,407.6ZM393.4,421.0L394.8,420.1L394.6,416.2L390.8,415.0L390.1,419.2ZM413.2,418.9L411.9,415.2L410.2,414.6L409.6,418.2L411.6,421.6ZM413.2,418.9L417.1,415.9L418.5,419.1L414.9,422.3L411.6,422.1L411.6,421.6ZM433.7,416.0L433.6,418.9L434.3,419.2L438.7,417.7L437.4,414.5L435.3,414.5ZM431.8,427.7L433.1,424.8L431.2,421.8L427.5,423.2L426.7,425.9L428.8,427.3ZM416.1,430.7L414.1,428.8L417.8,425.5L420.4,425.6L421.7,427.1L416.8,430.9ZM432.6,429.1L428.8,431.7L428.8,427.3L431.8,427.7ZM361.3,433.5L356.0,432.5L360.0,427.3L363.9,430.7L362.9,432.7ZM381.6,426.9L381.3,431.8L382.7,433.2L384.4,432.6L384.8,431.8L382.9,427.1L381.8,426.6ZM403.8,433.7L403.5,432.5L405.5,430.5L407.8,431.7L407.5,433.8L406.5,434.4L404.3,434.5ZM426.4,431.0L428.4,432.5L428.6,433.3L427.2,436.2L422.1,434.3ZM380.9,435.7L382.7,433.2L384.4,432.6L386.5,435.7L386.5,436.4L384.5,438.4L383.0,438.8L380.9,438.5L380.7,438.4ZM360.3,442.3L353.9,444.8L351.2,444.8L315.1,438.6L354.0,433.3L361.8,439.9ZM375.1,437.9L372.7,438.8L370.3,440.7L372.3,444.1L373.5,443.9L375.3,441.7L375.8,438.5ZM375.8,438.5L375.3,441.7L380.5,445.8L380.5,445.8L380.9,438.5L380.7,438.4ZM390.9,441.1L389.6,443.5L384.5,438.4L386.5,436.4L390.7,438.3L391.2,440.5ZM366.7,440.4L367.1,444.0L364.1,446.6L362.5,444.2ZM384.6,449.1L386.5,449.8L387.6,449.8L389.4,443.9L384.9,443.9L381.1,445.9L383.5,448.5ZM399.6,444.7L400.2,448.6L405.4,449.7L405.2,448.0L399.7,444.7ZM413.7,441.5L408.1,441.9L407.2,442.7L411.9,447.9L412.4,447.5L413.9,445.0L413.9,444.7ZM369.0,449.8L366.5,451.1L363.9,447.5L364.1,446.6L367.1,444.0L370.3,445.8L370.4,448.2ZM397.7,451.7L394.3,446.9L391.8,450.9L396.3,452.8ZM419.2,449.7L419.3,449.0L412.4,447.5L411.9,447.9L411.1,449.6L413.3,452.0L418.6,451.5ZM363.9,447.5L360.4,448.4L360.1,453.7L365.6,453.0L366.4,451.5L366.5,451.1ZM396.3,455.0L396.1,453.3L396.3,452.8L397.7,451.7L398.5,451.6L399.3,452.3L398.5,456.1ZM409.3,456.3L413.6,453.8L413.3,452.0L411.1,449.6L409.1,450.7L408.7,454.5ZM419.2,454.8L415.9,457.4L413.6,453.8L413.3,452.0L418.6,451.5ZM443.9,457.4L454.3,462.0L532.3,463.7L440.6,447.9L438.7,452.7L439.2,453.4ZM373.9,455.5L374.6,461.5L374.0,461.9L371.7,461.6L370.1,460.3L370.5,457.5L373.3,455.7ZM392.3,459.8L390.8,455.9L389.3,454.4L388.9,454.6L386.4,459.0L388.0,460.8L389.0,461.0ZM402.5,458.4L409.3,456.7L409.3,456.3L408.7,454.5L402.7,455.0ZM423.9,453.2L421.4,455.5L422.0,456.5L425.8,458.3L426.0,458.3L425.8,453.1ZM370.1,460.3L368.6,461.2L367.1,463.9L369.3,467.1L370.5,466.3L371.7,461.6ZM382.5,462.8L384.0,458.3L386.4,459.0L388.0,460.8L383.9,463.6ZM393.4,460.4L392.3,459.8L389.0,461.0L388.8,462.9L390.9,465.1L393.5,460.7ZM425.8,458.3L420.1,463.4L420.1,463.4L422.0,456.5ZM374.0,461.9L373.7,465.5L370.5,466.3L371.7,461.6ZM388.8,462.9L387.3,466.8L385.8,467.3L383.9,463.6L388.0,460.8L389.0,461.0ZM356.3,541.9L363.9,468.9L362.1,467.0L359.2,467.9L297.9,892.6ZM416.0,469.2L420.9,466.8L421.4,467.8L420.4,473.2L415.8,470.0Z" fill="#5e2a6a"/>
<path d="M434.3 450.7h0M389.4 460.8h0M376.5 426.7h0M374.9 448.3h0M374.6 401.4h0M410.7 404.6h0M424.1 462.3h0" stroke="#b0609c" stroke-width="3.0" stroke-linecap="round" opacity="0.4"/>
<path d="M419.0 456.0h0M417.0 400.1h0M428.7 441.8h0M423.7 437.8h0M399.5 459.6h0M406.3 405.0h0M405.1 430.9h0" stroke="#b0609c" stroke-width="4.5" stroke-linecap="round" opacity="0.4"/>
<path d="M394.0 423.0h0M383.9 401.3h0M376.9 442.9h0M381.9 406.6h0M376.4 460.6h0" stroke="#b0609c" stroke-width="2.5" stroke-linecap="round" opacity="0.4"/>
<path d="M405.8 460.5h0M380.0 422.8h0M428.6 445.6h0M371.1 428.8h0" stroke="#b0609c" stroke-width="2.75" stroke-linecap="round" opacity="0.4"/>
<path d="M433.4 416.8h0M420.9 431.8h0M426.2 424.6h0M423.1 417.0h0M389.7 428.4h0M411.0 448.7h0M415.6 433.9h0M394.3 440.7h0" stroke="#b0609c" stroke-width="3.75" stroke-linecap="round" opacity="0.4"/>
<path d="M386.9 413.1h0M385.3 447.7h0M427.5 435.3h0M416.4 422.1h0M432.1 422.5h0M394.3 407.2h0M397.5 435.7h0" stroke="#b0609c" stroke-width="4.0" stroke-linecap="round" opacity="0.4"/>
<path d="M363.6 442.3h0M404.9 425.0h0M394.9 430.3h0M372.9 421.0h0M385.2 457.4h0M385.2 460.1h0" stroke="#b0609c" stroke-width="3.5" stroke-linecap="round" opacity="0.4"/>
<path d="M370.9 450.3h0M391.5 441.0h0M404.3 437.5h0" stroke="#b0609c" stroke-width="4.75" stroke-linecap="round" opacity="0.4"/>
<path d="M407.6 457.9h0M422.1 449.6h0M409.0 436.1h0M405.1 436.0h0M370.7 401.7h0M374.1 401.8h0M404.1 444.2h0" stroke="#b0609c" stroke-width="4.25" stroke-linecap="round" opacity="0.4"/>
<path d="M375.8 437.5h0M420.3 407.2h0M374.6 420.3h0M393.2 401.9h0M411.2 429.6h0M428.2 460.7h0" stroke="#b0609c" stroke-width="3.25" stroke-linecap="round" opacity="0.4"/>
<path d="M359.2,467.9L362.1,467.0M359.6,406.6L363.2,409.6M362.2,399.4L365.3,404.1M361.6,404.2L365.0,404.5M365.0,404.5L365.3,404.1M358.0,394.6L362.7,398.6M362.7,398.6L362.2,399.4M359.6,406.6L361.6,404.2M363.2,409.6L363.7,409.5M363.7,409.5L365.0,404.5M363.1,463.1L367.1,463.9M363.1,463.1L362.1,467.0M369.2,467.7L369.3,467.1M404.0,425.4L405.4,420.6M404.0,425.4L400.9,421.1M404.4,418.5L403.7,417.9M403.7,417.9L401.2,419.6M400.9,421.1L401.2,419.6M423.4,399.9L421.1,398.9M416.8,395.1L421.0,398.9M405.5,411.1L408.5,412.0M405.5,411.1L407.1,405.9M408.5,412.0L408.2,405.9M407.1,405.9L408.2,405.9M414.8,405.6L414.7,410.2M414.1,404.7L411.2,404.8M414.7,410.2L410.7,411.1M410.7,411.1L410.9,404.9M410.9,404.9L411.2,404.8M415.9,411.8L410.0,414.3M415.9,411.8L414.7,410.2M409.2,412.5L410.7,411.1M409.2,412.5L409.5,413.7M410.0,414.3L409.5,413.7M409.2,412.5L408.5,412.0M408.2,405.9L410.9,404.9M437.1,421.5L442.6,420.2M434.3,419.2L438.7,417.7M440.6,447.9L438.1,446.0M438.1,446.0L439.0,441.3M420.6,464.1L420.9,466.8M420.6,464.1L425.6,463.6M427.6,464.8L425.6,463.6M421.4,467.8L420.9,466.8M432.5,463.2L435.7,465.4M435.4,466.3L435.7,465.4M431.7,461.5L427.6,464.8M431.7,461.5L432.5,463.2M437.1,470.7L448.0,463.4M435.7,465.4L439.9,463.2M427.0,458.7L425.6,463.6M431.9,460.4L429.6,458.4M431.9,460.4L434.1,459.6M433.7,449.5L429.2,452.1M433.7,449.5L435.0,451.6M429.2,452.1L430.1,454.9M362.8,462.6L366.8,459.9M362.8,462.6L360.9,460.3M360.9,460.3L365.5,457.3M368.6,461.2L367.1,463.9M411.9,415.2L410.2,414.6M409.6,418.2L411.6,421.6M411.6,421.6L413.2,418.9M417.1,415.9L417.1,415.3M417.1,415.9L413.2,418.9M417.1,415.3L411.9,415.2M415.9,411.8L417.8,413.5M417.8,413.5L417.1,415.3M410.0,414.3L410.2,414.6M409.5,413.7L403.7,417.1M404.4,418.5L409.6,418.2M403.7,417.9L403.7,417.1M405.4,420.6L410.5,422.8M411.6,422.1L411.6,421.6M410.5,422.8L411.3,422.5M411.6,422.1L414.9,422.3M418.5,419.1L414.9,422.3M362.7,398.6L365.3,396.3M365.6,404.0L369.9,406.1M365.6,404.0L367.6,401.4M369.9,406.1L371.8,403.0M365.3,404.1L365.6,404.0M371.5,398.4L365.4,396.2M375.9,393.5L376.8,398.0M371.7,398.2L372.4,396.4M375.5,399.9L376.8,398.0M371.5,398.4L371.7,398.2M375.7,403.2L374.9,403.4M375.7,403.2L375.9,402.1M374.9,403.4L371.8,403.0M375.9,402.1L375.5,399.9M369.3,467.1L370.5,466.3M375.0,466.2L373.1,470.4M373.7,465.5L370.5,466.3M397.5,413.9L397.8,413.3M397.5,413.9L398.6,418.8M398.6,418.8L401.2,419.6M404.3,411.2L402.7,415.1M404.8,405.0L401.3,408.0M404.3,411.2L401.3,408.0M395.8,420.0L399.7,422.3M398.5,424.3L399.7,422.3M394.8,420.1L395.3,420.2M398.6,418.8L395.8,420.0M400.9,421.1L399.7,422.3M380.5,445.8L378.1,448.0M380.5,445.8L375.3,441.7M373.5,443.9L375.3,441.7M373.5,443.9L376.4,447.9M380.9,438.5L380.5,445.8M380.9,438.5L383.0,438.8M383.0,438.8L384.9,443.9M384.9,443.9L381.1,445.9M381.1,445.9L380.5,445.8M389.4,443.9L389.6,443.7M389.4,443.9L384.9,443.9M384.5,438.4L389.6,443.5M384.5,438.4L383.0,438.8M389.6,443.5L390.9,441.1M390.7,438.3L386.5,436.4M391.2,440.5L390.9,441.1M415.4,401.3L410.6,398.6M415.4,401.3L415.6,396.1M418.9,401.0L415.5,401.4M415.5,401.4L415.4,401.3M410.6,398.6L409.5,398.7M409.5,398.7L409.1,393.0M411.2,404.8L408.6,399.7M409.5,398.7L408.6,399.7M396.6,388.8L394.1,397.8M394.1,397.8L393.7,398.0M393.7,398.0L393.5,398.0M387.6,399.5L385.4,402.7M385.4,402.7L385.3,402.7M381.0,399.3L381.4,400.1M390.3,399.7L393.5,398.0M390.3,399.7L387.6,399.5M387.8,405.8L391.7,403.8M387.8,405.8L385.4,402.7M390.3,399.7L391.7,403.8M380.4,399.3L381.0,399.3M397.8,413.3L396.9,409.6M401.1,407.9L396.9,409.6M394.1,397.8L396.2,398.1M396.2,398.1L397.3,402.5M397.3,402.5L397.1,403.0M393.7,398.0L394.9,404.4M397.1,403.0L394.9,404.4M391.7,403.8L394.9,404.6M394.9,404.4L394.9,404.6M433.6,418.9L433.7,416.0M433.6,418.9L434.3,419.2M433.9,448.7L431.5,446.8M433.9,448.7L436.0,446.8M433.1,443.2L430.4,441.8M430.4,441.8L429.9,441.7M438.7,452.7L435.0,451.6M433.7,449.5L433.9,448.7M438.1,446.0L436.0,446.8M439.0,441.3L437.8,440.6M437.8,440.6L433.1,443.2M432.1,420.1L433.6,418.9M432.1,420.1L431.2,421.8M437.1,421.5L436.5,425.0M433.1,424.8L436.5,425.0M450.5,420.8L438.2,427.2M438.2,427.2L436.5,425.0M452.8,436.1L437.5,430.0M438.2,427.2L437.5,430.0M432.1,420.1L426.8,416.9M431.2,421.8L427.5,423.2M427.5,423.2L425.6,420.9M425.6,420.9L426.5,417.2M440.4,398.5L435.6,403.9M432.9,400.5L432.9,401.8M432.9,401.8L435.6,403.9M428.4,405.2L429.0,404.9M429.0,404.9L427.1,401.8M427.1,401.8L424.0,401.1M424.0,401.1L421.8,405.7M421.8,405.7L421.8,406.3M432.9,401.8L429.3,405.0M429.3,405.0L429.0,404.9M423.4,399.9L424.0,401.1M418.9,401.0L421.8,405.7M421.4,406.9L421.8,406.3M405.7,465.1L410.1,467.7M405.7,465.1L408.2,462.5M416.5,464.8L415.5,468.4M416.5,464.8L411.9,465.7M415.5,468.4L411.6,466.4M419.2,463.1L416.5,464.8M419.2,463.1L420.1,463.4M420.1,463.4L420.1,463.4M410.3,467.4L411.6,466.4M408.8,461.0L411.4,459.9M411.1,449.6L413.3,452.0M411.1,449.6L409.1,450.7M409.1,450.7L408.7,454.5M413.6,453.8L409.3,456.3M408.7,454.5L409.3,456.3M409.3,456.7L409.3,456.3M409.3,456.7L411.4,459.9M415.3,459.0L415.9,457.4M415.9,457.4L413.6,453.8M420.1,463.4L422.0,456.5M420.1,463.4L425.8,458.3M422.0,456.5L425.8,458.3M427.0,458.7L426.0,458.3M429.3,441.4L427.3,444.0M429.3,441.4L428.4,439.2M428.0,438.9L423.5,440.3M424.5,442.5L423.5,440.3M436.0,439.3L434.5,435.8M429.9,441.7L429.3,441.4M434.5,435.8L428.4,439.2M435.3,456.2L435.4,457.4M435.3,456.2L439.2,453.4M435.4,457.4L443.9,457.4M434.1,459.6L435.4,457.4M385.3,402.7L381.3,406.1M381.4,400.1L378.7,404.2M375.7,403.2L376.7,404.1M378.7,404.2L376.7,404.1M357.9,414.0L362.0,419.1M363.2,418.4L362.0,419.1M358.2,422.5L362.0,419.3M362.0,419.3L362.0,419.1M388.0,430.6L384.8,431.8M388.0,430.6L388.1,426.6M384.8,431.8L382.9,427.1M388.1,426.6L382.9,427.1M363.4,414.4L365.2,412.2M366.4,456.0L365.6,453.0M365.6,453.0L360.1,453.7M371.7,461.6L374.0,461.9M370.1,460.3L370.5,457.5M374.6,461.5L373.9,455.5M373.3,455.7L373.9,455.5M368.6,461.2L370.1,460.3M366.4,456.0L370.5,457.5M365.6,453.0L366.4,451.5M360.4,448.4L363.9,447.5M366.5,451.1L363.9,447.5M405.7,465.1L405.5,465.1M408.8,461.0L404.2,460.3M404.2,460.3L405.5,465.1M407.7,478.3L403.0,466.7M403.0,466.7L405.5,465.1M408.1,441.9L407.2,442.7M408.1,441.9L409.3,437.8M405.3,442.5L406.2,442.8M405.4,449.7L405.7,450.1M405.4,449.7L405.2,448.0M405.7,450.1L409.1,450.7M405.2,448.0L406.2,442.8M411.1,449.6L411.9,447.9M411.9,447.9L407.2,442.7M386.5,435.7L389.7,432.7M386.5,435.7L384.4,432.6M388.0,430.6L389.7,432.2M390.7,438.3L391.9,436.0M389.7,432.7L391.9,436.0M397.4,437.5L396.0,439.9M391.2,440.5L396.0,439.9M391.9,436.0L393.2,435.5M402.4,442.4L405.3,442.5M405.2,437.4L404.1,435.9M396.4,440.8L395.2,443.0M394.6,446.2L399.6,444.7M399.7,444.7L399.6,444.7M396.0,439.9L396.4,440.8M397.4,437.5L398.1,437.0M398.1,437.0L400.9,438.6M389.6,443.7L394.3,446.4M394.3,446.4L394.6,446.2M400.2,448.6L399.6,444.7M405.8,396.7L407.3,399.7M407.3,399.7L404.1,401.3M408.6,399.7L407.3,399.7M404.8,405.0L404.1,401.3M399.9,403.4L401.1,407.9M399.9,403.4L402.5,400.5M399.9,403.4L397.1,403.0M396.2,398.1L400.6,397.4M396.7,409.5L395.4,407.2M395.4,407.2L387.9,407.6M392.2,411.4L387.9,407.7M396.9,409.6L396.7,409.5M394.9,404.6L395.4,407.2M390.8,415.0L390.5,414.5M390.5,414.5L392.2,411.4M387.7,407.9L389.3,414.2M387.7,407.9L387.9,407.7M389.3,414.2L390.5,414.5M410.5,422.8L406.8,426.7M411.3,422.5L413.6,428.7M413.6,428.7L411.3,430.2M411.3,430.2L411.1,430.2M411.1,430.2L406.8,426.7M404.0,425.4L404.1,425.8M404.1,425.8L406.2,426.7M414.9,422.3L417.8,425.5M414.1,428.8L417.8,425.5M419.9,433.7L416.8,430.9M416.8,430.9L416.1,430.7M417.8,425.5L420.4,425.6M421.7,427.1L420.4,425.6M411.3,430.2L411.5,434.6M412.3,436.0L412.3,436.0M412.3,436.0L411.5,434.6M412.3,436.0L414.7,435.1M428.0,438.9L427.2,436.2M427.2,436.2L428.6,433.3M428.6,433.3L434.9,433.6M437.5,430.0L435.7,431.4M435.7,431.4L435.1,433.3M435.1,433.3L434.9,433.6M422.2,416.0L423.0,417.6M422.2,416.0L419.6,419.7M423.0,417.6L421.3,420.9M419.6,419.7L421.1,420.9M421.3,420.9L421.1,420.9M426.5,417.2L423.0,417.6M418.5,419.1L419.6,419.7M433.7,416.0L432.7,415.5M426.9,415.1L432.7,415.5M435.3,414.5L434.7,410.3M432.7,415.5L430.8,411.7M430.8,411.7L434.7,410.3M390.1,419.2L393.4,421.0M363.7,409.5L365.0,410.5M365.2,412.2L365.1,410.6M369.9,406.1L370.2,407.3M365.0,410.5L370.2,407.3M361.8,439.9L360.3,442.3M364.1,446.6L362.5,444.2M360.3,442.3L362.5,444.2M367.1,444.0L364.1,446.6M362.5,444.2L366.7,440.4M372.3,444.1L370.3,440.7M372.3,444.1L370.3,445.8M370.3,440.7L366.7,440.2M366.7,440.2L366.7,440.4M380.4,452.5L383.5,448.5M381.4,453.3L384.6,449.1M383.5,448.5L384.6,449.1M379.1,452.1L378.1,448.0M380.5,445.8L380.5,445.8M381.1,445.9L383.5,448.5M382.7,454.7L386.5,449.8M382.7,454.7L381.4,453.3M386.5,449.8L384.6,449.1M387.6,449.8L386.5,449.8M376.1,454.8L374.4,455.3M376.1,454.8L380.5,457.2M374.4,455.3L378.8,460.8M374.1,455.3L373.9,455.5M378.9,462.0L378.8,460.8M370.4,448.2L369.0,449.8M370.4,448.2L374.3,449.4M369.0,449.8L373.9,454.3M374.3,449.4L373.9,454.3M370.3,445.8L370.4,448.2M373.5,443.9L372.3,444.1M374.1,455.3L373.9,454.3M411.9,447.9L412.4,447.5M412.4,447.5L413.9,445.0M413.9,445.0L413.9,444.7M413.9,444.7L413.7,441.5M412.3,436.0L414.4,440.3M395.0,431.4L393.3,430.3M395.0,431.4L397.5,431.5M393.3,430.3L392.3,425.7M399.5,429.7L399.9,427.7M398.3,425.9L399.9,427.7M389.7,432.2L393.3,430.3M393.2,435.5L395.0,431.4M398.1,437.0L398.4,435.6M398.4,435.6L397.5,431.5M388.9,425.8L392.3,425.7M398.5,424.3L398.3,425.9M393.4,421.0L392.7,425.4M404.1,425.8L399.9,427.7M405.5,430.5L407.8,431.7M405.5,430.5L403.5,432.5M407.8,431.7L407.5,433.8M403.5,432.5L403.8,433.7M406.5,434.4L404.3,434.5M406.5,434.4L407.5,433.8M411.1,430.2L407.8,431.7M406.2,426.7L405.5,430.5M399.5,429.7L403.5,432.5M398.4,435.6L403.8,433.7M408.7,437.6L406.5,434.4M404.1,435.9L404.3,434.5M422.1,434.3L422.1,434.3M422.1,434.3L421.5,433.7M421.5,433.7L422.5,427.6M426.4,431.0L424.3,427.4M422.5,427.6L424.3,427.4M428.4,432.5L428.6,433.3M428.4,432.5L426.4,431.0M421.7,427.1L422.5,427.6M427.5,423.2L426.7,425.9M426.7,425.9L424.3,427.4M428.8,427.3L428.8,431.7M428.8,431.7L432.6,429.1M431.8,427.7L432.6,429.1M426.7,425.9L428.8,427.3M426.9,415.1L426.7,414.7M429.0,410.9L430.8,411.7M429.0,410.9L426.6,412.2M426.6,412.2L426.7,414.7M421.4,406.9L421.8,409.3M424.9,410.7L421.8,409.3M429.0,410.9L430.4,407.0M426.6,412.2L424.9,410.7M430.4,407.0L430.4,407.0M413.3,452.0L418.6,451.5M412.4,447.5L419.3,449.0M419.3,449.0L419.2,449.7M418.6,451.5L419.2,449.7M415.9,457.4L419.2,454.8M418.6,451.5L419.2,454.8M422.0,456.5L421.4,455.5M419.2,454.8L421.4,455.5M431.5,446.8L427.6,447.2M427.6,447.2L426.3,445.7M429.2,452.1L428.3,451.7M427.6,447.2L428.3,451.7M421.9,446.6L421.2,440.4M417.6,443.5L419.2,446.1M419.2,446.1L420.6,447.3M420.7,440.1L421.2,440.4M420.7,440.1L418.3,440.0M418.3,440.0L418.1,440.1M423.5,440.3L421.2,440.4M422.2,446.6L421.9,446.6M413.9,445.0L419.2,446.1M422.1,434.3L420.7,440.1M417.2,435.5L418.3,440.0M365.7,423.5L370.2,425.9M370.6,423.0L370.4,425.7M370.2,425.9L370.4,425.7M362.0,419.3L364.9,423.6M367.8,417.3L368.0,417.4M368.0,417.4L368.2,420.2M363.9,430.7L366.0,428.9M366.0,428.9L363.4,426.0M363.4,426.0L360.3,426.6M369.0,429.4L366.0,428.9M364.9,423.6L363.4,426.0M390.1,419.2L388.5,419.8M388.9,425.8L388.9,425.8M388.9,425.8L388.5,419.8M377.4,432.3L377.8,432.3M374.5,436.0L375.1,437.9M380.7,438.4L375.8,438.5M380.7,438.4L380.9,435.7M375.8,429.4L377.4,432.3M371.2,433.5L374.5,436.0M382.7,433.2L380.9,435.7M381.3,431.8L379.0,431.7M379.0,431.7L377.8,432.3M380.9,438.5L380.7,438.4M384.4,432.6L382.7,433.2M370.3,440.7L372.7,438.8M372.7,438.8L375.1,437.9M374.7,425.6L376.2,423.2M374.7,425.6L376.1,428.6M376.1,428.6L380.4,427.6M380.4,427.6L381.6,426.9M381.5,425.0L381.8,426.6M381.8,426.6L381.6,426.9M369.4,430.3L370.7,431.5M369.4,430.3L369.0,429.4M375.8,429.4L376.1,428.6M370.4,425.7L374.7,425.6M379.0,431.7L380.4,427.6M381.3,431.8L381.6,426.9M368.0,417.4L370.9,416.4M370.6,423.0L373.1,420.4M376.2,423.2L375.9,421.5M373.1,420.4L375.9,421.5M376.7,404.1L376.4,408.3M381.3,406.1L381.4,409.0M376.4,408.3L381.4,409.0M368.8,411.8L371.3,415.9M371.3,415.9L371.7,415.6M371.7,415.6L374.7,413.0M374.7,413.0L374.2,410.4M372.4,409.0L372.1,408.9M365.1,410.6L368.8,411.8M370.2,407.3L372.1,408.9M370.9,416.4L371.3,415.9M374.9,403.4L372.4,409.0M356.0,432.5L361.3,433.5M361.8,439.9L364.0,438.9M364.0,438.9L361.3,433.5M363.9,430.7L362.9,432.7M365.6,433.8L362.9,432.7M362.9,432.7L361.3,433.5M384.0,458.3L382.9,456.1M388.9,454.6L386.4,459.0M379.5,462.9L382.5,462.8M384.7,470.1L385.8,467.3M385.8,467.3L383.9,463.6M383.9,463.6L382.5,462.8M378.9,462.0L379.5,462.9M384.0,458.3L382.5,462.8M375.0,466.2L378.0,466.5M388.0,460.8L386.4,459.0M388.0,460.8L383.9,463.6M387.6,449.8L389.2,451.7M389.3,454.4L389.2,451.7M394.3,446.4L394.3,446.9M394.3,446.9L391.8,450.9M389.2,451.7L391.8,450.9M424.3,415.0L420.2,411.4M418.5,413.2L420.2,411.4M426.7,414.7L424.3,415.0M417.8,413.5L418.5,413.2M421.8,409.3L420.2,411.4M439.5,407.6L435.6,404.0M436.0,409.1L433.9,406.0M435.6,404.0L433.9,406.0M435.6,403.9L435.6,404.0M434.8,410.1L436.0,409.1M427.7,451.8L423.3,448.5M427.7,451.8L425.8,453.1M423.3,448.5L423.6,452.5M425.8,453.1L423.9,453.2M423.9,453.2L423.6,452.5M422.2,446.6L423.3,448.5M428.3,451.7L427.7,451.8M426.0,458.3L425.8,453.1M419.2,449.7L423.6,452.5M421.4,455.5L423.9,453.2M369.6,437.5L370.1,434.6M369.6,437.5L366.7,440.2M370.1,434.6L366.4,436.0M371.2,433.5L370.1,434.6M372.7,438.8L369.6,437.5M366.7,440.2L366.7,440.2M364.0,438.9L365.3,439.0M375.9,421.5L377.0,420.0M387.7,407.9L384.4,410.3M385.9,414.4L384.4,410.3M381.4,409.0L381.9,409.8M384.4,410.3L381.9,409.8M381.9,409.8L380.3,412.0M401.9,512.8L398.4,467.1M398.4,467.1L402.8,466.7M398.4,467.1L396.8,465.8M394.8,467.1L391.1,467.4M387.3,466.8L390.3,466.9M387.3,466.8L385.8,467.3M394.3,446.9L397.7,451.7M396.3,452.8L397.7,451.7M389.3,454.4L390.8,455.9M396.3,452.8L396.1,453.3M390.8,455.9L396.1,453.3M388.5,419.8L386.0,419.3M385.9,414.4L385.7,414.8M386.0,419.3L385.7,414.8M378.6,414.0L381.0,416.3M381.0,416.3L384.2,415.1M402.8,466.7L402.2,464.4M396.8,465.7L399.6,462.5M402.2,464.4L399.6,462.5M404.2,460.3L402.9,459.1M402.2,464.4L402.9,459.1M390.9,465.1L388.8,462.9M389.0,461.0L388.8,462.9M392.3,459.8L393.4,460.4M393.5,460.7L393.4,460.4M396.8,465.7L393.5,460.7M390.3,466.9L390.9,465.1M387.3,466.8L388.8,462.9M388.0,460.8L389.0,461.0M390.8,455.9L392.3,459.8M402.6,454.7L399.3,452.3M408.7,454.5L402.7,455.0M409.3,456.7L402.5,458.4M402.7,455.0L402.5,458.4M402.9,459.1L402.5,458.6M399.6,462.5L401.4,458.9M379.1,419.7L381.0,417.1M381.0,417.1L384.4,420.4M384.0,421.3L384.4,420.4M377.0,420.0L379.1,419.7M386.0,419.3L384.4,420.4M388.9,425.8L384.0,421.3M401.4,458.9L395.5,459.0M395.5,459.0L396.3,455.0M399.3,452.3L398.5,456.1M393.4,460.4L395.5,459.0" stroke="#f4e4f0" stroke-width="1.0" opacity="0.85" fill="none"/>
<path d="M367.9 398.7h0M377.2 400.4h0M398.1 400.0h0M436.8 401.1h0M379.2 401.3h0M421.9 402.4h0M429.2 401.8h0M405.2 407.7h0M389.8 410.7h0M413.9 413.3h0M437.0 411.2h0M375.7 416.7h0M370.5 420.6h0M375.6 419.3h0M398.3 421.0h0M402.4 422.7h0M416.1 419.7h0M421.4 417.6h0M379.8 422.6h0M423.3 422.4h0M363.1 429.7h0M378.2 431.0h0M434.3 426.9h0M379.7 433.1h0M382.2 431.3h0M395.0 435.2h0M424.5 437.9h0M371.1 438.4h0M373.3 447.7h0M394.9 442.0h0M382.2 450.5h0M393.4 450.7h0M417.2 445.6h0M369.0 454.0h0M378.9 455.4h0M398.8 455.7h0M398.0 456.4h0M382.0 459.9h0" stroke="#3e1752" stroke-width="2.25" stroke-linecap="round" opacity="0.75"/>
<path d="M395.7 401.7h0M425.7 400.0h0M362.3 403.4h0M389.6 403.3h0M425.0 403.6h0M433.0 406.0h0M361.9 406.5h0M368.0 407.9h0M391.5 406.4h0M411.5 408.8h0M434.6 406.6h0M405.3 413.8h0M413.7 416.3h0M387.6 422.2h0M428.2 420.3h0M385.8 429.9h0M407.5 429.9h0M410.3 427.4h0M417.6 427.9h0M361.6 429.3h0M409.3 433.4h0M413.2 431.7h0M425.5 432.0h0M365.2 434.8h0M377.4 435.3h0M400.9 436.7h0M431.3 436.0h0M394.9 443.7h0M377.2 444.8h0M411.2 444.4h0M423.8 450.5h0M368.3 458.7h0M375.3 463.1h0M389.2 464.6h0M407.0 463.2h0" stroke="#3e1752" stroke-width="2.0" stroke-linecap="round" opacity="0.75"/>
<path d="M413.1 398.4h0M391.3 407.9h0M387.5 411.8h0M382.1 413.6h0M408.3 420.6h0M391.1 430.2h0M403.9 428.7h0M420.0 430.8h0M368.4 434.7h0M399.2 440.9h0M411.2 440.6h0M363.7 442.5h0M366.7 446.7h0M436.8 449.9h0M369.9 453.1h0M382.7 452.3h0M406.2 458.6h0M403.9 463.6h0" stroke="#3e1752" stroke-width="3.0" stroke-linecap="round" opacity="0.75"/>
<path d="M419.0 399.3h0M373.5 400.7h0M400.1 401.1h0M384.6 406.2h0M434.1 406.1h0M402.0 412.7h0M432.8 411.4h0M388.7 417.8h0M380.8 419.7h0M391.6 416.9h0M423.7 417.4h0M368.3 423.2h0M385.0 425.1h0M389.9 423.0h0M409.0 435.9h0M432.0 438.5h0M438.0 436.3h0M387.5 438.9h0M416.7 442.1h0M425.9 442.6h0M434.4 443.0h0M360.5 445.8h0M368.8 443.6h0M382.4 442.3h0M394.1 443.0h0M431.7 444.7h0M381.8 450.6h0M429.4 448.1h0M398.1 455.8h0M411.1 454.4h0M436.3 454.0h0M363.6 455.5h0M373.7 460.1h0M406.7 455.6h0M426.2 455.6h0M432.7 455.2h0M397.6 461.9h0M415.2 464.0h0M437.7 460.1h0M371.5 463.7h0M391.5 465.7h0M401.3 464.0h0M430.0 465.9h0M432.4 465.4h0M438.1 467.6h0" stroke="#3e1752" stroke-width="1.75" stroke-linecap="round" opacity="0.75"/>
<path d="M392.1 400.7h0M401.6 404.8h0M411.2 399.7h0M378.0 406.2h0M426.8 408.3h0M362.5 414.2h0M370.5 412.7h0M422.5 412.7h0M396.2 417.9h0M437.0 419.8h0M377.9 426.8h0M415.8 425.1h0M429.6 429.4h0M366.2 431.8h0M387.6 432.1h0M392.7 434.1h0M400.3 432.6h0M419.4 436.7h0M423.8 442.2h0M418.8 443.7h0M424.7 442.7h0M430.3 445.9h0M398.2 448.8h0M407.7 446.4h0M422.9 450.2h0M426.0 448.6h0M361.9 449.8h0M421.3 451.5h0M385.9 457.7h0M412.4 455.4h0M428.3 461.7h0M365.2 467.1h0M425.4 467.1h0" stroke="#3e1752" stroke-width="2.75" stroke-linecap="round" opacity="0.75"/>
<path d="M406.9 403.3h0M437.8 404.0h0M372.2 405.9h0M408.8 409.5h0M426.5 406.9h0M378.2 410.3h0M412.4 418.1h0M436.8 416.7h0M396.1 424.0h0M400.6 422.8h0M406.6 422.9h0M374.0 428.9h0M379.7 430.3h0M395.6 428.1h0M427.4 429.8h0M424.5 430.7h0M430.3 431.8h0M369.2 436.1h0M384.2 434.9h0M402.8 439.4h0M403.8 446.6h0M416.9 445.0h0M379.1 456.8h0M387.8 457.9h0M366.0 460.3h0M401.6 464.0h0M423.4 459.8h0M434.6 463.4h0M414.1 467.3h0" stroke="#3e1752" stroke-width="2.5" stroke-linecap="round" opacity="0.75"/>
<path d="M407.6 416.8h0M365.5 426.1h0M407.1 436.3h0M402.6 450.3h0M407.7 464.0h0" stroke="#3e1752" stroke-width="1.5" stroke-linecap="round" opacity="0.75"/>
<path d="M379.1 444.1h0M364.1 435.6h0M366.0 445.3h0M392.0 454.3h0M380.3 441.7h0M403.4 437.0h0M400.8 400.6h0M420.6 409.6h0M419.7 401.8h0M401.6 430.4h0M415.0 444.1h0M410.7 441.3h0M424.9 438.7h0M402.8 417.7h0M408.6 439.9h0M390.7 415.8h0" stroke="#f5e6f2" stroke-width="1.0" stroke-linecap="round" opacity="0.85"/>
<path d="M411.7 453.6h0M388.7 438.1h0M392.4 448.6h0M368.9 451.8h0M435.1 431.8h0M365.7 449.7h0M390.0 409.3h0" stroke="#f5e6f2" stroke-width="2.25" stroke-linecap="round" opacity="0.85"/>
<path d="M398.5 442.7h0M390.3 455.1h0M400.6 453.8h0M389.0 461.4h0M378.5 420.2h0M396.2 400.7h0M370.0 439.5h0M372.2 407.1h0M410.3 425.9h0M415.5 449.3h0M431.7 429.6h0M409.4 433.4h0M407.4 438.5h0M376.0 411.3h0M404.7 432.6h0M435.1 443.8h0M381.2 440.5h0M410.3 414.1h0M405.4 421.9h0M403.5 416.9h0M383.8 410.6h0M432.2 407.4h0M407.2 402.6h0" stroke="#f5e6f2" stroke-width="2.0" stroke-linecap="round" opacity="0.85"/>
<path d="M388.8 462.7h0M413.0 464.8h0M391.1 412.5h0M407.9 405.0h0M387.3 432.6h0M405.2 457.5h0M396.4 401.3h0M398.6 453.4h0M369.9 421.9h0M373.1 426.6h0M413.2 417.5h0M412.0 463.8h0M372.6 453.8h0M421.7 455.3h0M388.1 432.1h0M378.1 449.8h0M414.7 454.3h0" stroke="#f5e6f2" stroke-width="1.5" stroke-linecap="round" opacity="0.85"/>
<path d="M431.0 401.0h0M399.8 402.2h0M412.0 434.7h0M373.7 449.0h0M424.1 420.0h0M365.1 464.2h0M387.2 436.3h0M432.2 449.0h0M417.9 437.5h0M367.8 417.3h0M374.4 455.7h0M411.9 456.7h0M414.0 461.2h0M435.0 428.2h0M367.0 422.7h0M403.6 461.2h0M431.7 429.3h0M417.1 457.2h0M425.3 443.0h0M373.0 458.7h0M404.3 437.6h0M373.3 455.5h0M418.3 465.0h0M420.0 416.9h0M398.7 413.4h0M364.5 428.0h0M371.8 451.8h0" stroke="#f5e6f2" stroke-width="1.75" stroke-linecap="round" opacity="0.85"/>
<path d="M383.0 405.3h0M369.0 437.8h0M435.7 418.0h0M406.8 440.5h0M368.7 435.0h0M384.0 417.2h0M429.6 426.9h0M399.4 439.1h0M408.3 461.1h0M431.6 406.3h0M435.6 438.9h0M371.5 409.1h0M391.9 450.6h0M386.4 465.5h0M416.3 433.3h0M397.2 453.5h0M434.2 415.8h0M419.0 445.7h0M423.4 452.1h0M414.2 440.1h0" stroke="#f5e6f2" stroke-width="1.25" stroke-linecap="round" opacity="0.85"/>
</g></g>
<g clip-path="url(#c6)"><g filter="url(#bl)"><rect x="439" y="398.5" width="75" height="68" fill="#d9c3dc"/>
<path d="M448.6 457.2h0M460.0 456.0h0M442.5 452.0h0M501.3 443.0h0M483.8 426.6h0M472.3 430.8h0M469.7 436.9h0M471.8 430.2h0M450.6 455.3h0M460.6 408.8h0M463.7 433.5h0M502.7 408.0h0M505.3 416.9h0M445.9 419.2h0M465.4 409.7h0M478.2 448.4h0M490.3 459.4h0M444.9 453.1h0M510.1 432.5h0M458.4 417.0h0M455.1 455.6h0M485.1 441.5h0M456.7 417.4h0M445.7 425.9h0M504.8 458.6h0M487.1 408.6h0M459.3 451.8h0" stroke="#b48ab8" stroke-width="1.75" stroke-linecap="round" opacity="0.5"/>
<path d="M469.9 409.2h0M478.9 457.2h0M504.6 427.4h0M497.9 432.7h0M465.3 446.0h0M497.1 417.8h0M494.0 460.6h0M493.8 450.8h0M458.6 435.4h0M512.5 455.9h0M440.7 449.7h0M441.4 446.3h0M499.5 419.8h0M459.2 458.8h0M492.5 413.4h0M492.1 451.4h0M501.7 455.6h0M511.7 425.5h0M477.8 439.9h0M442.0 401.3h0M454.7 434.3h0M468.8 450.9h0M465.8 406.2h0M445.0 403.7h0M479.1 400.7h0M492.2 432.3h0" stroke="#b48ab8" stroke-width="2.5" stroke-linecap="round" opacity="0.5"/>
<path d="M496.3 462.5h0M474.5 435.6h0M486.2 443.8h0M468.7 457.5h0M512.9 425.6h0M459.2 452.8h0M487.0 459.0h0M461.1 413.1h0M483.4 439.1h0M473.0 424.0h0M466.7 430.2h0M450.1 411.0h0M489.7 412.6h0M471.5 454.6h0M467.8 449.0h0M486.2 407.8h0M479.2 465.1h0M511.0 460.8h0M508.6 426.6h0M499.5 421.0h0M462.0 421.7h0M473.5 444.9h0M469.1 438.2h0M443.0 426.0h0M469.1 454.5h0M511.2 452.9h0" stroke="#b48ab8" stroke-width="2.0" stroke-linecap="round" opacity="0.5"/>
<path d="M504.0 424.0h0M460.2 431.7h0M456.6 424.9h0M483.7 425.3h0M500.6 415.3h0M491.4 463.3h0M467.1 419.9h0M459.0 411.1h0M466.9 449.1h0M461.6 419.6h0M443.8 416.3h0M456.3 407.1h0M444.8 427.2h0M494.8 416.7h0M476.8 406.0h0M510.5 425.1h0M463.0 434.1h0" stroke="#b48ab8" stroke-width="2.75" stroke-linecap="round" opacity="0.5"/>
<path d="M443.6 424.6h0M506.0 448.6h0M460.6 401.4h0M456.9 457.2h0M456.3 426.4h0M482.1 458.5h0M498.8 430.5h0M448.3 432.9h0M472.6 447.9h0M441.6 462.0h0M481.1 454.1h0M504.5 438.3h0M459.4 431.6h0M481.3 406.8h0M440.7 456.6h0M480.2 433.0h0M475.4 401.2h0M499.4 445.0h0M506.1 423.1h0" stroke="#b48ab8" stroke-width="1.5" stroke-linecap="round" opacity="0.5"/>
<path d="M465.2 409.2h0M452.8 453.7h0M463.0 433.7h0M490.5 440.1h0M460.9 460.9h0M507.1 462.2h0M444.8 448.9h0M453.8 429.6h0M457.3 456.3h0M489.3 463.8h0M510.4 436.0h0M504.0 431.6h0M446.6 401.3h0M499.0 407.8h0M468.1 415.4h0M508.7 449.4h0M480.6 423.1h0M511.2 420.3h0M470.2 458.0h0M461.8 404.6h0M498.1 439.8h0M498.9 435.4h0M501.2 457.6h0M477.7 405.4h0M464.3 415.1h0" stroke="#b48ab8" stroke-width="2.25" stroke-linecap="round" opacity="0.5"/>
<path d="M467.0 397.7h0M472.3 399.6h0M477.3 399.9h0M489.1 399.1h0M493.0 399.6h0M500.1 398.3h0M510.1 398.9h0M453.9 400.5h0M456.3 402.2h0M464.1 402.0h0M472.0 401.3h0M478.5 401.4h0M498.7 400.8h0M442.0 404.3h0M448.3 404.2h0M474.6 403.7h0M444.2 407.2h0M446.9 407.5h0M455.7 406.1h0M463.6 407.0h0M467.2 405.8h0M482.6 406.8h0M496.1 405.6h0M449.7 409.9h0M460.0 410.2h0M467.8 409.8h0M488.0 409.0h0M496.3 408.7h0M502.8 409.1h0M507.1 410.0h0M456.6 412.0h0M463.0 412.9h0M495.6 412.2h0M496.8 411.5h0M456.7 413.3h0M467.2 414.1h0M471.1 414.9h0M491.3 413.4h0M507.1 413.9h0M463.7 416.8h0M466.9 417.4h0M471.4 416.5h0M500.3 416.3h0M508.9 416.9h0M513.2 417.4h0M441.7 419.4h0M461.3 418.2h0M465.7 419.0h0M473.2 419.7h0M475.2 419.4h0M478.6 420.0h0M495.9 420.2h0M509.2 420.0h0M511.2 418.3h0M442.4 422.2h0M465.6 422.5h0M472.5 422.9h0M486.1 421.9h0M491.6 422.7h0M500.3 421.4h0M503.0 420.9h0M475.4 425.2h0M514.9 424.3h0M446.0 426.7h0M453.5 427.2h0M462.1 427.5h0M469.1 425.9h0M481.6 427.9h0M504.2 426.2h0M464.9 428.4h0M493.1 429.9h0M511.1 429.9h0M451.6 431.8h0M453.4 432.5h0M513.0 432.1h0M439.3 434.9h0M446.9 434.5h0M455.6 435.5h0M458.4 434.8h0M462.6 433.7h0M467.2 434.9h0M502.1 434.6h0M463.8 437.5h0M486.7 436.0h0M449.1 439.5h0M453.7 439.1h0M463.0 440.6h0M479.8 439.9h0M493.4 439.0h0M496.4 439.2h0M510.5 440.7h0M443.5 442.2h0M448.3 442.9h0M450.7 441.7h0M456.2 441.1h0M466.4 443.2h0M475.0 441.4h0M483.9 442.1h0M500.4 441.0h0M502.9 441.5h0M451.8 445.5h0M468.1 444.5h0M499.2 444.3h0M506.1 445.4h0M448.7 448.2h0M469.6 447.8h0M475.3 446.8h0M477.2 446.7h0M493.1 447.0h0M444.0 449.5h0M462.3 450.1h0M476.9 450.4h0M479.3 450.3h0M488.6 450.5h0M503.6 449.4h0M510.5 449.7h0M513.8 450.1h0M441.8 453.0h0M460.7 452.2h0M471.4 451.8h0M492.7 451.3h0M510.1 452.2h0M472.7 455.7h0M496.5 454.8h0M506.1 455.2h0M442.6 457.8h0M446.6 457.3h0M447.7 457.0h0M457.8 458.0h0M460.7 457.9h0M492.5 456.4h0M498.3 457.2h0M442.4 458.6h0M444.7 459.3h0M452.1 459.9h0M472.4 459.5h0M484.7 459.7h0M494.1 460.7h0M501.3 460.4h0M441.9 462.4h0M445.2 463.0h0M478.7 462.1h0M503.4 462.4h0M441.9 464.9h0M450.9 464.5h0M457.6 464.2h0M460.5 463.8h0M463.4 464.0h0M467.6 463.9h0M472.2 465.9h0M481.8 465.1h0M444.8 467.2h0M463.7 466.7h0M496.1 467.5h0M504.4 466.2h0" stroke="#55245f" stroke-width="2.0" stroke-linecap="round" opacity="0.85"/>
<path d="M482.7 397.6h0M514.6 397.6h0M446.0 399.2h0M456.8 398.8h0M466.7 399.7h0M479.4 398.1h0M504.3 398.5h0M465.3 401.0h0M438.4 404.9h0M471.4 403.7h0M477.4 403.3h0M484.9 403.5h0M488.9 403.0h0M490.2 404.3h0M494.0 403.8h0M506.0 405.1h0M476.9 406.7h0M485.7 407.0h0M490.3 405.9h0M506.2 407.8h0M511.7 407.8h0M442.7 408.4h0M447.1 409.9h0M499.8 409.2h0M446.0 410.6h0M454.2 410.6h0M490.3 410.7h0M502.0 411.2h0M508.9 411.7h0M476.5 413.2h0M488.5 415.2h0M500.3 413.5h0M511.0 413.7h0M483.0 416.1h0M490.0 416.1h0M471.1 420.4h0M484.4 419.2h0M487.6 419.5h0M490.2 418.5h0M457.0 422.7h0M453.5 424.3h0M460.6 424.8h0M470.8 424.1h0M496.3 425.3h0M499.4 424.1h0M470.9 427.3h0M485.6 426.5h0M500.9 428.0h0M508.3 426.4h0M446.4 430.4h0M476.5 429.1h0M488.3 428.8h0M503.6 429.5h0M438.1 432.7h0M443.9 432.6h0M449.8 431.2h0M456.4 431.9h0M460.6 433.1h0M462.9 432.5h0M485.7 431.5h0M492.3 431.0h0M501.1 433.0h0M507.1 431.1h0M508.7 432.0h0M514.5 430.9h0M444.3 434.6h0M453.4 434.8h0M464.3 433.7h0M483.2 434.2h0M500.3 436.2h0M507.2 436.8h0M513.5 437.9h0M458.8 440.6h0M467.3 438.7h0M482.4 439.7h0M464.4 441.4h0M478.6 441.9h0M497.9 441.4h0M509.0 442.6h0M443.4 443.8h0M463.6 444.9h0M476.3 445.0h0M438.9 446.6h0M462.6 448.1h0M479.6 447.3h0M484.1 447.9h0M490.0 447.5h0M503.5 446.8h0M506.4 447.6h0M510.1 446.3h0M513.6 447.3h0M439.5 450.5h0M442.5 450.4h0M468.3 450.7h0M471.5 449.9h0M472.4 448.5h0M504.3 449.3h0M440.6 452.2h0M452.0 452.6h0M495.5 453.2h0M506.5 452.1h0M440.9 454.9h0M443.1 455.0h0M446.1 453.8h0M450.3 454.4h0M453.5 455.1h0M478.7 455.0h0M486.0 454.0h0M491.5 453.7h0M440.0 456.6h0M468.6 456.1h0M485.5 456.6h0M514.6 456.6h0M465.1 459.5h0M468.2 458.8h0M482.2 459.3h0M500.1 460.3h0M505.3 459.3h0M439.0 461.3h0M452.1 463.0h0M465.7 461.3h0M470.9 462.7h0M500.7 463.2h0M511.3 461.6h0M448.0 465.5h0M484.4 465.5h0M490.5 464.6h0M493.1 465.1h0M495.9 464.7h0M514.5 466.8h0" stroke="#55245f" stroke-width="2.25" stroke-linecap="round" opacity="0.85"/>
<path d="M513.6 397.7h0M460.9 398.3h0M495.9 398.1h0M501.5 398.4h0M451.2 402.1h0M481.1 400.6h0M451.2 404.0h0M458.6 403.6h0M500.3 403.9h0M501.6 405.1h0M508.3 405.3h0M481.1 407.4h0M502.5 407.7h0M443.3 410.3h0M453.0 408.3h0M462.8 409.7h0M470.5 409.0h0M489.8 409.6h0M504.6 408.5h0M514.2 410.3h0M478.3 411.4h0M485.3 414.0h0M514.7 413.9h0M446.8 417.5h0M448.2 417.6h0M450.3 417.2h0M470.0 416.7h0M487.1 415.7h0M447.2 418.5h0M504.8 419.9h0M439.5 421.6h0M494.6 421.0h0M444.0 425.1h0M481.3 425.3h0M443.3 427.3h0M465.8 425.9h0M440.3 430.1h0M506.5 430.5h0M507.4 430.4h0M440.1 431.0h0M483.8 431.2h0M495.7 431.4h0M503.9 431.5h0M473.3 434.9h0M479.7 434.5h0M488.7 434.2h0M493.5 434.7h0M444.7 436.0h0M452.5 437.7h0M490.2 436.2h0M492.6 437.9h0M448.3 438.4h0M469.6 440.2h0M472.7 441.8h0M492.6 442.9h0M485.6 444.7h0M511.2 444.5h0M470.7 448.1h0M495.2 447.4h0M450.0 449.1h0M454.7 450.4h0M490.3 449.7h0M494.1 450.4h0M499.1 449.6h0M445.1 453.2h0M463.5 452.1h0M460.7 453.5h0M465.9 455.3h0M487.2 453.6h0M475.9 456.4h0M479.9 456.9h0M495.3 457.5h0M512.5 456.7h0M438.8 459.4h0M447.3 459.1h0M456.9 459.7h0M448.2 462.9h0M483.8 463.1h0M491.1 461.1h0M506.5 461.1h0M452.8 465.0h0M456.3 463.6h0M503.1 464.6h0M440.5 467.2h0M443.3 466.8h0M459.8 466.2h0M508.9 466.7h0" stroke="#55245f" stroke-width="1.5" stroke-linecap="round" opacity="0.85"/>
<path d="M439.4 399.9h0M444.6 399.0h0M470.5 398.2h0M482.7 398.1h0M490.0 398.2h0M443.0 401.8h0M460.4 401.3h0M503.5 402.3h0M445.0 404.3h0M457.1 403.3h0M464.5 403.2h0M467.5 405.0h0M481.6 404.4h0M510.8 405.1h0M440.5 406.1h0M451.0 407.4h0M457.0 405.5h0M468.4 406.1h0M510.1 405.9h0M439.2 408.8h0M455.9 409.4h0M465.4 409.4h0M473.6 408.9h0M476.0 409.1h0M478.5 408.4h0M484.3 408.8h0M494.2 408.1h0M511.3 408.9h0M438.9 411.5h0M450.6 411.3h0M460.2 412.1h0M465.7 410.7h0M468.4 411.1h0M476.0 412.8h0M481.7 412.4h0M486.4 410.8h0M491.1 412.3h0M512.6 411.5h0M441.9 414.3h0M444.8 414.2h0M452.8 414.4h0M459.3 415.3h0M482.2 413.5h0M497.0 413.8h0M501.5 414.9h0M442.2 416.4h0M458.1 416.2h0M474.2 415.8h0M492.2 417.8h0M494.4 416.0h0M503.8 415.7h0M507.9 417.5h0M439.6 419.8h0M443.3 419.5h0M452.8 420.4h0M468.6 420.0h0M482.0 418.5h0M512.8 419.8h0M454.9 422.0h0M475.2 421.3h0M478.2 421.7h0M481.3 421.8h0M483.0 422.1h0M497.7 422.0h0M506.7 421.8h0M514.4 422.2h0M451.2 423.5h0M490.7 423.7h0M502.9 424.5h0M508.0 424.4h0M510.2 424.4h0M450.3 427.5h0M457.4 427.2h0M461.0 426.6h0M488.3 426.8h0M512.4 427.7h0M451.1 430.0h0M452.7 430.4h0M455.6 429.6h0M461.8 429.1h0M471.4 429.7h0M478.3 428.6h0M481.5 428.6h0M485.8 430.3h0M490.0 428.7h0M498.6 428.3h0M445.2 430.9h0M465.0 431.6h0M470.0 431.0h0M478.8 432.9h0M479.8 430.8h0M489.2 433.0h0M440.3 433.6h0M485.7 433.9h0M499.6 435.6h0M510.5 433.6h0M456.2 437.5h0M459.6 437.1h0M469.2 437.9h0M470.6 437.2h0M478.7 436.0h0M480.7 437.1h0M482.9 437.1h0M495.1 437.9h0M498.7 437.6h0M508.7 436.5h0M473.9 439.9h0M489.8 439.7h0M498.5 439.0h0M502.1 439.7h0M507.3 439.0h0M513.1 440.1h0M453.4 442.4h0M468.1 442.9h0M480.7 442.1h0M494.3 441.8h0M513.5 442.8h0M442.7 444.2h0M446.2 444.5h0M450.6 445.0h0M457.1 443.9h0M478.0 444.8h0M488.1 444.1h0M503.4 445.3h0M508.3 445.3h0M513.9 444.7h0M450.9 448.2h0M458.2 445.9h0M497.0 447.5h0M453.9 450.7h0M458.7 449.1h0M464.1 449.8h0M507.5 449.1h0M449.7 452.7h0M467.8 452.9h0M475.2 452.9h0M478.9 453.0h0M483.4 451.8h0M485.9 451.9h0M489.2 451.8h0M498.8 452.4h0M499.9 451.1h0M471.6 453.9h0M482.3 454.0h0M500.5 454.0h0M503.2 454.1h0M452.0 456.8h0M462.4 457.7h0M470.9 456.0h0M490.5 457.1h0M504.3 458.0h0M506.8 457.2h0M469.4 459.9h0M496.3 458.8h0M508.9 459.5h0M510.9 458.7h0M460.9 462.7h0M462.7 461.9h0M474.0 462.3h0M481.8 462.8h0M496.7 462.2h0M510.3 462.9h0M444.5 465.8h0M478.0 465.3h0M488.0 465.3h0M499.4 465.2h0M504.6 463.7h0M512.3 463.6h0M451.6 466.5h0M500.7 467.0h0" stroke="#55245f" stroke-width="1.75" stroke-linecap="round" opacity="0.85"/>
<path d="M454.0 398.8h0M465.1 399.6h0M441.1 401.1h0M449.7 400.7h0M470.0 401.4h0M507.1 402.8h0M462.6 404.6h0M459.9 405.9h0M472.3 406.6h0M491.0 406.3h0M496.9 406.4h0M500.7 407.5h0M482.5 408.4h0M443.8 411.9h0M449.1 411.2h0M450.9 413.4h0M461.2 414.2h0M472.4 414.3h0M478.7 414.2h0M440.5 417.1h0M476.7 416.6h0M480.4 417.3h0M459.4 419.9h0M494.8 418.3h0M499.8 419.8h0M503.4 419.9h0M445.6 422.1h0M452.6 422.6h0M459.5 422.3h0M510.6 421.5h0M487.3 423.4h0M492.6 423.2h0M438.9 427.0h0M448.1 426.6h0M477.9 426.8h0M505.8 427.8h0M445.2 428.3h0M468.0 428.4h0M495.5 429.9h0M489.7 434.6h0M495.3 434.2h0M505.3 435.3h0M514.0 434.2h0M455.4 437.0h0M466.1 436.3h0M441.6 439.3h0M443.8 439.3h0M456.3 440.0h0M485.0 438.4h0M445.0 441.9h0M462.0 445.0h0M481.3 445.0h0M491.3 444.1h0M494.6 444.6h0M445.1 446.1h0M499.9 446.5h0M446.5 450.3h0M485.0 450.1h0M512.8 452.9h0M468.6 455.7h0M476.3 455.2h0M509.3 453.8h0M478.9 456.0h0M501.2 457.6h0M508.6 457.2h0M449.4 460.8h0M457.8 458.6h0M475.7 458.9h0M491.1 458.8h0M455.3 463.2h0M467.9 463.0h0M488.8 462.0h0M496.3 462.0h0M469.3 465.7h0M476.8 465.7h0M514.8 464.6h0M477.4 466.8h0" stroke="#55245f" stroke-width="2.5" stroke-linecap="round" opacity="0.85"/>
<path d="M484.7 435.2h0M442.2 403.7h0M467.8 410.9h0M482.6 437.7h0M453.4 459.5h0M485.4 402.0h0M500.6 400.0h0M498.9 446.4h0M511.7 413.8h0M487.4 426.8h0M447.2 428.1h0M466.5 420.8h0M475.9 423.3h0M476.0 438.0h0M445.7 456.0h0M483.7 408.4h0M487.6 461.3h0M479.5 444.9h0M441.9 426.4h0M507.8 448.9h0M462.7 421.7h0M478.4 431.5h0M498.1 439.0h0M441.5 415.8h0M446.2 451.6h0M458.7 453.1h0M461.2 425.9h0M502.8 463.4h0M445.8 427.4h0M451.5 450.8h0M456.1 416.8h0M503.5 408.4h0M481.7 461.3h0M485.4 420.3h0M445.5 448.1h0M495.7 461.3h0M493.9 446.7h0M508.6 401.7h0M458.5 428.3h0" stroke="#fdf8fd" stroke-width="1.5" stroke-linecap="round" opacity="0.9"/>
<path d="M441.4 427.6h0M502.4 424.9h0M488.7 424.3h0M455.6 404.5h0M504.9 454.4h0M472.1 400.8h0M476.0 451.4h0M448.2 437.2h0M454.3 407.7h0M494.2 462.8h0M480.9 457.6h0M450.8 463.5h0M488.9 416.3h0M440.4 399.6h0M467.3 428.0h0M447.5 405.9h0M507.7 403.3h0M497.5 438.6h0M508.5 431.1h0M488.6 403.0h0M490.2 402.5h0M457.2 463.6h0M443.7 400.1h0M441.7 447.4h0M485.7 461.1h0M507.2 414.2h0M451.7 436.1h0M493.9 430.5h0M444.2 426.0h0" stroke="#fdf8fd" stroke-width="1.75" stroke-linecap="round" opacity="0.9"/>
<path d="M481.8 432.3h0M480.0 443.7h0M511.4 452.8h0M475.3 452.1h0M481.1 417.2h0M494.9 409.6h0M508.0 420.4h0M473.6 438.8h0M470.1 462.8h0M474.9 408.0h0M491.9 433.0h0M504.0 445.4h0M463.2 434.4h0M470.7 445.5h0M446.5 423.1h0M491.3 444.2h0M481.0 453.3h0M498.9 449.9h0M471.8 437.4h0M489.9 435.1h0M492.5 457.9h0M496.6 430.8h0M451.4 404.1h0M511.3 444.2h0M450.9 415.7h0M461.1 458.5h0M458.7 454.0h0M506.5 451.9h0M510.3 459.3h0M483.5 419.6h0M512.2 452.0h0M456.2 406.4h0M471.9 406.3h0M448.1 453.8h0M511.4 447.2h0" stroke="#fdf8fd" stroke-width="1.25" stroke-linecap="round" opacity="0.9"/>
<path d="M497.2 423.7h0M491.4 462.2h0M449.0 407.7h0M465.8 414.0h0M494.2 419.9h0M490.9 430.1h0M473.6 406.4h0M475.5 399.6h0M445.8 416.7h0M444.0 448.3h0M463.0 424.6h0M469.2 403.3h0M504.5 435.1h0M497.8 409.0h0M457.1 400.4h0M485.9 426.3h0M473.1 410.9h0M454.3 434.2h0M485.8 404.9h0M486.2 405.4h0M469.6 436.7h0M489.2 457.7h0M506.6 442.0h0M459.0 423.9h0M493.6 434.1h0M484.2 453.4h0M501.3 433.1h0" stroke="#fdf8fd" stroke-width="2.0" stroke-linecap="round" opacity="0.9"/>
<path d="M478.4 418.5h0M458.7 408.5h0M489.2 462.5h0M501.0 420.5h0M485.5 437.3h0M506.4 461.7h0M460.4 406.9h0M481.9 442.6h0M490.8 400.7h0M482.7 434.4h0M477.3 436.6h0M494.0 456.8h0" stroke="#fdf8fd" stroke-width="2.25" stroke-linecap="round" opacity="0.9"/>
<path d="M476.8 454.3h0M444.0 457.4h0M469.0 418.7h0M448.0 431.9h0M508.3 460.5h0M488.0 420.4h0M459.5 434.3h0M440.6 422.6h0M481.9 441.6h0M512.5 428.4h0M484.6 402.7h0M483.0 446.3h0M480.3 434.3h0M489.7 450.4h0M492.8 420.1h0M453.6 407.6h0M502.0 414.9h0M502.8 448.8h0" stroke="#fdf8fd" stroke-width="1.0" stroke-linecap="round" opacity="0.9"/>
</g></g>
<rect x="440" y="457.3" width="73" height="8.2" fill="#eaa4cb"/>
<rect x="440" y="455.6" width="73" height="2.2" fill="#dba6cf" opacity="0.7"/>
<text x="311.50" y="318.50" font-size="8.8" textLength="23.50" lengthAdjust="spacingAndGlyphs" >no NK</text>
<text x="367.40" y="318.10" font-size="8.8" textLength="64.40" lengthAdjust="spacingAndGlyphs" >KHYG1 +STAT5B</text>
<text x="463.00" y="308.00" font-size="8.8" textLength="27.00" lengthAdjust="spacingAndGlyphs" >KHYG1</text>
<text x="449.50" y="318.10" font-size="8.8" textLength="33.90" lengthAdjust="spacingAndGlyphs" >+STAT5B</text>
<text x="483.80" y="315.20" font-size="5.6" textLength="20.00" lengthAdjust="spacingAndGlyphs" >N642H</text>
<text x="340.00" y="394.90" font-size="6.6" textLength="17.90" lengthAdjust="spacingAndGlyphs" >20 μm</text>
<text x="340.00" y="471.70" font-size="6.6" textLength="17.90" lengthAdjust="spacingAndGlyphs" >20 μm</text>
<text x="282.00" y="356.20" font-size="7.8" text-anchor="middle" textLength="17.60" lengthAdjust="spacingAndGlyphs" transform="rotate(-90 282.00 356.20)" >liver</text>
<text x="282.00" y="432.20" font-size="7.8" text-anchor="middle" textLength="12.40" lengthAdjust="spacingAndGlyphs" transform="rotate(-90 282.00 432.20)" >BM</text>
<rect x="0.5" y="0.5" width="519" height="479" fill="none" stroke="#555" stroke-width="1"/>
</svg></body></html>
